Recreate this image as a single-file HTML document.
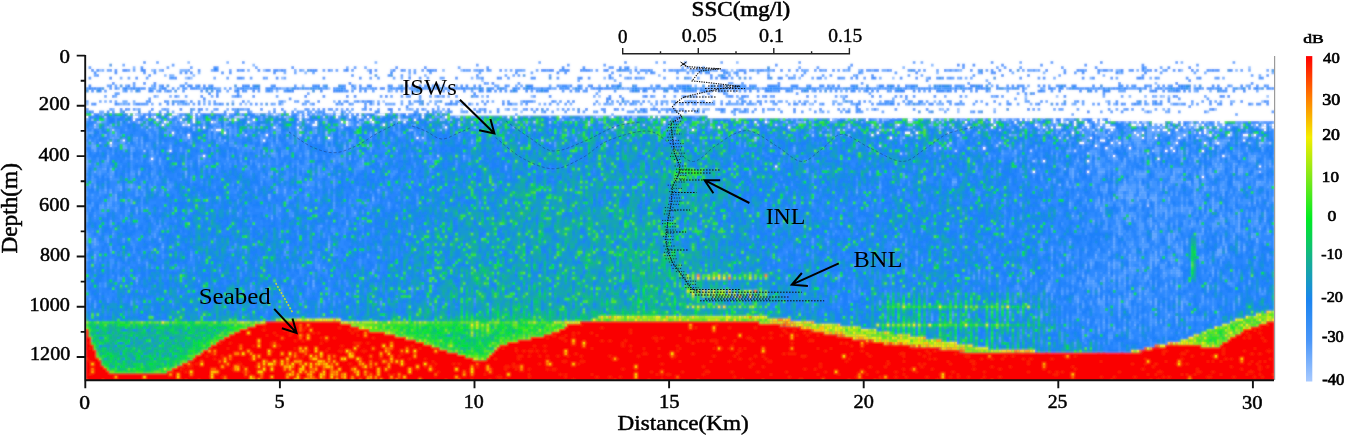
<!DOCTYPE html><html><head><meta charset="utf-8"><style>html,body{margin:0;padding:0;background:#fff;overflow:hidden}svg{display:block}</style></head><body><svg width="1346" height="436" viewBox="0 0 1346 436"><defs><clipPath id="pc"><rect x="86" y="56" width="1188" height="324"/></clipPath><linearGradient id="cb" x1="0" y1="0" x2="0" y2="1"><stop offset="0" stop-color="#ff0000"/><stop offset="0.125" stop-color="#ff7a00"/><stop offset="0.25" stop-color="#f4ee00"/><stop offset="0.375" stop-color="#7ee81a"/><stop offset="0.5" stop-color="#00ec22"/><stop offset="0.625" stop-color="#14b090"/><stop offset="0.75" stop-color="#1a84f0"/><stop offset="0.875" stop-color="#4a96f8"/><stop offset="1" stop-color="#a8caff"/></linearGradient><filter id="gs" x="0" y="0" width="1" height="1"><feOffset dx="0" dy="0"/></filter><filter id="bl" x="0" y="0" width="1" height="1"><feGaussianBlur stdDeviation="0.8" result="b"/><feComposite in="SourceGraphic" in2="b" operator="arithmetic" k1="0" k2="0.45" k3="0.55" k4="0"/></filter></defs><rect width="1346" height="436" fill="#fff"/><g clip-path="url(#pc)"><g filter="url(#bl)"><rect x="86" y="56" width="1188" height="324" fill="#2585fc"/><path d="M86,54V113.20H450.00V115.80H707.40V118.40H1110.40V121.00H1274.20V54Z" fill="#fff"/><path d="M86,382V329.00H88.60V336.80H91.20V344.60H93.80V349.80H96.40V357.60H99.00V360.20H101.60V365.40H104.20V368.00H106.80V370.60H109.40V373.20H166.60V370.60H171.80V368.00H177.00V365.40H182.20V362.80H187.40V360.20H192.60V357.60H195.20V355.00H200.40V352.40H203.00V349.80H208.20V347.20H210.80V344.60H216.00V342.00H218.60V339.40H223.80V336.80H229.00V334.20H234.20V331.60H239.40V329.00H247.20V326.40H255.00V323.80H265.40V321.20H340.80V323.80H351.20V326.40H359.00V329.00H369.40V331.60H385.00V334.20H395.40V336.80H405.80V339.40H416.20V342.00H424.00V344.60H431.80V347.20H439.60V349.80H447.40V352.40H457.80V355.00H465.60V357.60H473.40V360.20H486.40V357.60H489.00V355.00H491.60V352.40H494.20V349.80H496.80V347.20H499.40V344.60H507.20V342.00H517.60V339.40H530.60V336.80H543.60V334.20H551.40V331.60H559.20V329.00H564.40V326.40H567.00V323.80H580.00V321.20H759.40V323.80H780.20V326.40H798.40V329.00H811.40V331.60H824.40V334.20H837.40V336.80H853.00V339.40H866.00V342.00H884.20V344.60H910.20V347.20H936.20V349.80H959.60V352.40H1141.60V349.80H1152.00V347.20H1165.00V344.60H1201.40V347.20H1219.60V344.60H1222.20V342.00H1227.40V339.40H1230.00V336.80H1235.20V334.20H1240.40V331.60H1243.00V329.00H1250.80V326.40H1258.60V323.80H1266.40V321.20H1274.20V382Z" fill="#fa0200"/><g transform="translate(86,56) scale(2.6,2.6)" fill="none" stroke-width="1.04"><g stroke="#ffffff"><path d="M2 22.5h128" stroke-dasharray="1 13 1 1 1 10 1 3 2 6 1 1 1 10 1 17 1 5 1 3 1 1 1 11 2 3 1 1 1 1 1 6 3 8 1 5 1 457"/><path d="M0 23.5h221" stroke-dasharray="1 17 2 3 1 2 1 5 1 4 1 3 1 40 1 1 1 11 1 4 1 3 1 2 1 20 1 8 1 23 1 2 1 16 1 19 1 15 1 1 1 457"/><path d="M18 24.5h376" stroke-dasharray="1 8 1 8 1 4 1 15 1 6 1 17 1 26 1 10 1 5 1 159 1 13 1 15 2 7 1 22 1 10 1 1 1 1 1 8 1 2 1 6 1 4 2 1 1 2 1 457"/><path d="M30 25.5h408" stroke-dasharray="1 10 1 6 1 13 1 25 1 9 1 1 1 9 1 11 1 84 1 14 1 34 1 3 1 76 1 9 1 8 1 14 1 2 1 1 1 2 1 3 1 3 1 1 2 12 1 5 5 3 2 1 1 6 1 5 1 1 2 457"/><path d="M29 26.5h428" stroke-dasharray="1 7 1 1 1 47 2 11 1 13 1 197 1 36 1 15 1 14 1 3 2 4 1 1 2 8 2 1 1 1 1 2 1 1 1 1 1 6 1 3 1 1 1 1 1 4 1 2 1 12 1 2 1 2 1 457"/><path d="M45 27.5h412" stroke-dasharray="1 26 1 8 1 56 1 64 1 39 1 26 1 68 1 8 1 19 1 2 1 1 2 10 1 3 1 2 4 26 1 4 1 4 1 2 1 3 1 12 2 2 1 457"/><path d="M50 28.5h404" stroke-dasharray="2 181 1 160 1 15 1 1 1 1 2 3 1 10 1 22 1 457"/><path d="M33 29.5h398" stroke-dasharray="1 19 1 250 1 10 2 2 1 59 1 23 1 2 1 9 1 11 1 1 1 457"/><path d="M39 30.5h411" stroke-dasharray="1 29 1 232 1 101 1 17 1 9 1 6 1 5 2 2 1 457"/><path d="M93 31.5h328" stroke-dasharray="1 33 1 181 1 76 1 19 1 4 1 8 1 457"/><path d="M14 32.5h432" stroke-dasharray="1 53 1 321 2 53 1 457"/><path d="M9 33.5h427" stroke-dasharray="1 372 2 10 1 2 1 21 1 10 1 4 1 457"/><path d="M388 34.5h1"/><path d="M345 35.5h73" stroke-dasharray="1 46 1 8 1 15 1 457"/><path d="M32 36.5h398" stroke-dasharray="1 382 1 2 1 10 1 457"/><path d="M45 38.5h393" stroke-dasharray="1 349 1 41 1 457"/><path d="M25 39.5h388" stroke-dasharray="1 386 1 457"/><path d="M368 40.5h18" stroke-dasharray="1 16 1 457"/><path d="M265 42.5h187" stroke-dasharray="1 185 1 457"/><path d="M364 44.5h22" stroke-dasharray="1 20 1 457"/><path d="M429 46.5h1"/></g><g stroke="#acccff"><path d="M19 22.5h116" stroke-dasharray="1 1 1 13 1 30 1 2 1 3 1 14 1 5 1 4 1 11 1 8 1 13 1 457"/><path d="M7 23.5h210" stroke-dasharray="1 17 1 31 4 1 1 22 1 5 1 12 1 15 1 22 1 52 1 19 1 457"/><path d="M55 24.5h308" stroke-dasharray="1 51 1 14 2 8 1 94 1 22 1 53 1 26 1 18 1 2 1 8 1 457"/><path d="M20 25.5h411" stroke-dasharray="1 10 1 6 1 10 1 31 1 3 1 86 1 143 2 82 1 1 1 3 2 17 1 4 1 457"/><path d="M3 26.5h450" stroke-dasharray="1 34 1 65 1 38 1 114 1 6 1 36 1 2 1 54 1 43 1 19 1 19 1 7 1 457"/><path d="M43 27.5h402" stroke-dasharray="1 249 1 65 1 6 1 16 1 29 1 3 1 2 1 5 1 3 1 13 1 457"/><path d="M10 28.5h378" stroke-dasharray="1 71 1 206 1 92 1 4 1 457"/><path d="M331 29.5h110" stroke-dasharray="1 56 1 4 1 46 1 457"/><path d="M61 30.5h257" stroke-dasharray="1 20 1 234 1 457"/><path d="M39 31.5h413" stroke-dasharray="1 89 1 127 1 116 1 2 1 49 1 23 1 457"/><path d="M396 32.5h39" stroke-dasharray="1 37 1 457"/><path d="M434 33.5h1"/><path d="M9 34.5h297" stroke-dasharray="1 295 1 457"/><path d="M22 36.5h359" stroke-dasharray="1 311 1 28 1 16 1 457"/><path d="M313 37.5h73" stroke-dasharray="1 71 1 457"/><path d="M451 44.5h1"/><path d="M408 57.5h1"/></g><g stroke="#93c0ff"><path d="M211 4.5h237" stroke-dasharray="1 23 1 211 1 457"/><path d="M5 5.5h417" stroke-dasharray="1 19 1 42 1 39 1 35 1 101 1 1 1 8 1 135 1 27 1 457"/><path d="M262 6.5h1"/><path d="M124 7.5h1"/><path d="M38 8.5h273" stroke-dasharray="1 1 1 34 1 234 1 457"/><path d="M152 9.5h1"/><path d="M286 11.5h19" stroke-dasharray="1 17 1 457"/><path d="M44 12.5h371" stroke-dasharray="1 12 1 35 1 147 1 17 1 23 1 130 1 457"/><path d="M17 13.5h230" stroke-dasharray="1 99 1 128 1 457"/><path d="M27 15.5h428" stroke-dasharray="1 108 1 34 1 25 1 35 1 3 1 53 1 69 1 11 1 40 1 1 1 37 1 457"/><path d="M38 17.5h415" stroke-dasharray="1 17 1 19 1 28 1 8 1 157 1 119 1 59 1 457"/><path d="M36 18.5h382" stroke-dasharray="1 24 1 13 1 34 1 37 1 48 1 39 1 40 1 38 1 99 1 457"/><path d="M218 19.5h1"/><path d="M19 20.5h416" stroke-dasharray="1 124 1 16 1 2 1 72 3 60 1 3 1 24 1 5 1 13 1 84 1 457"/><path d="M138 21.5h294" stroke-dasharray="1 28 1 114 1 52 1 71 1 23 1 457"/><path d="M6 22.5h88" stroke-dasharray="1 58 1 5 1 14 1 3 1 2 1 457"/><path d="M53 23.5h159" stroke-dasharray="2 21 1 4 1 60 1 35 1 12 1 5 1 8 1 3 2 457"/><path d="M2 24.5h355" stroke-dasharray="1 101 1 31 1 87 1 36 1 25 1 8 1 9 1 21 1 5 1 6 1 3 1 6 1 3 1 457"/><path d="M4 25.5h373" stroke-dasharray="2 103 1 7 1 30 1 29 1 14 1 82 1 99 1 457"/><path d="M193 26.5h263" stroke-dasharray="1 20 1 78 1 17 1 20 1 4 1 28 1 6 1 68 1 5 1 6 1 457"/><path d="M3 27.5h422" stroke-dasharray="1 20 1 16 1 56 1 141 1 61 1 25 1 4 1 90 1 457"/><path d="M48 28.5h322" stroke-dasharray="1 202 1 39 1 3 1 9 1 3 1 41 1 17 1 457"/><path d="M92 29.5h335" stroke-dasharray="1 290 1 42 1 457"/><path d="M279 30.5h162" stroke-dasharray="1 55 1 95 1 8 1 457"/><path d="M175 32.5h83" stroke-dasharray="1 81 1 457"/><path d="M332 33.5h124" stroke-dasharray="1 18 1 95 1 3 2 2 1 457"/><path d="M331 34.5h20" stroke-dasharray="1 18 1 457"/><path d="M328 35.5h106" stroke-dasharray="1 104 1 457"/><path d="M410 36.5h1"/><path d="M408 37.5h1"/><path d="M135 38.5h1"/><path d="M364 40.5h1"/></g><g stroke="#7ab4ff"><path d="M39 2.5h212" stroke-dasharray="1 210 1 457"/><path d="M64 3.5h262" stroke-dasharray="1 260 1 457"/><path d="M18 4.5h297" stroke-dasharray="1 295 1 457"/><path d="M28 5.5h415" stroke-dasharray="1 7 3 44 1 33 1 19 1 71 1 22 1 7 1 9 1 12 1 28 1 4 1 35 1 2 1 28 1 24 1 5 1 10 1 34 1 457"/><path d="M43 6.5h355" stroke-dasharray="1 40 1 162 1 79 1 40 1 28 1 457"/><path d="M30 7.5h240" stroke-dasharray="1 2 1 7 1 178 1 48 1 457"/><path d="M148 8.5h239" stroke-dasharray="1 1 2 47 1 74 1 9 1 38 1 62 1 457"/><path d="M411 10.5h1"/><path d="M25 11.5h402" stroke-dasharray="1 57 1 19 1 16 1 13 1 99 1 89 1 101 1 457"/><path d="M75 12.5h369" stroke-dasharray="2 1 1 23 1 5 1 28 1 69 1 111 1 41 1 6 1 40 1 33 1 457"/><path d="M73 13.5h360" stroke-dasharray="1 52 1 152 1 67 1 78 1 5 1 457"/><path d="M125 14.5h1"/><path d="M35 15.5h379" stroke-dasharray="1 23 1 92 1 137 1 110 1 5 1 5 1 457"/><path d="M361 16.5h1"/><path d="M62 17.5h380" stroke-dasharray="1 32 1 14 1 23 1 32 1 39 1 22 1 57 1 2 1 34 1 114 1 457"/><path d="M0 18.5h421" stroke-dasharray="1 12 1 1 1 2 1 67 1 10 1 27 1 18 1 19 1 9 1 25 1 1 1 20 1 27 1 5 1 21 1 10 1 30 1 5 2 50 1 15 1 12 1 11 1 457"/><path d="M10 20.5h405" stroke-dasharray="1 50 1 18 1 42 1 1 1 4 1 34 1 15 1 69 1 26 1 23 1 25 1 85 1 457"/><path d="M95 21.5h315" stroke-dasharray="1 39 1 77 1 13 1 57 1 123 1 457"/><path d="M20 22.5h117" stroke-dasharray="1 38 1 14 1 61 1 457"/><path d="M20 23.5h206" stroke-dasharray="1 14 1 38 1 2 1 92 1 27 1 2 1 6 1 16 1 457"/><path d="M77 24.5h260" stroke-dasharray="1 40 1 2 1 15 1 2 1 10 1 31 1 3 1 22 1 6 1 22 1 26 1 24 1 14 1 28 1 457"/><path d="M16 25.5h436" stroke-dasharray="1 54 1 2 1 17 1 8 1 3 1 37 1 21 1 71 1 2 1 21 1 6 1 3 2 52 1 1 1 43 1 23 1 53 1 457"/><path d="M101 26.5h341" stroke-dasharray="1 3 1 31 1 92 1 22 1 64 1 9 1 29 1 57 1 9 1 1 1 12 1 457"/><path d="M8 27.5h444" stroke-dasharray="1 45 1 94 1 14 1 146 1 4 1 12 1 58 1 27 1 34 1 457"/><path d="M41 28.5h341" stroke-dasharray="1 82 2 10 1 35 1 29 1 115 1 9 1 5 1 21 1 24 1 457"/><path d="M111 29.5h323" stroke-dasharray="1 170 1 83 1 9 1 56 1 457"/><path d="M7 30.5h442" stroke-dasharray="1 25 1 58 1 191 1 1 1 6 1 61 1 23 1 12 1 41 1 13 1 457"/><path d="M226 31.5h168" stroke-dasharray="1 4 1 82 1 78 1 457"/><path d="M53 32.5h387" stroke-dasharray="1 385 1 457"/><path d="M5 33.5h1"/><path d="M451 34.5h1"/><path d="M376 43.5h1"/><path d="M374 49.5h1"/></g><g stroke="#66a9ff"><path d="M54 2.5h368" stroke-dasharray="1 56 1 309 1 457"/><path d="M100 4.5h130" stroke-dasharray="1 128 1 457"/><path d="M6 5.5h442" stroke-dasharray="1 41 1 13 1 11 1 5 1 13 1 54 1 11 1 6 1 25 1 35 1 3 1 26 1 14 2 5 1 18 1 3 2 23 1 3 1 27 1 33 1 6 1 9 1 32 1 457"/><path d="M76 6.5h381" stroke-dasharray="1 47 1 84 1 5 1 42 1 39 1 44 1 12 1 73 1 25 1 457"/><path d="M32 7.5h420" stroke-dasharray="1 97 1 141 1 118 1 59 1 457"/><path d="M13 8.5h425" stroke-dasharray="1 107 1 80 1 4 1 4 1 1 1 17 1 72 1 29 1 2 1 33 1 36 1 27 1 457"/><path d="M203 9.5h144" stroke-dasharray="1 142 1 457"/><path d="M15 11.5h432" stroke-dasharray="1 126 1 15 1 6 1 19 1 11 1 26 1 123 1 13 1 77 1 5 1 457"/><path d="M12 12.5h440" stroke-dasharray="1 3 1 33 2 20 1 66 1 10 1 10 1 17 1 7 1 17 1 3 1 3 1 58 1 9 1 7 1 6 1 1 1 10 1 5 1 8 1 7 1 1 1 17 1 23 1 12 1 15 1 44 1 457"/><path d="M14 13.5h437" stroke-dasharray="1 12 1 2 1 178 1 19 1 60 1 6 1 32 1 23 1 42 3 50 1 457"/><path d="M246 14.5h1"/><path d="M11 15.5h401" stroke-dasharray="1 20 1 23 1 77 1 4 1 9 1 45 1 22 1 27 1 33 1 57 1 10 1 41 1 19 1 457"/><path d="M128 16.5h183" stroke-dasharray="1 122 2 57 1 457"/><path d="M7 17.5h434" stroke-dasharray="1 6 2 2 1 26 1 1 1 64 1 8 1 10 1 2 1 20 1 15 1 43 1 5 1 2 1 7 1 2 1 32 1 6 2 9 1 5 1 11 1 130 1 3 1 457"/><path d="M14 18.5h435" stroke-dasharray="1 10 1 9 1 3 1 5 1 4 1 21 1 11 1 31 2 16 1 30 1 1 1 18 1 14 1 9 1 5 1 15 1 6 1 7 3 13 1 10 1 18 2 19 1 6 1 13 1 26 1 11 1 4 1 44 1 22 1 457"/><path d="M135 19.5h1"/><path d="M29 20.5h265" stroke-dasharray="1 1 1 14 1 7 1 43 1 25 1 12 1 14 1 34 1 27 1 6 1 2 1 28 1 8 1 2 1 26 1 457"/><path d="M5 21.5h411" stroke-dasharray="2 26 1 14 1 14 1 6 1 28 1 1 1 42 1 30 1 50 1 18 1 3 1 4 1 5 1 88 1 65 1 457"/><path d="M5 22.5h198" stroke-dasharray="1 17 1 1 1 14 1 40 1 7 1 2 1 14 1 94 1 457"/><path d="M33 23.5h203" stroke-dasharray="1 9 1 23 1 1 1 36 1 6 1 13 1 9 1 26 1 69 2 457"/><path d="M0 24.5h392" stroke-dasharray="1 6 1 20 1 6 1 14 1 16 1 32 1 170 1 1 1 14 1 19 1 28 1 16 1 2 1 7 1 1 1 8 1 1 2 3 1 7 1 457"/><path d="M13 25.5h440" stroke-dasharray="1 9 1 3 1 6 1 1 2 7 1 4 1 2 2 8 1 133 1 77 1 22 1 5 1 1 1 18 1 14 1 24 1 23 1 9 1 3 1 13 1 6 1 6 1 3 1 6 1 1 1 7 1 457"/><path d="M9 26.5h441" stroke-dasharray="1 13 1 21 1 7 1 10 1 2 1 5 1 23 1 4 1 7 1 15 1 31 1 50 1 12 1 47 1 1 1 6 1 44 2 29 1 30 1 1 2 9 1 8 1 2 1 11 1 7 1 3 2 12 1 457"/><path d="M4 27.5h446" stroke-dasharray="1 4 1 11 1 4 1 22 1 3 1 8 1 1 1 8 1 9 1 53 1 73 1 17 1 22 1 64 1 4 1 38 1 7 1 38 4 2 1 22 1 11 1 457"/><path d="M23 28.5h424" stroke-dasharray="1 25 1 3 1 1 1 17 2 6 1 6 1 166 1 23 1 5 1 53 1 3 1 2 1 20 1 11 1 6 1 2 1 1 1 3 1 12 2 1 1 13 1 5 1 2 2 10 1 457"/><path d="M1 29.5h431" stroke-dasharray="2 8 1 37 1 5 1 4 1 5 1 14 1 6 1 37 1 246 1 1 1 10 1 2 1 1 1 12 2 2 2 1 2 6 2 2 1 7 1 457"/><path d="M11 30.5h413" stroke-dasharray="1 69 1 27 1 16 1 116 1 113 1 17 1 15 1 10 2 1 1 2 2 1 1 8 2 1 1 457"/><path d="M10 31.5h444" stroke-dasharray="1 8 1 31 1 15 1 9 1 3 1 4 1 2 1 4 1 113 1 110 1 65 1 13 1 2 4 2 2 9 1 1 1 1 1 21 1 7 1 457"/><path d="M1 32.5h453" stroke-dasharray="1 11 1 7 1 29 1 15 1 5 1 15 1 58 1 39 1 37 1 86 1 69 2 3 1 6 1 3 2 2 3 2 1 1 1 6 1 1 1 3 1 13 2 14 1 457"/><path d="M2 33.5h436" stroke-dasharray="1 18 1 5 1 120 1 17 1 11 1 206 1 2 1 6 1 3 2 3 2 3 1 8 1 12 1 1 1 2 2 457"/><path d="M2 34.5h435" stroke-dasharray="2 10 1 8 1 8 1 24 1 13 1 27 1 1 1 6 1 91 1 62 1 95 1 29 1 5 1 1 1 6 1 13 1 12 1 4 1 457"/><path d="M2 35.5h451" stroke-dasharray="2 10 2 1 1 14 1 66 1 172 1 53 1 84 2 23 1 9 1 5 1 457"/><path d="M3 36.5h421" stroke-dasharray="1 13 1 7 1 246 1 53 1 30 1 19 2 15 1 9 1 6 2 8 1 1 1 457"/><path d="M25 37.5h419" stroke-dasharray="1 42 1 2 2 12 1 229 1 36 1 4 1 28 1 1 1 12 1 1 2 7 1 8 1 1 1 4 1 14 1 457"/><path d="M8 38.5h442" stroke-dasharray="1 8 1 127 1 242 1 4 1 7 1 2 1 23 1 10 1 3 1 5 1 457"/><path d="M8 39.5h442" stroke-dasharray="1 8 1 83 1 293 2 2 1 21 1 4 2 7 1 12 2 457"/><path d="M0 40.5h450" stroke-dasharray="1 7 1 19 1 14 1 51 1 10 1 250 1 23 1 6 1 10 1 21 1 4 1 22 1 457"/><path d="M0 41.5h456" stroke-dasharray="1 387 2 9 1 9 1 17 1 6 1 1 1 4 1 13 1 457"/><path d="M0 42.5h456" stroke-dasharray="1 65 1 94 1 227 1 8 1 30 1 4 1 1 1 4 1 11 1 1 1 457"/><path d="M7 43.5h438" stroke-dasharray="1 1 1 369 1 49 1 2 1 2 2 4 1 1 2 457"/><path d="M3 44.5h442" stroke-dasharray="1 6 1 9 1 17 1 340 1 9 3 5 1 5 1 3 1 10 1 1 1 8 1 2 1 2 1 5 1 1 2 457"/><path d="M20 45.5h424" stroke-dasharray="1 17 1 340 1 17 1 5 1 1 3 10 1 10 1 2 2 9 1 457"/><path d="M9 46.5h425" stroke-dasharray="1 369 1 37 2 7 1 6 1 457"/><path d="M372 47.5h58" stroke-dasharray="1 44 2 2 1 4 2 1 1 457"/><path d="M333 48.5h119" stroke-dasharray="2 42 1 21 1 5 1 11 1 5 2 1 2 13 1 8 2 457"/><path d="M17 49.5h434" stroke-dasharray="1 67 1 291 1 14 1 6 1 5 1 7 1 10 1 2 1 15 1 6 1 457"/><path d="M3 50.5h441" stroke-dasharray="1 9 1 3 1 374 1 5 2 5 2 6 1 1 1 11 1 2 1 2 1 9 1 457"/><path d="M7 51.5h437" stroke-dasharray="1 5 1 12 1 46 1 2 1 35 1 279 1 4 3 1 1 4 1 8 1 14 1 2 1 3 1 5 1 457"/><path d="M9 52.5h429" stroke-dasharray="1 63 1 2 1 219 1 100 1 3 2 2 3 18 1 10 1 457"/><path d="M11 53.5h427" stroke-dasharray="1 58 1 310 1 15 2 2 2 2 1 1 1 3 1 14 1 10 1 457"/><path d="M11 54.5h406" stroke-dasharray="1 58 1 39 1 284 1 2 1 1 3 1 1 2 1 1 3 4 1 457"/><path d="M11 55.5h423" stroke-dasharray="1 98 1 278 1 1 1 3 1 5 1 2 1 3 1 1 2 4 1 16 1 457"/><path d="M378 56.5h72" stroke-dasharray="1 10 1 11 2 5 1 2 1 15 1 5 1 13 1 1 1 457"/><path d="M6 57.5h430" stroke-dasharray="1 1 1 369 1 9 1 16 1 5 1 1 1 7 1 5 1 1 1 3 1 1 1 457"/><path d="M390 58.5h44" stroke-dasharray="1 7 1 12 1 1 1 7 1 7 1 3 1 457"/><path d="M19 59.5h415" stroke-dasharray="1 370 1 7 1 12 1 3 1 1 1 3 1 2 1 8 1 457"/><path d="M103 60.5h351" stroke-dasharray="1 307 1 3 1 1 1 6 1 18 1 9 1 457"/><path d="M379 61.5h75" stroke-dasharray="1 11 1 9 1 9 1 3 1 20 1 6 1 9 1 457"/><path d="M71 62.5h383" stroke-dasharray="1 324 1 4 1 1 1 5 1 5 1 20 2 5 1 9 1 457"/><path d="M387 63.5h67" stroke-dasharray="1 12 2 7 1 27 1 5 1 6 1 2 1 457"/><path d="M100 64.5h344" stroke-dasharray="1 308 1 3 1 11 1 11 1 5 1 457"/><path d="M397 65.5h47" stroke-dasharray="1 11 1 1 1 31 1 457"/><path d="M397 66.5h55" stroke-dasharray="1 13 1 17 1 13 1 7 1 457"/><path d="M397 67.5h58" stroke-dasharray="1 12 1 18 1 13 1 10 1 457"/><path d="M0 68.5h419" stroke-dasharray="1 396 1 12 2 4 1 1 1 457"/><path d="M0 69.5h449" stroke-dasharray="1 409 2 4 1 1 1 22 1 6 1 457"/><path d="M3 70.5h448" stroke-dasharray="1 24 1 366 1 10 1 3 1 5 1 20 1 12 1 457"/><path d="M3 71.5h448" stroke-dasharray="1 374 1 16 1 10 1 9 1 6 1 13 1 12 1 457"/><path d="M3 72.5h435" stroke-dasharray="1 89 1 301 1 6 1 13 1 2 1 8 1 8 1 457"/><path d="M29 73.5h417" stroke-dasharray="1 63 1 301 1 23 1 18 1 4 1 1 1 457"/><path d="M0 74.5h446" stroke-dasharray="1 370 1 34 1 14 1 13 2 1 1 6 1 457"/><path d="M393 75.5h46" stroke-dasharray="1 5 1 11 1 1 1 7 1 13 2 1 1 457"/><path d="M3 76.5h433" stroke-dasharray="1 384 1 12 1 9 1 23 1 457"/><path d="M3 77.5h427" stroke-dasharray="1 373 1 10 1 12 1 1 1 5 1 1 1 5 1 11 1 457"/><path d="M377 78.5h41" stroke-dasharray="1 23 1 1 1 5 1 1 2 4 1 457"/><path d="M386 79.5h35" stroke-dasharray="1 6 1 1 1 13 1 1 1 8 1 457"/><path d="M384 80.5h26" stroke-dasharray="1 1 1 6 1 1 1 1 1 11 1 457"/><path d="M371 81.5h48" stroke-dasharray="1 23 1 5 1 4 1 2 1 8 1 457"/><path d="M343 82.5h91" stroke-dasharray="1 55 1 2 1 14 1 1 2 12 1 457"/><path d="M393 83.5h41" stroke-dasharray="1 5 1 14 1 2 1 1 2 12 1 457"/><path d="M363 84.5h58" stroke-dasharray="1 19 1 11 1 12 1 11 1 457"/><path d="M269 85.5h139" stroke-dasharray="1 115 1 5 1 3 1 1 1 9 1 457"/><path d="M19 86.5h379" stroke-dasharray="1 67 1 297 1 1 1 3 1 5 1 457"/><path d="M87 87.5h361" stroke-dasharray="1 282 1 11 1 2 1 1 1 11 1 17 1 29 1 457"/><path d="M87 88.5h345" stroke-dasharray="1 282 1 44 1 3 1 11 1 457"/><path d="M369 89.5h63" stroke-dasharray="1 19 1 15 1 13 1 11 1 457"/><path d="M369 90.5h37" stroke-dasharray="1 19 1 15 1 457"/><path d="M401 91.5h7" stroke-dasharray="1 5 1 457"/><path d="M69 92.5h361" stroke-dasharray="1 321 1 9 1 27 1 457"/><path d="M381 93.5h63" stroke-dasharray="1 7 1 1 1 5 1 3 1 3 1 5 1 7 1 23 1 457"/><path d="M67 94.5h355" stroke-dasharray="1 313 1 7 1 7 1 2 1 8 1 1 1 7 1 1 1 457"/><path d="M397 95.5h25" stroke-dasharray="1 2 1 10 1 9 1 457"/><path d="M397 96.5h25" stroke-dasharray="1 23 1 457"/><path d="M397 97.5h25" stroke-dasharray="1 23 1 457"/><path d="M411 98.5h1"/><path d="M367 99.5h50" stroke-dasharray="1 29 1 18 1 457"/><path d="M367 100.5h53" stroke-dasharray="1 51 1 457"/><path d="M419 101.5h1"/><path d="M385 102.5h35" stroke-dasharray="1 5 1 19 1 1 1 5 1 457"/><path d="M403 103.5h1"/><path d="M395 104.5h5" stroke-dasharray="1 3 1 457"/><path d="M383 105.5h7" stroke-dasharray="1 5 1 457"/></g><g stroke="#529eff"><path d="M174 2.5h186" stroke-dasharray="1 44 1 101 1 37 1 457"/><path d="M14 3.5h1"/><path d="M31 4.5h383" stroke-dasharray="1 33 1 41 1 35 1 93 1 36 1 75 1 56 1 5 1 457"/><path d="M8 5.5h447" stroke-dasharray="1 7 1 1 1 7 1 12 1 15 1 3 1 64 1 1 1 19 1 3 1 4 1 7 1 1 3 5 1 34 1 6 1 1 1 8 1 1 2 11 1 11 1 21 1 15 1 1 1 33 1 32 1 5 1 17 1 69 1 457"/><path d="M80 6.5h347" stroke-dasharray="1 6 1 63 1 19 1 61 1 15 1 148 1 27 1 457"/><path d="M3 7.5h372" stroke-dasharray="1 160 1 40 1 37 1 1 1 4 1 44 1 25 1 52 1 457"/><path d="M16 8.5h419" stroke-dasharray="1 32 1 10 1 8 1 6 1 41 1 17 2 71 1 25 1 36 1 6 1 10 2 39 1 1 1 6 1 55 1 15 1 21 1 457"/><path d="M189 9.5h1"/><path d="M38 10.5h310" stroke-dasharray="1 115 1 50 1 42 1 98 1 457"/><path d="M8 11.5h447" stroke-dasharray="1 2 1 6 1 9 1 128 1 4 1 4 1 10 1 3 1 7 1 12 1 13 1 34 1 63 1 20 1 32 1 29 1 7 1 3 1 3 1 30 1 6 1 457"/><path d="M25 12.5h410" stroke-dasharray="2 1 1 6 1 7 1 9 1 7 2 19 1 8 1 14 1 2 1 6 1 8 1 6 2 39 2 1 1 3 1 13 1 8 1 4 1 9 1 1 1 6 1 7 1 1 3 6 1 11 1 16 2 7 1 2 1 6 1 7 1 1 1 1 1 1 1 5 1 14 1 25 1 11 1 18 1 1 1 3 1 5 1 2 3 30 1 457"/><path d="M54 13.5h383" stroke-dasharray="1 16 1 27 1 10 1 5 1 2 1 28 1 39 1 8 1 46 2 18 2 5 1 20 1 6 1 9 1 12 1 94 1 9 1 8 1 457"/><path d="M11 14.5h348" stroke-dasharray="2 72 1 110 1 104 1 56 1 457"/><path d="M7 15.5h424" stroke-dasharray="1 18 1 11 1 9 1 24 1 43 1 111 1 10 1 9 1 3 1 8 1 66 1 17 1 49 1 11 1 19 1 457"/><path d="M291 16.5h67" stroke-dasharray="1 23 1 41 1 457"/><path d="M0 17.5h435" stroke-dasharray="1 4 1 5 1 22 2 38 1 5 1 3 1 14 1 3 1 3 1 18 1 53 1 27 1 2 1 7 1 1 1 1 1 7 1 9 1 2 1 5 1 12 1 2 2 33 1 7 1 34 1 9 1 6 1 7 1 10 1 12 1 40 1 457"/><path d="M23 18.5h399" stroke-dasharray="1 13 1 9 1 11 1 7 1 3 1 30 1 12 1 2 1 2 1 2 1 3 1 2 1 9 1 34 1 4 1 17 1 7 1 2 1 2 1 14 1 7 1 2 1 7 1 7 2 25 1 4 1 1 1 18 1 10 1 9 1 28 1 6 1 17 1 21 1 6 1 8 1 457"/><path d="M9 20.5h408" stroke-dasharray="1 10 1 20 1 7 1 7 1 1 2 11 1 12 1 3 1 12 1 3 1 5 1 22 1 32 1 42 1 9 1 1 1 9 1 8 1 7 1 11 1 28 1 39 1 34 1 5 1 1 2 5 1 14 1 2 1 6 1 4 1 4 1 457"/><path d="M13 21.5h404" stroke-dasharray="1 29 1 38 2 2 1 1 1 47 1 8 1 9 1 23 1 15 1 12 2 41 1 31 1 6 1 6 2 7 1 17 1 5 1 9 1 49 1 25 1 457"/><path d="M26 22.5h354" stroke-dasharray="1 10 1 14 1 2 2 13 1 16 1 12 1 1 1 14 1 6 2 1 1 37 1 83 1 129 1 457"/><path d="M15 23.5h181" stroke-dasharray="1 15 1 4 1 1 1 11 1 21 1 5 1 4 1 13 1 2 1 25 1 7 2 24 1 23 1 5 1 4 1 457"/><path d="M22 24.5h319" stroke-dasharray="1 9 1 11 1 17 1 21 1 6 2 4 1 21 1 62 1 8 1 28 1 12 1 4 1 39 2 23 1 14 1 7 1 2 1 10 1 457"/><path d="M6 25.5h451" stroke-dasharray="2 11 1 1 1 7 1 14 1 19 1 17 1 1 1 12 1 4 1 3 1 12 1 19 1 19 1 38 1 18 1 69 2 57 1 2 1 4 1 16 1 36 1 18 1 15 1 10 1 1 1 457"/><path d="M4 26.5h440" stroke-dasharray="1 6 1 1 1 8 1 7 1 3 1 15 2 9 1 6 1 13 1 15 1 14 1 6 1 31 1 16 1 54 1 118 1 26 2 19 1 40 1 7 1 2 1 457"/><path d="M7 27.5h449" stroke-dasharray="1 24 1 6 1 11 1 3 1 1 1 8 1 7 1 12 1 9 1 20 1 1 1 97 1 2 1 17 1 114 1 12 1 7 1 2 1 5 1 1 1 4 1 8 1 4 1 17 1 1 1 10 1 18 1 457"/><path d="M2 28.5h454" stroke-dasharray="1 6 1 5 1 10 2 3 2 14 1 9 1 29 1 30 1 19 1 92 1 30 1 110 2 10 1 13 1 1 1 2 2 16 2 8 1 4 1 17 1 457"/><path d="M0 29.5h447" stroke-dasharray="1 8 1 14 1 2 1 2 2 4 1 10 1 9 1 15 2 2 1 7 1 1 1 9 1 11 1 10 1 9 1 31 1 37 1 77 1 22 1 40 1 17 1 6 2 2 1 18 1 3 1 1 1 5 1 7 1 10 2 2 1 20 1 457"/><path d="M0 30.5h429" stroke-dasharray="1 8 1 14 1 12 1 9 1 1 1 5 1 1 1 9 1 5 1 20 1 5 1 2 1 16 1 9 1 210 1 14 1 27 1 4 2 5 1 22 1 8 1 457"/><path d="M9 31.5h441" stroke-dasharray="1 1 2 5 1 2 1 15 2 8 1 1 1 23 1 10 1 15 1 8 1 7 1 12 1 12 1 169 1 17 1 4 1 16 1 30 1 5 2 3 1 17 1 14 2 16 1 2 1 457"/><path d="M8 32.5h429" stroke-dasharray="1 1 1 7 2 7 1 10 1 1 1 38 1 13 2 2 1 4 1 25 1 1 1 205 1 60 1 4 1 6 1 19 1 3 1 1 2 457"/><path d="M13 33.5h442" stroke-dasharray="2 1 1 2 1 9 1 10 1 9 1 1 1 2 2 10 1 3 1 1 1 5 1 12 1 8 2 77 1 52 1 54 1 24 1 64 1 5 1 4 1 6 1 4 1 1 1 4 1 8 1 11 1 8 1 4 1 9 2 457"/><path d="M10 34.5h428" stroke-dasharray="2 3 1 5 1 59 1 10 1 87 1 72 1 111 1 17 1 12 1 2 1 1 1 3 3 1 1 1 1 17 1 3 1 3 1 457"/><path d="M18 35.5h406" stroke-dasharray="1 2 1 14 1 7 1 13 1 4 1 16 1 12 1 1 1 5 1 7 1 17 1 227 1 3 1 5 1 12 1 4 1 5 1 3 1 10 1 1 1 8 1 2 1 4 1 457"/><path d="M31 36.5h422" stroke-dasharray="1 4 1 31 1 3 1 4 1 7 1 7 1 1 1 3 1 4 1 4 1 9 1 117 1 114 1 33 3 3 2 7 1 4 1 10 1 2 1 14 1 5 1 1 1 2 1 5 1 457"/><path d="M0 37.5h448" stroke-dasharray="1 9 1 6 1 9 1 10 1 36 1 1 1 6 1 14 1 4 1 162 1 103 1 1 1 3 1 9 1 5 2 7 1 3 1 4 1 5 1 2 1 17 1 5 1 2 1 457"/><path d="M25 38.5h424" stroke-dasharray="1 17 2 14 1 6 1 5 1 2 1 6 1 2 1 2 1 10 1 1 1 23 1 221 1 25 1 12 1 2 1 12 1 4 1 4 1 8 1 3 2 4 1 3 1 2 1 8 2 457"/><path d="M0 39.5h454" stroke-dasharray="1 27 1 14 1 1 1 8 1 40 1 1 1 8 1 25 1 12 1 102 1 98 1 9 1 1 1 21 1 4 1 1 1 13 1 4 1 23 1 7 1 3 1 3 1 5 1 457"/><path d="M7 40.5h449" stroke-dasharray="1 16 2 33 1 3 1 33 1 254 1 12 1 23 1 5 1 13 1 23 1 1 1 11 2 4 1 1 1 457"/><path d="M1 41.5h453" stroke-dasharray="1 5 1 17 1 2 1 11 1 2 1 22 1 1 1 1 1 10 1 3 1 20 1 6 1 28 1 237 1 4 1 12 1 13 1 20 1 8 1 10 1 457"/><path d="M7 42.5h438" stroke-dasharray="1 30 1 37 1 12 1 15 2 235 1 19 1 12 1 10 1 1 1 4 1 3 1 1 1 7 1 1 1 2 1 22 1 1 1 6 1 457"/><path d="M0 43.5h454" stroke-dasharray="1 5 1 76 1 5 1 4 1 37 1 28 1 103 1 11 1 64 1 8 1 26 1 7 1 2 3 1 1 1 1 1 1 17 1 2 4 2 1 12 1 15 1 457"/><path d="M5 44.5h446" stroke-dasharray="1 3 1 7 1 53 1 17 1 165 1 21 1 23 1 76 1 26 1 5 1 1 1 1 1 3 1 1 1 1 1 4 1 2 1 14 1 2 2 457"/><path d="M5 45.5h445" stroke-dasharray="1 3 2 6 2 6 1 44 2 1 1 13 1 1 1 1 1 5 1 157 1 45 1 12 1 63 1 2 1 3 1 3 2 13 1 7 3 11 1 1 1 15 1 4 1 457"/><path d="M2 46.5h452" stroke-dasharray="1 24 1 10 1 29 1 24 1 220 1 45 1 6 1 21 1 5 1 6 1 1 4 4 1 8 1 26 1 4 1 457"/><path d="M2 47.5h452" stroke-dasharray="1 6 1 17 1 54 1 12 1 237 2 32 1 11 1 7 1 1 1 5 1 3 1 1 2 2 1 14 1 9 1 7 1 2 1 4 1 6 1 457"/><path d="M2 48.5h454" stroke-dasharray="1 28 1 35 1 17 1 9 1 276 1 36 1 3 1 4 4 7 2 6 1 4 2 2 1 5 2 1 1 457"/><path d="M1 49.5h455" stroke-dasharray="1 1 1 8 1 19 1 56 1 5 1 209 1 27 1 53 1 7 1 4 1 1 2 5 1 6 1 3 1 5 1 9 2 3 2 1 1 6 2 2 1 457"/><path d="M7 50.5h448" stroke-dasharray="1 4 1 3 1 8 1 6 1 40 1 231 1 63 1 8 1 1 1 6 1 2 1 4 1 1 1 2 4 16 1 5 1 4 1 4 1 13 1 3 1 457"/><path d="M9 51.5h428" stroke-dasharray="1 9 1 1 1 9 1 33 1 38 1 191 1 93 2 8 1 1 2 1 1 7 1 12 1 9 1 457"/><path d="M5 52.5h436" stroke-dasharray="1 1 1 11 1 2 1 6 1 82 1 2 1 196 1 78 2 5 1 4 1 7 1 5 1 1 1 9 1 10 1 457"/><path d="M2 53.5h452" stroke-dasharray="1 16 1 2 1 61 1 311 1 3 1 5 1 2 2 6 1 1 1 8 1 24 1 457"/><path d="M9 54.5h448" stroke-dasharray="1 117 1 261 1 7 1 7 2 7 1 6 1 4 1 1 1 4 1 7 1 7 1 1 1 1 1 2 1 457"/><path d="M9 55.5h448" stroke-dasharray="1 7 1 59 1 306 1 15 1 20 1 1 1 2 2 13 1 1 1 5 1 1 1 4 1 457"/><path d="M2 56.5h453" stroke-dasharray="1 5 2 5 1 1 1 77 1 11 1 8 1 242 1 28 1 2 1 1 1 3 1 7 1 10 1 9 1 2 1 5 1 18 1 457"/><path d="M2 57.5h453" stroke-dasharray="1 2 1 3 1 85 1 20 1 242 1 7 2 16 1 3 1 1 1 5 2 2 1 15 1 5 1 10 1 2 1 3 1 5 1 6 1 457"/><path d="M1 58.5h441" stroke-dasharray="1 3 2 1 1 2 1 7 1 1 1 1 1 71 1 282 1 9 1 2 1 13 1 8 2 1 1 1 1 2 4 8 2 1 1 3 1 457"/><path d="M11 59.5h443" stroke-dasharray="1 4 1 38 1 18 1 316 1 20 3 4 1 2 1 6 1 1 1 10 1 7 1 2 1 457"/><path d="M19 60.5h432" stroke-dasharray="1 38 1 332 1 6 2 1 2 6 1 3 1 13 1 3 1 4 1 2 1 6 1 1 1 1 1 457"/><path d="M0 61.5h451" stroke-dasharray="1 2 1 67 1 7 1 301 1 14 1 1 2 2 2 13 1 12 1 8 1 1 1 4 1 1 1 1 1 457"/><path d="M0 62.5h451" stroke-dasharray="1 358 1 21 1 9 2 7 1 4 1 24 1 9 2 8 1 457"/><path d="M0 63.5h450" stroke-dasharray="1 8 1 90 1 291 1 3 2 7 1 2 1 10 1 2 1 2 1 2 1 5 3 4 1 7 1 457"/><path d="M9 64.5h442" stroke-dasharray="1 377 1 4 1 3 2 7 2 7 1 2 1 1 1 2 1 3 1 1 1 4 2 6 1 7 2 457"/><path d="M19 65.5h433" stroke-dasharray="1 8 1 61 1 34 1 266 1 12 2 6 2 2 1 6 2 7 3 1 2 9 1 2 1 457"/><path d="M27 66.5h428" stroke-dasharray="1 97 1 245 1 19 2 12 2 26 1 8 1 11 1 457"/><path d="M0 67.5h446" stroke-dasharray="1 320 1 83 1 5 1 7 1 13 1 8 1 2 1 457"/><path d="M10 68.5h445" stroke-dasharray="1 15 1 371 1 6 1 13 1 7 3 11 1 3 1 2 2 4 1 457"/><path d="M26 69.5h424" stroke-dasharray="1 286 1 59 1 21 1 32 1 8 1 11 1 457"/><path d="M0 70.5h442" stroke-dasharray="1 7 1 5 1 264 1 88 1 42 1 6 1 4 1 4 1 6 1 5 1 457"/><path d="M2 71.5h452" stroke-dasharray="1 5 1 84 1 185 1 5 1 116 1 8 1 5 1 3 1 6 1 14 1 9 1 457"/><path d="M4 72.5h442" stroke-dasharray="1 24 1 27 1 309 1 10 1 22 1 3 4 12 1 1 1 14 1 4 1 1 1 457"/><path d="M0 73.5h437" stroke-dasharray="1 8 1 67 1 34 1 254 1 3 1 29 1 4 3 9 1 2 1 14 1 457"/><path d="M9 74.5h441" stroke-dasharray="1 103 1 201 1 68 1 4 1 5 1 3 1 2 2 9 1 5 2 22 1 5 1 457"/><path d="M0 75.5h450" stroke-dasharray="1 75 1 200 1 19 1 21 1 51 1 12 1 17 2 2 1 12 2 28 1 457"/><path d="M40 76.5h415" stroke-dasharray="1 67 1 210 1 57 2 14 1 15 1 3 1 3 1 3 1 7 1 4 1 1 1 17 1 457"/><path d="M15 77.5h440" stroke-dasharray="1 355 1 33 1 4 1 5 1 11 1 8 1 16 1 457"/><path d="M0 78.5h437" stroke-dasharray="1 2 1 16 1 288 1 5 1 70 1 4 1 3 1 6 1 7 1 7 1 1 1 7 2 6 1 457"/><path d="M23 79.5h414" stroke-dasharray="1 282 1 2 1 9 1 59 1 7 1 8 2 3 1 3 1 9 1 1 1 3 1 10 1 3 1 457"/><path d="M23 80.5h398" stroke-dasharray="1 65 1 205 1 10 1 40 1 53 1 3 1 5 1 1 2 5 1 457"/><path d="M29 81.5h405" stroke-dasharray="1 59 1 1 1 255 1 36 1 1 1 6 1 3 1 1 1 2 2 9 2 4 1 13 1 457"/><path d="M51 82.5h368" stroke-dasharray="1 58 1 250 1 9 1 21 1 7 1 1 1 2 1 2 1 4 1 3 1 457"/><path d="M110 83.5h326" stroke-dasharray="1 232 1 17 1 1 1 17 1 1 1 4 1 13 1 2 1 2 1 6 1 2 1 2 1 13 1 457"/><path d="M289 84.5h145" stroke-dasharray="1 51 1 43 1 2 1 4 1 3 3 7 1 6 2 3 1 13 1 457"/><path d="M12 85.5h426" stroke-dasharray="1 6 1 269 1 51 1 3 1 12 1 12 1 22 1 4 1 8 1 5 1 22 1 457"/><path d="M43 86.5h405" stroke-dasharray="1 35 1 267 1 13 1 5 1 11 1 6 1 3 1 4 1 3 1 1 1 5 1 1 1 7 1 14 1 14 1 457"/><path d="M7 87.5h434" stroke-dasharray="1 71 1 271 1 27 1 4 1 1 1 1 1 2 1 5 1 3 1 7 1 1 1 3 1 3 1 19 2 457"/><path d="M7 88.5h405" stroke-dasharray="1 55 1 294 1 10 1 12 1 4 2 2 1 5 1 1 1 5 1 5 1 457"/><path d="M67 89.5h385" stroke-dasharray="1 57 1 232 1 11 1 14 1 1 1 3 1 3 1 12 1 4 1 1 1 19 1 15 1 457"/><path d="M297 90.5h157" stroke-dasharray="1 61 1 12 1 2 1 1 1 9 1 19 2 4 1 17 1 19 1 1 1 457"/><path d="M359 91.5h94" stroke-dasharray="1 11 1 3 1 11 1 1 1 9 1 5 1 18 1 27 1 457"/><path d="M82 92.5h362" stroke-dasharray="1 288 1 8 2 11 1 3 1 4 1 2 1 11 1 1 1 23 1 457"/><path d="M1 93.5h437" stroke-dasharray="1 67 1 301 1 8 1 12 1 1 1 4 1 7 1 8 1 4 1 6 1 7 1 457"/><path d="M17 94.5h427" stroke-dasharray="1 95 1 191 1 51 1 28 1 3 2 3 1 12 1 13 2 5 1 1 1 11 1 457"/><path d="M3 95.5h439" stroke-dasharray="1 13 1 95 1 191 1 77 1 2 1 2 3 7 1 9 1 9 1 3 1 17 1 457"/><path d="M3 96.5h439" stroke-dasharray="1 379 1 7 1 8 2 9 1 1 1 5 1 13 1 7 1 457"/><path d="M381 97.5h61" stroke-dasharray="1 19 1 13 1 3 1 13 1 7 1 457"/><path d="M355 98.5h81" stroke-dasharray="1 3 1 7 1 13 1 15 1 3 1 13 1 3 1 15 1 457"/><path d="M333 99.5h77" stroke-dasharray="1 5 1 67 1 1 1 457"/><path d="M325 100.5h105" stroke-dasharray="1 13 1 25 1 11 1 19 1 7 1 3 1 6 1 6 1 1 1 3 1 457"/><path d="M325 101.5h107" stroke-dasharray="1 27 1 29 1 1 1 5 1 7 1 9 1 1 1 1 1 1 1 7 1 1 1 3 1 1 1 457"/><path d="M388 102.5h22" stroke-dasharray="1 12 1 1 1 5 1 457"/><path d="M391 103.5h21" stroke-dasharray="1 1 1 15 1 1 1 457"/><path d="M377 104.5h47" stroke-dasharray="1 11 1 1 1 1 1 11 1 9 1 7 1 457"/><path d="M369 105.5h55" stroke-dasharray="1 25 1 1 1 1 1 5 1 9 1 7 1 457"/><path d="M383 106.5h19" stroke-dasharray="1 5 1 11 1 457"/><path d="M383 107.5h19" stroke-dasharray="1 1 1 7 2 6 1 457"/><path d="M351 108.5h51" stroke-dasharray="1 31 1 9 2 6 1 457"/><path d="M351 109.5h1"/><path d="M380 110.5h1"/></g><g stroke="#4094fe"><path d="M27 2.5h415" stroke-dasharray="1 194 1 7 1 13 1 29 1 43 1 122 1 457"/><path d="M33 3.5h395" stroke-dasharray="1 116 1 34 1 13 1 227 1 457"/><path d="M1 4.5h375" stroke-dasharray="1 38 1 9 1 52 1 50 1 46 1 5 1 23 1 49 1 11 1 43 1 15 1 5 1 15 1 457"/><path d="M9 5.5h436" stroke-dasharray="1 19 1 46 1 5 1 8 1 4 1 2 1 2 1 19 1 6 1 3 1 11 1 1 1 3 1 2 1 22 1 5 2 6 1 4 1 7 1 1 2 5 2 9 2 7 1 5 1 2 1 15 1 1 1 1 1 7 1 9 1 3 1 4 1 8 1 1 2 7 1 6 1 3 1 1 1 11 1 8 1 2 1 15 1 1 1 11 1 5 2 10 1 6 1 6 1 6 1 11 1 4 1 1 1 9 1 457"/><path d="M36 6.5h378" stroke-dasharray="1 89 1 5 1 79 1 5 1 8 1 17 1 4 1 25 1 34 1 68 1 8 1 23 1 457"/><path d="M121 7.5h328" stroke-dasharray="1 39 1 4 1 11 1 68 1 14 1 20 1 12 1 19 1 89 1 41 1 457"/><path d="M23 8.5h430" stroke-dasharray="1 8 2 5 1 14 1 8 1 4 1 40 1 2 1 18 1 30 1 26 1 18 1 4 1 8 1 4 1 3 1 16 1 6 1 15 1 27 1 36 1 29 1 44 1 15 1 7 1 15 2 457"/><path d="M323 9.5h1"/><path d="M18 10.5h380" stroke-dasharray="1 134 1 12 1 80 1 4 1 45 1 40 1 57 1 457"/><path d="M9 11.5h431" stroke-dasharray="1 16 1 9 1 5 1 4 1 23 1 8 1 10 1 6 2 17 1 13 1 1 1 77 1 7 1 5 1 2 1 3 1 18 1 4 2 7 1 11 1 49 1 6 3 17 1 4 2 12 2 23 1 3 1 36 1 457"/><path d="M0 12.5h456" stroke-dasharray="1 3 1 14 1 17 2 10 1 15 1 8 1 13 1 7 2 12 1 7 1 3 1 1 1 5 1 4 1 5 1 4 2 1 1 15 1 6 1 10 1 6 1 11 1 3 1 10 1 1 1 1 1 1 2 20 1 11 1 2 1 7 3 3 1 6 1 3 1 2 2 1 1 6 1 4 1 1 1 5 1 6 1 4 1 3 2 1 2 5 2 6 1 8 1 17 1 9 2 3 1 6 1 5 1 3 1 6 1 3 2 7 1 1 1 2 1 3 1 10 1 10 1 457"/><path d="M7 13.5h432" stroke-dasharray="1 7 1 4 1 11 1 4 1 13 1 9 1 4 1 2 1 6 1 25 1 2 1 22 1 16 1 25 1 2 1 8 1 7 1 11 1 11 1 15 1 8 1 10 1 18 1 9 1 1 1 3 1 21 1 31 1 27 1 2 1 16 1 20 1 6 1 1 1 1 1 3 1 13 1 457"/><path d="M50 14.5h342" stroke-dasharray="1 7 1 214 1 117 1 457"/><path d="M10 15.5h410" stroke-dasharray="1 46 1 55 1 7 1 1 2 3 1 3 1 17 1 3 1 17 1 41 1 11 1 3 1 3 1 25 1 3 1 23 1 16 1 7 1 38 1 66 1 457"/><path d="M24 16.5h408" stroke-dasharray="1 391 1 3 1 10 1 457"/><path d="M9 17.5h421" stroke-dasharray="1 13 1 7 1 11 1 5 1 25 1 5 1 3 1 41 2 13 2 8 1 7 1 21 1 19 1 1 1 7 1 13 1 7 1 12 1 5 1 5 1 20 1 29 1 3 1 1 2 5 1 4 1 3 1 29 1 20 1 20 1 2 1 2 1 14 1 3 1 457"/><path d="M12 18.5h440" stroke-dasharray="1 3 1 4 2 5 1 9 1 2 1 7 1 2 1 10 1 10 1 8 1 17 1 5 1 42 1 33 1 10 1 23 1 18 1 15 1 10 1 4 1 2 1 30 3 9 1 3 1 11 1 1 1 2 1 3 1 9 1 2 1 32 1 5 1 5 1 2 1 1 1 2 1 2 1 7 2 7 1 7 1 14 2 457"/><path d="M107 19.5h318" stroke-dasharray="1 316 1 457"/><path d="M0 20.5h433" stroke-dasharray="1 15 1 1 1 11 1 19 1 5 1 27 1 2 1 5 2 25 1 6 1 23 1 6 1 3 1 8 1 5 1 5 1 1 1 12 2 4 1 1 1 10 1 10 1 14 1 1 1 11 1 31 1 6 1 67 1 28 1 6 1 1 1 29 1 457"/><path d="M0 21.5h421" stroke-dasharray="1 9 1 13 1 15 1 16 1 23 1 3 1 3 2 26 1 8 2 6 1 4 2 5 1 4 1 1 1 18 1 11 1 6 1 4 1 13 1 4 1 14 1 13 1 3 1 3 2 21 1 67 1 50 1 25 1 457"/><path d="M30 22.5h413" stroke-dasharray="1 5 1 5 1 1 1 8 1 25 1 15 1 25 1 8 1 311 1 457"/><path d="M11 23.5h223" stroke-dasharray="2 29 1 1 1 2 1 7 1 37 1 8 1 8 1 9 1 3 1 14 1 4 1 2 1 36 1 29 1 11 1 5 1 457"/><path d="M11 24.5h374" stroke-dasharray="1 22 1 8 1 19 1 38 1 5 1 24 1 45 1 6 1 2 1 38 1 5 1 40 1 26 1 39 1 6 1 5 1 15 1 5 1 6 1 457"/><path d="M11 25.5h445" stroke-dasharray="1 21 1 6 1 16 1 28 2 43 1 13 1 22 1 1 1 65 1 9 1 21 1 10 1 6 1 49 1 18 1 30 2 35 1 9 1 19 1 1 1 457"/><path d="M7 26.5h433" stroke-dasharray="1 18 1 1 1 3 2 1 2 3 1 7 2 7 1 5 1 8 1 8 1 4 1 38 1 55 1 49 1 35 1 3 1 20 1 20 1 24 1 28 1 4 1 60 1 5 1 457"/><path d="M1 27.5h443" stroke-dasharray="2 7 1 4 1 6 1 2 1 1 1 2 2 3 1 1 1 12 1 20 1 6 1 9 1 5 2 6 2 25 1 13 1 34 1 21 1 21 1 8 1 1 1 1 1 48 1 7 1 3 1 4 1 10 1 2 1 9 1 1 1 16 1 10 1 6 1 16 1 10 1 10 1 10 1 27 1 2 1 457"/><path d="M0 28.5h453" stroke-dasharray="1 4 1 5 2 20 1 2 1 19 1 5 1 1 1 4 1 1 1 6 1 4 1 13 2 4 1 10 1 5 1 5 1 8 1 86 1 1 1 14 1 30 1 7 1 4 1 2 1 5 1 11 1 2 1 55 1 14 1 5 1 11 1 3 1 12 1 38 1 457"/><path d="M5 29.5h439" stroke-dasharray="1 6 1 10 1 10 1 4 1 10 1 5 1 5 2 5 1 1 1 7 1 14 1 5 1 13 1 4 1 8 1 14 1 26 1 11 1 2 1 3 1 41 1 47 1 6 1 1 1 24 1 68 1 1 2 9 1 4 2 11 3 19 1 1 1 5 1 457"/><path d="M2 30.5h442" stroke-dasharray="1 7 1 1 2 11 1 1 1 3 1 3 1 17 1 5 2 7 1 10 1 4 1 1 1 10 1 16 1 6 1 5 1 15 1 41 1 1 1 66 1 33 1 1 1 22 1 28 1 4 1 23 1 2 1 10 2 1 1 6 1 1 1 1 2 9 1 3 3 1 1 6 1 4 1 12 1 457"/><path d="M0 31.5h445" stroke-dasharray="1 3 1 19 2 1 1 7 1 4 1 14 1 3 1 4 1 3 2 1 1 7 1 18 1 4 1 10 1 11 1 61 1 55 1 3 1 20 1 41 1 31 1 5 1 25 1 6 2 4 1 21 1 6 1 4 1 2 1 4 1 4 1 2 2 4 1 457"/><path d="M3 32.5h442" stroke-dasharray="1 33 1 6 1 2 1 2 1 1 1 2 2 7 2 4 2 5 2 2 1 4 1 5 1 10 1 5 1 7 1 11 1 13 1 93 1 13 1 83 1 1 1 10 1 12 1 8 1 4 1 2 2 6 1 24 1 6 1 6 1 4 2 9 1 1 2 457"/><path d="M0 33.5h449" stroke-dasharray="1 2 1 6 3 10 2 7 1 6 1 11 1 22 1 3 1 2 1 2 1 2 1 1 1 4 1 4 1 3 1 21 1 6 1 1 1 102 1 13 1 1 1 43 1 21 1 15 1 1 1 10 1 3 1 6 1 1 1 13 2 9 1 19 1 3 1 3 1 26 1 6 1 457"/><path d="M0 34.5h454" stroke-dasharray="2 15 1 1 1 4 1 2 1 16 1 10 2 1 2 2 3 2 1 4 1 1 1 9 1 9 1 8 1 6 1 140 1 20 1 23 1 29 1 8 1 9 1 3 1 3 1 1 1 22 1 2 1 3 1 7 2 8 1 4 1 6 3 1 1 5 2 16 1 8 2 457"/><path d="M10 35.5h434" stroke-dasharray="1 9 1 2 2 20 1 2 1 11 3 3 2 3 2 8 1 2 1 7 1 1 1 20 1 180 1 43 1 2 1 23 1 13 1 5 1 6 2 1 1 2 1 4 1 1 1 5 1 6 1 5 1 2 1 5 1 5 1 1 1 457"/><path d="M2 36.5h441" stroke-dasharray="1 2 1 2 1 1 1 3 1 3 1 5 1 2 1 10 1 9 1 5 1 5 1 1 1 1 1 1 1 8 2 3 1 3 1 182 1 33 1 39 1 13 1 15 1 2 1 4 1 9 1 10 1 1 2 34 1 3 1 457"/><path d="M8 37.5h443" stroke-dasharray="1 15 1 25 1 3 1 1 1 2 1 6 1 3 1 2 1 2 1 5 1 5 1 6 1 29 1 134 1 11 1 80 2 1 1 6 1 3 1 21 1 2 1 12 1 9 1 9 1 9 1 3 1 1 2 6 2 457"/><path d="M0 38.5h454" stroke-dasharray="1 20 1 4 1 11 1 11 1 3 1 16 1 1 1 10 1 6 1 4 2 9 1 2 1 4 1 14 3 19 1 196 1 2 1 3 2 4 2 3 1 13 1 1 1 10 1 1 1 8 2 2 1 5 1 3 2 2 1 26 2 1 1 457"/><path d="M1 39.5h437" stroke-dasharray="1 2 1 10 1 5 1 2 1 1 1 11 1 11 1 8 1 10 1 2 1 11 1 2 1 2 1 2 1 1 1 1 2 3 1 6 1 3 1 32 1 118 1 12 1 48 1 16 1 6 1 9 1 2 1 1 1 5 1 1 1 14 2 1 2 6 1 2 1 4 1 4 1 3 1 10 1 3 2 2 1 457"/><path d="M4 40.5h451" stroke-dasharray="1 12 1 1 1 1 1 16 1 1 1 3 2 1 1 6 1 2 1 7 1 4 1 2 1 7 1 2 2 12 2 5 1 6 2 4 1 14 1 8 1 4 1 129 1 1 1 21 1 43 1 13 1 7 1 12 1 5 1 3 2 4 2 4 1 1 1 2 1 3 2 11 1 9 1 2 1 1 3 12 1 457"/><path d="M3 41.5h452" stroke-dasharray="1 2 1 1 1 8 1 20 1 14 1 1 1 1 1 2 2 1 1 1 1 7 1 2 1 2 1 4 1 2 1 5 1 1 1 3 1 4 2 20 1 235 1 10 2 7 2 2 1 3 1 1 2 1 1 1 1 7 1 1 1 6 1 1 1 9 1 2 1 5 1 1 1 6 2 2 2 1 1 2 1 457"/><path d="M3 42.5h454" stroke-dasharray="2 1 1 2 1 3 1 3 1 7 2 2 1 10 1 2 1 1 1 5 1 3 1 6 1 7 1 8 1 1 5 1 1 2 1 2 2 4 2 3 1 8 1 12 1 15 1 156 1 18 1 8 1 46 1 5 1 1 1 7 1 1 1 1 2 5 1 8 1 5 1 5 1 2 1 1 1 5 1 5 1 3 1 3 2 7 1 457"/><path d="M4 43.5h449" stroke-dasharray="2 11 1 2 1 5 1 2 1 15 1 1 1 2 1 10 2 3 1 6 1 2 1 4 1 2 1 18 4 178 1 32 1 8 1 31 1 6 1 8 1 4 1 11 1 5 2 1 1 1 1 3 1 2 4 2 1 6 1 7 1 2 1 10 3 1 1 2 1 457"/><path d="M0 44.5h454" stroke-dasharray="1 1 1 1 1 1 2 10 1 6 2 20 1 2 1 12 1 6 1 6 1 3 1 1 1 3 1 4 2 9 1 14 2 12 1 194 1 14 1 6 1 1 1 7 2 2 1 11 1 17 1 1 1 2 1 1 2 2 1 1 1 5 1 3 1 7 1 1 1 9 2 2 1 4 1 6 2 457"/><path d="M2 45.5h452" stroke-dasharray="1 1 1 3 1 6 1 10 1 2 1 33 1 3 1 9 1 1 1 1 1 8 1 9 1 2 1 13 2 7 1 152 1 63 1 5 1 14 1 2 1 1 1 4 2 15 1 1 1 2 1 1 1 2 1 9 1 3 2 2 2 2 1 10 2 1 1 12 1 2 1 457"/><path d="M0 46.5h450" stroke-dasharray="1 4 1 1 1 2 1 4 1 1 2 4 1 1 1 14 1 26 1 2 1 5 2 3 2 6 2 4 1 21 1 44 1 116 1 84 1 13 1 2 1 5 2 1 1 2 1 3 1 3 1 1 1 7 1 1 3 3 1 12 1 3 1 1 1 2 1 2 1 2 1 1 1 457"/><path d="M3 47.5h453" stroke-dasharray="1 6 3 4 1 5 1 2 1 4 1 4 1 3 1 26 1 1 2 5 2 3 1 12 1 7 1 28 1 135 1 11 1 16 1 17 1 40 1 21 1 10 1 15 1 2 1 2 1 8 1 13 1 10 1 2 2 1 1 4 1 457"/><path d="M3 48.5h446" stroke-dasharray="1 3 1 13 1 4 1 13 1 3 1 30 1 10 2 1 1 33 1 7 1 147 1 25 1 10 1 4 1 33 1 5 1 8 1 8 1 3 1 3 3 5 1 5 3 6 2 4 1 14 1 4 1 1 1 5 1 3 1 457"/><path d="M7 49.5h450" stroke-dasharray="1 5 1 1 2 1 1 2 2 1 1 1 1 4 1 1 1 22 1 2 1 7 1 15 2 1 2 69 1 110 1 2 1 41 1 2 1 17 1 35 1 9 1 1 2 13 2 2 1 2 1 2 1 2 2 3 1 1 1 5 1 6 1 7 1 9 1 4 2 1 1 457"/><path d="M1 50.5h455" stroke-dasharray="1 9 1 3 1 2 2 1 1 2 1 6 1 17 1 8 1 6 1 6 1 3 1 7 1 4 2 4 1 8 1 9 1 42 1 138 1 80 1 4 1 8 1 12 1 2 1 1 4 6 1 4 2 8 1 2 2 3 1 1 1 4 1 3 1 1 1 457"/><path d="M3 51.5h453" stroke-dasharray="1 1 1 5 2 4 1 4 1 6 1 28 1 20 1 6 1 6 1 13 1 12 1 161 1 22 1 6 1 46 1 14 1 12 2 6 1 11 2 2 2 6 2 8 1 1 2 1 1 3 1 1 1 5 1 2 1 3 1 1 1 457"/><path d="M0 52.5h456" stroke-dasharray="1 5 1 4 1 14 1 30 1 7 1 15 1 2 2 1 1 5 1 10 1 4 1 159 1 34 2 36 2 29 3 5 1 6 1 7 1 3 1 8 2 1 1 14 1 5 1 2 1 5 3 4 1 3 1 1 1 457"/><path d="M0 53.5h456" stroke-dasharray="1 4 1 4 1 9 1 7 2 13 1 32 1 2 2 14 1 6 1 1 1 5 1 4 1 11 1 181 1 2 1 9 1 20 1 13 1 15 1 9 1 7 1 7 1 14 2 5 1 3 1 1 1 1 1 5 1 3 1 2 1 6 1 2 1 2 1 457"/><path d="M2 54.5h454" stroke-dasharray="1 1 1 5 1 5 1 4 1 29 1 25 1 1 1 4 2 3 1 5 1 24 1 236 1 22 2 2 1 6 1 1 1 5 1 3 1 8 2 1 1 7 1 1 1 1 1 9 1 5 1 6 1 4 1 457"/><path d="M8 55.5h448" stroke-dasharray="1 1 1 4 1 5 1 29 1 6 1 11 1 13 2 3 1 5 1 5 1 10 1 9 1 4 1 4 1 199 1 16 1 3 1 24 1 9 1 4 1 3 1 5 1 5 1 2 1 2 1 12 2 2 1 7 1 4 3 7 1 457"/><path d="M6 56.5h450" stroke-dasharray="1 4 1 9 1 36 1 18 1 23 1 2 2 2 1 1 1 16 1 23 1 97 1 29 1 25 1 13 1 29 1 3 1 13 1 2 1 8 1 3 2 7 1 1 1 1 1 3 1 2 2 8 1 1 1 5 1 1 1 4 1 3 1 1 1 5 2 1 4 4 1 3 1 457"/><path d="M0 57.5h450" stroke-dasharray="2 9 2 2 1 5 1 51 1 30 1 4 1 9 1 7 1 121 1 11 1 10 1 6 1 22 1 16 1 5 1 53 1 10 1 2 2 1 1 3 1 1 1 9 1 1 2 10 1 4 1 7 2 4 1 3 1 457"/><path d="M7 58.5h444" stroke-dasharray="1 1 2 1 1 3 1 16 1 21 1 13 1 3 2 24 1 2 1 6 1 6 1 152 1 2 1 18 1 8 1 24 1 42 1 16 1 14 1 3 1 7 1 5 1 1 1 6 1 3 1 18 1 457"/><path d="M1 59.5h451" stroke-dasharray="1 3 1 1 1 7 1 5 1 6 1 10 1 19 1 13 1 4 1 6 1 13 1 2 2 2 1 189 1 3 1 52 1 19 1 26 1 3 2 3 1 8 1 1 1 2 1 1 1 1 1 7 1 1 1 3 1 1 1 2 1 4 1 457"/><path d="M0 60.5h452" stroke-dasharray="1 2 1 1 3 7 1 23 1 22 1 10 1 4 2 18 2 2 1 3 1 176 1 53 1 15 1 11 1 8 1 4 1 3 1 13 1 2 1 2 1 1 2 5 1 3 1 2 1 1 3 5 1 7 1 3 1 9 1 457"/><path d="M7 61.5h443" stroke-dasharray="1 5 1 1 1 8 1 33 1 14 1 4 1 20 1 2 2 179 1 75 1 35 1 1 1 7 1 7 1 2 1 6 1 2 2 3 1 8 1 8 1 457"/><path d="M3 62.5h447" stroke-dasharray="1 9 1 11 1 37 1 10 1 23 1 280 2 5 2 1 1 5 1 1 2 9 1 2 2 6 1 3 3 3 1 4 2 3 1 8 2 457"/><path d="M16 63.5h433" stroke-dasharray="1 8 1 2 1 5 1 57 1 13 1 190 1 55 1 35 1 13 2 7 4 7 1 2 1 2 1 10 1 1 1 2 1 2 1 457"/><path d="M19 64.5h435" stroke-dasharray="1 6 1 1 1 1 1 74 1 130 1 30 1 18 1 66 1 1 1 19 1 7 1 1 1 3 1 10 1 3 1 3 1 1 2 11 1 8 1 3 1 3 1 1 1 2 1 1 2 3 2 457"/><path d="M9 65.5h446" stroke-dasharray="1 17 1 57 1 3 1 10 1 5 1 149 1 8 1 20 1 61 1 6 2 26 1 1 1 5 1 3 2 1 1 5 1 10 1 3 1 2 2 2 4 12 1 6 2 1 1 1 1 457"/><path d="M5 66.5h446" stroke-dasharray="1 25 1 31 1 21 1 3 1 4 2 3 1 10 1 153 1 56 1 39 1 18 1 4 2 7 2 2 1 10 1 4 2 1 1 1 1 1 2 1 1 2 1 6 1 3 1 1 1 4 1 2 1 1 1 457"/><path d="M2 67.5h450" stroke-dasharray="1 2 1 4 1 15 2 39 1 13 1 7 1 4 2 3 1 10 1 177 1 70 1 11 1 10 1 1 1 1 1 8 2 1 2 1 1 2 1 1 2 4 1 1 1 3 1 3 1 4 1 3 1 4 1 3 1 3 1 1 1 1 1 2 1 457"/><path d="M1 68.5h455" stroke-dasharray="1 3 1 19 1 48 1 6 1 9 1 3 1 3 1 6 1 16 1 161 1 1 1 8 1 4 1 11 1 23 1 46 1 10 1 4 2 2 1 7 1 1 1 2 1 2 1 16 1 2 1 2 1 7 1 1 1 1 1 457"/><path d="M1 69.5h451" stroke-dasharray="1 5 2 1 1 13 1 49 1 16 1 1 1 23 1 138 1 80 1 15 1 13 1 29 1 1 1 1 1 3 3 4 1 2 1 1 1 2 1 6 1 7 1 9 2 4 1 457"/><path d="M2 70.5h447" stroke-dasharray="1 4 1 11 1 4 1 24 1 43 1 11 1 150 1 27 1 30 1 51 1 5 1 4 1 11 1 8 1 2 1 2 1 1 1 4 1 2 1 1 1 12 1 9 1 5 1 1 1 457"/><path d="M0 71.5h456" stroke-dasharray="1 3 1 9 1 2 1 10 1 6 1 86 1 187 1 4 1 31 1 10 1 8 1 25 1 6 2 3 1 1 1 4 1 6 1 12 1 2 1 4 2 13 1 457"/><path d="M0 72.5h456" stroke-dasharray="1 1 1 14 2 46 1 11 1 201 1 5 1 23 1 1 1 31 2 21 1 24 1 6 1 1 1 10 1 5 2 8 1 1 1 11 1 8 1 2 1 1 1 457"/><path d="M2 73.5h449" stroke-dasharray="2 14 1 5 1 8 1 23 1 12 1 266 1 5 2 30 1 1 1 6 1 9 1 1 1 1 1 3 2 1 1 4 1 2 2 5 1 7 2 19 2 457"/><path d="M18 74.5h433" stroke-dasharray="1 6 1 3 1 25 2 4 1 14 2 15 1 1 1 16 1 160 1 3 1 71 1 24 2 1 1 3 1 11 1 2 1 13 2 2 1 1 1 33 1 457"/><path d="M3 75.5h443" stroke-dasharray="2 4 1 8 1 21 1 20 1 19 1 7 1 5 1 173 1 3 1 11 1 12 1 16 1 33 1 16 3 6 1 2 1 2 1 6 2 5 1 13 1 7 1 14 1 1 1 8 1 1 1 457"/><path d="M29 76.5h411" stroke-dasharray="1 46 2 11 1 5 2 182 1 17 2 48 1 19 1 3 1 9 1 9 2 5 2 2 2 2 1 3 1 3 1 1 1 3 1 11 1 5 2 457"/><path d="M0 77.5h456" stroke-dasharray="1 19 1 8 1 10 1 2 1 44 1 19 1 157 1 12 1 39 1 1 1 19 1 31 1 4 1 1 2 7 1 1 2 7 1 1 1 9 1 5 1 1 1 10 1 2 2 3 1 1 1 8 1 4 1 457"/><path d="M5 78.5h450" stroke-dasharray="1 3 2 4 1 24 1 47 1 16 1 163 1 4 1 44 1 1 1 41 1 7 1 2 1 10 1 1 4 1 1 12 1 10 1 4 1 10 1 4 1 3 1 4 1 3 1 3 1 457"/><path d="M3 79.5h447" stroke-dasharray="1 5 2 1 1 7 1 67 1 16 1 158 1 50 1 11 1 2 1 43 2 1 1 6 1 6 1 10 3 3 1 3 1 5 1 9 1 1 1 10 1 4 1 2 1 457"/><path d="M9 80.5h441" stroke-dasharray="1 2 1 16 1 35 1 10 1 2 1 1 1 6 1 16 1 5 1 248 1 8 1 1 1 2 1 4 1 7 1 6 1 1 1 5 1 3 1 8 1 2 1 4 1 8 1 3 1 12 1 457"/><path d="M9 81.5h412" stroke-dasharray="1 2 1 3 1 6 1 1 1 9 1 1 1 3 1 19 1 17 1 1 2 5 1 22 1 150 1 52 1 37 1 6 2 7 1 11 1 14 1 7 2 14 1 457"/><path d="M3 82.5h441" stroke-dasharray="1 11 1 25 1 19 1 20 1 6 1 2 1 222 1 23 1 7 1 11 1 21 1 1 1 11 1 1 1 2 1 4 1 2 1 6 2 12 1 2 1 2 1 5 1 1 1 457"/><path d="M59 83.5h389" stroke-dasharray="1 22 1 4 1 4 1 36 1 209 1 30 1 2 1 16 1 4 1 1 2 1 2 1 1 5 1 1 1 4 1 12 1 1 1 9 1 1 1 3 1 457"/><path d="M10 84.5h432" stroke-dasharray="1 1 1 7 1 38 1 27 1 24 1 156 1 39 1 33 1 1 1 15 1 9 1 1 2 4 1 11 2 8 2 2 1 7 1 3 2 2 1 13 1 1 1 3 1 457"/><path d="M13 85.5h430" stroke-dasharray="1 71 1 26 1 180 1 15 1 33 1 3 1 6 2 7 1 13 1 1 2 2 1 2 3 4 1 4 1 2 2 1 2 13 1 12 1 5 1 3 1 457"/><path d="M12 86.5h431" stroke-dasharray="1 72 1 7 1 3 1 1 1 169 1 19 1 5 1 55 1 2 1 15 2 5 1 2 1 1 1 10 1 11 2 4 1 7 1 1 1 17 1 2 1 457"/><path d="M5 87.5h437" stroke-dasharray="1 13 1 29 1 13 1 33 1 2 1 176 1 17 1 51 1 10 1 2 1 3 1 5 1 22 2 10 1 14 1 1 1 7 1 9 1 457"/><path d="M5 88.5h441" stroke-dasharray="1 94 1 28 1 3 1 143 1 13 1 3 1 34 1 26 1 7 1 18 3 2 1 3 1 1 1 2 1 7 1 2 1 7 1 3 3 9 1 1 1 4 2 3 1 457"/><path d="M17 89.5h437" stroke-dasharray="1 45 1 11 1 9 1 1 1 5 1 35 1 155 1 9 1 1 1 25 1 1 1 15 1 1 1 13 1 1 1 5 1 6 1 2 1 1 1 1 1 3 1 13 3 4 1 9 1 6 1 23 1 7 1 457"/><path d="M0 90.5h436" stroke-dasharray="1 20 1 1 1 11 1 28 1 10 1 9 1 7 1 31 1 181 1 9 1 3 1 1 1 1 1 25 1 11 1 6 1 8 1 19 1 1 1 2 1 10 1 3 1 15 1 457"/><path d="M5 91.5h449" stroke-dasharray="1 63 1 5 1 9 1 7 1 9 1 183 1 7 1 1 1 1 1 7 1 15 1 11 1 31 1 9 1 3 1 3 1 5 1 10 1 5 3 4 1 2 1 6 1 3 1 21 1 1 1 457"/><path d="M1 92.5h449" stroke-dasharray="1 73 1 19 1 199 1 13 1 47 1 1 1 7 1 16 1 2 1 1 1 9 1 7 3 5 1 6 1 1 1 12 1 11 1 457"/><path d="M8 93.5h442" stroke-dasharray="1 73 1 10 1 5 1 19 1 29 1 140 1 40 1 25 1 9 1 1 1 29 1 2 1 1 1 4 1 11 1 9 1 1 1 15 1 457"/><path d="M1 94.5h441" stroke-dasharray="1 1 1 4 1 10 1 55 1 7 1 5 1 1 1 3 1 1 1 13 1 19 1 17 1 137 1 5 1 69 1 5 1 3 1 2 1 3 1 2 1 9 1 5 1 1 1 2 2 1 1 7 1 17 1 3 1 3 1 457"/><path d="M33 95.5h411" stroke-dasharray="1 55 1 1 1 3 1 273 1 9 1 1 1 13 1 5 1 5 1 5 1 1 1 9 1 2 2 1 1 1 1 3 1 5 1 457"/><path d="M67 96.5h362" stroke-dasharray="1 21 1 43 1 145 1 9 1 85 1 5 1 5 1 2 1 8 1 3 1 1 1 9 1 12 1 457"/><path d="M25 97.5h389" stroke-dasharray="1 107 1 233 1 1 1 5 1 11 1 2 2 11 1 1 1 7 1 457"/><path d="M69 98.5h363" stroke-dasharray="1 263 1 35 1 12 1 4 1 2 3 10 1 5 1 7 1 3 1 9 1 457"/><path d="M325 99.5h111" stroke-dasharray="1 29 1 3 1 17 1 3 1 9 1 11 1 1 1 9 1 1 1 17 1 457"/><path d="M307 100.5h129" stroke-dasharray="1 25 1 45 3 1 1 7 1 1 1 8 1 4 1 3 1 3 1 5 1 5 1 3 1 3 1 457"/><path d="M367 101.5h68" stroke-dasharray="1 3 1 3 1 1 1 1 1 8 2 3 1 3 1 4 2 1 1 4 1 13 1 2 2 5 1 457"/><path d="M375 102.5h60" stroke-dasharray="1 1 1 11 1 3 1 5 1 4 1 5 1 4 1 7 1 10 1 457"/><path d="M377 103.5h43" stroke-dasharray="1 7 1 3 1 5 1 3 1 1 1 3 1 9 1 3 1 457"/><path d="M369 104.5h61" stroke-dasharray="1 9 1 22 2 3 1 1 1 4 1 1 1 4 1 7 1 457"/><path d="M359 105.5h56" stroke-dasharray="1 11 1 15 1 3 1 9 1 5 1 1 1 4 1 457"/><path d="M361 106.5h63" stroke-dasharray="1 1 1 11 1 9 1 1 1 5 2 1 2 7 1 5 2 1 2 1 1 2 1 2 1 457"/><path d="M359 107.5h57" stroke-dasharray="1 15 1 26 1 9 1 2 1 457"/><path d="M355 108.5h67" stroke-dasharray="1 3 1 15 1 26 1 2 1 2 1 6 1 5 1 457"/><path d="M367 109.5h49" stroke-dasharray="1 7 1 7 1 3 1 5 1 11 1 3 1 5 1 457"/><path d="M367 110.5h49" stroke-dasharray="1 16 1 4 1 1 1 1 1 3 1 11 1 5 1 457"/><path d="M380 111.5h30" stroke-dasharray="1 16 1 11 1 457"/><path d="M397 112.5h1"/><path d="M397 113.5h1"/></g><g stroke="#2e8afe"><path d="M60 2.5h360" stroke-dasharray="1 146 1 163 1 47 1 457"/><path d="M265 3.5h142" stroke-dasharray="1 28 1 72 1 16 1 21 1 457"/><path d="M21 4.5h386" stroke-dasharray="1 27 1 29 1 39 1 10 1 60 1 10 1 2 1 2 1 179 1 17 1 457"/><path d="M4 5.5h432" stroke-dasharray="1 6 1 3 1 27 1 6 1 9 1 8 2 1 2 13 1 23 1 19 1 2 1 17 1 6 1 15 2 5 1 10 1 5 1 22 1 4 1 16 2 5 2 2 1 3 1 4 1 8 1 8 1 4 1 15 2 3 1 9 1 21 1 7 1 40 1 1 2 13 1 2 1 8 1 12 1 3 1 457"/><path d="M3 6.5h346" stroke-dasharray="1 18 1 3 1 28 1 109 1 18 1 17 1 33 1 1 1 7 1 50 1 46 1 3 1 457"/><path d="M4 7.5h451" stroke-dasharray="1 111 1 33 1 135 1 54 1 112 1 457"/><path d="M1 8.5h423" stroke-dasharray="1 56 2 31 1 13 1 46 1 6 1 11 1 9 1 11 1 50 1 17 1 18 1 7 1 4 1 32 1 1 1 2 1 26 1 34 1 9 1 1 1 16 1 457"/><path d="M10 10.5h439" stroke-dasharray="1 255 1 181 1 457"/><path d="M37 11.5h417" stroke-dasharray="1 23 1 26 1 19 2 6 1 13 1 4 1 8 1 4 1 11 1 19 1 1 2 4 1 3 1 26 1 8 2 9 1 8 2 11 3 1 1 4 3 4 1 4 1 10 2 16 1 31 1 5 1 5 1 9 1 12 1 17 1 5 1 5 1 4 1 2 1 4 1 12 1 14 1 2 1 457"/><path d="M2 12.5h440" stroke-dasharray="1 6 1 7 1 3 2 1 1 8 1 8 1 2 1 9 1 3 2 2 1 6 2 12 2 4 1 4 1 3 1 3 1 3 1 9 1 1 1 6 1 4 1 8 1 2 1 11 2 9 1 1 1 8 2 5 1 7 1 3 1 2 3 8 1 1 1 3 1 11 1 4 1 6 1 1 1 1 1 2 2 1 1 1 2 1 1 6 1 1 3 4 1 1 1 5 2 12 1 13 1 1 1 3 1 1 1 5 1 4 1 13 1 2 1 12 1 21 1 1 2 2 1 11 2 14 1 5 1 1 1 7 1 6 1 2 1 2 1 457"/><path d="M2 13.5h440" stroke-dasharray="1 22 1 18 1 5 1 6 1 2 1 9 1 25 1 1 1 1 1 31 1 4 1 1 1 12 1 4 1 1 1 1 1 3 1 7 1 15 1 2 1 29 1 3 1 6 1 15 1 3 1 4 1 4 1 5 1 5 1 12 1 5 2 8 1 6 2 7 1 7 2 2 1 4 1 8 1 13 1 21 1 9 1 21 1 22 1 3 1 457"/><path d="M149 14.5h216" stroke-dasharray="1 95 1 115 1 2 1 457"/><path d="M34 15.5h404" stroke-dasharray="1 29 1 72 1 4 1 74 1 4 1 24 2 4 1 4 1 33 1 18 1 6 1 17 1 13 1 86 1 457"/><path d="M78 16.5h1"/><path d="M24 17.5h431" stroke-dasharray="1 144 3 24 1 35 1 22 1 5 1 37 1 7 2 22 1 4 1 5 1 6 1 17 1 13 1 31 1 40 1 457"/><path d="M2 18.5h453" stroke-dasharray="1 16 1 11 1 33 1 30 1 1 1 10 1 28 1 6 1 16 1 6 1 8 1 30 1 11 1 4 1 2 1 11 1 2 1 1 1 5 1 6 1 23 1 12 1 5 1 4 1 4 1 11 1 10 1 19 1 20 1 12 1 21 1 1 1 18 1 7 1 13 1 457"/><path d="M296 19.5h1"/><path d="M62 20.5h262" stroke-dasharray="1 4 1 28 1 3 1 6 1 21 1 3 1 15 1 3 1 15 1 43 1 4 1 7 1 2 1 30 1 3 1 17 1 28 1 6 1 4 1 457"/><path d="M2 21.5h455" stroke-dasharray="1 25 1 2 1 26 1 3 1 9 1 3 1 2 1 11 1 41 1 24 1 40 1 14 1 8 1 10 2 20 1 10 1 4 1 7 1 11 1 3 1 44 1 56 1 9 1 21 1 25 1 457"/><path d="M3 22.5h131" stroke-dasharray="1 6 1 11 1 1 1 25 1 9 1 2 2 15 1 10 1 16 1 7 1 16 1 457"/><path d="M2 23.5h223" stroke-dasharray="2 6 1 6 1 3 1 5 1 6 1 21 1 7 1 1 1 8 1 4 1 9 1 18 1 13 1 17 1 10 1 24 1 5 1 19 1 10 1 9 1 457"/><path d="M8 24.5h379" stroke-dasharray="1 5 1 2 1 1 1 3 1 5 1 1 1 1 1 11 1 2 2 16 1 1 1 12 1 8 1 22 1 1 1 18 1 10 1 6 1 25 1 5 1 3 1 7 1 14 1 32 1 2 1 14 1 9 1 9 1 16 1 5 1 4 1 11 1 35 1 1 1 25 1 457"/><path d="M0 25.5h451" stroke-dasharray="1 2 1 4 1 6 1 1 1 33 1 13 1 7 1 22 1 6 1 12 1 7 1 29 1 26 2 32 1 27 1 11 1 2 1 1 1 4 1 6 1 26 1 5 1 3 2 22 1 8 1 10 1 7 1 5 1 6 1 4 1 13 1 4 1 6 1 14 1 8 1 15 1 2 1 1 1 457"/><path d="M1 26.5h454" stroke-dasharray="2 11 2 9 1 15 1 2 1 20 1 13 1 4 2 17 1 3 1 8 1 5 1 28 1 20 1 21 1 8 1 3 1 47 1 10 1 89 1 5 2 15 1 3 1 10 2 2 1 1 1 5 1 15 1 7 1 15 1 7 1 457"/><path d="M11 27.5h411" stroke-dasharray="4 2 1 1 2 12 2 1 1 1 1 8 1 31 2 9 1 32 1 1 1 9 1 5 1 6 1 48 1 52 1 3 1 6 1 15 1 1 1 25 1 18 1 6 1 15 1 3 1 4 1 6 1 35 1 18 1 2 1 457"/><path d="M1 28.5h456" stroke-dasharray="1 2 1 2 1 6 1 1 2 2 3 1 2 8 1 2 1 25 1 15 1 5 1 4 1 26 1 12 1 10 1 17 1 22 1 12 1 14 1 24 1 4 1 9 1 22 1 19 1 22 1 14 1 13 1 1 1 1 1 12 1 14 1 15 1 9 1 2 1 10 1 2 2 11 1 5 1 7 1 8 1 457"/><path d="M8 29.5h449" stroke-dasharray="1 6 2 2 2 4 2 10 1 32 1 5 1 13 1 4 1 31 1 10 1 2 1 36 1 24 1 19 1 41 1 7 1 3 1 46 1 8 2 4 1 1 1 5 1 15 1 13 1 9 1 9 1 20 1 8 1 6 1 1 1 18 2 457"/><path d="M4 30.5h453" stroke-dasharray="2 10 1 1 3 13 1 1 1 3 1 5 1 3 1 12 1 2 1 4 1 3 1 9 1 1 1 1 2 2 1 14 1 8 1 4 1 1 1 16 1 2 1 2 1 16 1 67 2 15 1 15 1 7 1 1 1 28 1 29 1 2 1 5 1 5 1 8 1 1 1 6 1 5 1 3 1 15 2 12 1 5 1 12 2 1 1 11 1 2 1 5 2 3 2 457"/><path d="M1 31.5h455" stroke-dasharray="1 1 1 4 1 5 1 5 1 5 1 30 2 2 1 4 1 15 1 14 1 1 1 8 1 2 1 9 1 2 1 3 1 10 1 8 1 10 1 27 1 11 1 11 1 21 1 11 1 3 1 13 2 8 1 43 1 12 1 17 1 17 2 28 1 10 1 6 1 3 1 18 1 3 1 1 1 11 1 457"/><path d="M2 32.5h453" stroke-dasharray="1 1 1 2 1 3 1 12 3 2 1 2 2 5 1 6 1 10 3 22 1 4 1 2 1 7 2 13 2 3 1 5 1 1 2 7 1 20 1 14 1 26 2 25 1 33 1 1 1 11 1 5 1 3 1 5 1 12 1 5 1 19 1 1 1 9 1 1 1 7 1 1 1 3 1 5 1 3 1 2 1 1 1 2 1 17 1 1 1 6 1 4 1 6 2 5 2 2 1 22 3 4 1 457"/><path d="M6 33.5h435" stroke-dasharray="2 10 1 1 1 9 2 1 1 10 3 11 2 2 1 1 1 5 1 1 1 9 1 7 1 6 1 15 1 8 1 6 1 1 1 3 1 6 1 4 1 1 1 36 1 35 1 2 1 1 1 27 1 5 1 3 1 15 1 21 1 4 1 6 1 11 1 8 1 5 1 2 1 3 1 12 1 6 3 2 1 15 1 11 1 4 1 3 1 3 1 7 3 1 1 12 1 457"/><path d="M6 34.5h449" stroke-dasharray="1 9 1 1 1 1 1 7 4 7 1 2 2 1 2 5 2 16 1 2 1 1 1 3 1 3 1 29 1 2 1 3 1 1 1 4 1 1 1 1 1 2 1 12 2 8 1 1 1 26 1 10 1 9 1 19 1 7 1 14 1 35 1 37 1 8 1 2 1 1 1 2 1 16 1 2 1 5 3 1 1 4 1 7 1 15 1 1 1 7 1 1 1 7 1 20 1 4 1 1 1 5 1 457"/><path d="M5 35.5h451" stroke-dasharray="3 8 1 2 1 2 1 2 1 1 2 2 1 2 1 8 1 2 1 2 2 3 1 4 1 5 1 4 1 4 1 3 1 3 1 1 1 14 1 2 2 5 1 2 2 4 2 8 1 5 1 44 1 23 1 2 1 43 1 1 1 31 1 31 1 5 1 7 1 1 3 2 1 10 1 2 1 5 1 2 1 7 1 1 1 5 1 1 1 6 1 3 1 8 1 2 1 6 1 6 1 8 1 4 2 5 1 4 1 2 1 7 1 1 1 457"/><path d="M0 36.5h448" stroke-dasharray="1 11 1 7 2 15 1 7 2 9 1 1 2 1 1 1 1 1 1 4 1 8 1 1 1 19 1 6 1 2 5 8 1 4 1 5 1 49 1 65 2 3 1 3 1 10 1 45 1 7 1 1 1 2 2 1 1 6 1 2 2 8 2 3 1 2 1 2 2 1 1 4 2 7 3 14 1 6 1 7 1 11 2 9 1 7 2 1 1 457"/><path d="M2 37.5h453" stroke-dasharray="2 1 1 3 1 2 1 8 2 6 1 5 1 7 2 10 1 2 1 1 1 1 1 2 1 15 1 5 1 17 1 1 1 1 1 8 2 4 1 2 1 5 1 11 1 13 1 53 1 38 1 8 1 3 1 5 1 11 1 30 1 8 1 7 1 1 1 10 1 2 2 6 1 8 1 1 1 7 1 3 2 1 1 1 1 11 1 11 1 1 1 4 1 3 2 6 1 4 1 1 1 14 1 2 2 1 1 457"/><path d="M9 38.5h446" stroke-dasharray="2 2 1 6 1 3 1 2 1 1 1 5 1 6 1 3 1 2 1 12 1 6 1 24 2 7 2 1 1 1 1 5 1 6 1 1 1 9 1 12 2 100 1 1 1 10 2 44 1 16 1 1 1 11 1 12 1 1 3 3 1 6 1 4 1 3 1 16 1 6 1 3 1 7 1 2 1 2 2 8 1 1 1 3 1 10 1 9 1 457"/><path d="M6 39.5h450" stroke-dasharray="1 9 1 1 2 12 1 2 1 5 1 4 2 3 2 10 1 1 2 1 2 5 1 3 1 2 1 1 1 20 1 1 2 3 1 2 1 3 1 1 1 3 1 4 2 1 1 1 1 10 1 5 1 34 1 27 1 34 1 6 1 5 1 6 1 2 1 2 1 54 1 8 1 5 1 2 1 5 1 7 1 13 1 1 1 5 1 11 1 2 1 4 1 9 1 8 2 2 1 11 1 5 1 3 1 3 2 457"/><path d="M3 40.5h450" stroke-dasharray="1 8 1 1 2 2 1 1 1 2 1 2 1 2 2 8 1 6 1 5 2 1 2 7 1 1 1 1 2 1 1 2 1 2 1 1 2 11 2 2 1 4 1 6 1 5 1 10 1 6 1 12 1 40 1 57 1 3 1 4 1 3 1 1 1 6 1 1 1 1 1 9 1 11 1 39 1 14 1 25 1 1 1 7 1 8 1 1 1 5 1 4 1 10 1 1 1 6 1 3 1 1 1 4 1 5 1 1 3 5 1 457"/><path d="M2 41.5h451" stroke-dasharray="1 9 2 4 1 1 2 2 1 1 1 2 2 8 1 4 1 1 3 2 1 2 1 4 1 7 1 3 2 7 1 8 2 3 1 1 1 3 1 17 1 13 1 28 1 50 1 35 1 8 1 1 1 8 1 11 2 12 2 3 1 4 1 31 1 5 1 6 1 2 1 4 2 6 1 2 1 2 1 3 1 5 1 5 1 3 1 2 1 1 1 3 3 7 1 7 1 3 1 1 2 12 3 6 1 4 1 457"/><path d="M1 42.5h454" stroke-dasharray="2 2 1 2 1 18 1 5 1 3 1 9 1 5 2 4 1 7 1 1 1 3 1 1 1 27 1 4 1 22 1 15 1 30 1 48 1 20 1 8 1 9 1 27 1 53 1 1 1 14 1 1 1 9 2 3 1 1 1 5 1 4 1 6 1 2 1 1 1 4 2 3 2 1 1 1 2 6 2 5 1 3 1 2 1 3 1 4 1 457"/><path d="M2 43.5h455" stroke-dasharray="1 8 1 1 1 1 1 7 1 3 1 8 1 3 1 2 1 7 1 1 2 3 2 9 2 3 1 2 1 4 1 2 1 1 1 2 1 1 2 3 1 1 2 7 2 7 1 1 1 4 1 2 1 14 1 52 1 14 1 37 1 34 1 25 1 11 1 40 1 5 1 14 1 1 1 1 2 5 1 5 1 1 1 1 1 4 1 12 1 2 2 1 1 10 2 7 1 2 1 2 3 457"/><path d="M12 44.5h428" stroke-dasharray="1 2 1 7 1 5 2 5 2 2 2 3 1 8 1 6 2 2 1 1 1 11 1 4 1 5 2 2 1 5 1 3 2 2 1 3 1 4 1 8 1 6 1 12 1 1 1 28 1 17 1 69 1 15 1 10 1 16 1 8 1 4 1 7 1 11 2 3 1 17 3 5 1 5 2 1 1 2 2 4 1 6 1 10 1 3 1 10 1 4 1 2 1 5 1 457"/><path d="M0 45.5h456" stroke-dasharray="1 2 1 2 2 4 1 9 1 11 1 5 2 3 1 1 1 3 1 10 1 5 1 9 1 4 1 8 1 19 1 8 2 1 1 23 1 37 1 90 1 32 1 5 1 13 1 1 1 4 1 6 1 13 2 13 1 6 1 6 2 6 1 3 2 1 1 5 1 8 1 3 1 3 1 4 2 4 1 2 1 5 1 2 1 6 1 457"/><path d="M8 46.5h449" stroke-dasharray="1 3 1 7 1 5 1 2 1 4 1 10 1 3 1 1 1 11 1 5 1 3 1 1 1 11 1 3 1 2 1 2 1 2 1 1 2 7 1 9 1 4 1 5 1 16 1 8 1 52 1 43 1 10 2 28 1 8 2 9 2 7 1 3 2 1 3 1 1 3 1 2 1 11 1 2 1 13 1 1 3 5 1 2 1 5 1 4 1 2 1 8 1 7 1 3 1 1 1 2 1 2 1 1 1 3 1 2 1 5 1 1 2 3 1 4 2 457"/><path d="M0 47.5h457" stroke-dasharray="1 4 1 1 1 11 1 1 1 3 1 2 1 6 1 6 1 1 1 23 1 2 1 1 1 14 3 2 1 2 1 4 1 9 1 3 1 1 1 3 1 2 1 2 1 1 1 2 1 4 1 41 1 93 1 31 1 7 1 2 1 4 1 1 3 3 1 6 1 3 1 17 1 1 2 2 1 11 1 1 1 3 1 7 1 2 1 9 1 4 2 1 2 1 2 7 1 7 2 3 2 5 1 1 1 3 1 1 2 1 1 1 1 457"/><path d="M9 48.5h448" stroke-dasharray="3 6 1 5 1 2 2 3 2 7 1 4 1 4 1 4 1 12 3 12 1 7 1 3 1 4 1 11 1 1 1 5 2 4 1 1 1 135 1 5 1 24 1 16 2 9 2 1 1 3 1 17 1 17 2 13 1 1 1 5 1 9 1 3 1 2 1 6 1 7 1 12 1 11 1 6 1 1 1 457"/><path d="M2 49.5h448" stroke-dasharray="1 6 3 7 1 20 1 3 1 1 1 2 1 14 1 5 2 3 1 1 1 3 1 8 1 1 2 2 1 5 1 18 1 2 1 1 1 14 1 3 1 109 1 10 1 16 2 11 1 4 1 9 1 15 1 3 1 23 1 3 1 4 2 2 2 6 1 1 2 5 1 2 1 1 2 2 1 11 1 5 1 1 1 3 1 6 1 5 2 2 1 10 1 2 1 457"/><path d="M0 50.5h449" stroke-dasharray="1 4 1 3 2 11 1 4 1 2 1 2 1 4 1 9 1 7 1 2 1 4 1 10 1 1 1 1 1 3 1 1 3 5 1 9 1 1 1 6 1 5 1 1 1 58 1 34 1 18 1 32 1 1 1 29 2 1 1 1 1 13 1 15 1 30 1 1 2 2 1 2 2 1 1 6 1 1 1 2 1 5 1 21 2 5 1 5 1 2 1 8 1 4 1 1 1 457"/><path d="M0 51.5h457" stroke-dasharray="1 5 1 8 1 2 1 5 1 2 1 4 2 4 1 7 1 2 1 5 3 14 1 1 2 4 2 2 2 1 1 2 1 12 1 11 1 2 2 5 1 88 1 18 1 39 1 5 1 19 1 2 1 1 1 37 1 2 1 6 1 11 1 8 1 2 1 1 1 1 1 1 1 11 1 9 1 4 2 6 1 3 1 1 2 3 1 13 1 7 1 3 1 1 1 457"/><path d="M3 52.5h454" stroke-dasharray="1 9 1 1 3 2 2 6 1 2 1 1 2 8 1 6 1 4 2 5 1 11 2 2 2 6 1 3 1 4 1 3 1 13 1 5 1 17 1 142 1 1 1 10 1 13 1 7 1 9 1 31 1 20 1 1 1 1 2 2 2 2 1 4 1 3 1 8 1 4 1 7 1 1 1 4 1 2 1 3 1 3 1 7 1 2 1 5 1 457"/><path d="M1 53.5h456" stroke-dasharray="1 1 2 1 1 9 1 4 1 12 1 24 1 5 1 7 1 3 2 3 2 3 1 1 2 2 1 5 1 12 1 9 1 14 1 142 2 6 1 7 1 8 1 9 2 23 1 9 1 17 1 5 2 2 1 1 1 6 2 3 2 9 2 7 2 2 1 16 1 6 2 1 2 2 1 2 2 4 1 457"/><path d="M1 54.5h452" stroke-dasharray="1 1 1 2 1 1 1 4 1 3 1 10 1 5 1 8 2 2 1 9 1 8 2 14 1 4 1 11 1 1 4 7 1 2 1 6 1 131 1 22 1 3 1 8 1 9 2 3 1 9 2 6 1 11 1 4 1 5 1 2 2 17 1 1 1 2 2 1 1 1 1 4 1 4 1 28 4 1 1 1 1 4 2 4 1 3 2 1 1 2 1 1 1 4 1 457"/><path d="M2 55.5h453" stroke-dasharray="3 1 1 5 1 25 1 27 2 10 2 2 1 20 1 2 2 8 1 3 1 3 1 129 1 12 1 5 1 5 1 3 2 12 1 3 1 3 1 17 1 21 1 9 1 3 1 6 1 4 3 5 2 2 1 3 1 10 1 6 3 5 1 4 3 1 1 2 1 8 2 3 1 4 1 9 1 457"/><path d="M0 56.5h440" stroke-dasharray="1 4 1 4 1 1 1 3 1 7 3 2 1 21 1 30 1 1 1 4 1 12 2 5 1 1 2 1 1 7 1 8 1 66 1 62 1 1 1 9 1 9 1 3 1 8 1 5 1 1 1 9 1 3 1 4 1 8 1 5 2 12 1 2 1 12 1 2 3 11 3 7 1 2 1 7 1 3 1 1 1 1 1 2 1 1 1 11 1 5 1 1 1 457"/><path d="M7 57.5h449" stroke-dasharray="1 2 1 5 1 3 1 1 3 8 1 12 1 2 2 5 1 4 2 6 1 1 1 8 1 1 2 15 1 1 1 6 1 8 1 33 1 122 1 5 1 6 1 1 1 14 2 4 1 7 1 2 1 26 2 6 1 4 1 11 1 7 1 1 1 2 1 16 2 11 1 2 2 1 1 1 2 2 1 14 2 6 1 3 1 457"/><path d="M0 58.5h456" stroke-dasharray="1 2 1 11 1 6 1 1 1 3 1 2 1 7 1 10 1 8 1 3 1 3 1 3 1 10 2 1 1 5 1 4 1 7 1 2 2 6 1 3 2 1 1 12 1 120 1 17 1 4 2 1 1 2 1 4 1 5 1 5 1 1 2 1 1 11 1 7 1 20 1 4 1 2 2 9 1 1 1 3 2 6 2 6 1 7 1 9 1 1 1 6 1 9 1 12 2 3 2 7 1 1 1 457"/><path d="M0 59.5h456" stroke-dasharray="1 2 2 4 1 2 1 11 2 36 1 2 5 1 1 10 1 7 1 4 4 9 2 6 1 139 1 15 1 9 1 7 1 1 1 18 1 40 1 10 1 1 1 8 2 2 1 1 1 1 1 5 1 8 1 1 1 2 1 4 1 2 1 5 1 19 1 2 1 8 1 6 1 457"/><path d="M4 60.5h452" stroke-dasharray="1 6 2 3 1 4 1 9 1 23 1 3 1 3 1 4 4 2 1 10 1 2 1 1 1 3 1 18 1 7 1 103 1 21 1 8 1 2 1 27 1 2 1 5 1 44 1 14 1 6 1 9 1 1 1 4 1 5 2 1 2 4 1 8 1 2 1 2 1 9 1 5 1 11 1 5 1 2 1 1 1 4 2 457"/><path d="M4 61.5h451" stroke-dasharray="3 5 1 5 4 37 1 3 1 4 1 1 1 3 1 11 1 14 1 8 1 2 1 133 1 15 1 1 2 12 1 7 1 44 1 6 1 13 1 2 1 17 1 5 1 4 3 1 1 16 1 3 1 1 1 5 2 1 1 7 1 3 1 3 2 5 1 9 1 457"/><path d="M2 62.5h445" stroke-dasharray="1 1 1 4 1 4 1 1 1 1 2 1 1 2 1 3 1 2 1 1 1 4 1 22 1 7 1 8 1 18 1 1 1 1 2 7 1 22 1 148 1 4 1 4 1 3 4 6 1 44 1 1 1 19 2 1 1 8 1 2 1 1 1 2 1 8 1 1 1 1 1 6 2 2 2 1 3 3 1 1 1 4 1 8 1 3 1 457"/><path d="M3 63.5h450" stroke-dasharray="1 1 1 5 3 6 2 4 1 3 2 12 1 18 1 3 1 3 1 2 1 22 1 4 1 2 1 130 1 38 1 13 1 2 1 3 1 1 2 41 1 10 1 2 2 16 1 2 2 2 2 3 1 7 3 2 2 6 1 10 2 2 1 8 4 5 1 12 1 457"/><path d="M0 64.5h455" stroke-dasharray="1 6 1 3 1 2 1 1 1 3 1 41 1 4 1 17 1 6 1 4 1 146 1 20 1 9 1 13 1 7 1 18 1 8 1 7 1 36 1 2 1 3 1 16 2 2 1 13 1 2 1 8 1 2 1 3 1 22 1 457"/><path d="M22 65.5h426" stroke-dasharray="1 3 1 3 2 42 1 6 1 12 2 1 1 1 1 5 1 21 1 139 1 19 1 2 1 6 1 3 1 14 1 16 1 3 1 9 1 5 1 7 1 10 2 1 2 2 1 4 1 2 1 1 1 4 1 7 1 5 1 1 1 19 1 1 1 3 1 3 2 3 1 1 1 457"/><path d="M0 66.5h453" stroke-dasharray="3 7 1 2 1 3 1 1 1 2 1 3 1 1 2 3 1 32 2 3 1 2 1 2 1 2 2 6 1 1 1 1 1 3 1 1 1 1 1 4 2 13 1 135 1 4 1 33 1 5 1 2 1 2 1 8 1 18 1 1 1 5 1 4 1 6 2 2 1 9 1 3 1 2 1 2 1 2 1 1 1 2 1 2 1 5 1 4 1 1 2 2 1 2 1 1 1 10 1 2 1 1 1 2 1 3 3 1 1 4 1 7 1 457"/><path d="M1 67.5h453" stroke-dasharray="1 12 1 5 1 4 1 7 1 2 1 26 1 10 1 1 1 15 1 3 1 1 1 1 1 5 1 7 1 8 1 1 1 138 1 6 1 13 1 1 1 1 1 1 2 3 1 2 1 1 1 10 1 18 1 3 1 1 1 11 1 5 1 4 1 8 1 4 1 6 1 3 1 4 4 21 1 5 1 1 2 3 1 8 1 1 1 13 1 457"/><path d="M2 68.5h451" stroke-dasharray="1 1 1 2 2 2 1 7 3 5 1 10 1 50 1 3 1 3 1 12 1 2 1 124 1 38 1 11 1 2 2 27 1 31 1 1 1 3 2 2 1 5 1 3 2 5 3 16 1 2 1 3 2 5 1 1 1 6 2 7 1 1 1 1 2 7 1 1 1 5 1 457"/><path d="M2 69.5h455" stroke-dasharray="3 6 1 6 3 4 1 2 1 34 1 21 1 3 1 15 1 1 1 5 1 153 1 9 1 7 1 4 1 10 1 13 1 23 1 5 1 4 1 3 1 13 2 2 1 4 1 7 1 2 1 1 1 9 1 1 1 10 1 9 1 5 2 9 1 9 1 1 5 457"/><path d="M4 70.5h453" stroke-dasharray="1 12 1 5 1 11 1 27 1 21 1 3 1 8 2 7 1 5 1 3 1 4 1 162 1 18 1 5 1 6 1 1 1 25 1 1 1 6 1 3 1 10 1 1 1 5 1 5 1 1 1 5 1 4 1 3 2 2 1 15 2 5 1 1 1 2 1 10 1 5 1 1 6 457"/><path d="M7 71.5h448" stroke-dasharray="1 10 2 21 1 7 1 31 1 5 1 10 1 8 1 176 1 8 1 3 1 10 2 9 1 8 1 9 1 2 1 18 1 7 1 8 1 5 2 5 2 2 1 1 1 6 2 4 2 4 1 2 1 1 1 6 1 2 1 7 2 5 1 6 1 1 1 457"/><path d="M5 72.5h445" stroke-dasharray="2 1 1 10 1 13 1 11 1 1 1 33 1 5 1 9 2 2 1 5 1 4 1 148 1 9 1 36 1 13 1 5 1 42 1 3 1 1 1 5 2 2 2 3 3 1 1 6 2 7 2 1 1 4 1 11 1 2 2 10 1 1 1 457"/><path d="M4 73.5h452" stroke-dasharray="2 6 1 12 1 11 1 17 1 3 1 5 1 19 1 5 1 6 2 3 1 6 1 2 1 9 1 7 1 129 1 8 2 15 1 8 1 10 3 1 1 3 1 18 1 14 1 3 1 2 1 9 1 5 3 6 1 5 2 2 2 4 1 1 2 10 1 3 1 1 1 5 1 3 1 7 1 1 1 17 1 457"/><path d="M3 74.5h427" stroke-dasharray="3 1 1 4 1 8 1 1 2 3 1 4 1 6 1 13 1 4 1 24 2 11 1 1 2 16 1 1 1 3 1 144 2 1 1 2 1 4 1 7 1 9 1 10 1 4 1 5 1 23 1 1 1 20 1 3 1 2 1 4 1 1 1 4 1 6 1 1 1 2 2 1 2 5 3 2 1 4 2 4 1 5 1 457"/><path d="M7 75.5h445" stroke-dasharray="1 3 1 1 1 2 1 4 1 6 2 26 1 16 1 9 2 3 1 4 1 2 2 2 1 4 1 7 1 3 1 1 1 148 1 5 1 4 1 1 1 7 1 1 1 43 1 7 1 1 2 5 1 2 1 3 1 10 1 6 1 1 2 11 1 5 1 2 1 6 1 5 1 1 1 6 1 5 1 17 1 3 1 457"/><path d="M0 76.5h452" stroke-dasharray="1 3 1 4 1 1 1 1 1 1 1 1 1 1 1 5 1 4 1 52 1 4 1 8 2 20 1 1 1 41 1 99 1 2 2 1 1 3 1 10 1 4 1 1 1 25 1 17 1 19 1 10 1 6 1 6 1 2 2 4 2 14 1 2 1 10 1 2 1 5 1 2 1 5 1 3 1 3 1 3 1 1 1 457"/><path d="M5 77.5h442" stroke-dasharray="1 3 2 8 1 5 1 49 1 7 1 5 1 7 1 1 1 5 1 4 1 4 1 147 1 20 1 4 1 2 2 13 1 1 1 7 1 7 1 21 1 3 1 11 1 3 1 15 5 2 1 4 1 1 1 1 1 7 2 4 1 7 3 6 1 1 1 3 1 8 2 457"/><path d="M1 78.5h445" stroke-dasharray="1 5 1 4 1 6 1 3 1 17 1 1 1 11 1 3 1 7 1 15 1 6 1 6 1 6 1 2 1 2 1 14 1 29 1 108 1 2 1 11 1 3 1 8 1 11 1 36 1 5 1 3 1 21 1 1 1 2 1 1 2 1 2 8 1 2 2 1 1 4 1 1 3 6 1 6 2 6 1 3 1 5 1 4 1 457"/><path d="M0 79.5h451" stroke-dasharray="1 3 1 2 1 5 1 3 1 4 1 16 3 17 1 5 1 1 1 3 1 15 1 1 2 13 1 2 1 3 1 155 1 3 1 1 2 12 1 8 1 2 1 4 1 18 1 9 1 15 1 10 1 2 1 4 1 2 1 9 1 8 1 1 1 1 1 11 2 2 1 2 2 8 1 10 1 10 1 4 1 457"/><path d="M0 80.5h456" stroke-dasharray="1 3 1 2 1 2 1 2 2 2 2 6 1 11 1 3 1 18 2 11 1 12 1 4 1 3 1 2 1 14 1 19 1 119 1 33 1 8 1 2 1 9 1 1 1 3 1 3 1 10 1 2 1 9 1 13 1 1 1 1 1 5 2 8 1 3 1 9 1 11 2 2 2 8 1 1 1 1 1 6 4 9 1 8 1 4 1 457"/><path d="M0 81.5h456" stroke-dasharray="1 6 1 7 1 18 1 16 1 21 1 12 1 3 1 7 1 6 1 7 1 181 1 3 1 6 1 4 1 21 1 5 1 17 1 4 1 4 1 4 1 1 1 2 1 1 1 7 1 3 1 2 1 5 1 14 3 5 1 5 1 1 2 1 2 13 2 2 3 457"/><path d="M9 82.5h447" stroke-dasharray="1 1 2 3 1 6 1 8 1 1 1 4 1 33 1 5 1 3 1 6 1 5 1 5 1 10 1 15 1 137 1 24 1 6 1 1 1 6 1 36 1 7 1 2 1 3 1 8 1 2 1 1 1 2 1 4 1 3 6 4 1 14 1 1 1 7 1 9 1 15 1 6 2 457"/><path d="M3 83.5h453" stroke-dasharray="1 5 1 2 1 2 2 6 1 13 1 13 1 9 1 11 1 3 1 5 1 5 3 4 2 177 1 5 1 7 1 11 1 3 1 9 3 23 1 3 1 1 1 3 1 19 2 1 1 4 2 1 1 3 2 1 1 2 1 3 1 10 1 5 1 25 1 15 1 457"/><path d="M7 84.5h441" stroke-dasharray="1 1 1 4 1 1 1 2 1 3 1 5 1 1 1 41 1 1 1 1 1 3 3 1 1 3 1 2 1 16 1 13 1 5 1 145 1 5 1 5 1 15 1 1 1 10 2 5 1 13 1 9 1 3 1 7 2 7 1 3 1 4 2 1 2 4 2 1 2 5 1 7 1 4 1 1 1 4 1 12 3 6 1 3 2 3 1 457"/><path d="M2 85.5h448" stroke-dasharray="2 3 1 1 2 6 1 5 1 3 1 1 1 1 1 11 1 12 1 2 1 20 1 6 1 5 1 3 1 189 1 7 1 7 1 1 1 13 1 13 1 1 1 1 1 13 2 6 1 1 2 2 1 2 2 2 2 1 2 1 1 10 2 1 1 3 1 9 1 2 1 1 1 1 1 1 3 2 2 7 2 2 1 1 1 3 1 1 1 3 1 1 1 1 1 457"/><path d="M7 86.5h449" stroke-dasharray="1 29 1 15 1 10 1 15 1 2 1 16 1 4 1 25 1 127 1 13 1 8 1 20 1 5 1 8 2 24 2 9 1 4 1 1 1 2 1 3 1 2 1 11 1 3 1 9 1 3 1 1 1 9 2 4 1 2 1 3 1 7 1 1 1 3 1 13 1 457"/><path d="M0 87.5h446" stroke-dasharray="2 4 1 19 1 10 1 15 1 29 1 1 1 7 1 5 1 5 1 5 1 135 1 25 1 15 1 1 1 11 1 5 1 29 1 29 1 2 2 3 1 2 2 10 2 4 1 6 1 1 1 17 1 1 1 7 1 6 1 2 1 457"/><path d="M0 88.5h452" stroke-dasharray="1 5 1 10 1 32 1 13 1 2 1 7 1 9 1 7 1 3 1 13 1 13 1 119 1 43 1 4 1 28 1 13 1 13 1 1 1 9 1 7 3 5 1 1 1 1 1 8 1 1 1 6 1 5 2 4 2 10 1 1 2 18 1 1 1 1 1 457"/><path d="M0 89.5h450" stroke-dasharray="1 4 1 13 1 1 1 13 1 6 1 21 1 13 1 9 1 10 1 7 1 5 1 19 1 143 1 5 1 29 1 3 1 12 1 6 1 13 1 1 1 2 1 6 1 7 1 10 1 3 1 6 1 13 1 1 1 1 1 5 2 3 2 2 1 1 1 4 1 3 1 3 1 7 1 457"/><path d="M5 90.5h448" stroke-dasharray="1 3 1 1 1 30 1 20 1 3 1 11 1 1 1 4 1 1 1 2 2 6 1 3 1 3 1 5 1 169 1 1 1 1 2 2 1 2 2 3 1 9 1 3 1 25 1 1 1 1 1 9 1 2 2 6 2 5 1 9 3 7 1 4 3 4 1 2 1 2 1 2 1 1 1 1 1 1 1 2 1 2 3 14 1 3 1 3 1 2 1 457"/><path d="M1 91.5h449" stroke-dasharray="1 5 1 1 2 24 1 1 1 25 1 6 1 8 1 4 1 10 1 5 1 13 1 3 1 5 1 162 2 19 1 3 1 1 1 1 1 3 1 31 1 3 1 5 1 5 1 2 1 7 1 1 2 8 2 1 2 3 1 11 3 1 2 1 1 3 1 4 1 6 1 3 3 1 1 4 2 457"/><path d="M0 92.5h452" stroke-dasharray="1 1 1 2 1 1 3 5 1 11 1 3 1 30 1 7 1 13 2 7 1 7 1 13 1 9 1 143 1 17 1 2 1 2 1 2 2 1 1 13 1 9 1 11 1 25 1 7 1 5 1 6 1 2 1 9 1 4 1 2 1 2 1 3 3 1 1 1 1 1 1 2 1 1 1 1 1 2 1 10 3 9 1 457"/><path d="M5 93.5h437" stroke-dasharray="1 3 1 1 1 2 2 1 1 1 1 3 1 1 1 6 1 29 1 4 1 7 1 1 1 5 1 5 1 5 1 1 1 5 1 27 1 121 1 30 1 2 1 5 1 1 2 12 1 13 1 9 1 1 1 19 1 3 1 3 1 9 1 8 1 1 1 1 2 18 2 5 1 1 1 7 2 14 1 1 1 457"/><path d="M14 94.5h426" stroke-dasharray="1 5 1 12 1 48 1 10 1 43 1 103 1 13 1 23 1 9 2 32 1 5 1 3 1 17 1 3 1 15 1 2 1 4 1 2 1 2 1 2 1 5 1 1 1 16 1 3 1 7 1 4 1 1 1 1 1 4 1 457"/><path d="M1 95.5h434" stroke-dasharray="1 18 1 52 1 1 1 7 1 55 1 9 1 129 1 7 1 1 1 13 1 69 5 2 1 12 2 1 1 6 1 1 1 2 1 8 1 4 1 7 1 1 1 1 1 457"/><path d="M25 96.5h415" stroke-dasharray="1 7 1 23 1 6 1 8 1 1 1 1 1 2 1 10 1 21 1 28 1 12 1 108 1 10 1 11 1 81 1 9 1 6 1 2 1 3 1 1 2 11 2 7 1 5 3 3 1 1 2 1 1 4 1 457"/><path d="M1 97.5h439" stroke-dasharray="1 3 1 13 1 49 1 19 1 65 1 107 1 11 1 3 1 3 1 5 1 61 1 3 1 3 1 5 1 5 1 1 1 9 1 4 2 3 1 1 2 3 1 1 1 5 2 4 1 2 1 2 1 1 1 1 1 3 1 2 1 3 1 3 1 457"/><path d="M7 98.5h435" stroke-dasharray="1 7 1 3 1 23 1 15 1 29 1 193 1 11 1 27 1 15 1 7 1 5 1 11 1 9 1 1 1 7 1 2 2 3 1 1 1 9 1 1 1 2 1 2 2 1 1 5 2 2 1 6 1 3 1 3 1 457"/><path d="M7 99.5h435" stroke-dasharray="1 7 1 27 1 17 1 7 1 237 1 15 1 23 1 17 1 9 1 3 2 1 1 2 1 1 1 1 1 2 2 8 1 3 1 6 2 3 1 2 1 1 1 1 1 3 1 1 1 9 1 457"/><path d="M89 100.5h353" stroke-dasharray="1 237 1 25 1 1 1 3 1 9 1 1 1 1 1 1 1 6 1 5 2 9 1 3 1 4 1 4 1 3 1 10 1 12 1 457"/><path d="M309 101.5h133" stroke-dasharray="1 11 1 1 1 3 1 7 1 19 1 3 1 9 1 3 1 8 1 11 2 5 1 2 1 2 2 8 1 17 2 4 1 457"/><path d="M353 102.5h87" stroke-dasharray="1 11 1 5 1 1 1 5 1 3 1 11 1 1 1 4 1 2 1 1 1 8 2 3 1 2 2 2 2 1 1 1 1 5 1 457"/><path d="M379 103.5h50" stroke-dasharray="1 3 1 3 2 13 1 4 1 2 1 2 1 7 1 1 1 1 1 2 1 457"/><path d="M373 104.5h56" stroke-dasharray="1 2 1 4 1 5 1 9 1 3 1 9 2 6 1 5 1 1 2 457"/><path d="M339 105.5h91" stroke-dasharray="1 3 1 17 1 1 1 9 1 1 1 1 1 15 1 2 1 5 2 7 3 2 3 1 2 5 1 1 1 457"/><path d="M359 106.5h69" stroke-dasharray="1 9 1 16 1 8 1 3 1 3 2 4 1 3 1 2 1 10 1 457"/><path d="M351 107.5h75" stroke-dasharray="1 11 1 22 1 16 3 2 1 2 1 1 2 1 2 2 2 3 1 457"/><path d="M367 108.5h53" stroke-dasharray="1 4 1 4 1 7 1 18 1 7 2 5 1 457"/><path d="M355 109.5h59" stroke-dasharray="1 3 1 17 1 2 1 3 1 4 1 1 1 2 1 6 1 6 1 4 1 457"/><path d="M351 110.5h63" stroke-dasharray="1 5 1 11 1 5 1 1 1 9 1 7 1 9 1 1 1 2 2 1 1 457"/><path d="M343 111.5h68" stroke-dasharray="1 5 1 7 1 9 1 1 1 19 1 1 1 3 2 4 1 8 1 457"/><path d="M357 112.5h39" stroke-dasharray="1 22 1 8 1 2 1 2 1 457"/><path d="M392 113.5h8" stroke-dasharray="1 6 1 457"/></g><g stroke="#2585fc"><path d="M22 2.5h369" stroke-dasharray="1 325 1 41 1 457"/><path d="M337 3.5h16" stroke-dasharray="1 14 1 457"/><path d="M183 4.5h242" stroke-dasharray="1 240 1 457"/><path d="M2 5.5h432" stroke-dasharray="1 11 1 6 1 27 1 8 1 7 1 8 1 10 1 6 1 24 1 2 1 56 2 10 1 9 1 10 1 4 1 18 2 30 1 62 1 1 1 18 1 17 1 11 1 20 1 8 1 8 1 4 1 7 1 457"/><path d="M38 6.5h359" stroke-dasharray="1 13 1 19 1 36 1 7 1 113 1 7 1 79 1 29 1 26 1 19 1 457"/><path d="M24 7.5h339" stroke-dasharray="1 77 1 137 1 34 1 26 1 59 1 457"/><path d="M19 8.5h410" stroke-dasharray="1 14 1 89 1 3 1 29 1 13 1 17 1 10 1 9 1 28 1 1 1 23 2 2 1 25 1 5 2 9 1 5 1 4 1 43 1 14 1 3 1 40 1 457"/><path d="M424 9.5h1"/><path d="M22 10.5h80" stroke-dasharray="1 3 1 74 1 457"/><path d="M39 11.5h406" stroke-dasharray="2 7 1 15 1 22 1 17 1 17 1 4 1 8 1 13 1 18 2 14 1 40 1 16 1 8 1 1 1 26 1 2 1 1 1 1 1 15 2 3 1 4 1 1 2 13 1 10 1 14 1 9 1 11 1 6 1 19 1 12 1 12 1 10 1 457"/><path d="M5 12.5h452" stroke-dasharray="1 5 1 2 1 5 1 8 1 10 2 6 1 9 1 5 1 4 1 7 1 2 1 6 1 4 1 5 1 6 1 14 2 5 2 13 1 15 1 1 1 9 1 14 1 3 1 5 1 18 1 11 1 2 1 13 1 10 1 8 1 14 1 7 1 8 1 4 2 18 1 1 1 1 1 7 1 1 1 4 1 6 1 11 1 11 2 3 1 9 1 33 1 2 1 4 1 3 1 15 1 2 1 3 1 1 1 457"/><path d="M5 13.5h418" stroke-dasharray="1 18 1 3 1 2 1 45 2 11 1 16 1 17 1 28 2 7 1 12 2 8 1 40 1 2 1 1 1 1 1 1 1 1 1 22 2 3 1 33 1 1 1 21 1 9 1 7 1 23 2 23 1 18 1 11 1 457"/><path d="M239 14.5h1"/><path d="M44 15.5h396" stroke-dasharray="1 13 1 25 1 6 1 8 1 34 1 42 1 22 1 3 1 46 1 24 1 37 1 10 1 49 1 41 1 17 1 2 1 457"/><path d="M45 16.5h162" stroke-dasharray="1 154 1 5 1 457"/><path d="M30 17.5h424" stroke-dasharray="1 5 2 2 1 48 1 14 1 19 1 15 1 13 1 7 1 5 1 10 1 5 1 24 1 26 1 14 1 11 1 9 1 19 1 2 1 22 2 74 1 19 1 15 1 11 1 8 1 457"/><path d="M3 18.5h434" stroke-dasharray="1 16 1 22 1 7 1 35 1 24 1 26 2 12 1 77 1 65 1 11 2 35 1 26 1 22 1 1 1 23 1 13 1 457"/><path d="M123 19.5h1"/><path d="M13 20.5h291" stroke-dasharray="1 1 1 9 1 18 1 46 1 17 1 63 1 40 1 4 1 4 1 19 1 4 1 3 1 18 1 24 1 5 1 457"/><path d="M1 21.5h225" stroke-dasharray="1 6 1 44 1 44 1 12 1 38 1 25 1 12 1 30 1 4 1 457"/></g><g stroke="#1c80fa"><path d="M335 3.5h7" stroke-dasharray="1 5 1 457"/><path d="M416 4.5h1"/><path d="M22 5.5h419" stroke-dasharray="1 65 1 11 1 8 1 22 1 52 1 6 1 162 1 42 1 41 1 457"/><path d="M11 6.5h397" stroke-dasharray="1 28 1 140 1 35 1 35 1 129 1 23 1 457"/><path d="M201 7.5h152" stroke-dasharray="1 150 1 457"/><path d="M9 8.5h397" stroke-dasharray="1 63 1 68 1 102 2 35 1 122 1 457"/><path d="M156 10.5h264" stroke-dasharray="1 262 1 457"/><path d="M1 11.5h421" stroke-dasharray="1 14 1 12 1 13 1 1 1 14 1 1 1 9 1 16 1 12 1 22 1 20 1 47 1 7 1 1 1 26 1 11 1 64 1 20 1 10 2 34 1 44 1 457"/><path d="M1 12.5h449" stroke-dasharray="1 1 1 11 1 2 1 11 1 15 1 19 1 6 1 7 1 29 1 1 2 14 1 4 1 3 1 5 2 6 1 11 1 6 1 3 1 6 1 14 2 12 1 3 1 9 1 4 1 5 1 12 1 1 1 9 1 5 1 28 1 20 1 24 1 1 1 5 1 9 1 13 1 14 1 1 1 3 1 3 1 5 1 1 1 5 1 7 1 10 1 3 1 12 1 457"/><path d="M58 13.5h388" stroke-dasharray="1 5 1 14 1 15 1 1 1 23 1 29 1 17 1 40 1 1 1 1 1 3 1 18 1 5 1 11 1 21 1 35 2 3 1 8 1 3 1 42 1 11 1 6 1 17 1 7 1 25 1 457"/><path d="M47 14.5h1"/><path d="M50 15.5h253" stroke-dasharray="1 52 1 11 1 99 1 45 1 40 1 457"/><path d="M201 16.5h1"/><path d="M60 17.5h352" stroke-dasharray="1 36 1 2 1 5 1 1 2 77 1 12 1 13 1 43 1 152 1 457"/><path d="M11 18.5h437" stroke-dasharray="1 21 1 108 1 4 1 12 1 2 1 41 1 28 1 37 1 3 1 48 1 40 1 36 1 43 1 457"/><path d="M36 20.5h398" stroke-dasharray="1 6 1 31 1 40 2 21 1 52 1 10 1 158 1 70 1 457"/><path d="M112 21.5h274" stroke-dasharray="1 18 1 105 1 55 1 91 1 457"/><path d="M45 22.5h82" stroke-dasharray="1 11 1 4 1 41 1 14 1 2 1 3 1 457"/><path d="M1 23.5h232" stroke-dasharray="1 6 1 15 1 3 1 1 1 18 1 36 1 1 1 5 1 23 1 9 1 3 1 21 1 20 2 16 1 13 1 1 1 18 1 3 1 457"/><path d="M9 24.5h384" stroke-dasharray="2 1 1 25 1 21 1 13 1 5 1 22 1 10 1 1 1 11 1 13 1 21 1 12 1 15 1 13 1 18 1 28 1 1 1 27 1 4 1 10 1 10 2 32 1 26 2 10 1 6 1 457"/><path d="M9 25.5h360" stroke-dasharray="2 14 1 29 1 5 1 4 1 10 1 2 1 47 1 1 1 1 1 7 1 10 1 6 1 37 1 3 1 10 1 15 1 19 1 4 1 54 1 31 1 16 1 11 1 457"/><path d="M16 26.5h402" stroke-dasharray="1 30 1 4 1 13 1 7 2 14 1 3 1 14 1 1 2 5 1 2 1 8 1 2 1 8 1 19 1 14 1 9 1 1 1 5 1 2 1 5 1 37 1 1 1 3 1 1 1 8 1 1 1 11 1 25 1 1 1 5 1 26 1 15 1 36 1 8 2 19 1 457"/><path d="M6 27.5h442" stroke-dasharray="1 9 1 11 1 15 1 13 1 11 1 29 2 2 1 1 2 8 1 4 1 2 1 1 2 5 1 8 1 1 1 24 1 2 1 6 1 10 1 24 1 31 1 12 1 6 1 1 1 10 1 7 1 2 1 17 1 20 1 6 2 19 1 13 1 9 1 4 1 8 1 44 1 5 1 457"/><path d="M3 28.5h448" stroke-dasharray="1 14 1 21 1 5 1 7 1 10 1 9 2 19 1 4 1 4 1 2 2 11 1 16 1 23 2 14 1 1 1 6 1 1 2 4 1 1 1 64 1 5 1 5 1 25 2 9 1 1 2 9 1 6 1 2 1 1 1 3 1 8 1 1 1 5 1 6 1 2 1 6 1 31 1 33 1 7 2 457"/><path d="M4 29.5h451" stroke-dasharray="1 2 1 30 1 2 1 3 1 2 1 12 1 34 1 4 2 3 1 1 1 4 1 2 2 5 1 1 1 10 1 2 1 6 1 5 1 10 1 3 1 1 1 2 1 4 1 15 1 27 1 13 1 9 1 3 1 2 1 6 1 1 1 2 1 2 1 7 1 7 1 5 1 2 1 4 1 11 1 1 1 13 1 14 1 8 1 1 1 10 1 11 1 3 1 13 1 36 1 11 1 3 1 7 2 457"/><path d="M3 30.5h450" stroke-dasharray="1 18 2 5 1 11 2 27 1 5 1 6 1 4 1 6 2 4 1 3 2 3 2 1 1 2 1 1 1 14 1 1 1 1 2 6 1 3 1 22 1 1 2 2 2 1 1 11 1 3 1 1 1 3 1 10 1 11 1 8 1 1 1 3 1 14 1 1 1 2 1 12 1 16 1 13 2 3 1 1 1 12 1 3 1 8 1 1 1 10 1 1 1 8 1 2 2 14 1 5 1 36 1 11 2 14 1 457"/><path d="M23 31.5h428" stroke-dasharray="1 5 1 3 1 18 2 20 1 3 1 8 2 7 1 7 1 1 1 3 1 4 1 15 1 1 2 2 2 2 2 10 1 8 1 2 1 7 2 6 1 15 1 16 2 39 1 6 1 12 1 1 1 3 1 1 2 9 1 9 1 1 1 9 1 8 1 8 1 4 1 10 1 7 3 1 1 7 2 8 1 6 1 1 1 4 1 6 1 10 1 3 1 7 1 1 1 13 1 9 1 457"/><path d="M5 32.5h452" stroke-dasharray="1 16 2 6 1 11 1 29 1 2 1 7 1 1 1 9 1 8 1 3 1 1 2 8 1 16 1 1 1 4 1 7 2 3 1 1 1 5 1 2 2 16 2 14 2 20 1 2 1 5 1 1 1 3 1 1 1 1 1 3 1 5 1 12 2 9 1 2 1 1 1 1 1 7 1 1 1 5 1 3 1 14 1 5 1 7 2 3 2 6 1 20 1 4 1 14 1 24 1 2 2 5 1 4 1 18 1 9 1 457"/><path d="M4 33.5h442" stroke-dasharray="1 12 1 17 1 2 1 10 1 4 1 5 2 1 1 2 1 2 1 16 1 6 1 1 1 8 1 7 1 11 1 2 1 9 1 14 1 3 1 2 1 7 1 1 1 2 1 4 1 10 1 7 3 3 1 2 1 17 2 14 3 5 1 1 1 17 2 1 2 3 2 7 1 2 1 5 1 10 1 5 1 1 1 4 1 2 1 17 1 2 1 12 1 3 1 5 2 1 2 4 1 5 1 13 1 19 1 7 1 10 1 12 1 457"/><path d="M5 34.5h440" stroke-dasharray="1 2 1 25 1 13 1 16 1 2 2 6 1 5 1 3 6 8 1 1 1 8 1 12 1 5 1 6 2 3 2 1 1 31 3 16 1 4 1 2 1 9 1 7 1 29 1 5 1 2 2 5 1 1 2 3 1 7 2 2 1 2 1 1 1 10 1 4 1 2 1 6 1 1 2 12 1 8 1 4 1 14 2 7 1 1 1 7 1 15 1 22 1 2 1 9 1 7 1 1 1 457"/><path d="M9 35.5h448" stroke-dasharray="1 19 2 16 1 3 1 3 1 26 1 3 1 2 2 5 1 8 3 9 1 4 1 8 1 1 1 2 2 2 2 3 2 6 1 2 1 5 1 3 1 11 1 4 1 28 1 6 1 5 1 5 1 13 1 1 1 12 2 2 2 1 2 1 1 21 1 10 1 1 1 5 1 12 1 4 1 7 1 24 1 3 1 3 1 5 1 31 1 18 1 6 1 4 1 9 1 4 1 1 1 457"/><path d="M13 36.5h444" stroke-dasharray="1 2 1 6 1 2 1 1 1 4 1 6 1 1 1 4 1 4 1 2 1 1 1 9 1 6 1 3 1 10 1 1 2 4 1 8 2 2 1 6 1 2 1 2 1 1 1 6 1 3 1 1 1 1 2 2 1 8 1 3 2 3 1 3 1 4 1 11 1 8 1 11 1 16 1 10 2 7 1 5 1 6 1 6 1 12 2 10 1 3 1 9 1 9 1 2 2 21 1 1 1 7 1 1 2 18 1 1 1 4 1 20 1 2 1 19 1 10 1 6 1 2 1 10 1 2 1 1 1 457"/><path d="M1 37.5h456" stroke-dasharray="1 2 1 2 1 3 1 6 1 9 1 3 2 3 1 9 1 4 2 3 1 5 1 10 1 14 1 2 1 1 1 15 1 9 2 4 1 3 2 5 1 6 1 7 1 4 1 3 2 7 1 2 1 11 1 3 1 2 1 7 1 32 2 20 1 1 1 4 1 1 1 1 1 6 1 5 1 2 1 1 2 4 2 14 2 12 2 3 1 4 1 1 1 1 1 3 2 5 1 5 1 13 1 4 1 1 1 3 1 19 2 12 1 5 1 7 1 30 2 457"/><path d="M3 38.5h453" stroke-dasharray="1 3 1 4 1 3 1 1 1 11 1 3 1 5 1 7 1 3 2 3 1 16 1 5 1 2 1 2 1 6 1 8 1 10 1 2 1 17 1 2 1 3 1 11 1 7 2 18 1 2 1 2 1 2 1 1 1 2 1 16 3 2 1 17 1 4 2 9 1 3 1 1 1 2 1 3 4 9 1 13 1 2 2 6 1 2 2 13 1 2 1 3 1 9 1 1 1 10 1 14 1 2 1 5 1 5 1 3 1 25 1 44 1 457"/><path d="M30 39.5h427" stroke-dasharray="1 8 1 20 1 1 1 8 1 4 1 3 1 9 1 9 1 1 1 21 1 2 2 9 1 5 1 5 1 2 2 1 3 4 1 3 1 6 2 10 1 5 1 28 1 22 1 4 1 2 1 6 1 1 2 1 1 10 1 4 3 11 1 18 1 8 1 1 2 6 1 2 1 12 1 7 1 3 1 5 1 2 1 6 1 5 1 4 1 10 1 7 1 3 1 2 1 16 1 7 1 3 1 13 1 457"/><path d="M5 40.5h447" stroke-dasharray="1 3 1 1 1 1 1 2 1 5 1 8 2 1 3 5 1 6 1 8 1 3 1 15 1 3 1 6 2 11 1 4 1 3 1 8 2 2 1 4 1 11 1 2 1 11 1 3 1 13 2 12 1 16 1 12 1 1 1 2 1 25 3 6 1 4 1 20 3 1 2 14 1 19 1 2 1 5 1 8 2 2 1 1 1 6 1 2 1 17 2 32 1 2 1 1 1 3 1 3 1 4 1 1 1 12 1 7 1 457"/><path d="M10 41.5h447" stroke-dasharray="1 20 1 3 2 5 1 19 1 1 1 10 1 12 1 22 2 3 1 6 2 12 1 1 3 1 1 12 2 2 1 7 2 5 1 2 1 3 1 3 1 5 1 6 1 5 2 8 1 4 1 2 1 3 1 1 1 4 1 9 1 2 1 2 1 7 1 5 2 3 1 1 1 1 1 15 1 1 1 1 1 2 1 4 1 6 1 6 1 7 1 4 1 2 1 1 2 2 1 6 1 8 2 4 1 1 1 2 1 13 1 34 1 1 1 14 1 1 1 23 1 457"/><path d="M14 42.5h415" stroke-dasharray="1 4 1 1 2 1 1 5 1 3 3 2 1 2 1 1 1 7 1 3 1 7 1 13 1 1 1 5 1 5 1 3 2 11 2 7 1 2 1 7 1 7 1 5 1 12 3 1 1 1 2 4 1 2 1 7 2 1 1 2 1 5 1 3 1 4 1 4 2 2 2 1 1 3 1 4 1 12 1 2 1 3 1 3 3 1 1 3 1 1 1 3 1 2 1 1 1 3 1 2 1 13 1 5 1 5 2 3 1 1 2 1 2 1 1 20 1 1 1 1 1 1 1 10 1 10 1 7 1 2 1 13 1 19 1 6 1 16 1 457"/><path d="M1 43.5h442" stroke-dasharray="1 6 1 5 1 1 1 7 1 3 1 1 2 2 1 4 1 1 2 5 2 2 1 3 2 10 1 27 1 14 1 1 1 2 1 3 1 7 1 5 2 2 1 4 1 4 1 2 1 4 1 2 2 2 1 7 1 1 1 11 1 11 1 2 1 17 1 2 1 1 1 11 1 5 1 4 1 12 1 9 3 16 1 2 1 3 2 4 1 1 1 4 1 2 1 13 1 17 1 10 1 2 1 15 1 3 1 6 1 45 1 7 1 3 1 457"/><path d="M11 44.5h438" stroke-dasharray="1 4 1 7 1 6 2 6 1 2 1 3 1 1 1 4 1 2 1 18 1 4 1 1 1 13 1 4 1 4 1 4 1 3 1 4 2 6 1 6 1 8 1 5 2 7 2 2 1 3 1 11 1 5 2 7 1 8 1 3 1 13 1 29 1 1 2 1 1 5 1 1 1 2 1 1 1 1 1 7 1 2 1 19 1 5 1 6 2 2 1 4 2 2 1 1 1 5 2 8 2 4 3 2 1 15 1 3 1 6 1 37 1 15 1 3 1 5 1 457"/><path d="M11 45.5h446" stroke-dasharray="1 1 2 6 1 13 1 6 1 5 1 7 1 1 1 10 1 2 1 9 1 1 2 8 1 3 1 2 2 2 2 2 2 9 1 2 1 1 1 1 1 5 1 16 2 4 1 1 1 2 1 3 1 1 1 9 1 13 1 5 1 11 1 36 1 2 1 3 1 10 1 6 1 16 1 3 1 1 1 2 1 2 1 11 1 5 1 3 2 1 1 7 2 6 1 11 4 11 1 2 1 4 2 4 1 1 1 9 1 14 1 14 1 22 1 3 1 2 1 1 1 457"/><path d="M1 46.5h451" stroke-dasharray="1 4 1 7 1 4 1 1 1 2 1 3 1 10 1 7 1 5 1 3 1 2 1 4 1 30 1 4 1 2 1 3 1 5 3 2 1 2 1 5 2 1 1 4 2 8 1 1 1 1 1 12 1 9 3 2 2 1 2 3 1 2 1 3 1 13 1 8 1 18 1 14 1 1 1 11 1 4 1 2 2 1 1 17 1 1 1 1 1 2 1 6 1 4 1 13 3 2 1 3 1 3 1 2 1 2 1 6 1 1 1 1 2 5 1 1 2 16 2 7 1 1 1 5 1 8 1 30 1 10 1 457"/><path d="M6 47.5h435" stroke-dasharray="1 1 1 23 1 12 1 2 1 1 1 14 1 6 1 5 1 4 1 7 1 6 1 4 2 1 1 1 3 1 1 1 1 3 2 5 1 8 1 1 1 8 1 4 2 2 1 3 1 2 1 1 1 1 1 7 2 14 1 3 1 3 1 17 1 27 1 4 2 1 1 2 1 3 1 4 1 2 1 2 2 1 1 4 1 6 1 2 1 2 2 3 1 1 1 2 1 6 3 9 1 6 2 3 2 2 1 3 1 1 1 5 2 3 2 2 1 8 2 7 2 4 1 5 1 11 1 26 1 2 1 6 1 4 1 457"/><path d="M4 48.5h437" stroke-dasharray="1 1 1 7 1 24 1 8 1 5 1 8 4 1 1 3 1 7 1 17 1 4 1 3 1 1 2 1 1 19 3 2 1 1 1 1 1 3 1 1 1 2 2 5 1 13 1 1 1 3 2 1 1 26 1 1 1 1 1 29 1 7 1 3 1 1 1 3 1 1 1 1 1 2 3 1 1 2 2 2 1 2 1 3 2 3 2 1 2 1 1 2 1 1 1 2 1 2 1 1 1 6 1 16 1 2 2 3 1 1 1 2 1 5 1 4 1 9 1 8 1 2 1 2 1 11 2 11 1 18 1 13 2 457"/><path d="M8 49.5h433" stroke-dasharray="1 5 1 8 1 5 2 4 1 2 2 1 2 9 1 4 1 3 1 1 1 2 1 1 1 5 1 5 1 16 2 2 1 2 1 1 2 1 1 1 1 13 1 6 1 6 1 19 1 9 1 5 1 23 1 9 1 1 1 7 1 4 1 7 1 8 1 8 1 3 1 1 1 2 1 3 1 5 2 1 1 7 1 4 1 3 1 5 1 4 1 3 1 1 1 1 1 5 1 8 1 1 2 3 1 11 1 1 1 6 1 1 1 2 2 17 1 63 2 457"/><path d="M8 50.5h415" stroke-dasharray="1 5 1 20 1 3 1 3 3 4 1 1 1 1 1 2 1 3 1 8 1 7 1 1 1 1 1 5 1 7 2 1 1 1 1 7 1 1 1 4 1 9 1 1 1 1 3 4 2 1 1 12 1 2 1 2 1 1 1 23 1 2 1 10 1 5 1 13 1 4 1 7 1 8 1 3 1 9 1 2 3 1 1 4 1 5 1 2 1 4 1 2 1 5 1 4 1 6 1 4 3 2 1 1 1 6 1 5 1 1 3 2 2 3 1 2 1 6 2 7 1 4 1 8 1 11 1 1 1 27 1 7 1 457"/><path d="M2 51.5h392" stroke-dasharray="1 11 1 20 1 4 1 1 2 1 1 1 1 2 3 9 1 3 1 4 1 11 1 4 1 3 1 4 1 28 4 1 1 2 1 1 1 12 1 9 1 40 1 10 1 7 1 22 1 4 1 1 1 5 1 2 1 1 1 4 1 2 1 7 1 9 1 1 1 1 1 2 1 3 1 2 1 2 1 2 1 1 1 1 2 1 1 1 1 2 1 2 1 8 1 7 2 9 1 8 1 3 1 14 1 1 1 13 1 457"/><path d="M24 52.5h431" stroke-dasharray="1 10 1 4 2 5 3 1 2 6 1 4 1 2 1 2 2 10 2 7 1 13 2 1 1 2 1 19 1 2 1 1 1 1 3 6 1 3 1 4 2 2 1 12 1 26 1 10 1 21 1 4 1 3 1 8 1 1 1 1 1 1 1 2 1 1 1 2 1 4 2 9 1 4 1 3 1 3 1 7 1 3 1 1 1 2 1 6 1 2 1 7 1 8 1 7 2 2 1 5 1 4 1 7 1 2 1 6 1 4 2 3 1 3 2 19 1 7 1 15 1 7 1 7 1 457"/><path d="M26 53.5h429" stroke-dasharray="1 3 1 2 1 10 1 2 1 1 1 2 1 10 1 2 1 5 1 13 1 1 1 11 1 4 1 3 1 1 1 12 1 4 1 10 1 10 1 3 1 2 1 16 1 19 1 19 1 10 1 22 2 1 2 1 2 1 1 1 1 2 1 1 1 5 1 1 1 1 1 8 3 2 1 4 1 12 2 10 1 5 1 1 1 4 1 2 1 3 1 4 1 6 1 9 1 1 2 4 1 2 1 3 1 13 1 3 1 13 1 29 1 6 1 8 1 457"/><path d="M7 54.5h442" stroke-dasharray="1 4 1 7 1 5 1 5 2 11 1 3 1 3 1 1 1 5 1 1 1 4 2 2 1 7 1 15 1 1 1 1 1 4 1 1 1 1 1 1 1 1 1 2 1 8 2 3 1 5 2 1 1 2 1 1 1 6 1 2 1 20 1 11 1 7 1 5 1 5 2 15 1 1 1 1 1 1 1 9 1 10 3 1 1 3 2 4 1 8 1 1 1 8 1 7 1 2 1 10 1 4 1 6 1 4 2 4 1 7 1 2 2 1 1 10 1 3 1 3 5 1 1 5 1 1 1 12 1 3 1 53 1 457"/><path d="M22 55.5h410" stroke-dasharray="1 7 1 25 2 3 1 7 1 3 1 1 1 4 1 2 1 2 1 7 1 1 2 2 1 8 1 3 1 3 1 8 1 3 1 6 1 5 1 2 1 10 1 1 1 4 1 26 2 2 1 10 2 21 1 11 1 10 2 1 1 4 1 1 1 5 1 11 2 7 1 3 1 1 1 3 1 4 1 9 3 7 2 1 1 16 1 3 1 2 1 25 1 3 2 2 1 4 1 39 2 457"/><path d="M1 56.5h450" stroke-dasharray="1 20 1 11 5 1 1 2 1 1 1 3 1 3 1 6 1 2 1 1 2 11 2 11 1 21 1 5 2 3 3 3 1 7 1 2 1 4 3 5 1 4 1 4 1 20 1 9 1 1 1 8 1 6 1 10 1 2 1 18 1 3 1 1 1 2 1 6 1 5 2 12 1 3 1 4 1 8 2 4 4 7 1 8 1 2 1 3 2 10 1 5 1 4 1 7 2 3 1 4 1 1 1 4 1 27 1 8 1 5 2 12 1 9 1 1 1 457"/><path d="M4 57.5h439" stroke-dasharray="1 9 1 3 1 7 1 5 1 1 1 1 2 1 1 13 2 4 1 4 3 17 1 2 2 4 1 2 1 21 1 12 1 1 1 1 1 5 1 2 1 2 1 8 1 5 1 4 1 17 1 9 1 16 1 2 1 11 1 17 1 8 1 1 1 2 1 2 2 3 1 2 1 2 1 2 2 19 2 2 1 12 1 2 1 5 1 2 1 10 2 2 2 12 1 2 1 4 1 1 1 5 1 2 1 1 2 2 1 1 1 12 1 13 1 20 1 5 1 1 1 3 1 457"/><path d="M4 58.5h446" stroke-dasharray="1 8 1 3 1 2 1 6 1 2 1 1 1 2 3 3 1 6 1 2 1 1 2 1 1 1 1 2 1 8 1 5 1 3 1 8 1 4 1 5 1 2 1 1 2 11 1 8 1 19 1 11 1 11 1 6 1 34 1 6 1 15 1 6 1 2 1 4 1 2 1 18 1 2 1 9 1 7 2 14 1 3 1 1 1 1 1 1 2 12 1 4 1 2 1 2 1 1 1 6 2 2 1 3 1 1 1 1 1 17 1 7 1 1 2 7 1 2 1 23 1 5 1 1 1 10 1 457"/><path d="M2 59.5h453" stroke-dasharray="1 14 1 18 1 5 1 17 1 15 1 7 1 2 3 2 1 7 1 6 1 5 2 2 3 1 1 3 1 17 1 13 1 4 1 8 1 48 1 21 1 3 2 3 2 5 1 5 2 1 1 2 1 2 1 1 2 1 2 6 1 6 1 3 1 1 1 13 3 2 1 4 1 3 1 2 1 4 1 3 1 2 1 2 1 1 1 3 1 2 2 3 1 2 1 1 1 11 2 3 1 2 1 11 1 31 1 1 1 3 1 5 1 8 1 2 1 1 1 457"/><path d="M8 60.5h421" stroke-dasharray="1 9 1 1 1 14 2 4 1 11 1 6 1 6 1 15 2 1 2 3 1 3 1 4 1 10 1 2 1 1 1 1 1 9 1 1 1 2 1 4 1 14 1 30 1 1 1 1 1 12 1 7 1 10 1 24 1 2 1 3 1 2 1 4 1 2 2 1 1 2 1 5 1 3 1 1 1 6 2 1 1 5 4 7 2 6 1 2 1 1 1 1 1 1 1 3 1 1 1 7 2 3 2 2 1 3 1 2 1 2 1 2 1 5 1 8 1 1 1 2 1 26 1 19 1 457"/><path d="M1 61.5h456" stroke-dasharray="1 6 1 17 1 1 1 5 1 8 1 3 1 2 1 2 1 2 1 4 2 1 2 6 1 3 1 8 1 4 1 15 2 1 1 4 2 1 1 2 1 2 1 5 1 2 1 20 2 2 1 25 1 17 1 11 1 15 1 7 1 14 1 3 1 3 1 3 1 3 1 2 1 2 1 2 1 2 1 5 1 1 1 2 2 4 1 1 4 5 2 6 2 7 1 1 1 1 2 4 1 4 6 3 1 1 1 3 1 1 1 7 2 2 1 1 1 4 1 17 1 13 1 25 1 21 1 457"/><path d="M6 62.5h450" stroke-dasharray="1 1 1 13 1 4 1 4 1 6 2 6 1 2 1 2 2 9 1 2 2 1 1 1 1 2 1 8 1 6 1 2 1 1 1 3 1 2 1 5 1 2 1 5 1 1 1 5 2 14 1 10 1 3 1 15 1 47 1 1 1 1 1 3 1 17 1 2 1 1 1 6 1 4 1 9 1 6 1 1 1 1 1 9 1 11 2 5 1 1 2 1 1 13 1 1 1 5 1 1 1 1 1 1 1 6 1 2 1 10 1 3 1 4 1 29 1 19 1 19 1 4 1 2 1 457"/><path d="M8 63.5h447" stroke-dasharray="1 1 1 12 2 10 1 3 2 10 2 1 1 4 1 2 1 5 1 1 1 1 1 5 1 1 1 6 2 5 1 1 1 2 1 3 2 6 1 2 1 2 1 2 1 8 2 10 1 7 1 19 1 3 1 39 1 7 1 1 1 5 1 1 1 3 1 8 1 1 2 2 1 2 1 5 1 13 1 5 1 6 1 6 2 6 1 2 1 3 1 4 1 6 1 2 2 2 1 12 1 2 3 5 1 5 1 3 2 1 1 3 2 8 1 3 1 44 1 26 1 457"/><path d="M1 64.5h455" stroke-dasharray="1 1 1 8 1 2 1 11 1 4 2 1 1 4 1 13 1 4 1 3 1 8 1 3 1 3 1 5 1 1 2 1 1 1 1 1 2 1 2 11 4 1 1 2 1 3 1 4 1 4 1 7 1 2 1 4 1 23 1 31 1 22 1 14 1 9 1 2 1 3 2 1 1 2 1 6 1 3 1 18 1 1 1 3 1 1 1 2 1 10 3 19 1 2 2 5 1 1 1 1 1 2 1 7 2 4 1 2 1 3 2 2 1 33 1 4 1 16 2 4 1 1 1 8 1 457"/><path d="M3 65.5h444" stroke-dasharray="1 2 1 1 1 2 1 2 2 5 1 13 2 4 1 2 1 1 1 5 3 4 1 2 1 1 1 3 1 1 3 3 1 2 1 3 1 17 3 3 1 1 1 6 1 4 1 1 1 5 1 5 1 6 1 80 1 4 1 2 1 3 1 8 1 2 1 12 1 5 1 8 1 7 1 5 1 1 1 6 1 12 1 3 1 7 1 3 1 2 1 15 1 2 1 4 1 10 2 1 1 5 1 15 1 2 1 5 1 1 1 16 1 1 1 23 1 1 1 457"/><path d="M4 66.5h453" stroke-dasharray="1 2 2 5 2 2 1 1 2 1 1 13 1 2 1 7 2 2 1 2 1 8 2 4 1 2 1 5 1 7 1 3 1 5 1 9 1 3 5 2 1 8 1 1 1 3 1 2 1 1 1 2 2 5 1 2 1 7 1 17 1 12 1 38 1 3 1 5 1 17 1 4 1 16 1 1 1 1 3 3 2 1 1 4 1 2 1 9 1 2 1 1 1 9 1 1 1 8 1 1 1 2 1 3 1 11 1 7 2 3 1 4 1 2 1 4 1 4 1 11 1 31 1 20 1 2 1 457"/><path d="M7 67.5h443" stroke-dasharray="1 1 1 5 1 1 2 4 1 4 1 5 2 1 1 1 1 6 1 1 2 4 1 9 1 1 1 3 1 8 2 1 1 1 1 8 1 8 1 2 1 1 1 10 1 11 1 7 1 2 1 6 1 4 1 4 1 14 1 16 2 26 1 20 1 13 1 1 1 3 1 2 2 4 1 4 1 5 1 1 1 1 1 6 1 2 1 4 1 1 1 6 2 1 1 2 1 2 1 2 2 7 1 3 3 5 2 2 1 2 1 3 1 2 1 2 1 5 2 3 1 1 1 5 1 1 1 10 1 19 1 15 1 4 1 18 1 457"/><path d="M3 68.5h454" stroke-dasharray="1 2 1 2 1 2 1 2 3 4 1 6 2 1 1 6 1 4 1 3 1 10 1 4 2 2 1 2 1 5 1 4 1 5 1 5 1 5 2 1 1 1 1 1 1 1 1 4 2 1 3 31 2 5 1 14 1 33 1 17 1 6 1 6 1 8 1 1 1 8 3 3 1 1 3 2 1 6 2 1 3 12 2 5 1 5 2 7 1 2 1 5 1 3 2 6 1 2 6 7 3 7 1 1 1 1 1 6 3 3 1 2 6 1 2 26 1 3 1 30 1 457"/><path d="M31 69.5h406" stroke-dasharray="2 4 2 2 1 2 1 3 1 4 1 1 1 8 1 1 2 10 1 1 1 3 1 2 1 9 1 3 1 2 1 4 1 1 1 6 1 2 3 9 1 5 2 10 1 8 1 8 1 10 1 11 1 14 1 17 1 2 1 9 2 10 1 4 1 3 2 1 1 6 1 10 1 5 1 1 2 1 1 4 1 2 1 4 2 2 1 10 1 1 1 1 1 7 2 1 1 5 2 7 1 6 1 1 1 16 2 2 4 1 1 1 2 1 1 1 1 4 1 11 1 15 1 8 1 2 1 457"/><path d="M5 70.5h440" stroke-dasharray="1 3 1 21 1 7 1 11 1 3 1 2 1 6 3 2 1 3 1 2 4 2 1 6 1 1 1 7 2 4 1 5 1 8 1 2 2 1 1 12 1 10 1 7 2 30 1 43 1 14 1 8 1 2 1 1 1 1 1 9 2 3 1 6 1 3 1 2 1 5 1 3 1 5 1 2 1 7 3 13 1 3 1 6 1 1 1 3 1 1 1 3 2 17 3 1 1 1 1 1 2 7 1 10 1 5 1 4 1 11 1 1 1 2 1 1 1 5 1 457"/><path d="M15 71.5h434" stroke-dasharray="1 6 1 3 1 4 1 1 1 3 1 7 1 23 1 6 1 2 2 8 3 16 1 3 2 3 1 3 1 9 1 2 1 10 1 21 1 13 1 9 1 11 1 27 1 3 1 9 1 1 1 1 1 1 1 10 1 3 1 3 1 4 1 12 1 3 1 1 1 1 1 2 1 4 1 8 1 6 2 1 1 1 1 13 2 2 3 3 1 2 1 8 2 1 2 4 1 1 1 8 1 4 1 2 1 7 1 16 1 16 1 2 1 1 1 11 1 457"/><path d="M7 72.5h446" stroke-dasharray="1 4 4 7 1 3 2 2 1 6 2 1 1 14 1 2 1 1 1 7 1 8 1 1 1 1 1 1 1 6 1 17 2 6 1 2 1 22 1 1 1 67 1 21 1 7 1 3 1 1 1 1 2 1 2 4 1 2 1 1 1 2 1 5 1 3 1 5 1 2 2 2 1 6 1 6 1 10 1 9 1 6 2 3 2 1 2 2 1 2 1 2 1 5 1 4 1 1 1 3 2 15 2 2 1 9 1 31 1 8 1 7 1 3 1 457"/><path d="M1 73.5h454" stroke-dasharray="1 4 1 3 1 4 2 5 2 2 1 8 1 2 1 1 1 13 1 9 1 2 1 13 1 5 1 2 1 10 2 1 1 1 1 13 1 1 1 46 1 9 1 5 1 9 1 7 1 7 1 18 1 4 1 22 1 3 1 10 1 2 3 1 2 6 1 8 2 4 1 13 3 1 1 13 1 10 1 1 1 2 1 2 2 1 1 1 1 5 1 10 1 9 1 35 1 9 2 5 1 1 1 2 1 2 2 3 3 457"/><path d="M6 74.5h451" stroke-dasharray="1 1 1 1 1 2 1 3 1 1 2 9 1 5 1 1 1 2 1 7 1 1 1 11 1 1 1 23 2 5 1 1 1 5 1 10 1 4 1 1 1 14 1 13 1 12 1 4 1 5 2 3 1 10 1 3 1 34 1 12 1 9 2 5 2 4 2 8 1 1 1 9 1 4 3 3 2 4 1 1 1 14 1 3 1 6 1 5 2 3 1 2 1 6 3 3 1 1 2 8 1 6 1 2 1 3 1 3 1 14 1 16 1 8 1 1 2 4 1 7 1 4 5 457"/><path d="M1 75.5h452" stroke-dasharray="1 3 1 2 1 15 1 5 1 1 2 5 1 5 1 5 1 11 3 2 1 1 1 4 1 2 1 3 1 2 1 12 2 4 1 4 1 1 2 10 1 2 1 6 1 3 1 1 1 21 1 7 2 5 1 14 1 6 2 37 1 1 1 8 1 4 1 2 1 13 1 5 1 5 2 4 1 3 2 1 1 3 3 5 1 1 1 2 2 3 1 4 2 1 1 16 1 10 2 7 2 12 1 5 1 2 1 21 1 7 1 2 1 12 1 9 1 4 1 5 1 457"/><path d="M10 76.5h444" stroke-dasharray="1 12 1 9 1 4 2 11 1 5 1 6 1 2 2 4 1 8 1 16 1 4 1 1 2 7 1 4 1 4 1 5 1 6 1 14 1 6 2 15 1 61 1 1 1 2 2 1 1 3 3 4 1 12 2 3 1 4 3 3 1 2 1 4 2 2 1 1 1 9 2 2 1 2 1 8 1 5 1 3 1 10 1 1 2 10 3 4 2 1 1 6 1 2 1 2 1 11 1 29 1 16 1 3 1 4 1 457"/><path d="M12 77.5h442" stroke-dasharray="2 4 1 4 1 4 1 2 1 1 1 1 1 3 1 4 1 9 1 4 1 5 1 10 1 13 1 1 1 3 1 4 1 2 1 1 1 11 1 2 1 10 2 4 1 13 1 2 1 9 1 11 1 9 1 1 1 55 1 1 1 3 1 9 1 8 1 1 1 13 1 4 1 3 2 2 1 1 1 6 1 2 2 3 1 3 1 1 1 3 1 10 1 1 1 3 1 5 1 2 2 8 1 6 1 2 1 3 1 17 1 47 3 2 2 4 1 457"/><path d="M2 78.5h452" stroke-dasharray="1 8 1 1 1 2 1 7 2 7 1 1 1 2 1 9 2 3 1 9 1 5 1 7 1 2 1 11 1 2 1 2 1 1 1 1 2 4 1 3 2 4 1 1 2 10 2 27 1 7 1 1 1 15 1 56 1 16 1 1 1 6 1 1 1 4 1 9 1 2 1 3 3 4 1 3 1 10 3 1 1 6 1 3 1 5 1 5 2 4 2 1 1 5 2 2 1 3 1 2 1 2 1 3 1 5 1 30 1 13 1 7 1 12 1 2 1 1 1 457"/><path d="M1 79.5h453" stroke-dasharray="1 12 1 10 2 5 2 1 1 1 2 4 1 3 1 1 1 13 2 4 1 3 1 1 1 1 1 5 1 7 1 5 1 4 1 5 2 3 1 1 1 1 1 3 1 2 1 4 1 9 1 3 1 1 1 11 1 3 1 7 1 19 1 46 2 21 2 4 1 2 1 13 2 4 1 3 1 1 1 2 1 16 1 2 1 2 1 4 1 20 1 5 1 2 1 1 1 1 1 6 1 5 2 8 1 5 1 11 1 15 1 10 1 7 1 1 1 15 1 457"/><path d="M5 80.5h450" stroke-dasharray="1 5 1 10 1 5 1 18 1 1 1 3 1 2 1 7 1 2 1 2 1 4 1 1 1 15 1 5 2 8 2 4 1 5 1 1 1 1 1 13 1 4 2 4 1 23 2 65 1 21 1 1 1 16 1 5 1 1 1 21 3 5 1 1 1 1 1 6 1 2 2 1 1 1 1 5 1 2 1 5 1 10 2 5 1 9 1 2 1 2 1 11 1 15 1 27 1 9 1 457"/><path d="M5 81.5h452" stroke-dasharray="2 1 1 8 1 3 1 6 1 2 1 11 3 3 1 2 1 3 1 13 1 6 1 9 1 11 1 1 1 1 1 5 1 5 1 3 1 1 1 1 1 3 1 3 1 15 1 2 1 8 1 11 1 2 1 2 1 47 1 27 1 6 2 1 1 1 1 6 1 11 1 3 1 4 2 8 1 1 1 6 1 3 1 5 1 2 1 4 3 2 1 4 2 7 3 2 2 9 1 4 1 5 1 1 1 3 1 2 1 2 1 23 1 8 1 2 1 2 1 11 1 2 1 1 1 6 1 4 1 457"/><path d="M1 82.5h452" stroke-dasharray="1 3 1 7 1 4 1 2 1 2 3 1 1 17 1 5 1 2 2 6 1 1 1 1 1 4 1 4 2 1 2 3 2 1 1 4 1 13 3 23 1 5 1 1 1 29 1 8 1 66 1 3 1 3 1 4 1 2 1 5 6 7 1 3 5 2 1 9 1 2 2 1 1 2 1 4 1 3 1 2 1 10 1 8 1 4 1 7 2 6 3 8 1 3 1 41 2 3 1 2 1 3 1 2 1 4 1 2 2 2 1 2 1 457"/><path d="M10 83.5h445" stroke-dasharray="1 3 1 3 1 2 2 1 1 7 3 4 1 2 1 2 1 1 1 1 1 10 1 4 1 1 1 1 2 4 1 5 1 11 2 8 1 8 1 1 1 1 1 16 1 40 1 5 1 10 1 39 1 17 1 15 1 4 2 7 1 11 1 3 1 1 2 8 1 3 1 23 4 5 1 1 1 5 2 3 1 4 1 2 2 1 1 7 1 7 1 9 1 27 1 4 1 6 1 2 1 2 1 4 1 4 1 3 1 457"/><path d="M4 84.5h452" stroke-dasharray="3 1 1 2 1 1 1 1 1 5 2 4 1 5 1 11 3 1 1 1 1 4 1 4 1 7 1 1 2 1 1 1 1 2 1 6 1 3 1 4 1 6 1 2 1 1 1 7 1 2 1 2 1 9 1 7 2 16 1 7 1 7 1 16 1 14 1 42 1 18 1 11 1 5 1 12 2 11 2 2 1 4 1 10 3 2 1 16 2 1 1 5 1 1 1 1 2 32 1 11 1 9 1 1 1 2 1 4 1 1 1 11 1 2 2 3 2 457"/><path d="M4 85.5h452" stroke-dasharray="1 3 1 2 1 4 1 4 1 3 1 14 1 4 1 1 1 4 1 4 1 2 1 2 3 4 2 10 1 8 1 2 1 1 1 5 2 9 1 2 1 2 1 15 1 21 1 32 1 14 1 58 1 12 1 1 1 5 1 5 1 7 1 12 1 7 1 4 1 8 1 9 1 4 1 3 1 2 1 7 1 1 1 3 1 10 2 27 1 11 1 5 1 5 1 11 1 6 1 1 1 457"/><path d="M3 86.5h450" stroke-dasharray="3 12 1 4 1 1 2 2 1 1 1 1 1 4 1 3 1 4 1 3 1 2 2 3 2 2 1 1 1 4 2 5 1 3 1 2 1 1 1 2 1 1 2 5 1 3 2 5 1 1 2 2 1 5 1 7 1 5 1 5 3 11 1 23 1 7 1 59 1 2 1 7 1 5 1 10 1 7 1 1 1 4 2 1 2 1 1 3 1 3 1 6 1 5 1 4 1 7 1 3 1 4 2 12 1 3 1 6 1 1 1 1 1 5 1 6 1 1 1 12 1 3 1 9 1 14 1 2 1 4 2 11 1 1 1 3 1 457"/><path d="M4 87.5h451" stroke-dasharray="1 10 1 2 1 5 1 2 1 2 2 9 1 5 1 2 3 2 1 1 1 1 1 5 1 2 1 4 1 1 2 1 1 3 1 3 1 1 3 4 1 2 1 9 1 9 1 16 1 20 1 10 1 3 1 23 1 11 1 21 1 37 1 6 1 3 1 4 1 1 4 1 1 1 1 3 1 2 2 10 3 5 1 3 1 4 2 1 1 3 1 4 1 11 1 2 1 1 1 4 1 3 1 7 1 1 1 6 1 24 1 1 1 1 1 13 1 2 1 7 1 5 1 2 1 6 2 457"/><path d="M2 88.5h451" stroke-dasharray="1 9 1 5 1 2 1 5 1 3 1 3 1 1 1 4 2 7 1 16 2 7 1 3 2 3 1 5 1 10 1 1 1 1 2 6 1 18 1 8 1 12 2 6 1 2 1 27 1 13 1 19 1 3 1 22 1 2 1 4 2 5 1 1 1 1 1 2 1 3 2 2 1 1 1 1 1 1 1 6 1 3 1 7 1 15 3 1 1 10 1 5 2 5 2 3 1 5 1 1 1 5 1 3 1 17 1 3 1 11 1 3 1 7 1 13 1 3 2 8 1 457"/><path d="M1 89.5h454" stroke-dasharray="1 6 2 5 1 6 1 8 1 6 1 4 2 1 2 1 1 1 3 4 1 10 1 9 1 3 1 6 1 4 2 3 1 14 1 5 1 1 1 19 1 13 1 11 1 9 1 7 1 7 1 7 1 29 1 14 1 15 2 5 2 9 1 3 2 2 1 1 1 5 2 1 1 4 1 9 1 2 1 6 1 1 2 5 1 8 2 3 1 12 1 4 1 6 1 3 1 1 1 9 1 9 1 28 1 8 3 2 2 2 1 6 1 457"/><path d="M2 90.5h446" stroke-dasharray="2 6 1 7 1 3 1 8 1 4 1 7 1 1 1 2 1 1 1 1 1 11 1 3 2 1 1 3 2 4 2 5 1 7 2 6 1 17 1 3 1 1 1 4 1 10 1 15 1 13 1 15 1 3 1 69 1 15 1 10 1 5 1 2 1 4 1 20 2 3 1 5 1 5 1 1 1 13 1 12 1 6 1 3 1 8 1 8 1 7 1 11 1 6 1 2 1 3 1 2 2 1 3 2 1 457"/><path d="M2 91.5h449" stroke-dasharray="1 1 1 1 1 6 1 3 1 1 2 1 1 13 1 5 1 8 2 6 1 2 1 2 1 7 1 4 1 4 1 5 1 1 1 6 2 13 1 3 1 3 1 1 1 3 2 6 1 9 1 15 1 88 1 3 1 12 1 2 1 2 1 7 1 1 1 6 3 3 1 3 2 24 1 20 1 1 1 14 1 5 1 3 1 3 2 10 1 3 1 3 1 21 1 12 1 13 1 2 1 457"/><path d="M3 92.5h452" stroke-dasharray="2 9 1 1 1 4 1 1 2 10 1 1 1 1 1 9 1 1 1 13 1 8 1 3 2 1 1 1 1 3 1 10 1 8 1 1 1 3 2 2 1 11 2 18 1 15 1 82 1 1 1 3 1 1 1 16 1 9 1 1 1 3 1 1 2 5 1 2 1 1 1 13 1 1 1 1 1 3 1 11 1 1 1 11 1 20 1 3 2 8 1 1 1 1 1 1 1 1 1 35 1 7 1 11 1 3 1 457"/><path d="M4 93.5h451" stroke-dasharray="1 1 1 3 1 5 1 9 1 3 2 12 1 1 2 2 2 5 1 5 1 1 1 8 1 4 1 6 3 3 1 5 1 2 1 3 1 1 1 3 1 2 1 8 1 1 1 11 1 3 1 39 1 49 1 15 3 12 1 7 1 8 1 1 1 3 1 5 2 4 1 1 1 1 1 1 1 3 1 7 1 9 1 18 2 1 1 1 1 24 1 1 1 15 1 21 1 11 1 9 1 8 1 5 1 2 1 457"/><path d="M0 94.5h455" stroke-dasharray="1 1 1 1 1 1 1 5 1 3 1 27 1 2 5 5 1 1 1 3 1 1 1 3 1 9 1 5 1 10 1 3 2 20 1 4 1 13 1 1 1 27 1 9 1 65 1 1 1 3 1 7 1 7 2 2 1 1 1 4 1 1 2 1 1 5 2 2 3 1 2 14 1 1 1 1 1 5 1 15 1 2 1 4 1 8 2 1 1 10 1 11 1 17 1 15 1 7 1 18 1 7 2 457"/><path d="M0 95.5h451" stroke-dasharray="1 4 1 2 1 3 1 8 1 5 1 1 1 2 1 4 2 7 1 4 1 7 1 5 1 5 1 2 1 10 1 7 1 5 2 2 1 1 2 35 1 28 1 12 1 10 1 51 1 15 1 3 1 1 2 3 2 1 1 4 1 1 1 6 2 2 1 2 2 1 1 21 1 1 1 7 1 7 1 17 1 7 1 10 1 3 1 9 1 9 1 9 1 1 1 1 1 9 2 7 1 4 1 4 1 3 2 457"/><path d="M4 96.5h452" stroke-dasharray="2 1 1 12 1 6 2 6 1 2 1 1 1 2 1 1 2 1 1 6 1 9 1 4 1 16 1 9 1 3 1 1 1 12 1 22 1 47 1 39 1 39 1 1 1 3 2 2 1 6 2 5 1 1 1 1 1 1 1 5 1 1 1 61 1 8 1 8 1 34 1 5 1 8 1 2 1 1 1 1 1 1 1 4 1 1 1 3 1 457"/><path d="M9 97.5h437" stroke-dasharray="1 3 1 1 1 1 1 9 2 6 1 9 1 1 1 7 3 4 2 9 1 1 1 1 1 1 2 3 2 1 1 4 1 2 1 13 1 3 1 2 2 1 1 2 1 26 1 25 1 51 1 29 1 15 1 3 1 4 1 2 2 1 1 2 3 9 1 7 1 7 1 3 1 11 1 1 1 5 1 1 1 1 1 5 1 7 1 1 1 12 1 3 1 3 2 12 1 7 1 5 1 3 1 1 1 6 1 4 1 7 1 1 1 2 1 1 1 457"/><path d="M13 98.5h433" stroke-dasharray="1 8 1 4 1 25 1 12 1 3 1 4 1 4 1 6 1 3 2 2 1 5 1 4 1 4 1 1 1 5 1 1 2 16 1 15 1 43 1 61 1 8 2 7 1 1 1 3 1 2 1 2 1 1 2 6 1 3 1 5 1 5 1 3 1 5 1 1 1 1 1 5 1 19 1 5 2 11 1 1 1 1 1 2 2 15 1 5 1 21 1 3 1 3 1 1 1 1 1 4 1 457"/><path d="M1 99.5h445" stroke-dasharray="1 18 2 1 1 2 1 3 1 18 1 6 1 6 1 2 2 2 2 3 1 3 1 1 1 10 3 6 1 3 2 120 1 40 1 4 1 1 1 1 1 3 1 1 1 1 1 2 2 1 1 1 1 3 1 1 1 1 1 1 2 6 1 9 1 21 2 6 1 9 1 10 1 3 1 1 1 19 1 5 1 7 1 11 1 2 2 8 1 1 1 5 1 457"/><path d="M5 100.5h435" stroke-dasharray="1 2 2 2 1 2 1 4 1 6 1 2 1 2 1 5 1 3 1 1 1 3 1 20 1 7 1 6 1 6 1 5 1 5 1 4 1 3 1 2 1 4 1 11 1 149 1 1 1 2 2 3 1 1 1 2 1 10 1 1 1 14 1 2 1 13 3 22 1 5 1 1 1 1 1 17 1 3 2 2 1 7 1 19 3 4 1 457"/><path d="M5 101.5h429" stroke-dasharray="1 15 3 5 1 1 1 7 1 7 1 19 1 2 1 34 1 7 1 2 1 154 1 1 2 2 1 10 2 21 1 1 1 12 1 4 1 15 1 9 1 16 1 3 1 8 1 4 1 3 1 1 1 7 1 5 1 5 1 1 1 1 1 7 1 1 2 457"/><path d="M289 102.5h144" stroke-dasharray="1 8 2 9 1 11 1 1 1 21 1 9 1 3 1 14 1 1 1 9 1 5 1 3 1 9 1 7 1 3 1 7 1 5 1 457"/><path d="M298 103.5h134" stroke-dasharray="1 72 1 14 1 9 1 3 1 3 1 13 1 7 1 3 2 457"/><path d="M319 104.5h115" stroke-dasharray="1 19 1 7 1 7 1 22 1 1 1 1 1 5 1 7 1 20 1 2 1 1 1 7 1 2 1 457"/><path d="M14 105.5h413" stroke-dasharray="1 3 1 286 1 29 1 8 2 1 1 1 1 7 1 18 1 3 1 11 1 17 1 8 1 2 1 3 1 457"/><path d="M319 106.5h106" stroke-dasharray="1 7 1 7 1 5 1 2 1 8 1 3 1 7 1 6 1 6 1 1 1 10 1 17 1 13 1 457"/><path d="M344 107.5h81" stroke-dasharray="1 4 1 3 1 1 1 1 1 11 1 1 3 7 2 4 1 3 1 7 1 19 1 4 1 457"/><path d="M331 108.5h92" stroke-dasharray="1 12 1 8 2 10 1 3 1 1 1 10 1 4 2 1 1 1 1 2 5 10 2 4 3 1 1 1 1 457"/><path d="M331 109.5h88" stroke-dasharray="1 13 1 8 1 6 1 1 1 7 1 1 1 4 1 3 1 2 1 10 1 1 1 8 1 2 1 7 1 457"/><path d="M13 110.5h392" stroke-dasharray="1 321 1 7 1 1 1 1 1 11 1 11 1 1 1 16 1 3 1 5 1 1 3 457"/><path d="M5 111.5h404" stroke-dasharray="1 5 1 4 1 328 1 5 1 1 1 5 1 1 1 1 1 9 1 1 1 8 1 14 1 7 2 457"/><path d="M349 112.5h57" stroke-dasharray="1 5 1 3 1 7 1 15 1 1 1 1 1 5 1 11 1 457"/><path d="M371 113.5h26" stroke-dasharray="2 14 1 5 4 457"/><path d="M13 114.5h1"/></g><g stroke="#198de4"><path d="M9 3.5h1"/><path d="M262 4.5h1"/><path d="M85 5.5h372" stroke-dasharray="1 119 1 31 2 17 1 60 1 26 1 13 1 80 1 16 1 457"/><path d="M111 7.5h134" stroke-dasharray="1 5 1 50 1 75 1 457"/><path d="M178 8.5h172" stroke-dasharray="1 51 1 20 1 1 1 9 1 64 1 20 1 457"/><path d="M13 11.5h416" stroke-dasharray="1 17 1 25 1 7 2 25 1 4 1 23 1 47 1 30 1 4 1 4 1 26 1 3 1 4 1 49 1 3 1 8 1 9 1 6 1 1 1 1 2 10 1 3 1 28 1 14 1 32 2 3 1 457"/><path d="M6 12.5h447" stroke-dasharray="1 40 1 31 1 3 1 2 1 2 1 46 1 11 1 2 1 2 1 4 1 9 1 18 1 15 1 17 1 8 2 1 1 21 1 20 1 14 1 19 1 23 1 10 1 3 2 4 1 21 1 13 1 23 1 5 1 18 1 2 1 6 1 457"/><path d="M0 13.5h436" stroke-dasharray="1 3 1 14 1 14 1 11 1 1 1 38 1 39 1 36 1 10 1 35 1 11 1 52 1 7 1 100 1 19 1 29 1 457"/><path d="M363 14.5h1"/><path d="M148 15.5h85" stroke-dasharray="1 83 1 457"/><path d="M33 17.5h373" stroke-dasharray="1 95 1 6 1 69 1 85 1 83 1 28 1 457"/><path d="M54 18.5h318" stroke-dasharray="1 1 1 12 1 59 1 188 1 52 1 457"/><path d="M40 20.5h315" stroke-dasharray="1 17 1 116 1 13 1 45 1 118 1 457"/><path d="M14 21.5h331" stroke-dasharray="1 5 1 191 1 107 1 4 1 18 1 457"/><path d="M8 22.5h102" stroke-dasharray="1 67 1 32 1 457"/><path d="M45 23.5h187" stroke-dasharray="1 2 1 12 1 3 1 7 1 5 1 19 1 3 1 3 1 14 1 27 1 18 1 1 1 7 1 8 2 2 1 20 1 8 1 8 1 457"/><path d="M16 24.5h365" stroke-dasharray="1 35 1 22 2 17 1 22 1 7 1 17 1 28 1 3 1 3 1 34 1 2 1 23 2 1 2 7 1 3 1 11 1 20 1 43 1 15 1 28 1 457"/><path d="M14 25.5h365" stroke-dasharray="1 9 1 22 1 4 1 5 1 1 1 6 2 1 1 7 2 10 1 2 2 18 1 7 1 3 1 10 1 1 1 3 1 6 1 2 1 23 2 9 1 15 1 19 1 2 1 29 1 20 1 2 2 8 1 6 1 10 1 43 1 5 1 19 1 457"/><path d="M0 26.5h452" stroke-dasharray="1 23 1 17 2 2 1 7 1 3 1 1 1 45 1 1 1 22 1 3 1 3 1 1 1 7 2 8 1 3 1 2 1 3 1 8 2 1 1 3 1 23 1 2 1 5 1 3 1 5 1 17 1 21 1 24 1 3 1 40 2 5 1 29 1 70 1 3 1 457"/><path d="M18 27.5h437" stroke-dasharray="1 56 1 13 1 1 1 1 1 14 1 2 2 6 1 2 1 5 1 1 1 3 1 4 1 5 1 14 1 6 1 12 3 2 2 27 1 11 1 1 1 9 1 5 1 12 2 5 1 7 1 3 1 4 1 7 1 9 1 8 1 4 1 4 1 1 1 13 1 7 1 3 1 3 1 6 1 18 1 65 1 11 1 457"/><path d="M6 28.5h449" stroke-dasharray="1 60 1 9 1 6 1 1 1 15 1 5 1 12 1 9 1 2 1 7 1 2 1 11 1 2 1 1 1 4 1 8 1 16 1 7 1 24 1 9 2 7 1 6 1 15 1 27 1 14 1 7 3 2 1 1 1 2 1 12 1 11 1 15 1 5 1 11 1 9 1 3 1 25 1 11 1 1 1 11 1 457"/><path d="M3 29.5h446" stroke-dasharray="1 24 1 13 1 1 1 6 1 2 1 25 1 10 1 18 1 21 1 1 1 10 1 33 1 1 1 15 2 3 1 23 1 1 1 7 1 1 1 11 2 2 1 5 1 8 2 3 1 9 1 8 1 4 1 4 1 4 1 8 2 13 1 3 1 7 1 3 1 1 1 56 1 40 1 457"/><path d="M1 30.5h433" stroke-dasharray="1 15 1 10 1 14 1 34 1 1 1 10 1 33 1 5 1 2 1 16 1 1 1 7 2 2 1 3 1 1 1 23 1 12 1 6 1 14 1 8 1 6 1 5 1 6 1 2 1 4 1 10 1 2 1 7 1 5 1 1 2 8 2 12 1 5 2 1 2 7 1 4 1 3 1 15 1 5 1 1 1 3 1 3 1 17 1 34 1 457"/><path d="M6 31.5h449" stroke-dasharray="1 10 1 4 1 5 1 12 1 3 1 26 1 3 1 6 1 7 1 3 1 29 1 14 1 6 1 9 1 10 2 6 1 8 1 7 1 6 1 1 2 3 1 8 1 6 1 8 1 6 1 6 1 3 1 23 1 3 1 12 2 3 1 1 1 1 1 6 1 2 1 7 1 5 1 2 1 1 1 3 1 8 1 1 3 7 1 10 1 7 1 2 1 1 1 52 1 1 1 8 1 4 1 6 1 457"/><path d="M17 32.5h426" stroke-dasharray="1 10 1 5 1 8 1 4 1 5 1 7 2 27 1 4 1 10 1 4 1 10 1 12 1 1 1 2 1 4 2 26 1 8 1 12 1 8 1 4 1 4 2 4 1 12 1 3 1 6 1 4 1 17 1 1 1 4 2 10 2 1 1 10 1 9 1 5 1 3 1 2 1 6 1 9 1 5 1 7 1 1 1 2 1 2 1 29 1 48 1 457"/><path d="M26 33.5h431" stroke-dasharray="1 1 1 62 1 6 1 12 1 7 1 1 1 1 1 15 1 1 1 2 1 6 1 1 1 1 1 12 1 10 1 4 1 2 1 1 1 2 1 10 1 3 1 1 2 3 1 2 1 8 1 4 1 2 1 8 1 8 1 4 2 5 1 1 1 5 1 1 1 2 1 13 2 1 1 6 1 19 1 12 1 4 1 4 1 1 1 19 1 10 1 3 1 5 1 38 1 12 1 16 1 457"/><path d="M38 34.5h419" stroke-dasharray="1 54 1 2 2 7 1 12 2 6 1 1 1 7 1 2 3 4 1 5 1 5 1 2 1 4 1 2 1 1 1 1 1 1 2 7 2 1 1 2 2 10 1 2 1 3 1 10 1 2 1 2 1 1 1 1 3 7 1 4 1 1 1 1 1 9 1 4 1 2 1 1 1 3 1 5 2 1 1 10 1 5 1 16 1 8 1 13 1 2 1 3 2 29 1 1 1 48 1 10 1 7 1 2 1 5 1 457"/><path d="M26 35.5h426" stroke-dasharray="1 13 1 32 1 4 1 9 1 8 2 13 1 8 1 6 1 1 1 11 2 8 1 18 2 3 1 2 1 4 1 6 1 3 3 3 2 2 1 3 1 20 1 2 1 3 1 3 1 7 1 4 1 1 1 1 1 7 1 8 1 4 1 3 1 2 1 2 1 6 3 13 2 1 1 1 1 1 2 25 2 4 1 68 1 5 1 18 1 2 2 457"/><path d="M11 36.5h438" stroke-dasharray="1 39 1 1 1 19 1 12 1 15 2 17 2 3 1 3 2 2 1 7 2 6 1 1 1 2 1 4 1 7 1 1 1 5 1 2 1 9 1 1 1 3 2 3 2 3 1 3 1 8 1 11 1 22 1 19 1 2 1 7 1 6 1 4 3 6 1 1 2 11 2 2 1 3 1 10 1 2 1 4 1 12 1 15 1 55 1 1 1 13 1 457"/><path d="M16 37.5h419" stroke-dasharray="1 6 1 10 1 4 1 11 1 9 1 5 1 1 1 16 1 16 1 12 1 12 1 6 1 1 3 2 1 2 1 6 1 2 1 6 1 1 2 4 1 11 1 4 1 2 1 3 1 2 1 2 1 1 1 1 1 6 1 2 1 1 2 3 2 7 1 10 1 2 1 1 1 1 1 8 1 4 1 10 1 2 2 21 1 2 1 1 1 2 3 1 1 15 1 40 1 29 1 13 1 16 1 3 1 457"/><path d="M6 38.5h425" stroke-dasharray="1 7 1 8 1 37 1 47 1 2 1 16 1 8 1 9 1 2 1 3 1 7 1 3 2 1 1 12 1 4 2 1 1 8 1 1 1 2 1 12 1 4 1 10 1 7 1 10 2 4 1 9 1 2 1 9 1 1 1 7 1 6 1 1 1 10 1 4 2 2 2 2 1 4 1 9 3 1 1 1 1 11 1 2 1 7 2 7 1 29 1 7 1 5 1 7 1 457"/><path d="M36 39.5h349" stroke-dasharray="1 21 1 50 1 16 1 10 1 3 1 6 1 10 1 1 2 1 1 19 1 3 2 1 1 2 1 10 1 6 3 19 1 5 1 1 1 3 1 4 1 3 1 9 1 3 1 17 1 11 1 5 1 9 2 1 1 2 1 1 1 2 2 15 1 6 1 19 1 1 1 1 1 3 1 5 1 457"/><path d="M91 40.5h366" stroke-dasharray="1 25 1 4 2 3 1 9 1 1 1 6 1 5 2 1 1 1 1 1 1 1 1 5 3 10 1 9 2 2 2 7 1 6 3 9 1 4 1 1 1 4 1 3 1 7 2 4 1 2 1 5 1 3 1 9 1 6 1 4 1 11 1 2 1 4 1 1 1 7 1 11 2 4 1 1 1 6 1 5 1 9 2 7 1 8 1 27 1 31 1 11 1 5 1 457"/><path d="M16 41.5h413" stroke-dasharray="1 24 1 7 1 28 1 22 1 15 1 1 1 2 1 4 1 8 1 7 2 4 1 2 2 4 1 16 1 2 2 10 1 11 1 5 3 20 2 3 2 7 1 4 1 2 2 20 1 1 1 4 1 4 1 3 1 7 1 4 3 2 1 1 1 4 1 3 1 2 1 4 1 5 1 2 1 1 1 2 1 3 2 1 2 3 1 7 1 2 1 2 1 14 1 43 1 457"/><path d="M10 42.5h441" stroke-dasharray="1 5 1 24 1 46 1 23 1 1 1 1 1 2 1 5 1 9 1 3 2 5 1 2 1 3 1 5 1 9 1 3 1 1 3 5 1 20 1 24 1 1 1 1 1 10 1 6 1 6 1 1 2 11 1 4 1 7 1 1 3 2 1 2 1 26 1 6 1 1 1 7 2 1 1 3 1 2 1 2 3 5 1 1 1 5 1 60 1 19 1 457"/><path d="M22 43.5h350" stroke-dasharray="1 9 2 12 1 33 1 14 1 2 1 3 1 7 1 11 1 2 1 5 1 1 1 2 2 6 1 5 1 4 1 1 1 4 1 2 1 3 1 6 1 6 1 4 1 1 2 14 1 5 1 3 1 2 1 19 1 11 2 5 1 1 1 2 1 9 1 4 1 1 1 1 1 3 1 11 2 4 1 9 1 17 1 4 1 2 2 4 1 3 1 2 1 1 1 15 1 457"/><path d="M1 44.5h456" stroke-dasharray="1 12 1 13 1 4 1 18 1 4 1 2 1 7 1 3 1 25 2 7 1 5 1 11 1 8 1 4 4 2 1 1 1 1 1 6 2 4 1 3 1 8 1 4 1 10 1 4 2 7 2 3 1 1 1 2 1 2 1 8 1 10 2 3 1 3 1 1 1 7 5 4 1 3 1 1 1 5 1 12 1 4 1 9 1 6 1 3 1 11 1 4 1 3 1 16 1 16 1 3 1 5 1 73 1 457"/><path d="M1 45.5h372" stroke-dasharray="1 17 1 4 1 12 1 1 1 6 1 8 1 1 1 6 1 9 1 5 1 7 1 6 2 2 1 13 2 19 1 4 3 2 2 1 1 4 1 4 1 5 1 2 1 1 1 2 1 2 1 7 1 13 1 6 1 2 1 4 1 1 1 5 1 4 1 5 1 8 1 7 1 3 1 2 1 1 2 2 2 3 1 1 2 3 1 2 2 8 1 4 2 4 1 2 1 2 2 11 1 3 1 1 1 13 1 3 2 5 1 5 1 19 1 457"/><path d="M30 46.5h395" stroke-dasharray="1 15 1 3 1 3 1 3 1 5 1 19 2 12 1 14 1 6 1 2 1 10 2 3 1 1 1 1 1 1 1 8 1 6 1 3 1 4 1 23 2 13 1 14 1 17 1 1 3 6 2 2 1 7 1 2 1 1 1 5 1 6 2 3 1 1 3 6 1 2 1 16 1 1 1 19 1 11 1 14 1 55 1 457"/><path d="M14 47.5h421" stroke-dasharray="1 14 1 7 1 16 2 2 1 1 3 1 1 15 1 26 1 20 1 4 1 5 1 1 1 6 2 9 2 3 1 5 1 4 1 1 1 3 1 2 1 6 1 2 1 14 2 3 1 1 1 1 2 15 1 3 1 1 2 1 1 8 1 1 1 3 1 1 1 2 1 3 1 2 1 2 2 6 2 5 1 2 1 8 1 1 1 38 1 2 1 4 1 6 1 11 1 3 1 18 1 1 1 39 1 457"/><path d="M8 48.5h427" stroke-dasharray="1 20 1 4 1 3 1 6 1 6 1 2 1 4 2 14 1 1 1 12 1 8 1 3 1 9 1 13 1 1 1 5 1 3 1 1 2 10 1 5 6 3 2 3 1 10 1 7 1 8 1 2 1 6 1 5 1 12 1 3 1 1 4 2 1 4 1 20 1 2 1 5 1 3 1 8 1 2 1 6 1 9 1 5 3 6 1 12 1 3 1 3 1 2 1 1 1 4 1 2 1 8 1 3 2 53 1 5 1 457"/><path d="M4 49.5h405" stroke-dasharray="1 15 1 24 1 30 1 1 2 8 1 2 1 20 1 7 1 1 1 6 1 4 1 1 2 5 2 9 1 6 1 2 1 8 1 6 1 14 1 6 1 2 1 1 1 9 1 5 1 4 1 4 1 3 1 2 1 11 2 6 3 4 1 5 5 4 1 3 1 3 1 1 1 1 1 4 1 9 2 4 1 8 1 13 1 1 2 4 3 1 1 1 1 18 1 24 1 11 1 457"/><path d="M6 50.5h403" stroke-dasharray="1 16 1 10 1 12 1 3 1 10 1 28 1 6 1 9 1 25 1 9 1 18 1 5 1 13 1 9 1 14 2 2 1 3 1 11 1 24 1 7 1 1 1 6 1 3 2 1 1 8 1 1 2 1 1 1 1 6 1 9 1 8 1 3 1 1 2 11 1 1 1 2 1 10 1 5 1 1 1 12 1 32 1 457"/><path d="M4 51.5h449" stroke-dasharray="1 15 1 2 1 20 1 14 2 2 1 3 1 23 1 2 1 1 1 5 1 3 1 3 1 10 4 8 1 6 2 8 2 6 1 16 1 4 1 10 1 6 2 16 1 10 1 3 1 3 2 1 1 2 1 11 1 3 1 8 2 2 1 1 1 1 2 1 1 2 2 1 2 4 1 4 1 14 1 6 2 1 1 2 1 1 1 2 1 6 1 13 1 5 1 5 1 23 1 37 1 22 1 5 2 457"/><path d="M14 52.5h438" stroke-dasharray="1 8 1 3 1 9 1 4 1 1 2 14 1 2 1 2 1 2 1 18 1 3 1 3 2 19 1 5 2 3 1 6 1 13 1 5 1 2 2 2 1 12 1 3 2 4 1 5 1 5 2 2 1 5 1 1 1 5 1 3 1 6 2 3 1 3 2 17 1 3 1 5 1 1 1 8 3 5 2 4 1 7 1 12 1 3 1 8 2 5 2 1 1 3 1 7 1 5 1 1 3 10 1 84 1 457"/><path d="M12 53.5h366" stroke-dasharray="1 1 1 9 1 2 1 8 1 2 2 4 2 1 1 9 1 9 2 21 1 2 1 1 1 1 1 8 2 14 1 1 1 2 1 1 2 2 1 7 1 1 4 6 1 5 1 12 2 1 1 8 1 1 2 12 1 4 1 2 1 7 1 7 1 2 1 1 1 26 1 3 1 2 1 1 1 3 1 5 1 6 1 3 1 3 1 3 1 1 1 4 2 2 1 4 1 12 1 3 3 2 1 3 2 6 1 6 1 7 1 5 2 9 1 457"/><path d="M14 54.5h433" stroke-dasharray="1 9 2 5 1 5 1 2 1 7 1 3 1 6 1 2 1 1 1 21 1 10 1 21 1 1 1 6 1 5 2 7 1 13 2 5 1 5 1 2 1 17 1 6 1 7 1 10 1 4 1 12 1 5 1 5 1 1 1 8 1 2 2 1 1 1 1 1 2 12 1 3 2 4 1 5 1 3 1 1 1 9 1 11 1 6 1 3 1 1 1 7 1 4 1 1 1 6 1 9 1 59 1 4 1 9 1 457"/><path d="M18 55.5h431" stroke-dasharray="3 14 1 1 1 2 1 7 2 2 1 1 2 6 2 17 1 8 2 6 1 22 1 3 1 3 1 5 2 1 2 7 3 15 3 17 1 14 1 4 1 2 1 4 1 2 1 2 1 1 1 3 1 1 1 5 1 1 1 4 1 7 1 2 1 6 2 5 1 3 1 2 1 3 1 5 1 3 1 1 1 2 1 6 1 3 1 7 1 1 1 7 2 7 1 3 1 20 1 1 1 4 1 3 1 3 1 66 1 11 1 457"/><path d="M14 56.5h440" stroke-dasharray="1 4 1 3 1 8 1 6 1 2 1 1 1 3 1 1 1 1 1 1 1 4 1 10 1 4 1 10 1 5 1 1 1 1 1 24 1 1 1 5 1 4 2 3 2 1 1 2 1 3 1 2 1 2 3 4 1 3 1 40 2 7 1 8 1 14 1 7 1 2 1 13 1 1 1 3 1 4 1 4 1 2 1 5 1 25 1 3 1 3 1 2 1 2 1 4 1 4 1 3 1 2 1 27 1 1 1 4 1 70 1 457"/><path d="M13 57.5h444" stroke-dasharray="1 26 2 1 1 4 1 3 1 2 1 19 1 2 2 6 1 3 1 3 1 3 1 13 2 9 1 2 1 1 1 1 1 8 2 1 1 3 1 2 1 2 1 2 1 12 1 9 1 9 1 8 1 8 2 12 1 4 1 14 1 3 1 5 2 1 1 11 1 2 1 6 1 12 1 3 1 2 1 7 1 2 1 2 1 1 1 1 1 10 1 4 1 2 2 1 1 9 1 16 1 1 1 1 1 8 1 80 1 457"/><path d="M40 58.5h393" stroke-dasharray="1 6 1 4 1 4 1 2 1 18 1 6 2 5 1 17 1 1 2 6 1 1 1 2 1 6 1 22 2 7 1 28 1 6 2 2 1 1 1 4 1 2 1 5 1 3 1 1 1 11 1 2 1 1 2 1 1 2 1 4 1 2 1 3 2 1 1 5 1 5 1 3 1 2 1 12 1 1 1 3 1 2 1 2 1 3 1 9 1 6 1 6 1 3 1 2 1 4 2 19 1 1 1 59 1 457"/><path d="M18 59.5h439" stroke-dasharray="1 1 1 9 1 1 1 2 1 13 1 11 1 18 2 11 1 11 1 5 1 11 2 1 1 3 2 1 1 11 1 1 1 3 3 2 1 4 1 3 1 13 1 14 1 12 1 5 3 2 2 1 1 6 1 6 1 3 1 3 1 5 2 3 1 8 1 4 1 5 1 2 1 6 2 8 1 3 1 4 1 2 1 2 1 10 2 2 1 3 2 4 1 5 1 3 1 12 1 2 1 10 1 21 2 61 1 457"/><path d="M10 60.5h385" stroke-dasharray="1 15 1 2 1 2 1 1 1 7 2 3 1 9 1 18 1 3 2 10 1 3 1 10 1 2 1 4 1 1 1 6 4 1 1 1 1 3 2 3 1 2 1 10 1 3 1 26 1 3 1 17 1 5 3 3 1 1 1 13 1 1 1 4 3 4 1 4 1 12 1 2 1 3 1 9 2 15 1 2 4 3 4 7 1 9 3 8 1 3 1 1 1 7 1 4 1 1 1 3 1 15 1 8 2 457"/><path d="M10 61.5h359" stroke-dasharray="1 12 1 5 2 1 1 2 1 2 1 5 2 8 1 2 1 2 1 6 1 9 1 2 5 7 1 2 2 3 1 4 1 6 1 3 1 1 1 7 3 1 1 3 1 1 1 3 1 17 1 3 1 10 1 10 3 2 1 5 1 11 1 1 1 7 1 3 1 1 1 6 1 2 1 1 1 3 1 1 2 1 1 3 2 17 1 1 1 5 1 29 1 1 1 3 1 2 1 6 3 7 1 2 1 11 2 10 1 2 1 1 1 3 2 457"/><path d="M1 62.5h456" stroke-dasharray="1 8 1 6 1 5 1 11 1 9 1 5 2 3 3 1 1 15 2 2 1 2 1 3 4 2 1 1 1 15 1 1 2 1 1 4 1 1 1 4 1 1 1 1 1 2 1 2 1 2 1 3 1 3 1 1 1 9 2 6 1 1 1 7 1 3 1 2 1 4 1 15 2 24 1 2 1 2 1 6 1 2 1 3 1 1 1 1 2 3 1 4 1 5 1 6 1 7 1 5 1 5 1 2 2 4 1 1 1 8 1 1 1 1 1 4 1 4 1 1 1 9 1 1 2 2 1 8 1 1 2 2 1 1 2 11 2 54 1 12 1 4 1 457"/><path d="M1 63.5h455" stroke-dasharray="1 4 1 10 1 9 1 8 1 6 1 1 1 3 1 7 2 1 1 15 1 13 2 9 1 10 2 2 1 1 2 1 1 1 1 2 1 5 1 4 1 1 1 5 1 7 1 3 1 13 1 4 1 2 2 10 1 13 1 19 1 2 1 20 1 2 1 4 1 8 1 2 1 2 1 7 2 2 2 2 1 1 2 3 1 4 1 16 1 1 1 1 1 6 2 1 2 5 1 7 1 7 1 10 2 84 1 3 1 457"/><path d="M2 64.5h389" stroke-dasharray="1 14 2 5 1 4 1 11 1 3 2 3 2 8 1 10 1 3 1 8 1 2 1 20 2 7 1 3 2 3 1 2 1 6 1 13 1 11 2 2 1 1 1 10 1 41 1 26 1 1 3 4 1 21 1 1 3 1 1 5 1 2 2 3 2 5 1 1 2 1 2 2 1 8 1 2 3 2 1 1 1 1 2 8 1 11 2 28 1 1 1 457"/><path d="M24 65.5h393" stroke-dasharray="1 20 1 1 1 8 1 3 2 16 1 7 2 5 1 17 1 1 2 2 3 6 1 4 1 2 1 6 1 2 1 5 2 8 1 1 1 5 1 1 1 8 1 18 2 43 1 6 1 6 1 1 1 9 1 4 1 2 1 1 1 2 1 1 2 2 1 3 1 3 1 2 2 5 1 2 1 4 1 4 2 7 2 1 1 7 1 1 1 9 1 5 3 3 1 14 1 9 1 27 1 457"/><path d="M6 66.5h444" stroke-dasharray="1 23 1 13 1 11 2 4 1 12 1 2 1 3 2 9 1 8 1 13 2 8 1 4 1 14 1 5 1 8 1 3 1 2 1 7 1 1 2 11 1 7 1 18 1 4 1 3 1 10 1 1 1 2 1 1 1 1 1 1 2 4 1 3 2 6 1 4 1 7 1 12 1 2 1 1 1 9 2 7 1 1 2 7 2 12 1 1 1 7 1 5 1 4 2 3 1 8 1 38 1 32 1 457"/><path d="M6 67.5h451" stroke-dasharray="1 25 1 7 1 3 1 12 1 7 1 2 2 3 1 9 1 19 2 3 1 2 1 4 1 9 1 6 1 2 1 5 1 8 2 9 1 5 1 7 4 7 1 9 1 1 1 4 1 14 1 5 1 1 2 3 1 7 1 1 1 4 1 1 2 3 1 3 1 1 1 8 1 2 1 4 2 7 1 18 1 5 1 3 1 9 1 1 1 1 2 5 1 1 1 7 1 5 1 30 1 4 1 31 1 17 1 17 1 457"/><path d="M24 68.5h424" stroke-dasharray="1 3 1 6 1 4 1 4 1 1 1 1 1 1 1 5 1 2 2 11 1 4 1 1 1 2 2 19 1 6 2 9 1 4 1 2 1 1 2 2 1 2 1 1 1 1 1 15 2 1 1 1 1 3 1 11 1 6 1 2 3 4 2 1 1 3 1 10 1 11 1 3 1 10 1 2 1 5 1 6 1 15 2 2 1 7 1 16 1 1 4 7 1 1 1 1 1 2 2 1 2 2 1 3 1 6 1 25 1 24 1 15 2 24 1 12 1 457"/><path d="M6 69.5h437" stroke-dasharray="1 6 1 2 1 16 1 2 1 2 2 4 1 4 3 1 1 4 1 13 1 2 1 6 1 6 1 4 1 4 1 13 1 9 1 2 1 8 2 14 1 5 2 2 1 1 1 14 1 39 1 2 1 8 1 2 1 13 2 1 1 1 1 3 1 5 2 1 1 1 1 2 1 1 1 8 2 10 1 11 1 2 1 6 1 1 1 3 1 2 1 2 1 4 1 14 1 8 1 4 1 3 1 3 1 22 1 15 1 28 1 3 1 457"/><path d="M6 70.5h442" stroke-dasharray="1 5 1 12 1 6 3 1 2 12 1 2 1 5 1 1 1 7 1 6 1 17 1 1 2 4 1 7 1 8 2 5 1 1 1 3 2 5 1 7 1 21 1 9 3 7 1 2 1 5 1 3 1 13 2 4 2 1 1 4 3 1 1 9 2 3 1 3 1 3 2 1 1 2 1 6 2 3 1 2 1 7 2 1 1 1 1 2 1 4 1 2 1 3 2 1 1 2 1 3 1 1 1 1 2 3 1 2 1 3 1 1 1 11 1 5 1 10 2 9 2 16 1 5 1 25 1 17 1 4 1 457"/><path d="M9 71.5h416" stroke-dasharray="1 2 1 12 1 6 1 3 1 7 1 1 1 4 1 1 1 2 1 1 2 1 2 1 1 5 2 1 1 4 1 4 1 8 1 9 3 1 1 3 2 3 2 3 1 4 2 2 1 6 1 2 1 11 1 3 1 7 1 6 1 12 1 5 2 2 1 10 1 20 1 4 1 6 1 6 1 3 1 1 1 2 1 6 1 2 1 4 1 12 1 1 1 7 1 6 1 2 2 4 1 4 1 3 1 1 1 5 1 1 1 6 2 2 1 10 1 1 1 12 1 24 1 35 1 457"/><path d="M1 72.5h446" stroke-dasharray="1 14 1 5 1 9 1 10 2 1 1 5 1 10 1 9 1 9 1 6 1 3 1 7 1 1 3 1 1 4 1 1 2 1 2 1 1 2 1 1 1 2 1 8 2 14 2 6 1 6 1 3 1 3 1 5 1 5 1 3 1 8 1 1 1 1 1 4 1 3 1 9 1 1 1 1 3 5 2 5 2 2 1 4 1 3 2 7 1 6 1 1 1 7 1 8 1 1 1 6 1 10 1 5 1 1 1 2 2 2 1 1 1 10 1 5 1 5 1 8 1 3 1 8 1 4 1 44 1 5 1 3 1 11 1 457"/><path d="M13 73.5h422" stroke-dasharray="1 13 1 3 1 7 1 8 1 2 1 11 1 2 1 2 1 1 1 1 1 1 1 7 1 8 1 16 1 4 2 8 1 3 2 4 2 3 1 2 1 1 2 5 1 2 1 7 1 1 1 5 2 3 3 10 1 4 1 13 1 5 1 7 1 3 1 3 1 1 1 17 3 1 1 5 1 6 2 18 1 6 3 4 3 2 1 6 1 1 1 5 1 2 1 5 1 2 1 3 1 3 1 1 1 4 1 4 1 5 1 10 1 54 1 5 1 3 1 457"/><path d="M15 74.5h434" stroke-dasharray="1 11 1 6 1 4 1 2 1 4 1 12 1 3 1 2 2 2 1 2 1 34 1 1 1 2 1 9 1 2 1 1 1 5 1 3 1 2 2 3 1 6 1 4 2 18 1 5 1 2 1 9 1 12 1 9 1 9 2 2 1 3 1 11 1 4 1 8 1 6 1 7 1 2 1 8 1 3 1 5 1 13 2 2 2 1 1 4 1 7 1 5 1 7 2 17 1 13 1 20 1 19 1 12 1 2 2 6 1 457"/><path d="M2 75.5h454" stroke-dasharray="1 9 1 2 1 4 1 5 1 4 1 5 1 5 1 3 2 8 1 9 1 3 1 2 1 4 1 10 3 1 1 7 2 2 1 7 2 2 1 1 1 1 1 4 1 7 1 2 1 3 2 2 2 3 1 1 1 2 1 7 1 10 1 1 1 2 1 5 1 20 1 13 1 5 1 1 1 11 1 3 1 1 1 3 1 3 1 1 1 7 1 6 1 7 1 3 1 9 1 26 1 12 1 1 2 3 1 23 1 6 1 31 1 19 1 8 1 14 1 6 1 457"/><path d="M1 76.5h456" stroke-dasharray="2 23 1 10 1 6 1 2 3 3 3 3 1 5 1 4 2 2 1 11 2 3 3 7 1 1 1 14 1 17 1 2 1 2 2 15 1 2 1 2 1 3 1 9 1 6 1 4 1 6 2 7 1 10 1 8 1 22 1 10 1 3 1 4 1 4 1 2 1 7 1 1 1 11 1 13 1 5 1 8 1 4 1 3 2 2 1 22 1 8 1 49 1 8 1 8 1 9 1 3 1 457"/><path d="M6 77.5h447" stroke-dasharray="1 14 1 16 1 3 1 5 3 2 1 2 1 1 1 5 1 8 2 4 3 4 2 6 1 5 1 1 1 21 1 3 2 11 3 12 2 3 2 8 1 7 1 1 1 13 1 6 2 9 1 1 1 1 1 9 1 11 1 3 1 2 1 6 1 4 1 1 1 1 1 5 1 2 1 10 1 4 1 6 1 2 1 4 3 13 1 8 1 1 1 1 1 1 2 7 1 1 1 5 1 4 1 1 2 2 1 3 1 2 1 83 1 457"/><path d="M6 78.5h447" stroke-dasharray="1 7 1 3 1 2 1 8 1 1 1 1 1 1 2 4 1 1 1 2 1 2 2 6 1 3 1 1 1 8 2 1 1 1 2 1 1 3 1 5 1 24 1 11 2 1 1 7 1 5 1 6 1 4 1 7 1 11 1 3 2 1 1 14 1 2 2 9 1 33 1 1 1 1 1 1 1 5 2 7 1 2 1 10 1 2 1 12 1 12 1 1 2 11 1 2 1 2 1 3 1 2 2 1 1 11 2 1 1 3 1 2 1 5 1 53 1 27 1 457"/><path d="M8 79.5h449" stroke-dasharray="1 2 1 4 1 7 1 17 1 2 1 4 1 3 1 1 1 1 1 3 1 7 1 3 1 5 1 12 1 18 1 3 1 3 1 11 1 7 1 9 1 2 2 4 1 4 1 6 1 1 1 1 1 3 3 2 1 2 2 1 1 7 1 1 1 2 1 1 1 23 1 2 1 11 1 12 1 5 1 2 1 9 2 3 1 11 1 7 1 3 1 5 2 3 1 5 1 6 1 9 1 1 2 1 1 17 1 2 1 10 1 21 1 34 1 5 1 8 1 2 2 3 1 457"/><path d="M30 80.5h427" stroke-dasharray="1 7 1 3 3 1 1 5 1 2 1 2 1 4 1 2 1 2 1 4 1 5 1 13 1 1 1 5 1 3 1 13 1 10 1 5 2 1 1 1 2 2 2 5 1 1 1 5 3 7 1 5 2 2 1 1 1 4 1 9 1 4 1 1 1 11 1 5 1 1 1 13 1 10 1 6 5 15 1 2 2 1 1 8 2 9 1 1 1 1 2 7 2 10 2 10 1 5 1 26 1 2 1 3 1 2 1 43 1 10 3 6 2 2 1 4 1 457"/><path d="M14 81.5h439" stroke-dasharray="1 5 1 1 1 17 1 5 2 5 1 1 1 4 1 2 2 1 1 2 1 2 1 1 2 2 1 1 1 3 1 12 1 2 1 3 1 12 1 7 1 4 1 6 1 5 1 18 2 17 1 1 1 7 1 11 1 13 1 13 1 5 1 1 1 1 1 1 1 3 1 1 2 4 2 7 1 5 1 9 1 5 1 2 1 14 1 8 1 3 1 10 2 6 2 6 1 28 1 24 1 39 1 1 1 5 1 5 1 457"/><path d="M2 82.5h443" stroke-dasharray="1 1 1 3 1 1 1 11 1 4 1 2 1 5 1 1 1 3 3 2 1 10 1 3 1 3 1 2 2 3 2 19 1 5 1 3 1 14 1 3 2 2 1 8 1 5 1 6 1 9 1 4 1 11 3 3 1 3 1 19 1 12 1 4 1 11 1 1 1 9 2 5 1 4 1 6 1 11 1 10 1 4 1 13 1 11 1 2 2 2 1 1 2 3 1 1 1 1 1 5 1 3 1 3 2 12 1 6 1 2 1 6 1 38 1 11 1 7 1 457"/><path d="M2 83.5h448" stroke-dasharray="1 1 1 3 1 4 1 12 1 1 1 1 1 4 1 8 1 5 1 5 1 5 1 11 1 20 1 2 1 2 1 3 1 1 2 2 1 6 1 1 1 2 1 1 1 2 1 10 1 1 1 1 1 1 1 11 1 11 1 1 3 1 1 1 1 8 1 10 2 5 2 31 1 1 1 7 1 21 1 4 1 5 1 5 1 6 1 6 1 5 1 3 1 17 2 1 3 8 1 6 1 5 1 11 1 10 1 45 1 24 1 457"/><path d="M18 84.5h435" stroke-dasharray="1 5 2 4 1 8 3 1 2 5 1 2 3 6 1 21 1 29 1 9 2 1 2 3 2 1 1 1 1 7 1 22 1 3 1 4 1 5 1 13 1 1 1 56 1 14 1 5 1 10 1 3 1 4 1 4 1 10 2 6 1 3 1 14 1 1 1 1 1 1 1 2 1 90 1 11 1 457"/><path d="M0 85.5h455" stroke-dasharray="2 3 1 16 1 16 1 4 1 4 1 1 1 2 1 11 1 7 1 3 1 5 1 15 1 3 1 5 2 3 1 2 1 6 1 2 1 5 1 4 1 1 2 10 1 1 1 3 1 11 1 1 1 5 1 5 1 11 1 40 1 19 1 4 1 4 1 9 1 5 1 12 2 2 2 5 1 2 1 1 1 1 1 2 1 8 1 3 1 4 1 11 1 91 1 7 1 1 1 1 1 1 1 457"/><path d="M8 86.5h449" stroke-dasharray="1 1 1 5 1 3 1 14 1 8 3 15 1 5 2 4 2 2 1 3 1 5 1 7 1 7 1 5 1 2 1 2 1 1 2 3 1 6 1 6 1 43 1 13 2 10 1 19 1 1 1 8 1 10 1 2 1 7 1 2 1 2 3 3 1 5 1 5 1 3 1 3 1 15 1 5 3 6 1 1 1 2 2 8 1 3 1 5 1 7 1 61 1 3 1 13 1 19 1 457"/><path d="M2 87.5h455" stroke-dasharray="2 5 1 6 1 3 1 2 1 1 1 6 1 1 2 6 1 1 1 3 1 11 3 4 1 1 4 1 1 2 1 14 1 10 1 3 1 5 1 3 1 1 1 3 2 5 2 2 1 1 1 6 1 2 1 8 1 1 1 11 1 17 1 17 1 2 2 17 1 10 1 2 1 2 1 4 1 5 3 2 1 2 1 2 1 3 1 4 1 17 1 3 1 16 2 5 1 12 1 6 3 12 1 2 1 8 1 27 1 21 1 29 1 7 1 457"/><path d="M4 88.5h452" stroke-dasharray="1 3 3 11 2 5 1 2 1 1 1 4 3 10 1 1 1 2 2 3 1 3 1 6 1 21 2 20 3 2 2 6 1 4 1 6 1 12 1 21 2 8 1 13 1 2 1 22 1 21 2 2 1 9 1 5 1 4 1 12 1 12 2 2 1 3 1 3 1 2 1 1 4 3 2 6 1 2 2 3 1 3 1 9 1 7 1 39 1 7 1 19 1 15 1 1 1 6 1 457"/><path d="M4 89.5h449" stroke-dasharray="1 7 1 1 1 12 1 1 1 3 1 2 1 4 1 3 1 4 1 15 1 15 1 19 1 1 2 2 1 10 1 2 1 8 1 13 1 3 2 2 1 9 2 2 1 5 1 1 1 15 1 9 1 5 1 2 1 10 1 16 1 12 1 1 1 9 1 4 1 9 1 17 1 3 1 11 1 1 2 6 1 8 2 15 1 1 1 10 1 4 1 1 1 51 1 9 1 17 1 3 1 457"/><path d="M4 90.5h452" stroke-dasharray="1 20 5 8 1 4 1 1 1 12 1 3 1 10 1 16 1 9 1 1 1 5 1 3 1 18 1 1 1 5 1 7 1 1 1 3 1 9 1 1 1 1 1 5 1 4 1 8 1 18 1 3 1 9 2 24 1 16 1 5 1 1 1 18 1 5 1 7 1 7 1 3 1 2 2 1 1 3 1 6 1 6 1 4 1 4 1 10 1 4 1 63 1 3 1 11 1 3 1 3 2 457"/><path d="M3 91.5h452" stroke-dasharray="1 12 1 1 1 6 1 2 2 11 1 1 3 3 2 4 1 4 1 6 1 4 1 3 2 2 1 6 1 6 1 2 1 7 2 5 1 3 1 1 1 10 2 2 2 20 1 3 1 19 1 5 1 9 1 4 1 4 1 7 1 6 1 6 1 18 1 15 1 1 1 6 2 4 3 2 1 3 1 17 2 13 1 7 1 3 1 12 1 43 1 41 1 5 1 7 1 1 1 7 1 457"/><path d="M6 92.5h442" stroke-dasharray="1 6 1 4 2 2 1 3 1 3 1 1 1 7 5 1 3 6 1 1 1 3 1 5 1 23 2 4 1 2 1 11 1 3 1 1 1 7 1 6 1 9 1 10 1 30 1 14 1 6 1 3 1 50 1 4 2 2 1 5 1 1 1 4 1 19 1 28 1 10 1 2 1 1 1 15 1 4 1 3 1 3 2 18 1 27 1 9 1 5 1 1 1 1 2 457"/><path d="M12 93.5h442" stroke-dasharray="1 7 2 14 1 2 1 2 1 5 1 4 1 4 2 1 1 9 1 1 1 7 1 2 1 15 1 1 1 1 1 4 2 11 1 3 1 1 2 5 1 7 1 10 1 8 1 15 1 10 1 10 1 9 1 13 1 11 2 6 1 5 1 2 1 13 1 2 1 1 1 3 1 2 1 17 1 5 1 8 1 3 1 1 1 1 1 2 1 2 2 8 1 1 1 1 1 6 1 16 1 2 1 3 1 4 1 42 1 17 1 5 1 1 3 4 1 457"/><path d="M7 94.5h441" stroke-dasharray="1 2 1 10 1 4 1 3 1 5 3 17 1 1 1 2 2 1 1 5 4 6 1 5 3 5 1 7 1 2 1 1 1 6 1 2 1 2 2 1 1 1 1 2 1 6 1 19 1 7 1 1 1 1 1 7 1 8 1 22 1 12 1 18 1 25 1 1 1 3 1 2 1 26 1 5 1 1 1 1 1 9 1 2 1 1 1 10 1 1 1 3 1 3 1 16 1 47 1 1 1 23 1 5 1 1 2 457"/><path d="M2 95.5h453" stroke-dasharray="1 4 1 6 3 5 5 1 1 1 1 4 1 3 2 2 3 8 3 4 1 16 1 2 1 4 2 8 1 5 1 4 1 11 1 1 1 3 1 10 1 6 1 31 1 15 1 15 1 5 1 1 1 35 1 1 1 1 1 4 2 23 2 13 1 14 1 3 1 1 1 7 1 5 1 1 1 1 1 3 2 10 1 15 2 45 1 19 1 3 1 1 1 9 1 457"/><path d="M2 96.5h455" stroke-dasharray="1 9 1 2 2 9 1 3 1 1 1 1 1 4 1 14 1 1 1 12 1 9 1 1 2 3 1 6 1 2 1 1 2 6 2 1 1 1 2 8 1 3 2 5 1 2 2 6 1 27 1 3 1 3 1 15 1 19 1 44 1 1 1 17 1 1 2 6 1 3 1 70 1 5 1 2 1 7 1 15 1 17 1 10 1 8 1 13 1 1 2 2 1 457"/><path d="M4 97.5h449" stroke-dasharray="1 5 1 1 1 7 1 3 1 1 1 3 2 2 1 3 3 5 1 17 2 10 1 4 1 4 1 3 1 2 2 1 1 2 1 1 1 3 1 1 1 3 1 9 1 3 2 2 1 9 1 2 2 19 1 3 1 3 1 18 1 1 1 6 1 47 1 5 1 5 1 1 1 2 1 2 1 1 1 11 1 2 1 12 2 1 1 20 1 11 1 5 1 32 1 1 1 11 1 7 1 4 1 27 1 14 1 1 1 4 1 1 2 457"/><path d="M0 98.5h454" stroke-dasharray="1 10 1 8 1 2 1 2 1 1 4 6 1 1 1 1 1 4 1 3 1 9 2 2 1 2 1 4 1 3 1 6 3 3 1 2 1 5 1 5 1 1 1 1 1 4 4 8 1 8 1 7 1 1 1 3 2 12 1 3 1 3 1 9 1 87 1 17 1 4 1 7 1 2 2 21 1 35 1 9 1 1 1 11 1 25 1 14 1 14 2 3 1 1 1 3 1 457"/><path d="M5 99.5h445" stroke-dasharray="2 1 1 2 2 5 1 6 1 12 1 12 1 1 1 11 1 7 1 3 2 1 1 2 1 2 1 9 1 1 3 8 3 4 1 3 1 1 2 9 1 7 1 3 1 3 1 3 1 9 1 17 1 3 1 3 1 67 1 5 1 5 1 1 1 6 1 11 1 1 1 1 1 3 1 6 1 11 1 8 1 13 1 17 1 3 1 11 1 11 1 12 2 19 1 13 1 3 1 1 1 1 1 6 1 457"/><path d="M3 100.5h443" stroke-dasharray="1 2 1 6 1 2 4 2 1 3 1 1 1 9 1 8 1 11 1 3 1 2 1 19 1 1 1 10 2 4 1 17 1 1 1 3 1 9 1 128 2 1 1 2 1 2 2 2 2 1 1 5 1 8 1 1 1 1 2 8 1 27 1 16 1 2 1 8 1 1 1 25 1 21 1 24 1 457"/><path d="M2 101.5h413" stroke-dasharray="2 4 2 1 1 1 2 2 1 2 1 5 2 9 1 3 1 3 1 3 1 1 1 7 2 2 1 34 3 10 1 9 1 1 1 59 1 97 1 1 1 6 1 4 1 2 3 2 1 15 1 17 1 6 1 15 2 6 1 1 1 5 1 23 1 13 1 457"/><path d="M283 102.5h156" stroke-dasharray="2 3 1 11 2 1 1 7 1 7 1 29 1 1 1 4 2 5 1 14 1 1 1 19 1 11 1 7 1 16 2 457"/><path d="M296 103.5h141" stroke-dasharray="1 3 2 59 1 3 1 3 1 10 1 1 1 23 1 29 1 457"/><path d="M299 104.5h133" stroke-dasharray="2 4 1 9 1 5 1 1 1 3 1 7 1 8 1 12 1 5 1 3 1 6 1 25 1 3 1 3 1 22 1 457"/><path d="M15 105.5h416" stroke-dasharray="1 7 1 280 1 6 1 9 1 1 1 7 1 9 1 8 1 37 1 17 1 1 1 21 1 457"/><path d="M4 106.5h419" stroke-dasharray="1 318 1 31 1 6 1 7 1 9 1 7 1 30 1 2 1 457"/><path d="M323 107.5h85" stroke-dasharray="2 2 1 9 1 3 1 1 1 21 1 4 1 9 1 7 1 17 2 457"/><path d="M5 108.5h419" stroke-dasharray="1 13 1 12 1 290 1 1 1 17 1 5 1 11 1 6 1 7 1 4 1 18 1 6 1 6 1 8 1 457"/><path d="M343 109.5h74" stroke-dasharray="1 5 1 20 1 1 1 6 1 8 1 3 1 19 1 1 1 1 1 457"/><path d="M17 110.5h398" stroke-dasharray="1 10 1 310 1 4 1 10 1 6 2 14 1 13 1 5 1 15 1 457"/><path d="M26 111.5h378" stroke-dasharray="1 317 1 10 1 9 1 8 1 15 1 7 1 3 2 457"/><path d="M361 112.5h43" stroke-dasharray="1 3 1 6 3 15 1 12 1 457"/><path d="M367 113.5h35" stroke-dasharray="1 6 1 2 1 22 2 457"/><path d="M14 116.5h5" stroke-dasharray="1 3 1 457"/></g><g stroke="#169ace"><path d="M15 22.5h117" stroke-dasharray="1 22 1 10 1 17 2 29 1 29 1 2 1 457"/><path d="M16 23.5h223" stroke-dasharray="1 22 1 31 1 43 1 14 2 25 2 2 1 18 1 6 1 17 1 6 1 8 1 8 1 7 1 457"/><path d="M42 24.5h329" stroke-dasharray="1 18 1 11 1 9 1 15 1 30 1 16 1 11 1 1 1 5 1 2 1 60 1 4 1 37 1 6 1 16 1 24 1 3 1 36 1 5 1 457"/><path d="M46 25.5h370" stroke-dasharray="1 12 1 15 1 13 1 28 1 7 1 2 1 3 1 3 1 6 1 2 1 8 1 22 1 9 2 14 1 7 1 2 1 22 1 5 1 2 1 10 1 4 1 6 1 23 1 18 1 6 2 11 2 9 1 69 1 457"/><path d="M18 26.5h392" stroke-dasharray="1 70 1 37 1 6 1 10 3 20 1 2 1 4 1 14 1 16 1 7 1 9 1 24 1 30 1 4 1 9 1 10 1 14 1 5 1 5 1 33 1 11 1 27 1 457"/><path d="M68 27.5h381" stroke-dasharray="1 7 2 6 1 24 1 26 1 3 1 6 1 23 1 2 1 1 1 7 1 4 1 3 1 2 1 5 1 1 1 2 1 15 1 10 1 21 1 6 1 1 1 57 1 2 1 16 1 26 1 10 1 63 1 2 1 457"/><path d="M28 28.5h421" stroke-dasharray="1 15 1 15 1 5 1 1 1 20 1 1 1 20 1 3 1 15 1 14 1 3 1 14 1 4 1 1 1 12 1 7 1 4 2 6 1 3 1 32 1 21 2 8 1 26 1 13 1 12 1 13 1 12 1 1 1 85 1 2 1 457"/><path d="M65 29.5h378" stroke-dasharray="1 23 1 8 2 12 1 18 1 1 1 16 1 2 1 11 2 4 1 1 1 1 2 9 1 1 1 1 1 8 1 1 1 5 1 5 1 26 2 11 1 8 1 3 1 9 1 4 1 12 1 1 1 9 1 19 1 25 1 1 1 2 1 7 1 14 1 17 1 43 1 457"/><path d="M54 30.5h401" stroke-dasharray="1 10 1 6 1 26 1 4 1 10 1 7 1 5 1 2 1 7 1 1 1 13 1 16 1 3 1 4 1 3 1 1 1 3 1 3 1 1 1 3 1 2 2 2 1 6 1 1 1 5 1 3 1 7 1 13 1 4 1 1 1 10 1 7 1 6 1 3 1 6 1 1 1 2 2 2 1 14 1 5 1 25 1 1 1 1 1 14 1 72 1 11 1 457"/><path d="M54 31.5h328" stroke-dasharray="1 7 1 17 1 35 1 2 1 12 1 12 1 9 1 2 1 4 1 8 1 4 2 1 1 3 1 1 1 3 1 13 1 5 1 2 1 4 1 5 1 2 3 4 1 12 1 5 1 2 1 8 4 26 1 5 3 17 2 32 2 24 1 457"/><path d="M41 32.5h410" stroke-dasharray="1 63 1 10 1 2 1 20 1 14 1 2 1 3 1 3 1 5 1 8 2 14 1 3 1 2 1 1 1 5 3 2 1 1 1 20 1 1 1 3 1 5 1 5 1 1 1 17 1 7 1 11 1 7 1 3 1 3 1 1 1 1 1 1 1 1 1 21 1 13 1 67 1 5 1 17 1 457"/><path d="M34 33.5h417" stroke-dasharray="1 61 1 3 1 6 1 30 1 1 1 5 1 7 1 8 3 7 2 7 1 8 1 9 1 4 1 4 1 8 2 6 1 1 1 11 1 26 1 8 1 1 1 1 1 15 1 7 1 2 1 6 1 1 1 4 1 5 1 17 1 12 1 2 1 58 1 19 1 3 1 3 1 457"/><path d="M26 34.5h397" stroke-dasharray="1 71 1 13 1 8 1 11 1 19 1 1 2 5 1 4 1 6 1 8 1 5 1 5 1 10 1 10 1 6 1 8 2 4 1 14 1 11 1 10 2 9 1 2 1 2 1 3 1 3 1 6 1 20 1 20 1 70 1 457"/><path d="M87 35.5h289" stroke-dasharray="1 35 1 1 1 22 1 1 1 3 1 5 1 13 2 1 1 4 1 4 1 6 1 5 1 12 2 3 1 2 1 6 1 33 1 6 1 3 1 3 3 1 1 6 1 4 1 14 2 5 1 40 1 3 1 14 1 457"/><path d="M146 36.5h277" stroke-dasharray="1 7 1 10 1 3 1 5 1 1 2 1 1 1 1 1 1 9 1 8 1 8 1 3 1 2 1 2 1 4 1 14 1 3 1 1 2 8 1 3 1 5 1 8 3 7 2 10 1 4 1 1 1 9 1 12 1 21 1 70 1 457"/><path d="M6 37.5h427" stroke-dasharray="1 93 1 21 1 11 1 7 1 7 2 2 1 20 2 2 1 4 1 1 2 8 1 10 1 1 2 5 1 7 1 3 1 8 1 2 1 5 1 1 1 10 1 9 1 6 1 3 1 5 1 1 1 5 1 3 1 19 1 3 1 13 1 3 1 2 1 88 1 457"/><path d="M33 38.5h400" stroke-dasharray="1 2 2 1 1 60 1 17 1 7 1 9 1 2 1 3 1 5 2 3 1 1 1 8 1 5 3 2 1 19 1 1 1 2 1 1 2 3 1 2 1 10 1 6 1 3 1 2 1 6 1 1 3 20 1 2 1 6 1 1 2 4 2 8 1 3 1 2 1 5 3 7 1 12 1 1 1 37 1 40 1 18 1 457"/><path d="M33 39.5h376" stroke-dasharray="1 88 1 16 1 3 1 11 1 10 1 1 1 2 3 22 1 1 1 3 2 6 2 5 1 2 1 1 1 1 1 2 3 3 1 1 2 1 1 2 1 3 1 1 1 12 1 17 1 4 2 3 1 9 1 1 1 2 2 5 3 1 1 2 1 2 1 9 1 3 1 2 1 3 2 1 1 13 1 2 1 46 1 457"/><path d="M109 40.5h276" stroke-dasharray="1 26 1 3 1 2 1 20 1 1 1 6 1 2 2 1 1 9 1 3 1 10 1 1 2 11 1 12 2 2 1 6 1 1 1 8 1 1 1 3 1 1 1 4 1 1 1 1 2 1 1 3 1 11 1 6 1 2 1 2 1 1 1 2 1 1 1 1 2 1 2 4 1 16 1 2 1 14 1 9 1 5 1 11 1 457"/><path d="M32 41.5h419" stroke-dasharray="1 58 1 17 1 19 1 5 1 10 1 2 1 2 1 13 1 5 2 3 1 3 1 3 1 1 1 5 3 4 2 2 1 2 1 8 1 1 2 8 1 12 1 3 1 6 1 3 1 3 1 1 1 9 1 2 1 8 4 9 1 4 1 10 2 1 1 2 2 39 1 11 1 77 1 457"/><path d="M32 42.5h314" stroke-dasharray="1 58 1 9 1 20 1 7 1 5 1 4 1 2 2 2 1 1 1 15 1 14 1 7 2 7 2 1 1 9 1 6 3 4 1 6 1 2 1 3 2 22 1 2 1 5 1 2 1 3 1 2 1 1 1 7 1 7 2 4 1 5 2 2 2 2 1 3 1 3 1 5 1 10 1 457"/><path d="M86 43.5h276" stroke-dasharray="1 1 1 32 1 8 1 8 2 4 1 3 1 8 1 7 1 1 1 6 1 6 1 9 1 1 1 1 1 2 1 1 4 2 1 17 1 3 1 4 1 3 1 4 1 6 1 5 1 11 1 3 1 6 1 13 1 12 1 6 1 2 2 6 1 1 1 1 3 3 2 24 2 457"/><path d="M55 44.5h317" stroke-dasharray="1 39 1 6 1 27 1 6 2 13 1 1 2 8 1 3 2 1 1 2 1 3 1 3 3 4 2 1 1 5 1 1 2 6 1 7 1 6 1 13 1 4 1 25 1 5 1 11 1 2 1 3 1 17 2 27 1 9 1 20 1 457"/><path d="M28 45.5h334" stroke-dasharray="1 15 1 8 1 5 1 15 1 31 1 22 1 6 1 16 1 4 2 3 1 4 1 2 1 5 4 2 2 3 1 12 1 5 1 6 2 4 1 6 1 9 1 3 1 1 2 12 1 3 1 15 1 5 1 1 1 2 1 3 1 1 1 15 1 33 1 14 2 457"/><path d="M13 46.5h306" stroke-dasharray="1 23 1 36 1 5 1 26 1 32 1 11 1 4 1 1 2 3 1 3 2 7 1 6 1 3 1 7 1 7 1 9 1 2 3 7 1 8 1 2 2 6 2 2 1 9 2 8 1 14 1 2 1 4 1 8 2 13 1 457"/><path d="M13 47.5h384" stroke-dasharray="1 16 1 16 1 11 1 14 1 4 1 40 1 9 1 15 1 5 1 3 2 8 1 13 1 7 1 3 1 8 1 1 2 7 2 6 1 17 1 1 1 6 1 9 1 4 1 15 1 7 1 7 1 3 1 3 1 1 1 7 1 5 1 1 1 7 1 8 1 16 1 41 1 457"/><path d="M30 48.5h333" stroke-dasharray="1 22 1 8 1 11 1 33 1 11 1 14 1 8 1 7 1 13 1 8 1 5 1 2 1 4 1 4 2 3 2 5 1 8 2 3 1 2 2 1 1 1 1 3 2 8 1 2 1 10 2 4 1 1 1 10 1 10 1 15 1 1 1 23 1 9 1 7 1 1 1 5 1 7 1 457"/><path d="M6 49.5h355" stroke-dasharray="1 27 1 1 1 16 1 6 1 1 1 47 1 24 1 10 1 1 1 3 2 1 1 4 1 2 1 6 1 11 2 2 1 1 1 1 1 1 2 6 1 5 1 1 1 7 1 18 1 2 1 9 2 14 1 13 1 9 1 4 1 8 1 9 1 5 2 8 1 7 2 5 1 10 1 5 1 457"/><path d="M4 50.5h425" stroke-dasharray="1 31 1 4 1 18 1 7 1 37 1 10 1 4 1 6 1 5 1 6 2 2 1 4 2 1 1 3 1 5 1 8 1 6 1 5 1 2 1 1 1 2 2 5 1 20 1 8 1 3 3 4 1 4 2 36 1 6 1 1 1 2 1 17 1 2 1 1 1 1 1 1 1 21 1 24 1 56 1 457"/><path d="M36 51.5h379" stroke-dasharray="1 4 1 12 1 13 1 1 1 27 1 31 1 13 4 12 1 1 4 3 1 13 1 1 1 3 1 3 3 5 1 1 1 1 2 1 2 2 1 11 1 7 1 4 1 1 1 4 2 2 1 12 1 16 1 16 1 27 1 2 1 4 1 5 1 33 1 42 1 457"/><path d="M25 52.5h421" stroke-dasharray="1 4 1 5 1 2 1 13 1 14 1 25 1 3 1 31 1 1 2 10 1 1 1 3 1 1 1 8 1 12 1 1 3 5 1 1 2 7 1 3 1 6 1 1 1 8 1 19 1 3 1 6 1 3 1 8 1 1 1 3 2 5 1 3 1 6 1 9 1 7 1 16 1 7 1 5 1 1 1 11 1 11 1 10 1 5 1 67 1 457"/><path d="M23 53.5h424" stroke-dasharray="1 13 1 4 1 10 2 9 1 27 1 4 1 23 1 10 2 1 1 14 1 1 1 3 2 1 1 1 2 19 1 6 1 1 1 6 1 5 1 2 1 3 3 5 1 1 2 1 1 2 1 1 1 5 2 3 3 5 1 19 1 5 1 3 1 31 1 3 1 2 1 13 1 15 2 5 2 90 1 457"/><path d="M23 54.5h326" stroke-dasharray="1 15 1 1 1 4 1 13 1 20 1 9 2 21 1 16 1 6 1 8 2 6 1 3 1 11 1 2 1 1 1 6 1 1 1 3 1 12 2 1 1 7 1 2 1 1 2 1 1 5 1 8 1 1 1 3 1 2 1 2 1 7 2 12 1 7 1 12 1 14 1 6 1 6 1 7 2 18 1 457"/><path d="M23 55.5h340" stroke-dasharray="1 8 1 17 1 41 1 26 1 21 1 10 1 2 1 6 1 7 2 1 2 2 2 4 2 1 2 1 1 6 1 5 2 7 1 5 1 4 1 3 1 1 1 1 1 5 1 1 1 3 1 3 1 10 1 6 1 10 1 2 1 6 1 6 1 29 1 11 1 15 1 11 1 457"/><path d="M57 56.5h304" stroke-dasharray="1 23 1 8 1 7 1 34 1 2 1 36 2 3 1 1 1 1 1 1 1 5 1 2 1 2 1 2 2 1 1 11 1 4 3 13 1 1 1 1 1 4 1 11 1 1 2 4 1 5 1 17 1 3 1 10 1 7 3 22 1 6 1 2 1 7 1 2 1 2 1 457"/><path d="M38 57.5h317" stroke-dasharray="1 5 2 11 1 2 1 9 1 1 1 48 1 2 1 4 1 2 1 1 1 2 1 16 1 2 1 2 2 10 3 15 1 2 2 1 1 3 1 1 1 13 1 4 2 1 1 1 1 2 1 1 1 4 2 1 1 2 2 4 1 6 1 10 1 4 1 12 1 30 1 12 1 1 1 5 1 3 1 6 1 2 1 3 1 457"/><path d="M26 58.5h431" stroke-dasharray="1 11 1 4 1 1 1 26 1 37 1 1 1 11 1 4 3 2 1 4 1 1 5 2 1 4 1 1 1 4 2 6 1 3 1 1 2 5 1 3 1 4 2 4 2 20 2 4 1 4 1 1 1 9 1 15 1 10 1 9 1 38 1 4 1 5 2 41 1 84 1 457"/><path d="M26 59.5h367" stroke-dasharray="1 18 1 1 1 3 2 1 1 1 2 14 1 56 1 6 1 3 1 3 1 3 3 4 1 2 2 3 1 10 1 3 1 1 2 2 1 2 1 2 1 1 1 3 2 11 1 1 2 4 1 6 1 4 1 6 1 3 1 7 1 8 1 3 1 19 1 30 1 9 1 9 2 9 1 2 1 2 2 19 1 21 1 457"/><path d="M17 60.5h436" stroke-dasharray="1 12 1 13 2 2 2 1 2 3 1 4 1 10 1 32 1 6 1 6 1 2 1 9 1 6 1 4 2 9 2 4 1 1 2 8 2 2 1 1 2 2 1 6 1 3 1 1 2 4 1 8 2 5 1 4 1 4 3 3 1 4 1 10 2 5 1 14 2 2 1 1 1 14 2 8 1 11 1 1 1 2 1 6 1 10 1 7 1 3 2 8 1 16 1 4 1 9 1 59 1 457"/><path d="M41 61.5h412" stroke-dasharray="2 5 1 2 2 40 1 17 1 13 1 5 1 3 1 3 1 6 2 1 1 1 1 3 1 3 1 1 1 2 1 2 1 2 1 6 1 1 1 8 1 2 1 8 1 1 1 9 1 2 1 3 2 11 1 1 1 3 1 1 1 9 2 2 1 2 1 3 2 10 1 19 2 8 1 16 1 3 1 23 1 1 1 9 1 3 1 7 1 4 2 30 1 42 1 457"/><path d="M29 62.5h350" stroke-dasharray="1 11 1 6 2 12 1 61 2 8 1 1 2 1 2 6 1 10 2 4 1 7 1 7 1 4 1 3 1 2 1 2 2 4 2 3 1 5 1 2 1 1 2 3 1 12 1 1 1 3 2 1 1 3 1 2 1 2 1 1 1 11 2 42 2 17 1 5 1 4 1 15 1 6 2 4 1 6 1 457"/><path d="M29 63.5h343" stroke-dasharray="1 11 2 3 1 9 1 18 1 3 1 9 1 34 1 11 1 1 1 5 1 3 1 2 1 2 1 7 1 3 1 3 1 12 1 1 2 5 1 2 2 9 1 5 1 11 1 17 1 2 1 2 1 5 2 2 1 5 1 9 1 8 1 19 1 7 2 1 2 18 1 4 1 2 1 6 1 8 1 1 1 10 1 457"/><path d="M36 64.5h327" stroke-dasharray="1 5 1 6 1 7 1 20 2 2 1 18 1 16 1 5 1 7 1 10 1 1 1 7 2 14 3 4 1 6 1 1 1 5 1 3 1 5 1 4 1 2 1 2 3 5 1 17 1 6 2 2 1 5 1 2 1 5 1 9 1 5 1 3 1 3 1 4 1 45 1 2 1 8 1 10 1 457"/><path d="M2 65.5h341" stroke-dasharray="1 29 1 1 1 7 1 5 2 1 1 5 1 24 1 39 1 1 1 3 1 3 1 5 1 4 1 1 2 1 2 4 2 5 1 1 1 1 1 7 1 4 1 4 1 4 1 1 2 3 2 4 1 3 2 2 1 4 1 6 1 3 1 13 2 4 1 3 1 1 2 2 1 2 1 4 1 39 1 4 1 9 1 5 1 1 1 15 1 457"/><path d="M12 66.5h356" stroke-dasharray="1 11 1 7 1 1 1 4 1 2 1 2 1 5 1 8 2 6 1 15 1 1 1 32 1 2 1 1 1 3 1 6 1 7 3 1 1 2 1 2 3 2 1 1 1 1 1 4 1 2 1 1 2 14 1 6 2 1 1 2 2 1 1 1 1 2 1 9 1 4 2 2 1 2 1 3 1 10 1 6 2 3 1 4 1 2 1 1 3 6 1 24 1 3 1 11 1 4 2 42 1 457"/><path d="M30 67.5h379" stroke-dasharray="1 11 2 1 1 15 1 16 1 7 1 3 1 26 1 1 1 2 1 1 1 2 3 13 4 16 3 1 1 4 1 16 1 10 3 2 1 1 1 2 1 4 1 1 1 13 1 9 1 4 1 18 1 1 1 29 1 4 2 2 1 17 1 17 1 2 1 16 1 14 1 30 1 457"/><path d="M13 68.5h426" stroke-dasharray="1 28 2 2 1 9 1 9 1 8 1 40 1 3 1 5 1 1 1 8 2 1 1 3 3 2 1 13 1 1 1 6 1 3 1 1 2 1 1 7 1 9 1 2 1 2 2 6 1 3 1 11 2 2 2 2 1 8 2 1 1 4 1 11 1 27 1 5 1 24 1 3 1 6 1 1 1 12 1 24 1 61 1 457"/><path d="M12 69.5h436" stroke-dasharray="1 16 1 12 1 3 1 10 2 9 2 5 1 18 1 20 2 3 1 7 1 3 1 8 1 1 1 2 2 1 1 5 1 1 1 15 1 7 1 5 3 1 1 10 1 1 1 7 1 2 1 1 2 4 1 6 1 6 1 4 1 18 1 8 1 3 2 2 1 19 1 21 1 9 1 11 3 6 1 40 1 32 2 20 1 457"/><path d="M29 70.5h342" stroke-dasharray="1 8 1 3 1 1 3 1 1 8 1 4 1 1 1 7 2 1 1 38 3 6 1 6 2 2 1 10 2 3 1 3 2 1 1 5 3 1 1 2 2 3 1 6 2 3 1 5 1 10 2 6 1 1 1 9 1 3 1 4 1 4 2 6 3 2 1 3 1 5 1 6 1 5 1 7 2 12 1 3 1 25 1 6 1 9 2 3 1 21 1 457"/><path d="M16 71.5h427" stroke-dasharray="1 21 1 3 2 6 1 21 1 1 1 20 1 18 1 8 1 8 1 7 1 2 1 2 1 3 1 6 3 2 1 2 1 3 1 3 1 3 1 1 2 11 1 5 2 5 2 4 1 1 1 1 3 2 1 2 1 8 2 6 2 1 1 8 1 1 3 1 1 8 1 4 1 14 1 2 1 9 1 5 1 7 1 14 1 2 1 13 1 27 1 1 1 65 1 457"/><path d="M40 72.5h337" stroke-dasharray="1 1 1 5 1 1 2 1 1 4 1 3 1 8 1 2 1 11 1 5 1 21 1 12 1 5 1 1 2 5 1 8 1 4 2 2 1 2 1 3 1 2 1 7 3 4 1 2 1 1 3 2 1 1 3 7 1 2 1 8 3 4 1 9 1 3 2 25 1 18 1 13 1 1 1 3 1 23 1 1 1 3 1 39 1 457"/><path d="M34 73.5h409" stroke-dasharray="1 6 2 1 1 5 1 1 1 15 1 5 1 5 1 5 1 7 1 1 1 14 1 4 1 1 1 2 1 4 2 8 3 1 1 14 1 7 1 10 1 5 1 10 2 3 1 1 1 3 1 3 1 1 1 1 1 4 1 6 1 1 1 11 1 4 1 2 2 1 1 4 1 4 1 14 1 2 1 7 2 5 1 15 1 3 1 13 1 5 1 10 1 19 1 2 1 14 1 60 1 1 1 457"/><path d="M14 74.5h429" stroke-dasharray="1 16 1 13 1 2 1 1 1 2 1 4 1 10 1 2 1 2 1 10 1 7 1 6 1 14 1 1 1 2 1 6 1 1 1 7 1 5 1 7 2 1 1 2 1 2 1 1 1 7 1 5 1 9 1 12 1 2 1 10 1 3 1 6 1 1 1 9 2 2 1 3 1 1 2 8 1 1 1 4 1 10 1 8 1 1 1 16 2 1 1 3 1 18 1 1 2 5 1 19 1 83 1 457"/><path d="M36 75.5h421" stroke-dasharray="1 7 1 4 1 3 1 4 1 1 1 11 1 43 1 7 1 4 1 11 1 8 1 1 1 2 1 2 1 3 1 16 1 3 3 1 1 8 2 2 1 2 1 13 1 6 1 5 2 11 2 14 1 1 1 2 1 10 1 2 1 17 1 5 1 1 1 1 1 3 2 8 1 5 1 1 3 7 3 10 1 4 1 7 1 40 1 31 1 4 1 13 1 457"/><path d="M22 76.5h375" stroke-dasharray="1 1 1 27 1 5 1 1 1 1 1 6 1 9 2 9 1 11 1 9 1 1 1 1 1 5 2 2 2 1 1 2 1 4 1 3 1 2 1 2 1 4 1 2 2 7 1 5 1 4 1 7 3 1 1 7 1 1 1 19 1 6 1 13 1 4 1 2 1 9 2 22 1 13 1 7 1 1 1 11 1 9 1 1 1 2 1 4 1 17 1 1 1 4 1 34 1 457"/><path d="M14 77.5h420" stroke-dasharray="1 7 1 1 1 7 1 18 2 8 2 3 1 3 1 22 1 22 1 5 1 11 3 2 1 5 2 6 1 5 1 8 2 12 2 1 2 12 1 5 1 1 1 2 1 9 1 12 1 3 1 3 1 7 1 2 1 12 1 15 1 6 1 11 1 13 1 15 1 5 1 1 1 1 1 13 1 1 1 13 1 8 1 16 1 36 1 457"/><path d="M31 78.5h417" stroke-dasharray="1 20 1 3 1 3 2 8 1 1 1 11 1 9 1 19 1 11 2 7 1 4 1 1 1 3 1 2 2 2 2 1 1 2 1 4 1 2 1 5 1 1 1 3 2 14 1 4 1 4 1 11 1 2 1 6 1 1 1 4 1 1 2 1 1 3 1 1 2 1 1 6 1 9 1 12 1 2 1 6 1 2 1 5 1 4 2 18 1 12 1 10 1 9 1 8 1 81 1 457"/><path d="M2 79.5h363" stroke-dasharray="1 27 1 13 1 7 1 13 1 5 1 9 1 11 1 1 1 6 1 14 1 4 1 2 2 3 1 2 1 9 1 2 1 3 1 11 1 1 1 1 2 5 1 2 1 7 2 12 1 9 1 7 1 1 1 6 1 12 1 1 1 8 1 1 1 2 1 2 1 2 1 8 1 15 1 3 2 6 1 25 1 10 1 4 1 12 1 4 1 5 1 457"/><path d="M8 80.5h445" stroke-dasharray="1 22 1 13 1 2 1 1 1 3 1 7 1 15 1 5 1 12 1 5 1 8 1 5 1 5 1 5 1 1 1 2 2 12 1 4 1 25 1 5 2 2 1 18 1 4 1 4 1 6 1 2 1 2 1 3 1 6 2 7 1 1 3 13 1 3 1 11 1 2 1 1 1 6 1 39 1 2 1 2 1 19 1 33 1 53 1 457"/><path d="M2 81.5h379" stroke-dasharray="1 21 1 5 1 7 1 3 1 7 1 3 1 7 1 5 1 51 1 7 1 3 1 5 1 2 2 2 2 2 1 10 1 4 2 2 1 5 1 4 1 17 1 6 1 3 1 9 1 3 1 5 1 3 1 10 3 4 2 4 2 18 1 13 1 6 1 3 1 4 1 2 1 3 1 3 1 15 1 3 1 3 1 21 1 15 1 457"/><path d="M14 82.5h443" stroke-dasharray="1 5 1 19 1 9 1 2 1 6 1 3 1 11 1 23 1 3 1 11 1 6 1 6 1 3 1 12 1 8 2 11 1 5 1 10 1 1 1 3 1 1 2 1 3 3 1 1 1 3 1 7 1 3 1 6 2 5 1 5 1 2 1 1 1 6 1 10 1 11 1 21 1 1 1 3 1 23 1 1 1 33 1 91 1 457"/><path d="M6 83.5h448" stroke-dasharray="1 18 1 1 1 8 1 1 1 1 1 2 1 4 1 3 1 15 1 7 1 40 1 1 1 4 1 1 1 7 3 10 1 11 1 1 2 15 2 8 2 4 2 3 1 7 1 1 1 2 1 2 1 5 1 7 1 5 1 8 1 3 1 1 1 5 1 2 1 1 1 4 1 1 1 3 1 3 1 1 1 3 1 35 1 1 2 2 2 1 1 6 1 19 1 81 1 7 1 8 1 457"/><path d="M26 84.5h428" stroke-dasharray="1 1 1 5 1 13 1 9 1 7 1 21 1 12 1 2 1 1 1 1 1 8 1 2 1 5 1 7 1 6 2 4 1 4 1 10 2 4 1 1 1 3 1 9 2 4 1 6 1 3 2 5 1 5 1 3 1 9 1 4 1 1 1 26 2 3 1 5 1 1 1 1 1 1 1 1 1 17 1 3 1 1 2 19 3 106 1 16 1 457"/><path d="M26 85.5h431" stroke-dasharray="1 19 1 3 1 4 1 5 2 25 1 1 1 7 1 2 1 12 1 5 1 5 2 2 1 7 1 1 1 4 1 1 1 4 1 10 3 2 2 2 1 5 1 4 1 15 2 8 1 9 1 3 1 3 1 1 1 4 1 1 1 5 1 5 1 1 1 1 1 3 1 3 1 6 1 2 1 1 1 3 1 15 1 3 1 3 1 3 1 1 2 2 1 11 1 6 2 1 1 9 1 57 1 35 1 19 1 457"/><path d="M22 86.5h433" stroke-dasharray="1 1 1 7 1 6 3 6 1 1 1 15 1 23 1 10 1 6 1 8 1 2 1 6 2 4 1 2 1 9 2 11 1 3 5 1 1 2 3 8 1 1 1 6 1 7 1 2 1 4 2 3 1 7 1 2 2 5 1 12 1 6 1 1 1 1 1 6 1 2 1 4 1 3 1 1 1 2 1 6 1 10 2 8 1 12 1 6 1 3 1 14 1 3 1 75 1 17 1 5 1 3 1 457"/><path d="M8 87.5h443" stroke-dasharray="1 1 1 2 1 8 1 5 2 6 1 3 1 15 1 39 1 4 2 3 1 2 2 1 1 3 1 10 1 4 1 4 1 3 1 19 1 3 2 8 1 1 2 3 2 1 1 6 1 3 1 4 1 2 1 8 1 2 1 4 1 3 1 17 1 7 1 1 1 4 1 2 2 2 1 2 1 2 2 3 1 3 1 17 1 2 1 6 1 8 1 6 1 2 1 4 1 3 1 9 1 3 1 83 1 15 1 457"/><path d="M16 88.5h435" stroke-dasharray="1 8 1 2 1 15 1 3 1 6 1 4 1 4 1 4 2 2 1 5 1 17 1 7 1 5 1 3 1 10 1 3 1 4 1 8 1 3 2 20 1 10 1 1 2 3 1 8 1 22 1 3 1 11 3 6 1 1 1 2 1 3 1 1 1 2 2 5 2 1 1 1 1 3 1 3 1 15 1 1 1 3 1 3 2 2 1 10 1 12 1 11 1 3 1 81 1 17 1 457"/><path d="M25 89.5h431" stroke-dasharray="1 2 1 5 1 2 1 2 1 16 1 4 1 2 1 2 1 2 1 1 1 24 1 7 1 2 1 2 1 13 1 3 1 4 1 3 2 6 1 4 1 2 1 5 1 9 1 5 1 6 1 13 2 4 1 6 1 1 1 9 1 1 3 2 1 6 1 1 1 3 1 5 1 4 4 3 1 7 1 3 1 2 1 27 1 5 1 9 1 3 1 15 1 5 1 63 1 21 1 1 1 11 1 3 1 4 1 457"/><path d="M12 90.5h445" stroke-dasharray="3 9 1 8 2 5 1 6 1 2 1 4 1 1 1 22 1 25 1 4 1 6 1 5 1 10 2 4 1 1 1 10 2 1 1 1 1 9 1 1 1 7 1 13 1 3 1 1 1 1 1 11 1 12 2 10 1 9 1 1 1 7 1 1 1 1 1 1 1 1 3 1 1 2 1 2 1 1 3 29 1 13 1 9 1 1 1 17 1 33 1 67 1 457"/><path d="M12 91.5h423" stroke-dasharray="1 1 1 9 1 1 1 6 2 3 1 8 2 8 1 16 1 27 1 1 1 5 2 2 1 5 1 11 1 3 1 1 2 3 2 4 1 4 1 12 1 3 1 3 1 11 1 5 1 3 1 8 1 2 3 18 1 17 1 7 1 1 1 4 1 4 1 55 1 20 2 5 1 13 1 67 1 457"/><path d="M12 92.5h423" stroke-dasharray="1 7 1 7 1 4 1 4 1 6 1 6 2 17 1 4 1 3 1 9 1 3 1 10 2 4 1 8 1 7 1 3 1 1 1 1 1 7 2 1 1 7 1 21 1 3 1 13 1 1 1 3 1 3 2 6 1 11 1 1 1 2 1 21 1 12 1 6 1 3 1 1 1 21 1 4 1 21 1 4 1 3 1 4 1 3 2 5 1 9 1 5 1 51 1 13 1 457"/><path d="M13 93.5h430" stroke-dasharray="1 4 1 16 1 1 2 2 1 10 1 27 1 13 1 17 1 5 1 1 2 2 1 5 1 2 1 2 1 2 1 5 1 9 1 5 1 9 1 5 1 4 2 15 1 6 2 28 1 2 1 3 1 2 1 5 1 3 1 8 1 1 1 4 1 1 1 1 1 1 1 53 1 5 1 19 1 1 1 9 1 7 1 63 1 457"/><path d="M31 94.5h426" stroke-dasharray="1 7 1 1 3 10 1 11 1 14 1 16 1 7 1 5 1 13 1 2 1 3 1 2 1 8 1 1 1 3 1 1 2 1 1 3 1 19 1 1 2 3 1 1 2 4 1 3 1 9 1 21 1 5 1 7 2 13 1 1 1 1 1 7 1 3 1 1 1 2 1 6 1 9 1 3 1 1 1 1 1 6 1 2 1 13 1 31 1 5 1 1 1 7 1 41 1 21 1 5 1 2 1 4 1 457"/><path d="M6 95.5h451" stroke-dasharray="1 2 3 1 1 17 1 2 1 1 1 4 2 6 1 8 1 7 2 1 1 2 1 6 1 4 1 3 1 1 1 3 1 3 1 10 1 2 1 10 2 1 4 5 1 5 1 3 1 5 1 7 2 2 1 5 1 6 1 2 1 1 1 1 1 1 1 3 1 6 1 11 2 9 2 6 1 3 1 14 1 2 1 9 1 8 1 2 1 9 1 1 1 12 1 10 1 5 1 3 1 13 1 13 1 1 1 8 1 11 1 1 1 49 1 26 1 3 1 4 1 457"/><path d="M9 96.5h446" stroke-dasharray="3 2 1 9 1 6 1 9 2 1 1 6 1 6 1 1 1 1 1 3 1 1 1 7 1 13 1 3 1 7 1 14 3 3 1 3 1 1 1 15 1 4 2 7 1 3 1 6 1 5 1 8 1 4 3 3 1 6 1 1 1 2 1 13 2 44 1 2 1 4 1 4 1 14 1 54 1 11 1 4 1 49 1 35 1 457"/><path d="M2 97.5h455" stroke-dasharray="1 8 1 2 1 7 2 8 2 7 1 2 1 3 2 1 1 2 1 11 1 1 1 5 1 3 1 3 1 15 1 3 1 3 1 11 1 8 1 13 1 3 1 4 2 7 1 25 1 7 1 21 1 7 2 6 1 1 1 3 3 1 1 7 1 1 1 10 1 2 1 2 1 2 1 2 1 1 1 36 1 3 1 7 3 3 1 17 1 7 1 6 1 3 1 67 1 9 2 2 1 3 1 1 1 457"/><path d="M4 98.5h448" stroke-dasharray="1 3 1 1 1 1 1 11 1 7 1 1 1 1 1 2 1 1 1 2 1 3 2 2 1 2 1 1 2 1 1 11 1 3 1 1 1 3 1 13 1 1 1 3 1 26 1 8 1 2 1 11 1 23 1 7 1 3 2 1 1 31 1 14 1 1 1 3 1 1 1 2 1 2 2 9 1 2 2 7 1 7 1 1 1 10 1 15 1 2 1 13 1 11 1 1 1 21 1 63 1 20 1 457"/><path d="M0 99.5h448" stroke-dasharray="1 13 1 1 1 11 1 2 2 2 1 3 4 5 1 3 1 2 1 2 1 13 1 1 1 1 1 5 1 1 1 3 1 1 1 13 1 2 1 4 1 4 1 7 2 8 1 7 1 7 1 3 1 13 1 1 1 69 1 19 1 2 1 2 1 2 1 5 1 2 2 6 1 25 1 2 1 47 1 1 1 1 1 1 1 76 1 457"/><path d="M0 100.5h444" stroke-dasharray="1 3 1 6 1 19 1 9 1 6 1 2 1 3 1 2 1 6 1 5 1 1 1 2 2 1 2 3 1 5 2 11 1 2 1 1 1 1 3 19 1 2 1 5 1 13 1 27 1 1 1 79 1 1 1 4 1 13 1 5 1 31 1 12 1 2 1 89 1 11 2 457"/><path d="M4 101.5h434" stroke-dasharray="1 1 1 8 1 2 2 8 1 14 1 2 1 1 1 9 1 5 1 1 1 2 1 31 1 4 1 1 1 5 2 9 1 1 3 1 2 145 1 6 2 4 2 8 1 2 2 18 1 4 1 11 1 16 1 13 1 64 1 457"/><path d="M280 102.5h143" stroke-dasharray="2 3 1 1 1 2 3 2 1 1 1 9 1 19 1 11 1 28 1 1 1 1 1 49 1 457"/><path d="M290 103.5h143" stroke-dasharray="3 2 1 51 1 26 1 3 1 41 1 1 1 9 1 457"/><path d="M4 104.5h429" stroke-dasharray="1 17 1 16 1 258 1 2 1 1 1 5 1 23 1 3 1 7 1 5 1 1 1 16 1 35 1 25 1 457"/><path d="M19 105.5h382" stroke-dasharray="1 4 1 1 1 9 1 270 1 1 1 3 1 1 1 13 1 3 1 3 1 15 1 18 1 1 1 25 1 457"/><path d="M8 106.5h421" stroke-dasharray="1 22 1 6 1 276 1 8 3 6 1 3 1 13 1 24 1 21 1 1 1 5 1 19 1 1 1 457"/><path d="M139 107.5h262" stroke-dasharray="1 177 1 1 1 5 1 7 1 2 1 17 1 13 1 7 1 21 1 1 1 457"/><path d="M6 108.5h355" stroke-dasharray="1 5 1 4 1 4 1 2 1 7 1 290 1 8 1 3 1 1 1 1 1 18 1 457"/><path d="M25 109.5h396" stroke-dasharray="1 3 1 303 1 7 1 8 1 23 1 11 1 33 1 457"/><path d="M12 110.5h401" stroke-dasharray="1 7 2 11 1 332 1 7 1 7 1 5 1 23 1 457"/><path d="M7 111.5h394" stroke-dasharray="2 6 1 21 1 309 1 4 1 13 1 1 1 9 1 9 1 11 1 457"/><path d="M347 112.5h56" stroke-dasharray="1 5 1 14 1 6 1 3 1 8 1 11 1 1 1 457"/><path d="M24 113.5h367" stroke-dasharray="1 348 1 5 1 3 1 1 1 2 1 1 1 457"/><path d="M22 114.5h11" stroke-dasharray="1 4 1 4 1 457"/><path d="M21 115.5h14" stroke-dasharray="1 7 1 4 1 457"/><path d="M7 116.5h20" stroke-dasharray="1 18 1 457"/></g><g stroke="#16a5b2"><path d="M7 22.5h22" stroke-dasharray="1 20 1 457"/><path d="M70 23.5h167" stroke-dasharray="1 46 1 55 1 45 1 16 1 457"/><path d="M15 24.5h355" stroke-dasharray="1 21 1 16 1 15 1 75 1 1 1 7 2 2 1 5 1 7 1 15 1 7 1 1 2 3 1 19 1 3 1 2 1 2 1 5 1 7 1 16 1 10 1 5 1 40 1 44 1 457"/><path d="M12 25.5h415" stroke-dasharray="1 56 1 6 1 38 1 18 1 25 2 1 2 6 1 3 1 7 1 11 1 10 1 5 1 1 1 10 1 2 1 37 1 17 1 38 1 6 1 10 1 22 1 61 1 457"/><path d="M6 26.5h410" stroke-dasharray="1 55 1 13 1 14 1 32 1 11 1 16 1 10 1 18 1 12 1 2 1 1 1 9 1 5 1 2 1 16 1 22 1 28 1 20 1 8 1 2 1 13 1 78 1 457"/><path d="M23 27.5h411" stroke-dasharray="1 22 1 63 1 3 1 16 2 20 1 1 1 2 1 16 1 11 1 25 1 11 1 4 1 5 1 5 1 3 1 15 1 8 1 31 1 6 1 8 1 15 2 91 1 4 1 457"/><path d="M107 28.5h274" stroke-dasharray="1 7 1 21 1 16 1 51 1 8 1 2 2 9 1 11 2 5 1 4 1 20 1 6 1 17 1 23 1 36 1 3 1 15 1 457"/><path d="M115 29.5h250" stroke-dasharray="1 13 1 7 1 16 2 1 1 3 1 2 1 19 1 7 1 25 1 11 1 15 1 8 1 29 1 1 1 12 1 4 1 17 1 6 1 14 1 10 1 7 1 457"/><path d="M52 30.5h327" stroke-dasharray="1 59 1 44 1 5 1 2 1 3 1 5 1 3 1 19 2 9 1 5 1 1 1 7 1 6 1 3 1 27 1 2 1 22 1 27 1 5 1 5 1 12 1 22 1 9 1 457"/><path d="M13 31.5h320" stroke-dasharray="1 98 1 10 1 42 1 28 2 9 1 10 1 12 1 21 1 19 1 13 1 3 1 8 1 32 1 457"/><path d="M12 32.5h374" stroke-dasharray="1 67 1 73 1 9 1 13 2 5 1 3 1 28 1 9 1 1 1 1 1 36 1 4 1 20 1 33 1 35 1 16 1 2 1 457"/><path d="M48 33.5h275" stroke-dasharray="1 8 1 22 1 25 1 29 1 21 1 3 1 22 1 7 1 1 1 17 1 1 1 2 1 13 1 12 2 13 1 38 1 2 1 8 1 10 1 457"/><path d="M123 34.5h244" stroke-dasharray="1 27 1 2 1 9 2 16 1 5 1 5 1 13 1 4 1 1 1 2 1 2 1 14 1 1 1 3 2 2 1 13 1 45 1 53 1 5 1 457"/><path d="M102 35.5h250" stroke-dasharray="1 23 1 28 1 5 1 3 1 15 1 7 1 9 1 6 1 8 3 4 2 19 2 1 1 12 1 31 1 2 2 10 1 12 1 22 1 8 1 457"/><path d="M118 36.5h205" stroke-dasharray="1 8 1 21 1 1 1 15 1 42 1 6 1 5 3 2 1 9 1 4 1 15 1 9 1 11 1 12 1 20 1 2 1 3 1 457"/><path d="M148 37.5h275" stroke-dasharray="2 17 1 1 1 10 1 1 1 7 1 3 1 2 1 1 1 8 1 2 1 14 1 5 1 3 1 1 2 13 1 27 1 5 1 8 1 2 1 2 1 8 1 17 1 92 1 457"/><path d="M68 38.5h276" stroke-dasharray="1 1 1 69 1 17 1 5 1 1 1 7 2 2 2 2 1 2 1 8 1 14 2 10 1 2 1 2 2 2 1 76 1 7 1 19 1 6 1 457"/><path d="M37 39.5h353" stroke-dasharray="1 111 1 15 1 3 2 6 1 1 2 2 1 9 1 6 1 7 2 6 1 2 1 34 1 1 1 10 1 4 1 24 1 8 1 1 2 9 1 9 1 59 1 457"/><path d="M37 40.5h290" stroke-dasharray="1 110 2 20 1 7 1 2 2 1 1 11 3 2 2 6 1 3 2 1 1 14 1 3 1 5 2 40 1 22 1 7 1 5 1 5 1 457"/><path d="M130 41.5h248" stroke-dasharray="1 17 1 15 2 1 1 15 1 5 2 5 1 1 1 9 1 13 1 2 1 5 1 7 1 34 1 7 1 20 1 22 1 19 1 30 1 457"/><path d="M154 42.5h224" stroke-dasharray="1 10 1 1 1 6 1 11 1 6 2 1 1 5 1 4 1 16 1 3 1 7 1 6 1 8 1 3 1 17 1 12 1 15 1 22 1 50 1 457"/><path d="M44 43.5h302" stroke-dasharray="1 69 1 39 1 12 1 6 1 9 1 1 1 33 1 5 1 13 1 3 1 29 2 11 1 24 1 7 1 24 1 457"/><path d="M88 44.5h274" stroke-dasharray="1 8 1 16 1 43 1 28 2 4 1 5 1 4 1 39 1 30 1 4 1 6 1 7 1 3 2 19 1 5 1 8 1 3 1 5 1 15 1 457"/><path d="M131 45.5h220" stroke-dasharray="1 6 1 3 1 12 1 20 1 6 1 3 2 1 1 1 1 6 1 1 1 2 2 6 1 5 1 10 1 7 1 2 1 18 1 14 1 5 1 39 1 17 1 11 1 457"/><path d="M59 46.5h292" stroke-dasharray="1 26 1 43 1 11 1 1 1 8 1 13 1 4 1 3 1 3 1 2 1 1 1 1 1 4 1 6 1 1 1 1 1 1 2 13 1 4 1 7 1 4 1 17 1 2 1 14 1 3 1 8 1 10 1 12 1 8 1 17 1 7 1 3 1 457"/><path d="M135 47.5h204" stroke-dasharray="1 4 1 2 2 24 1 13 1 1 2 13 1 1 1 3 1 1 1 14 3 2 1 2 1 14 1 13 1 24 1 2 1 10 1 38 1 457"/><path d="M47 48.5h350" stroke-dasharray="1 31 1 58 1 7 1 9 1 1 1 24 1 2 1 1 1 2 1 5 2 5 1 3 1 20 1 4 1 1 1 7 1 15 1 27 1 8 1 1 1 9 1 2 1 9 1 14 1 58 1 457"/><path d="M47 49.5h373" stroke-dasharray="1 60 1 33 1 4 1 17 4 9 1 2 1 9 1 4 1 7 1 10 1 4 1 1 1 3 2 11 1 3 1 13 1 33 1 28 1 1 1 39 1 56 1 457"/><path d="M110 50.5h232" stroke-dasharray="1 37 2 5 1 4 1 1 1 2 1 1 2 1 1 5 1 4 1 14 1 1 1 3 1 10 1 1 1 5 1 1 1 3 1 10 3 3 1 4 1 2 1 1 1 2 1 20 1 49 1 7 2 3 1 457"/><path d="M117 51.5h237" stroke-dasharray="1 25 1 8 1 2 1 10 2 13 2 7 1 5 2 4 1 7 1 4 1 2 1 2 2 2 2 2 1 10 1 22 1 28 1 35 1 6 2 9 1 6 1 457"/><path d="M121 52.5h215" stroke-dasharray="1 31 2 11 1 2 1 11 3 9 2 1 1 5 3 7 2 2 1 1 1 2 1 2 2 2 2 9 2 2 2 81 1 8 1 457"/><path d="M25 53.5h347" stroke-dasharray="1 34 1 77 1 10 1 3 1 10 1 6 1 8 2 2 1 1 1 6 2 4 1 2 1 15 1 1 1 2 1 7 2 4 1 8 1 45 1 28 1 4 1 7 1 1 1 4 1 29 1 457"/><path d="M42 54.5h293" stroke-dasharray="1 90 1 6 2 8 1 1 1 7 4 1 3 11 1 4 1 1 1 1 1 3 2 2 1 12 1 1 2 1 1 5 1 10 2 13 1 63 2 9 1 9 1 2 1 457"/><path d="M59 55.5h278" stroke-dasharray="1 68 1 27 1 1 1 4 1 11 1 3 2 7 1 1 1 2 1 5 1 10 1 3 1 16 2 6 1 3 2 2 1 8 1 13 1 40 1 16 1 7 1 457"/><path d="M41 56.5h310" stroke-dasharray="1 13 1 87 1 14 1 1 1 11 1 6 1 1 1 4 1 2 1 13 1 6 3 4 2 3 1 3 1 5 1 1 1 1 1 1 1 3 2 13 1 57 1 6 1 5 1 2 1 18 1 457"/><path d="M136 57.5h211" stroke-dasharray="1 8 1 7 1 4 1 4 3 5 1 3 1 1 1 1 4 9 1 6 1 1 1 6 1 1 1 3 1 2 1 1 1 14 1 12 1 9 2 19 1 20 1 12 1 9 1 20 1 2 1 457"/><path d="M44 58.5h317" stroke-dasharray="1 36 1 50 1 4 1 2 1 9 1 7 1 4 1 3 1 5 1 9 1 2 2 4 1 2 1 2 1 7 1 2 1 1 1 2 1 2 1 4 2 2 1 1 1 1 1 4 1 12 1 4 1 12 1 45 1 18 3 2 1 1 1 7 1 13 1 457"/><path d="M43 59.5h330" stroke-dasharray="2 65 1 16 1 4 1 1 1 2 1 1 1 1 1 12 1 5 1 3 1 3 2 3 1 1 1 9 1 3 1 1 1 7 2 2 2 18 1 3 1 2 1 1 2 3 1 3 1 20 1 47 1 27 1 33 1 457"/><path d="M54 60.5h381" stroke-dasharray="1 79 1 2 1 3 1 4 1 1 5 6 2 9 2 15 1 7 1 8 1 19 1 8 1 4 1 1 1 5 1 6 1 7 2 47 1 13 1 45 1 1 1 61 1 457"/><path d="M17 61.5h366" stroke-dasharray="1 31 1 48 1 23 1 14 1 3 3 12 1 6 1 5 1 1 2 1 1 1 1 1 1 1 2 5 1 5 2 1 3 9 1 2 1 2 1 3 1 3 1 3 2 3 1 14 1 6 1 16 1 5 1 1 1 31 1 25 1 15 1 29 1 457"/><path d="M42 62.5h319" stroke-dasharray="1 39 1 48 1 14 1 18 1 1 1 6 1 9 1 3 1 5 1 2 2 1 1 8 2 8 2 3 1 1 1 5 1 1 1 3 1 33 1 5 1 31 1 10 1 4 1 23 1 9 1 457"/><path d="M82 63.5h357" stroke-dasharray="1 32 1 9 1 17 1 3 1 2 1 5 1 1 2 8 1 3 1 1 2 2 1 3 1 6 2 6 1 3 4 3 1 2 1 2 4 1 1 2 1 4 1 5 1 6 1 10 1 10 1 13 1 1 1 31 1 15 1 10 1 12 1 87 1 457"/><path d="M43 64.5h275" stroke-dasharray="1 62 1 24 1 2 1 3 1 9 1 18 1 12 1 1 1 1 1 2 1 9 3 2 3 6 1 5 1 1 1 7 1 4 1 4 1 1 2 13 1 7 1 5 1 7 1 1 1 24 1 10 1 2 1 457"/><path d="M12 65.5h306" stroke-dasharray="1 26 1 10 1 33 1 67 2 2 1 1 2 6 1 2 1 1 2 3 2 4 1 1 2 1 1 12 1 1 1 1 1 7 2 4 2 10 1 1 2 3 1 3 2 3 1 6 2 13 1 1 1 7 1 1 1 13 1 15 1 6 1 457"/><path d="M50 66.5h371" stroke-dasharray="1 21 1 76 1 13 2 18 1 3 1 4 1 4 1 5 1 1 1 2 1 1 1 1 1 1 1 22 1 4 1 5 1 2 1 51 1 22 1 35 1 57 1 457"/><path d="M24 67.5h344" stroke-dasharray="1 22 1 8 1 3 1 1 1 9 1 39 1 21 1 4 1 7 1 1 2 3 2 4 2 7 1 10 1 11 2 2 1 11 1 3 1 7 1 2 2 26 1 14 1 3 1 5 1 46 1 2 1 40 1 457"/><path d="M50 68.5h313" stroke-dasharray="1 7 1 3 1 6 1 2 1 13 1 3 1 38 1 1 1 23 2 4 1 5 1 2 2 5 1 7 1 2 1 6 1 14 1 1 1 3 1 3 1 15 1 3 2 1 2 7 1 17 1 5 1 65 1 19 1 457"/><path d="M62 69.5h277" stroke-dasharray="1 9 1 30 1 25 1 4 1 7 1 1 2 2 1 7 1 4 1 1 1 1 1 2 1 1 1 1 1 3 1 1 1 3 2 1 1 7 1 1 1 1 1 1 1 10 1 2 2 1 1 3 1 12 1 9 2 1 2 4 1 1 1 45 1 1 1 35 1 457"/><path d="M40 70.5h387" stroke-dasharray="1 11 1 1 1 13 1 26 1 7 1 33 1 3 1 7 1 6 1 11 1 8 1 8 1 3 1 8 1 8 3 4 1 4 2 18 1 2 1 8 1 1 1 74 3 4 1 89 1 457"/><path d="M34 71.5h303" stroke-dasharray="1 5 1 11 1 15 1 17 1 9 1 22 1 13 1 1 1 1 2 5 1 2 1 4 1 3 1 7 1 3 1 2 2 2 1 2 1 3 1 3 2 6 2 1 1 9 1 2 1 1 1 8 1 4 1 1 1 5 1 3 1 7 1 26 1 3 1 4 1 3 1 43 2 4 1 457"/><path d="M34 72.5h409" stroke-dasharray="1 19 1 11 1 1 1 3 1 16 1 6 1 14 1 13 1 21 1 1 2 1 2 4 1 2 1 2 2 5 1 3 2 31 1 3 1 3 1 5 2 4 1 3 1 13 1 3 1 21 1 4 1 4 1 7 1 4 1 54 1 91 1 457"/><path d="M43 73.5h308" stroke-dasharray="1 2 1 6 1 4 1 3 1 9 1 9 1 6 1 18 1 37 1 5 2 3 1 1 1 1 1 16 1 4 1 5 1 7 1 1 1 14 1 4 2 5 3 3 1 4 1 1 1 6 1 1 1 101 1 457"/><path d="M44 74.5h321" stroke-dasharray="1 35 1 1 1 25 1 25 1 1 1 3 1 5 1 1 1 1 1 11 1 18 1 2 1 1 1 5 2 3 1 10 1 4 1 1 1 4 1 1 1 1 1 3 1 7 1 7 1 4 1 12 1 19 1 31 1 9 1 16 1 19 1 2 1 457"/><path d="M50 75.5h312" stroke-dasharray="1 1 1 9 1 6 1 10 1 47 1 1 1 13 2 8 1 12 1 4 2 14 1 16 1 7 1 6 1 1 2 8 2 2 1 1 1 3 1 6 1 4 1 31 1 27 1 1 1 14 1 12 1 13 1 2 1 457"/><path d="M12 76.5h347" stroke-dasharray="1 1 1 21 1 9 1 3 1 21 1 51 1 3 1 16 1 4 2 6 1 12 4 1 1 1 1 1 1 9 1 5 1 3 1 1 1 7 1 3 1 5 2 1 1 9 1 2 1 3 1 1 1 6 1 4 2 3 1 2 1 43 1 3 1 29 1 3 1 13 1 457"/><path d="M26 77.5h399" stroke-dasharray="1 7 1 1 1 9 1 35 1 40 1 2 2 2 1 9 1 3 1 4 2 13 1 1 1 3 1 2 1 1 2 1 1 5 1 8 1 3 2 1 1 18 1 14 1 3 1 1 1 1 1 7 1 4 3 1 1 20 1 25 1 17 1 3 1 3 1 91 1 457"/><path d="M26 78.5h408" stroke-dasharray="1 39 1 1 1 27 1 25 2 23 1 3 1 10 1 3 1 5 1 3 1 1 1 4 1 1 2 1 1 9 1 8 1 7 1 10 1 4 3 1 1 4 3 9 1 3 2 22 1 19 1 7 1 44 1 79 1 457"/><path d="M31 79.5h417" stroke-dasharray="1 46 1 5 1 43 1 7 2 11 1 2 1 3 1 5 1 3 1 3 1 7 1 4 1 8 1 9 1 5 1 4 1 6 1 2 1 1 1 1 1 3 1 2 2 6 2 2 2 30 1 1 1 19 1 2 1 4 1 19 1 27 1 69 1 20 1 457"/><path d="M24 80.5h287" stroke-dasharray="1 47 1 43 1 9 2 6 1 13 1 15 2 1 2 4 1 10 2 3 1 1 1 4 2 1 2 5 3 6 1 4 1 3 1 8 2 10 2 4 1 26 1 23 1 7 1 457"/><path d="M48 81.5h401" stroke-dasharray="1 57 1 5 1 5 1 3 1 17 1 3 1 6 1 3 2 4 1 5 1 5 1 12 1 1 3 2 5 1 1 4 1 2 1 2 1 3 2 10 1 1 1 1 1 3 1 19 1 4 1 14 1 1 1 23 1 19 1 37 1 89 1 457"/><path d="M48 82.5h295" stroke-dasharray="1 5 1 57 1 4 1 1 1 2 1 3 1 9 1 8 1 9 1 5 1 1 1 2 2 4 2 7 1 7 1 6 1 22 1 3 1 8 2 8 1 2 1 6 1 1 1 2 1 1 1 18 1 23 1 10 1 4 1 15 1 7 1 457"/><path d="M53 83.5h374" stroke-dasharray="2 3 1 5 1 1 1 21 1 11 1 3 1 1 1 37 1 15 1 3 1 17 1 2 1 4 1 1 1 3 1 4 3 6 2 5 1 1 1 5 1 1 1 4 1 3 1 1 1 4 1 9 2 5 1 1 1 1 1 12 1 18 1 7 1 8 1 8 1 3 1 3 1 9 1 9 1 75 1 457"/><path d="M32 84.5h413" stroke-dasharray="1 31 1 3 1 29 1 1 1 58 1 1 1 5 1 10 3 1 1 4 1 1 1 6 1 3 1 6 1 4 1 9 1 4 1 18 1 3 1 11 1 2 2 5 1 13 1 39 1 99 1 17 1 457"/><path d="M24 85.5h403" stroke-dasharray="1 3 1 9 1 9 1 9 1 8 2 3 1 35 1 8 1 18 1 7 1 1 1 15 1 3 1 7 1 11 1 4 1 1 1 2 1 5 1 4 1 5 1 1 1 14 1 1 1 13 1 15 1 2 1 5 1 2 1 5 1 33 1 13 1 17 1 3 1 74 2 457"/><path d="M28 86.5h367" stroke-dasharray="1 5 1 26 1 5 1 38 1 7 1 7 1 2 2 11 2 5 1 2 1 3 1 3 1 3 3 7 1 4 1 1 1 2 1 1 1 6 2 2 1 3 1 1 1 4 1 11 5 9 1 1 1 1 1 2 1 2 2 1 1 1 1 8 1 1 1 4 1 9 1 8 1 20 2 3 1 17 1 7 1 3 1 57 1 457"/><path d="M39 87.5h329" stroke-dasharray="1 5 1 12 1 7 1 37 1 15 1 1 1 2 2 11 1 8 3 9 1 2 2 6 1 2 1 2 1 3 1 5 1 1 1 2 1 1 2 2 4 5 1 10 3 2 1 1 1 5 2 2 1 2 1 1 1 12 1 26 1 4 1 17 1 22 1 41 1 457"/><path d="M36 88.5h421" stroke-dasharray="1 19 1 45 1 11 1 9 1 1 1 10 4 5 3 3 2 7 1 1 1 2 1 6 1 1 2 4 1 1 1 4 1 2 1 1 1 3 1 1 1 5 1 2 1 1 2 1 1 5 1 14 1 6 1 1 2 9 1 7 1 3 1 12 1 42 1 111 1 21 1 457"/><path d="M13 89.5h444" stroke-dasharray="1 2 1 15 1 15 1 5 1 5 1 13 1 5 1 33 1 1 1 1 1 9 1 7 3 12 1 2 1 7 1 5 1 7 1 3 4 1 1 3 1 3 1 23 1 10 1 18 1 2 1 9 1 1 1 4 1 6 1 4 1 4 1 18 1 32 1 17 1 101 1 457"/><path d="M54 90.5h315" stroke-dasharray="1 11 1 1 1 2 1 2 1 39 1 1 1 3 1 5 1 3 1 7 1 12 2 9 1 1 1 3 1 8 1 2 5 13 1 4 1 1 1 2 1 6 1 9 1 2 3 5 1 19 1 27 1 18 1 14 1 29 1 19 1 457"/><path d="M30 91.5h427" stroke-dasharray="1 23 1 1 1 1 1 9 1 2 1 36 1 13 1 1 1 1 1 14 1 5 1 14 1 7 1 1 2 3 1 3 1 1 1 2 1 11 1 2 1 5 2 6 1 5 1 4 1 1 1 3 1 3 1 23 1 5 1 17 1 29 1 18 1 8 1 13 1 5 1 93 1 457"/><path d="M34 92.5h333" stroke-dasharray="1 21 1 7 1 3 1 33 1 34 3 8 1 10 2 3 1 1 2 1 1 1 1 10 2 5 2 8 1 2 2 5 1 10 1 1 2 10 1 1 1 21 1 4 1 18 1 3 1 15 1 9 1 11 1 23 1 1 1 13 1 1 1 457"/><path d="M22 93.5h431" stroke-dasharray="1 11 1 10 1 8 1 1 1 3 1 3 1 1 1 1 1 7 1 29 1 49 3 1 1 1 1 3 2 1 1 5 1 4 1 6 1 1 1 1 1 3 1 1 1 15 1 3 1 1 2 1 1 4 3 28 3 3 1 1 1 15 1 5 1 13 1 3 1 5 1 3 1 13 1 5 1 15 1 9 1 1 1 87 1 457"/><path d="M13 94.5h354" stroke-dasharray="1 4 1 9 1 5 2 16 1 15 1 15 1 25 1 7 1 5 1 5 1 9 1 1 1 15 2 1 1 7 1 7 3 5 1 10 2 3 1 4 1 1 1 6 1 1 1 3 1 3 1 1 1 4 1 3 1 6 1 14 2 3 1 64 1 17 1 9 1 3 1 5 1 457"/><path d="M50 95.5h403" stroke-dasharray="1 11 1 5 1 7 1 31 1 7 3 21 1 6 1 2 1 1 2 2 2 7 1 1 1 2 1 6 1 2 1 1 1 9 1 1 1 2 1 7 2 16 1 9 1 1 1 1 1 5 1 1 1 2 1 9 1 17 1 1 1 23 1 1 1 4 1 16 1 3 1 18 1 12 1 1 1 81 1 1 1 3 1 457"/><path d="M8 96.5h441" stroke-dasharray="1 13 2 12 1 12 1 11 1 10 1 5 1 9 1 15 1 3 1 5 1 16 1 8 2 4 2 4 1 4 1 2 2 15 1 6 1 8 2 2 1 1 1 1 1 9 1 1 1 5 1 1 1 2 1 7 1 5 1 5 1 1 1 31 1 28 1 51 1 10 1 1 1 73 1 1 1 457"/><path d="M6 97.5h448" stroke-dasharray="1 1 1 7 1 19 1 15 1 5 1 2 1 10 1 15 1 11 1 3 1 5 1 3 1 8 2 7 1 3 2 2 1 6 2 3 2 8 1 6 2 5 2 1 1 1 1 4 2 7 3 5 1 1 1 2 1 2 1 9 2 5 1 13 1 7 1 3 1 5 1 11 1 5 1 1 1 9 1 5 1 7 1 1 1 37 1 11 1 91 1 4 1 457"/><path d="M2 98.5h445" stroke-dasharray="1 3 1 7 1 1 1 1 1 18 1 36 1 13 1 11 1 3 1 5 1 1 1 5 1 4 1 1 1 4 1 9 1 1 1 4 2 10 1 1 1 7 1 5 1 7 1 2 1 6 1 3 1 2 1 29 1 2 1 2 2 4 1 16 1 12 1 5 1 1 1 9 1 5 1 1 1 3 1 3 1 8 1 8 1 9 1 21 1 11 1 1 1 23 1 4 1 46 1 457"/><path d="M10 99.5h437" stroke-dasharray="1 13 1 8 2 9 1 9 1 5 1 1 1 39 1 12 1 3 1 9 1 2 1 1 1 3 1 1 1 1 1 4 1 11 1 13 1 3 1 5 1 9 1 6 1 23 1 4 2 8 1 3 1 3 1 5 1 11 2 5 1 13 1 9 1 3 1 1 1 6 1 4 2 3 1 4 1 69 1 24 1 23 1 2 1 457"/><path d="M34 100.5h411" stroke-dasharray="1 2 1 2 1 1 1 3 1 5 3 1 1 5 1 1 1 7 1 1 1 7 1 11 1 1 1 5 1 4 1 7 1 1 1 8 2 3 1 11 1 1 1 3 1 3 1 3 1 3 1 1 1 3 1 13 1 5 1 1 1 3 2 68 1 2 1 8 1 3 2 6 1 8 1 3 1 14 1 1 1 1 1 18 1 21 1 1 1 74 2 1 1 3 1 457"/><path d="M10 101.5h429" stroke-dasharray="1 5 1 7 2 12 1 1 1 1 1 7 1 1 3 10 1 5 2 29 2 3 1 2 1 1 1 17 1 4 1 1 1 1 1 15 1 4 1 4 1 8 1 10 1 1 1 84 1 6 2 1 1 4 1 6 1 20 1 1 1 24 1 5 1 16 1 72 1 457"/><path d="M282 102.5h79" stroke-dasharray="1 3 1 9 1 8 1 7 1 3 1 6 1 1 1 6 1 7 1 1 2 3 1 11 1 457"/><path d="M27 103.5h341" stroke-dasharray="1 4 1 270 1 63 1 457"/><path d="M24 104.5h337" stroke-dasharray="1 277 1 4 1 5 1 3 1 11 1 2 1 8 1 7 1 8 1 1 1 457"/><path d="M5 105.5h358" stroke-dasharray="1 3 1 3 1 31 1 3 1 267 1 6 3 24 1 6 1 3 1 457"/><path d="M9 106.5h356" stroke-dasharray="1 1 1 12 3 3 1 5 1 276 1 3 1 18 1 27 1 457"/><path d="M13 107.5h354" stroke-dasharray="1 4 1 8 1 17 1 103 1 196 1 5 1 7 1 5 1 457"/><path d="M15 108.5h360" stroke-dasharray="1 7 1 3 1 116 1 182 1 24 1 9 1 11 1 457"/><path d="M17 109.5h365" stroke-dasharray="1 1 3 4 2 3 1 6 1 300 1 22 1 5 1 7 1 4 1 457"/><path d="M10 110.5h372" stroke-dasharray="1 3 1 4 1 3 1 1 1 4 1 5 2 1 1 301 1 8 1 5 1 11 1 3 1 6 1 1 1 457"/><path d="M6 111.5h377" stroke-dasharray="1 12 1 2 3 7 1 308 1 18 1 1 1 9 1 6 1 1 2 457"/><path d="M8 112.5h375" stroke-dasharray="1 1 1 3 1 6 2 2 1 2 1 1 1 321 1 13 1 9 1 1 1 2 2 457"/><path d="M11 113.5h371" stroke-dasharray="1 1 1 5 1 5 1 5 1 2 1 333 1 6 2 1 1 2 1 457"/><path d="M17 114.5h14" stroke-dasharray="1 5 1 6 1 457"/><path d="M16 115.5h17" stroke-dasharray="2 9 1 4 1 457"/><path d="M23 116.5h1"/><path d="M12 117.5h19" stroke-dasharray="1 3 1 3 1 9 1 457"/><path d="M22 118.5h1"/><path d="M10 119.5h3" stroke-dasharray="1 1 1 457"/></g><g stroke="#16b096"><path d="M11 22.5h127" stroke-dasharray="1 19 1 74 1 30 1 457"/><path d="M5 23.5h196" stroke-dasharray="1 46 1 34 1 68 1 11 1 3 1 1 1 11 1 13 1 457"/><path d="M25 24.5h319" stroke-dasharray="1 13 1 29 1 71 1 29 1 23 1 17 1 42 1 3 1 3 1 19 1 12 1 35 1 9 1 457"/><path d="M22 25.5h418" stroke-dasharray="1 5 1 13 1 40 1 51 1 10 1 20 1 6 1 10 1 15 2 35 1 10 1 39 1 1 1 89 1 57 1 457"/><path d="M12 26.5h409" stroke-dasharray="1 70 1 71 1 4 1 13 1 10 1 16 1 12 1 11 1 4 1 3 1 1 1 23 1 41 1 10 1 28 2 2 1 5 1 20 1 44 1 457"/><path d="M5 27.5h328" stroke-dasharray="1 76 1 32 1 38 1 10 1 7 1 9 1 21 1 2 2 7 1 48 1 7 1 7 1 4 1 2 1 41 1 457"/><path d="M30 28.5h298" stroke-dasharray="1 109 1 12 1 7 1 3 1 2 1 6 1 7 1 5 1 2 1 10 1 4 2 15 1 4 1 27 1 6 1 11 1 4 1 4 1 39 1 457"/><path d="M140 29.5h220" stroke-dasharray="1 42 1 21 1 2 1 2 1 3 2 8 1 3 1 4 1 124 1 457"/><path d="M154 30.5h285" stroke-dasharray="1 34 2 13 1 7 1 12 1 3 1 10 1 3 1 15 1 62 1 88 1 25 1 457"/><path d="M44 31.5h283" stroke-dasharray="1 109 1 9 1 5 1 11 1 6 1 19 1 2 1 12 1 28 1 5 1 9 1 14 1 19 1 20 1 457"/><path d="M9 32.5h373" stroke-dasharray="1 6 1 116 1 60 2 12 1 27 1 35 1 24 1 1 1 53 1 27 1 457"/><path d="M1 33.5h263" stroke-dasharray="1 39 1 139 1 12 1 13 1 27 1 17 1 1 1 6 1 457"/><path d="M7 34.5h350" stroke-dasharray="1 152 1 2 1 4 1 12 1 16 1 4 1 6 2 4 1 39 1 65 1 33 1 457"/><path d="M64 35.5h179" stroke-dasharray="1 4 1 81 1 12 1 3 1 34 1 4 1 11 1 3 1 1 1 9 1 1 3 1 1 457"/><path d="M148 36.5h155" stroke-dasharray="1 23 1 1 1 15 1 6 3 6 1 1 1 5 1 21 1 2 1 4 1 57 1 457"/><path d="M164 37.5h163" stroke-dasharray="1 7 1 4 1 41 1 9 2 12 1 72 1 2 1 6 1 457"/><path d="M65 38.5h265" stroke-dasharray="1 56 1 54 1 2 1 25 1 12 2 5 1 12 1 4 1 43 1 9 1 5 1 24 1 457"/><path d="M140 39.5h272" stroke-dasharray="1 37 1 3 1 18 1 4 1 24 2 38 1 64 1 74 1 457"/><path d="M1 40.5h328" stroke-dasharray="1 92 1 76 2 10 1 1 1 14 1 7 1 8 1 7 1 4 1 9 1 78 1 8 1 457"/><path d="M98 41.5h193" stroke-dasharray="1 85 1 28 1 3 1 8 1 8 1 4 1 2 1 46 1 457"/><path d="M68 42.5h279" stroke-dasharray="1 83 1 11 1 22 1 20 1 8 1 4 1 3 1 15 1 103 1 457"/><path d="M38 43.5h302" stroke-dasharray="1 113 1 11 1 16 1 11 1 14 1 2 1 2 1 2 1 82 1 38 1 457"/><path d="M44 44.5h255" stroke-dasharray="1 41 1 44 1 49 1 29 1 1 2 2 1 2 1 1 1 17 2 31 1 24 1 457"/><path d="M86 45.5h202" stroke-dasharray="1 66 1 46 1 9 1 3 1 2 1 2 1 2 1 8 1 40 1 13 1 457"/><path d="M138 46.5h148" stroke-dasharray="1 63 1 9 1 8 1 1 1 7 1 9 1 43 1 457"/><path d="M138 47.5h209" stroke-dasharray="1 14 1 18 1 3 1 10 1 8 1 24 1 11 2 21 1 54 1 34 1 457"/><path d="M12 48.5h236" stroke-dasharray="1 136 1 3 1 13 2 3 1 3 1 10 1 8 1 24 2 4 1 2 1 15 2 457"/><path d="M158 49.5h140" stroke-dasharray="1 15 1 1 1 10 1 1 1 7 1 20 1 2 1 14 1 7 1 1 2 49 1 457"/><path d="M166 50.5h194" stroke-dasharray="1 11 1 3 1 14 1 20 1 1 1 4 2 2 1 16 1 17 1 94 1 457"/><path d="M154 51.5h132" stroke-dasharray="1 13 1 1 1 16 1 4 1 11 1 8 1 3 1 25 1 2 1 5 1 1 1 14 1 15 1 457"/><path d="M114 52.5h302" stroke-dasharray="1 26 1 3 1 17 1 1 1 1 1 2 1 49 1 1 2 6 1 1 1 1 1 10 2 25 1 19 1 24 1 97 1 457"/><path d="M114 53.5h207" stroke-dasharray="1 26 1 1 1 22 1 1 1 8 1 1 1 3 1 12 1 8 1 10 1 22 1 3 3 26 1 47 1 457"/><path d="M156 54.5h181" stroke-dasharray="1 11 2 11 1 8 1 3 1 4 1 4 1 5 1 12 1 10 1 4 1 3 2 91 1 457"/><path d="M41 55.5h291" stroke-dasharray="1 91 1 16 1 2 1 6 1 7 1 3 1 3 1 4 1 27 1 2 1 21 1 2 1 93 1 457"/><path d="M150 56.5h213" stroke-dasharray="1 12 1 7 1 3 2 6 1 3 1 6 1 14 1 20 1 16 1 114 1 457"/><path d="M81 57.5h280" stroke-dasharray="1 20 1 4 1 42 1 19 1 5 1 6 2 4 1 19 1 1 1 6 1 4 1 8 1 2 1 95 1 28 1 457"/><path d="M136 58.5h208" stroke-dasharray="1 9 1 17 1 1 1 13 1 3 1 8 1 5 1 3 1 6 1 21 2 3 2 104 1 457"/><path d="M38 59.5h299" stroke-dasharray="1 103 1 23 1 5 1 3 2 38 1 9 1 11 1 30 1 47 1 18 1 457"/><path d="M165 60.5h269" stroke-dasharray="2 1 2 2 1 5 1 12 2 5 3 9 1 15 2 8 1 196 1 457"/><path d="M119 61.5h252" stroke-dasharray="1 28 1 1 1 1 1 7 1 4 1 16 1 9 1 6 1 4 1 1 1 17 1 3 1 43 1 42 1 22 1 31 1 457"/><path d="M143 62.5h173" stroke-dasharray="1 6 1 4 1 7 1 2 1 8 1 5 2 4 1 11 1 3 2 6 1 4 1 11 1 1 1 39 1 5 1 38 1 457"/><path d="M48 63.5h223" stroke-dasharray="1 82 1 8 1 5 1 8 1 5 1 3 1 1 1 9 1 6 1 3 1 4 2 3 2 32 1 1 1 3 1 31 1 457"/><path d="M48 64.5h388" stroke-dasharray="1 97 1 8 1 1 2 2 1 10 1 4 2 2 1 4 1 1 1 3 1 7 1 14 1 10 1 3 1 2 2 35 1 39 1 124 1 457"/><path d="M115 65.5h248" stroke-dasharray="1 31 1 9 1 9 1 13 1 10 1 4 1 5 1 6 2 14 1 135 1 457"/><path d="M43 66.5h252" stroke-dasharray="1 112 1 9 1 2 1 1 1 2 2 4 3 6 1 10 1 6 1 9 1 3 1 4 1 25 1 23 1 17 1 457"/><path d="M50 67.5h245" stroke-dasharray="1 84 1 4 1 15 1 9 1 4 1 10 1 2 2 1 1 14 1 5 1 3 2 1 1 5 1 14 1 14 1 41 1 457"/><path d="M134 68.5h93" stroke-dasharray="1 12 1 2 1 31 1 3 1 7 1 6 1 21 2 1 1 457"/><path d="M43 69.5h310" stroke-dasharray="1 42 1 63 1 3 1 11 2 9 1 6 1 1 1 7 1 11 1 2 1 11 1 4 1 9 1 3 1 88 1 22 1 457"/><path d="M43 70.5h383" stroke-dasharray="1 42 1 48 1 2 1 4 2 3 1 17 1 5 2 2 1 1 1 5 2 2 1 5 1 1 2 2 1 2 1 2 1 4 1 1 1 12 1 14 2 182 1 457"/><path d="M54 71.5h376" stroke-dasharray="1 75 1 10 2 5 1 4 1 7 1 23 1 2 1 19 1 30 1 185 2 2 1 457"/><path d="M132 72.5h103" stroke-dasharray="1 15 1 10 1 12 1 1 1 7 1 3 2 6 1 1 1 4 1 3 1 8 1 19 1 457"/><path d="M130 73.5h287" stroke-dasharray="1 1 1 8 1 6 3 14 1 16 1 3 2 2 1 9 2 10 1 3 1 1 1 15 1 5 1 15 1 47 1 111 1 457"/><path d="M43 74.5h210" stroke-dasharray="1 2 1 5 1 9 1 69 1 8 1 7 1 7 1 7 3 5 1 4 1 3 1 7 1 11 1 1 2 3 2 6 1 1 1 14 1 7 1 3 1 5 1 457"/><path d="M14 75.5h319" stroke-dasharray="1 10 1 8 1 11 1 78 1 6 1 7 1 7 2 7 1 8 1 11 1 14 1 15 1 5 1 18 2 4 1 5 1 15 1 69 1 457"/><path d="M84 76.5h249" stroke-dasharray="1 45 1 3 1 5 1 25 2 20 1 5 1 6 1 10 1 2 1 14 2 2 2 77 1 18 1 457"/><path d="M72 77.5h239" stroke-dasharray="1 41 1 22 1 10 1 2 1 2 1 3 1 1 1 11 1 1 1 15 2 2 1 1 1 4 1 10 1 1 1 6 1 1 1 6 1 4 2 73 1 457"/><path d="M82 78.5h345" stroke-dasharray="1 47 1 6 1 6 1 3 1 21 1 3 1 15 2 2 1 2 1 10 1 1 2 13 1 4 1 7 1 71 1 17 1 9 1 87 1 457"/><path d="M68 79.5h271" stroke-dasharray="1 53 1 7 1 17 1 11 1 11 1 9 1 8 1 3 1 5 1 4 2 3 1 3 1 8 1 8 1 4 1 1 1 4 1 10 1 45 1 7 1 15 1 11 1 457"/><path d="M68 80.5h359" stroke-dasharray="1 53 1 5 1 23 1 3 1 3 1 5 1 3 1 22 3 5 1 11 1 4 1 8 1 2 2 3 1 6 1 33 1 23 1 25 1 31 1 67 1 457"/><path d="M116 81.5h311" stroke-dasharray="1 9 1 26 2 3 1 9 1 7 1 7 1 21 1 1 1 4 1 4 1 2 1 13 2 1 1 1 1 1 1 35 1 147 1 457"/><path d="M91 82.5h358" stroke-dasharray="1 14 1 11 1 16 1 2 1 3 1 3 1 1 1 9 1 9 1 13 1 2 1 4 1 11 1 8 2 2 1 10 1 3 1 3 1 5 1 79 1 105 1 21 1 457"/><path d="M130 83.5h327" stroke-dasharray="1 11 1 7 1 1 1 1 1 8 1 12 1 39 1 5 2 10 1 5 1 4 1 11 1 44 1 145 1 7 1 457"/><path d="M38 84.5h419" stroke-dasharray="1 83 1 7 1 7 1 7 1 1 1 2 1 2 3 1 1 3 1 13 1 11 1 4 3 5 1 2 1 3 1 2 1 4 2 2 2 1 1 1 1 4 1 13 1 13 1 1 1 35 1 25 1 1 1 5 1 125 1 457"/><path d="M32 85.5h293" stroke-dasharray="1 1 1 87 1 25 1 2 1 6 1 1 2 8 1 4 2 3 1 1 1 6 1 2 1 8 1 2 1 3 1 2 1 4 3 1 2 2 1 3 1 15 1 41 1 37 1 457"/><path d="M58 86.5h253" stroke-dasharray="1 85 1 6 1 6 1 9 1 7 1 9 1 1 1 5 1 7 1 12 1 17 1 5 1 2 1 3 1 1 1 61 1 457"/><path d="M114 87.5h193" stroke-dasharray="1 13 1 10 1 4 1 7 1 7 1 23 1 17 1 7 2 2 1 5 1 11 1 7 1 5 1 1 1 57 1 457"/><path d="M109 88.5h176" stroke-dasharray="2 9 1 7 1 29 2 5 1 2 1 5 1 11 1 7 1 1 1 3 1 1 1 13 1 1 1 3 1 1 1 6 1 3 1 16 1 5 1 25 1 457"/><path d="M55 89.5h352" stroke-dasharray="2 84 2 5 1 7 1 2 1 5 1 8 1 13 1 1 1 1 1 15 1 6 1 4 1 13 3 5 1 9 1 5 1 7 1 3 1 63 1 71 1 457"/><path d="M32 90.5h271" stroke-dasharray="1 15 1 7 1 53 1 26 1 4 1 23 1 3 1 1 1 12 2 2 2 1 1 1 1 1 1 3 1 3 1 12 1 5 1 16 1 61 1 457"/><path d="M32 91.5h337" stroke-dasharray="1 33 1 70 1 10 1 4 1 6 1 5 1 1 1 13 1 1 1 5 3 6 1 2 1 13 1 1 1 3 1 11 1 3 1 1 1 11 1 27 1 25 1 11 1 1 1 1 1 5 1 1 1 1 1 3 1 3 1 19 1 7 1 457"/><path d="M54 92.5h307" stroke-dasharray="1 11 1 79 1 23 1 1 2 1 1 8 1 1 1 1 1 4 1 4 1 5 1 3 1 10 1 8 1 9 1 1 1 3 1 15 1 5 1 7 1 5 1 41 1 5 1 13 1 13 1 1 1 1 1 457"/><path d="M28 93.5h429" stroke-dasharray="1 11 1 91 1 5 1 3 1 5 1 2 1 1 1 5 1 4 1 3 1 5 1 3 1 24 3 4 1 10 1 8 1 3 1 5 1 22 1 22 1 35 1 33 1 99 1 457"/><path d="M60 94.5h393" stroke-dasharray="1 15 1 31 1 23 1 5 1 9 1 1 1 6 1 4 1 1 1 1 1 1 1 5 1 1 1 9 1 1 1 5 1 9 2 5 1 10 2 4 3 2 2 5 1 9 1 1 1 1 1 11 1 19 1 25 1 29 1 5 1 103 1 457"/><path d="M18 95.5h349" stroke-dasharray="1 33 1 7 1 43 1 25 1 3 1 9 1 3 1 12 2 1 1 3 1 5 1 11 1 12 1 1 1 2 1 6 1 5 1 7 1 8 1 3 1 5 1 11 1 15 1 33 1 4 1 46 1 7 1 457"/><path d="M6 96.5h356" stroke-dasharray="1 11 1 10 1 20 1 1 1 57 1 17 1 1 1 17 1 4 2 1 1 5 1 4 1 5 2 3 1 1 2 4 1 1 2 8 1 5 1 1 2 1 1 6 1 3 1 7 1 13 1 7 1 1 1 1 1 3 1 13 1 64 1 5 1 11 1 5 1 457"/><path d="M29 97.5h383" stroke-dasharray="1 20 1 57 1 21 1 7 1 7 1 13 1 19 1 8 1 4 1 3 1 2 1 2 1 11 1 13 1 1 1 3 1 6 3 6 1 56 1 5 2 5 1 1 1 4 1 6 1 29 1 3 1 40 1 457"/><path d="M45 98.5h400" stroke-dasharray="2 3 1 3 1 53 1 15 1 2 1 4 1 1 1 1 2 14 1 12 2 13 1 7 1 15 2 3 1 1 1 1 1 1 1 4 1 4 1 3 1 1 2 5 1 4 1 7 2 12 1 8 1 34 1 30 1 103 1 457"/><path d="M36 99.5h413" stroke-dasharray="1 9 1 3 1 6 1 6 1 43 1 9 1 11 2 4 1 20 1 8 1 8 1 4 1 5 3 3 1 1 1 25 1 4 1 6 2 1 3 4 1 6 4 5 1 69 1 101 1 13 1 3 1 457"/><path d="M10 100.5h343" stroke-dasharray="1 24 1 14 1 10 1 60 1 5 1 8 1 2 1 6 1 6 1 10 1 3 1 1 1 1 1 1 1 1 1 1 2 5 1 75 1 1 1 11 1 25 1 7 1 5 1 5 1 11 1 17 1 457"/><path d="M0 101.5h441" stroke-dasharray="1 31 1 3 1 25 1 54 1 1 1 6 1 9 1 4 1 1 1 33 1 1 2 10 1 1 1 108 1 7 1 35 1 5 1 87 1 457"/><path d="M302 102.5h63" stroke-dasharray="1 1 1 10 1 15 1 26 1 5 1 457"/><path d="M4 103.5h369" stroke-dasharray="1 4 1 14 1 120 1 151 1 4 1 2 1 13 1 15 1 21 1 1 1 3 1 4 1 1 1 1 1 457"/><path d="M9 104.5h375" stroke-dasharray="2 3 1 4 1 5 1 21 1 3 1 1 1 102 1 147 1 6 1 12 3 4 1 24 1 5 1 1 1 1 1 1 1 3 1 10 1 457"/><path d="M10 105.5h359" stroke-dasharray="2 4 2 2 2 8 1 4 1 6 1 1 1 285 1 1 1 19 1 11 1 1 1 1 1 457"/><path d="M5 106.5h370" stroke-dasharray="2 9 1 2 1 3 1 18 1 4 1 2 1 270 1 7 2 7 1 3 1 3 1 7 1 1 1 9 1 1 1 5 1 457"/><path d="M2 107.5h373" stroke-dasharray="1 7 1 4 1 8 1 3 1 2 2 1 2 3 3 6 1 91 1 4 1 180 1 11 1 3 1 21 1 9 1 457"/><path d="M10 108.5h357" stroke-dasharray="2 12 1 9 3 5 2 112 1 201 1 5 1 1 1 457"/><path d="M9 109.5h358" stroke-dasharray="1 1 1 6 1 3 1 10 1 1 1 4 1 105 1 5 1 199 1 5 1 1 1 5 1 457"/><path d="M4 110.5h373" stroke-dasharray="1 3 1 15 1 1 2 6 1 305 1 23 1 11 1 457"/><path d="M9 111.5h378" stroke-dasharray="2 6 2 1 1 6 1 2 2 332 1 5 1 5 1 9 1 457"/><path d="M5 112.5h366" stroke-dasharray="1 6 1 6 1 124 1 225 1 457"/><path d="M9 113.5h378" stroke-dasharray="1 13 1 11 1 2 1 345 1 1 1 457"/><path d="M5 114.5h25" stroke-dasharray="1 10 1 8 1 3 1 457"/><path d="M18 115.5h1"/><path d="M11 116.5h7" stroke-dasharray="1 1 1 3 1 457"/><path d="M13 117.5h10" stroke-dasharray="1 4 1 2 2 457"/><path d="M9 118.5h22" stroke-dasharray="1 6 1 13 1 457"/><path d="M9 119.5h19" stroke-dasharray="1 5 1 1 1 9 1 457"/></g><g stroke="#11be7c"><path d="M132 22.5h1"/><path d="M92 23.5h103" stroke-dasharray="1 26 1 33 1 40 1 457"/><path d="M3 24.5h379" stroke-dasharray="1 127 1 3 1 83 1 19 1 12 2 9 1 117 1 457"/><path d="M107 25.5h303" stroke-dasharray="1 12 1 20 1 49 1 32 1 16 1 28 1 21 1 7 1 14 1 8 1 1 1 5 1 18 1 30 1 12 1 13 1 457"/><path d="M21 26.5h339" stroke-dasharray="1 93 1 49 1 7 1 104 1 17 1 9 1 13 1 26 1 11 1 457"/><path d="M59 27.5h376" stroke-dasharray="1 1 1 3 1 93 1 146 1 38 1 6 1 54 1 11 1 11 1 2 1 457"/><path d="M94 28.5h334" stroke-dasharray="1 48 1 12 1 21 1 25 2 7 1 76 1 125 1 10 1 457"/><path d="M103 29.5h267" stroke-dasharray="1 56 1 33 1 9 1 7 1 20 1 23 1 88 1 22 1 457"/><path d="M77 30.5h371" stroke-dasharray="1 72 1 7 1 48 1 138 1 14 1 44 1 40 1 457"/><path d="M150 31.5h303" stroke-dasharray="1 172 1 128 1 457"/><path d="M170 32.5h259" stroke-dasharray="1 20 1 15 1 46 1 68 1 104 1 457"/><path d="M109 33.5h187" stroke-dasharray="1 23 1 11 1 4 1 144 1 457"/><path d="M115 34.5h36" stroke-dasharray="1 34 1 457"/><path d="M68 35.5h274" stroke-dasharray="1 39 1 54 1 46 1 71 1 58 1 457"/><path d="M15 36.5h305" stroke-dasharray="1 34 1 113 1 28 1 17 1 8 1 8 1 10 1 78 1 457"/><path d="M31 37.5h195" stroke-dasharray="1 142 1 18 1 12 1 13 1 4 1 457"/><path d="M169 38.5h165" stroke-dasharray="1 23 1 38 1 100 1 457"/><path d="M44 39.5h183" stroke-dasharray="1 181 1 457"/><path d="M6 40.5h422" stroke-dasharray="1 80 1 133 1 17 1 174 1 12 1 457"/><path d="M339 41.5h83" stroke-dasharray="1 81 1 457"/><path d="M11 42.5h350" stroke-dasharray="1 45 1 155 1 125 1 20 1 457"/><path d="M3 43.5h346" stroke-dasharray="1 33 1 186 1 123 1 457"/><path d="M153 44.5h133" stroke-dasharray="1 71 1 24 1 34 1 457"/><path d="M93 45.5h349" stroke-dasharray="1 131 1 72 1 142 1 457"/><path d="M71 46.5h140" stroke-dasharray="1 52 1 75 1 9 1 457"/><path d="M75 47.5h148" stroke-dasharray="1 91 2 53 1 457"/><path d="M17 48.5h78" stroke-dasharray="1 76 1 457"/><path d="M149 49.5h197" stroke-dasharray="1 34 1 13 1 30 2 3 1 44 1 65 1 457"/><path d="M71 50.5h295" stroke-dasharray="1 99 1 15 1 42 1 3 1 8 1 121 1 457"/><path d="M16 51.5h429" stroke-dasharray="1 154 2 47 1 13 1 106 1 25 1 59 1 16 1 457"/><path d="M143 52.5h199" stroke-dasharray="1 24 1 23 1 12 1 4 1 130 1 457"/><path d="M165 53.5h231" stroke-dasharray="1 1 1 22 1 1 1 17 1 23 1 160 1 457"/><path d="M65 54.5h173" stroke-dasharray="1 171 1 457"/><path d="M16 55.5h387" stroke-dasharray="1 91 1 60 1 24 1 28 1 178 1 457"/><path d="M204 56.5h30" stroke-dasharray="1 18 1 9 1 457"/><path d="M143 57.5h88" stroke-dasharray="1 42 1 17 1 25 1 457"/><path d="M170 58.5h39" stroke-dasharray="1 11 1 6 1 14 1 3 1 457"/><path d="M146 59.5h146" stroke-dasharray="1 20 1 2 1 24 1 2 1 7 1 1 1 1 1 11 1 8 1 59 1 457"/><path d="M24 60.5h419" stroke-dasharray="1 13 1 103 1 32 2 16 1 9 1 1 1 2 1 13 1 8 1 104 1 105 1 457"/><path d="M31 61.5h394" stroke-dasharray="1 134 1 1 1 21 1 14 1 10 1 207 1 457"/><path d="M168 62.5h232" stroke-dasharray="1 45 1 48 1 135 1 457"/><path d="M134 63.5h108" stroke-dasharray="1 29 1 16 1 18 1 9 1 30 1 457"/><path d="M115 64.5h79" stroke-dasharray="1 24 1 6 1 4 1 21 2 13 1 3 1 457"/><path d="M137 65.5h98" stroke-dasharray="1 2 1 23 1 9 1 5 1 5 1 6 2 20 3 16 1 457"/><path d="M101 66.5h122" stroke-dasharray="1 38 1 45 1 7 1 18 1 1 2 5 1 457"/><path d="M157 67.5h261" stroke-dasharray="1 17 1 7 2 9 1 31 1 190 1 457"/><path d="M135 68.5h75" stroke-dasharray="1 47 1 19 1 4 2 457"/><path d="M106 69.5h136" stroke-dasharray="1 68 1 25 1 39 1 457"/><path d="M161 70.5h76" stroke-dasharray="1 39 1 16 1 17 1 457"/><path d="M166 71.5h77" stroke-dasharray="1 17 1 11 1 3 1 8 1 26 1 5 1 457"/><path d="M130 72.5h297" stroke-dasharray="1 10 1 24 1 17 1 15 1 17 1 20 1 113 1 71 2 457"/><path d="M56 73.5h371" stroke-dasharray="1 68 1 41 2 15 1 9 1 10 1 11 1 5 1 18 1 135 1 47 1 457"/><path d="M172 74.5h69" stroke-dasharray="1 1 1 14 1 11 1 4 1 16 1 16 1 457"/><path d="M77 75.5h248" stroke-dasharray="1 96 1 17 1 1 1 13 1 1 1 1 1 111 1 457"/><path d="M34 76.5h291" stroke-dasharray="1 119 1 53 2 9 1 8 1 3 1 91 1 457"/><path d="M204 77.5h223" stroke-dasharray="1 3 2 8 1 6 2 1 2 1 2 80 1 112 1 457"/><path d="M136 78.5h115" stroke-dasharray="1 23 1 35 1 4 1 2 1 1 1 5 1 1 1 6 1 1 1 4 1 21 1 457"/><path d="M176 79.5h172" stroke-dasharray="1 16 2 1 1 13 1 1 1 3 1 1 1 2 1 6 1 19 1 98 1 457"/><path d="M51 80.5h221" stroke-dasharray="1 124 1 25 1 7 1 1 1 3 1 23 1 7 1 22 1 457"/><path d="M32 81.5h377" stroke-dasharray="1 131 1 5 1 11 1 2 1 15 1 9 2 11 1 2 1 131 1 48 1 457"/><path d="M127 82.5h278" stroke-dasharray="1 16 1 6 1 2 1 9 1 5 1 5 1 16 1 12 1 1 1 4 1 2 1 1 1 8 1 20 1 155 1 457"/><path d="M146 83.5h214" stroke-dasharray="1 2 1 1 1 3 1 10 1 3 1 10 1 2 1 8 1 6 1 5 1 1 1 17 1 121 1 10 1 457"/><path d="M3 84.5h356" stroke-dasharray="1 145 2 9 1 5 1 17 1 7 1 20 1 4 1 7 1 5 1 19 1 1 1 103 1 457"/><path d="M156 85.5h289" stroke-dasharray="1 27 1 9 1 3 1 13 1 1 1 7 1 17 1 13 1 189 1 457"/><path d="M140 86.5h97" stroke-dasharray="1 8 1 3 2 29 1 13 1 11 3 1 1 7 1 5 1 6 2 457"/><path d="M140 87.5h251" stroke-dasharray="1 10 1 20 1 17 1 21 1 22 1 154 1 457"/><path d="M26 88.5h217" stroke-dasharray="1 114 1 2 1 6 1 2 1 7 1 7 1 19 1 23 1 17 1 9 1 457"/><path d="M110 89.5h135" stroke-dasharray="1 35 1 11 1 27 1 15 1 2 1 12 1 5 1 15 2 2 1 457"/><path d="M19 90.5h271" stroke-dasharray="1 120 1 7 1 9 1 17 1 11 1 13 1 13 1 1 2 14 1 7 1 9 1 21 1 14 1 457"/><path d="M142 91.5h209" stroke-dasharray="1 3 1 3 1 1 1 3 1 23 1 7 1 5 1 8 2 12 1 1 1 3 1 18 1 31 1 27 1 5 1 3 1 37 1 457"/><path d="M108 92.5h349" stroke-dasharray="1 10 1 22 1 7 2 1 1 2 1 1 1 19 1 1 1 11 1 3 1 18 1 2 1 2 1 10 1 9 1 63 1 3 1 7 1 1 1 9 1 125 1 457"/><path d="M108 93.5h259" stroke-dasharray="1 7 1 23 1 5 1 3 1 19 1 1 2 2 1 9 1 5 3 1 1 1 1 1 1 7 1 5 1 9 1 7 1 9 1 1 1 63 1 9 1 23 1 3 1 3 1 15 1 457"/><path d="M5 94.5h348" stroke-dasharray="1 110 1 2 1 32 1 17 1 22 1 4 1 11 1 3 1 9 1 17 1 1 1 11 1 65 1 13 1 15 1 457"/><path d="M110 95.5h315" stroke-dasharray="2 34 1 11 1 13 2 14 1 4 1 8 2 12 1 1 1 3 1 13 1 13 1 3 1 11 1 75 1 81 1 457"/><path d="M134 96.5h231" stroke-dasharray="1 3 1 26 1 2 1 3 1 9 1 17 1 1 1 7 1 6 2 7 1 2 1 36 1 35 1 1 1 8 1 7 1 1 1 1 1 1 1 5 1 1 1 3 1 4 1 8 1 3 1 6 1 457"/><path d="M18 97.5h345" stroke-dasharray="1 138 1 14 1 1 1 9 1 3 1 18 1 1 2 1 2 3 1 1 2 4 2 2 1 10 1 5 1 8 1 2 1 43 1 27 1 3 1 5 1 1 1 15 1 3 1 457"/><path d="M33 98.5h418" stroke-dasharray="1 122 1 3 1 1 1 1 1 5 1 1 2 2 1 2 1 2 1 4 1 6 1 1 1 1 1 2 1 5 2 7 1 4 1 6 1 6 1 4 1 3 1 10 1 2 1 1 1 1 1 45 1 13 1 5 1 7 1 113 1 457"/><path d="M37 99.5h375" stroke-dasharray="1 86 1 3 1 8 1 14 1 3 1 8 1 1 1 6 1 1 1 2 1 2 1 7 1 5 2 3 1 2 2 1 1 1 1 3 1 7 1 1 1 7 1 24 1 3 1 47 1 9 1 11 1 5 1 5 1 3 1 13 1 50 1 457"/><path d="M57 100.5h310" stroke-dasharray="1 60 2 10 1 7 1 3 1 7 3 3 1 2 1 6 1 3 1 13 1 3 1 2 1 3 2 121 1 11 1 5 1 5 1 7 1 5 1 9 1 457"/><path d="M56 101.5h309" stroke-dasharray="1 63 1 17 1 6 1 1 1 1 1 1 1 2 1 2 1 1 1 1 1 1 1 9 1 7 1 93 2 19 1 9 1 11 1 3 1 11 1 5 1 8 1 4 1 7 1 1 1 457"/><path d="M51 102.5h302" stroke-dasharray="1 254 1 22 1 22 1 457"/><path d="M1 103.5h364" stroke-dasharray="1 6 1 2 1 5 1 1 1 5 1 3 1 6 1 9 1 9 1 237 1 14 1 13 1 21 1 7 1 1 2 7 1 457"/><path d="M2 104.5h174" stroke-dasharray="2 4 1 2 3 2 2 12 3 1 4 3 1 1 1 1 1 2 1 1 1 1 1 76 1 11 1 33 1 457"/><path d="M8 105.5h353" stroke-dasharray="1 18 2 2 1 2 1 4 1 3 1 2 1 5 1 81 1 10 2 17 1 141 1 29 1 1 1 1 1 5 1 13 1 457"/><path d="M2 106.5h357" stroke-dasharray="2 8 2 6 1 8 1 2 1 4 1 8 1 93 1 6 1 1 1 1 1 6 1 5 1 174 1 10 1 7 1 457"/><path d="M11 107.5h386" stroke-dasharray="2 1 1 5 2 1 1 1 1 4 1 2 1 2 2 5 1 94 1 5 1 10 2 165 1 6 1 20 1 7 1 18 1 18 1 457"/><path d="M3 108.5h354" stroke-dasharray="2 4 1 3 1 2 1 3 2 4 1 10 1 3 1 2 1 3 1 87 1 17 1 173 2 2 1 3 1 9 1 9 1 457"/><path d="M2 109.5h355" stroke-dasharray="1 2 2 3 1 4 1 16 1 3 1 5 1 104 1 1 1 179 1 6 1 5 1 13 1 457"/><path d="M7 110.5h380" stroke-dasharray="1 1 1 8 1 3 1 8 1 3 1 4 1 4 1 97 1 5 1 204 1 3 1 1 1 25 1 457"/><path d="M21 111.5h336" stroke-dasharray="1 3 1 9 2 2 2 101 1 10 1 196 1 5 1 457"/><path d="M4 112.5h361" stroke-dasharray="1 6 1 1 1 2 2 8 2 1 1 1 1 2 1 3 1 108 1 8 1 203 1 1 1 1 1 457"/><path d="M8 113.5h363" stroke-dasharray="1 1 1 1 1 3 1 1 1 2 2 4 1 2 1 2 1 111 1 224 1 457"/><path d="M6 114.5h33" stroke-dasharray="1 3 2 3 1 4 1 3 1 6 1 4 3 457"/><path d="M8 115.5h24" stroke-dasharray="1 3 3 10 1 4 2 457"/><path d="M8 116.5h32" stroke-dasharray="1 12 2 1 1 8 1 5 1 457"/><path d="M10 117.5h20" stroke-dasharray="1 4 1 3 1 9 1 457"/><path d="M13 118.5h23" stroke-dasharray="1 3 1 14 1 2 1 457"/><path d="M18 119.5h11" stroke-dasharray="1 4 1 4 1 457"/><path d="M12 120.5h13" stroke-dasharray="3 8 2 457"/></g><g stroke="#0ccc62"><path d="M17 22.5h119" stroke-dasharray="1 21 1 18 1 56 1 19 1 457"/><path d="M29 23.5h209" stroke-dasharray="1 65 1 16 1 31 1 18 1 2 1 37 1 24 1 7 1 457"/><path d="M51 24.5h294" stroke-dasharray="1 27 1 18 1 11 1 13 1 43 1 23 1 11 1 9 1 80 1 19 1 28 1 457"/><path d="M32 25.5h410" stroke-dasharray="1 6 1 72 1 42 1 48 1 96 1 35 1 22 1 8 1 13 1 56 2 457"/><path d="M5 26.5h414" stroke-dasharray="1 89 1 109 1 12 1 2 1 59 1 2 1 10 1 13 1 17 1 50 1 22 1 16 1 457"/><path d="M29 27.5h387" stroke-dasharray="1 30 1 8 1 43 1 32 1 65 1 14 1 57 1 14 1 39 1 74 1 457"/><path d="M105 28.5h339" stroke-dasharray="1 17 1 90 1 1 1 26 1 10 1 135 1 52 1 457"/><path d="M59 29.5h391" stroke-dasharray="1 23 1 9 1 55 1 8 1 51 1 21 1 30 1 38 1 121 1 13 1 10 1 457"/><path d="M160 30.5h294" stroke-dasharray="1 33 1 26 1 49 1 39 1 3 2 136 1 457"/><path d="M16 31.5h322" stroke-dasharray="1 174 1 2 1 142 1 457"/><path d="M145 32.5h119" stroke-dasharray="1 14 1 102 1 457"/><path d="M8 33.5h349" stroke-dasharray="1 107 1 43 1 9 1 4 1 180 1 457"/><path d="M4 34.5h427" stroke-dasharray="1 45 1 142 1 236 1 457"/><path d="M193 35.5h1"/><path d="M264 36.5h144" stroke-dasharray="1 142 1 457"/><path d="M48 37.5h228" stroke-dasharray="1 30 1 155 1 20 1 18 1 457"/><path d="M22 38.5h364" stroke-dasharray="1 75 1 6 1 101 1 17 1 4 1 42 1 111 1 457"/><path d="M207 39.5h33" stroke-dasharray="1 17 1 4 1 8 1 457"/><path d="M10 40.5h101" stroke-dasharray="1 99 1 457"/><path d="M4 41.5h329" stroke-dasharray="1 110 1 98 1 6 1 20 1 89 1 457"/><path d="M61 42.5h154" stroke-dasharray="1 70 1 81 1 457"/><path d="M21 43.5h376" stroke-dasharray="1 191 1 150 1 31 1 457"/><path d="M73 44.5h297" stroke-dasharray="1 158 1 61 1 15 1 58 1 457"/><path d="M222 45.5h130" stroke-dasharray="1 18 1 63 1 45 1 457"/><path d="M190 46.5h121" stroke-dasharray="1 119 1 457"/><path d="M190 47.5h233" stroke-dasharray="1 200 1 21 1 8 1 457"/><path d="M1 48.5h102" stroke-dasharray="1 14 1 85 1 457"/><path d="M0 49.5h266" stroke-dasharray="1 71 1 50 1 48 1 52 1 39 1 457"/><path d="M26 50.5h320" stroke-dasharray="1 10 1 103 1 30 1 4 1 6 1 84 1 34 1 40 1 457"/><path d="M223 51.5h125" stroke-dasharray="1 6 1 116 1 457"/><path d="M61 52.5h20" stroke-dasharray="1 10 1 7 1 457"/><path d="M9 53.5h338" stroke-dasharray="1 162 1 173 1 457"/><path d="M343 54.5h54" stroke-dasharray="1 52 1 457"/><path d="M13 55.5h192" stroke-dasharray="1 29 1 49 1 10 2 98 1 457"/><path d="M169 56.5h153" stroke-dasharray="1 21 1 36 1 92 1 457"/><path d="M169 57.5h65" stroke-dasharray="1 58 1 4 1 457"/><path d="M128 58.5h1"/><path d="M8 59.5h437" stroke-dasharray="1 14 1 158 1 10 1 250 1 457"/><path d="M206 60.5h161" stroke-dasharray="1 159 1 457"/><path d="M175 61.5h219" stroke-dasharray="1 27 1 114 1 74 1 457"/><path d="M5 62.5h156" stroke-dasharray="1 79 1 66 1 7 1 457"/><path d="M61 63.5h170" stroke-dasharray="1 90 1 7 1 69 1 457"/><path d="M103 64.5h169" stroke-dasharray="1 60 1 29 1 27 1 48 1 457"/><path d="M175 65.5h207" stroke-dasharray="1 13 1 18 1 104 1 7 1 49 1 9 1 457"/><path d="M137 66.5h211" stroke-dasharray="1 161 1 47 1 457"/><path d="M380 67.5h1"/><path d="M174 68.5h188" stroke-dasharray="1 137 1 48 1 457"/><path d="M9 69.5h203" stroke-dasharray="1 164 1 28 1 7 1 457"/><path d="M174 70.5h1"/><path d="M174 71.5h196" stroke-dasharray="1 26 1 16 1 147 1 2 1 457"/><path d="M9 72.5h352" stroke-dasharray="1 199 1 32 1 13 1 7 1 24 1 70 1 457"/><path d="M209 73.5h137" stroke-dasharray="1 135 1 457"/><path d="M105 74.5h322" stroke-dasharray="1 19 1 42 1 25 1 17 1 3 1 9 1 199 1 457"/><path d="M182 75.5h38" stroke-dasharray="1 21 1 14 1 457"/><path d="M182 76.5h96" stroke-dasharray="1 9 1 13 1 4 1 4 1 8 2 50 1 457"/><path d="M77 77.5h373" stroke-dasharray="1 128 1 191 1 50 1 457"/><path d="M71 78.5h237" stroke-dasharray="1 27 1 19 1 38 1 33 1 31 1 59 1 22 1 457"/><path d="M222 79.5h1"/><path d="M6 80.5h217" stroke-dasharray="1 27 1 123 1 45 1 6 1 9 2 457"/><path d="M152 81.5h192" stroke-dasharray="1 19 1 27 1 15 1 5 1 25 1 94 1 457"/><path d="M37 82.5h371" stroke-dasharray="1 114 2 60 1 7 1 184 1 457"/><path d="M138 83.5h219" stroke-dasharray="1 14 1 64 1 11 1 21 1 5 1 97 1 457"/><path d="M181 84.5h245" stroke-dasharray="1 28 1 3 1 25 1 184 1 457"/><path d="M149 85.5h212" stroke-dasharray="1 38 1 21 1 15 1 133 1 457"/><path d="M150 86.5h224" stroke-dasharray="1 136 1 85 1 457"/><path d="M150 87.5h181" stroke-dasharray="1 17 1 46 1 20 1 5 1 87 1 457"/><path d="M160 88.5h81" stroke-dasharray="1 51 1 7 1 15 1 3 1 457"/><path d="M72 89.5h220" stroke-dasharray="1 97 1 1 1 39 1 3 1 5 1 68 1 457"/><path d="M146 90.5h250" stroke-dasharray="1 9 1 3 1 13 1 37 1 11 1 160 1 9 1 457"/><path d="M109 91.5h246" stroke-dasharray="1 30 1 17 1 17 1 35 1 16 1 80 1 43 1 457"/><path d="M140 92.5h215" stroke-dasharray="1 33 1 1 1 14 1 2 1 17 1 1 1 1 1 7 1 1 1 127 1 457"/><path d="M113 93.5h242" stroke-dasharray="1 38 1 62 1 2 1 91 1 9 1 13 1 19 1 457"/><path d="M172 94.5h182" stroke-dasharray="2 42 1 1 1 99 1 15 1 15 1 2 1 457"/><path d="M166 95.5h195" stroke-dasharray="1 31 1 11 1 3 1 14 2 87 1 1 1 6 1 12 1 5 1 1 1 3 1 1 1 5 1 457"/><path d="M144 96.5h204" stroke-dasharray="1 13 1 5 1 60 1 4 1 3 1 1 1 3 1 7 1 60 1 1 1 7 1 11 1 9 1 3 1 1 1 457"/><path d="M131 97.5h188" stroke-dasharray="1 2 1 23 1 5 1 1 1 1 1 9 1 23 1 3 1 11 1 37 1 61 1 457"/><path d="M131 98.5h216" stroke-dasharray="1 14 1 10 1 16 1 9 1 10 1 7 1 6 1 6 1 4 1 87 1 3 1 3 1 27 1 457"/><path d="M148 99.5h222" stroke-dasharray="1 5 1 5 1 1 1 1 1 3 1 3 1 5 1 5 1 6 1 3 1 2 1 12 1 3 2 2 1 2 1 15 1 5 1 93 1 11 1 3 1 1 1 12 1 457"/><path d="M134 100.5h213" stroke-dasharray="1 27 1 5 1 7 1 1 1 3 1 7 1 1 1 80 1 54 1 17 1 457"/><path d="M35 101.5h387" stroke-dasharray="1 104 1 1 1 7 1 1 2 8 1 3 1 4 1 4 1 1 1 3 1 3 1 5 1 123 1 13 1 5 1 29 1 54 1 457"/><path d="M166 102.5h201" stroke-dasharray="1 145 1 15 1 5 1 5 1 1 1 19 1 3 1 457"/><path d="M2 103.5h415" stroke-dasharray="1 7 1 11 1 3 1 7 1 5 1 3 1 4 1 73 1 3 1 27 1 5 1 7 1 3 1 133 1 13 1 17 1 3 2 6 1 8 1 55 1 457"/><path d="M5 104.5h420" stroke-dasharray="1 1 1 12 2 1 1 2 1 15 1 87 1 2 1 28 2 158 1 17 1 1 1 9 1 1 1 69 1 457"/><path d="M3 105.5h352" stroke-dasharray="1 2 1 18 1 3 1 7 2 1 1 7 1 2 1 3 1 65 1 1 1 3 1 5 1 2 1 10 1 1 1 1 1 1 1 3 1 1 1 2 1 2 1 7 1 134 1 13 1 25 1 5 1 457"/><path d="M1 106.5h360" stroke-dasharray="1 5 1 2 1 4 1 1 2 2 2 5 1 4 1 1 1 5 1 1 1 4 1 2 1 1 1 74 1 4 2 7 2 13 1 194 1 7 1 457"/><path d="M4 107.5h353" stroke-dasharray="2 1 1 1 1 6 1 5 1 3 1 2 1 8 1 91 1 12 1 7 1 1 1 6 1 169 1 1 1 23 1 457"/><path d="M8 108.5h343" stroke-dasharray="1 5 1 3 1 9 2 10 1 5 1 86 1 1 1 6 1 2 1 1 3 1 2 2 1 7 1 162 1 3 1 19 1 457"/><path d="M3 109.5h362" stroke-dasharray="1 9 2 13 1 1 1 6 1 1 1 4 1 1 1 91 1 2 2 5 1 1 1 2 2 1 1 1 1 173 1 1 1 29 1 457"/><path d="M16 110.5h337" stroke-dasharray="1 15 1 5 1 95 1 10 1 1 1 5 1 184 1 3 1 5 1 3 1 457"/><path d="M13 111.5h336" stroke-dasharray="2 19 1 3 1 3 1 93 1 1 1 9 2 198 1 457"/><path d="M9 112.5h350" stroke-dasharray="1 10 1 2 1 8 2 3 1 1 1 105 1 8 2 200 1 1 1 457"/><path d="M4 113.5h363" stroke-dasharray="2 1 1 7 1 10 1 2 1 7 1 5 1 106 1 215 1 457"/><path d="M7 114.5h34" stroke-dasharray="1 4 1 5 1 7 1 1 1 6 1 4 1 457"/><path d="M5 115.5h31" stroke-dasharray="1 5 1 3 1 3 1 2 2 9 1 1 1 457"/><path d="M6 116.5h31" stroke-dasharray="1 3 1 5 1 10 1 1 1 2 1 1 1 1 1 457"/><path d="M6 117.5h27" stroke-dasharray="1 1 1 8 1 5 3 1 2 3 1 457"/><path d="M10 118.5h19" stroke-dasharray="1 4 1 7 1 2 1 1 1 457"/><path d="M16 119.5h18" stroke-dasharray="1 3 1 1 1 1 2 3 2 1 2 457"/><path d="M9 120.5h18" stroke-dasharray="1 16 1 457"/><path d="M22 121.5h1"/></g><g stroke="#09d947"><path d="M0 22.5h119" stroke-dasharray="1 11 2 61 1 42 1 457"/><path d="M89 23.5h129" stroke-dasharray="1 20 1 40 1 7 1 57 1 457"/><path d="M58 24.5h275" stroke-dasharray="1 95 1 14 1 42 1 107 1 11 1 457"/><path d="M56 25.5h392" stroke-dasharray="1 54 1 80 1 25 1 23 1 11 1 65 1 7 1 34 1 28 1 1 1 21 1 30 1 457"/><path d="M10 26.5h365" stroke-dasharray="1 16 1 43 1 24 1 179 1 44 1 19 1 32 1 457"/><path d="M162 27.5h268" stroke-dasharray="1 28 1 2 1 182 1 25 1 25 1 457"/><path d="M8 28.5h364" stroke-dasharray="1 86 1 153 1 48 1 72 1 457"/><path d="M196 29.5h257" stroke-dasharray="1 50 1 59 1 13 1 31 1 98 1 457"/><path d="M30 30.5h406" stroke-dasharray="1 33 1 94 1 117 1 4 1 80 1 19 1 51 1 457"/><path d="M85 31.5h316" stroke-dasharray="1 135 1 116 1 8 1 13 1 38 1 457"/><path d="M84 32.5h244" stroke-dasharray="1 16 1 146 1 6 1 71 1 457"/><path d="M114 33.5h303" stroke-dasharray="1 15 1 174 1 110 1 457"/><path d="M107 34.5h189" stroke-dasharray="1 1 1 145 1 1 1 37 1 457"/><path d="M77 35.5h345" stroke-dasharray="1 208 1 86 1 47 1 457"/><path d="M44 36.5h385" stroke-dasharray="1 24 1 1 1 159 1 196 1 457"/><path d="M101 37.5h260" stroke-dasharray="1 13 1 16 1 48 1 72 1 46 1 58 1 457"/><path d="M111 38.5h221" stroke-dasharray="1 16 1 123 1 78 1 457"/><path d="M160 39.5h263" stroke-dasharray="1 76 1 63 1 120 1 457"/><path d="M86 40.5h77" stroke-dasharray="1 75 1 457"/><path d="M11 41.5h398" stroke-dasharray="1 21 1 113 1 260 1 457"/><path d="M71 43.5h220" stroke-dasharray="1 3 1 188 1 25 1 457"/><path d="M124 44.5h311" stroke-dasharray="1 84 1 25 1 47 1 150 1 457"/><path d="M243 45.5h204" stroke-dasharray="1 202 1 457"/><path d="M48 46.5h380" stroke-dasharray="1 173 1 40 1 18 1 30 1 34 1 12 1 65 1 457"/><path d="M15 47.5h191" stroke-dasharray="1 25 1 58 1 104 1 457"/><path d="M22 48.5h262" stroke-dasharray="1 58 1 15 1 18 1 65 1 69 1 30 1 457"/><path d="M113 49.5h317" stroke-dasharray="1 272 1 42 1 457"/><path d="M174 50.5h274" stroke-dasharray="1 272 1 457"/><path d="M25 51.5h6" stroke-dasharray="1 4 1 457"/><path d="M364 52.5h1"/><path d="M38 53.5h394" stroke-dasharray="1 212 1 179 1 457"/><path d="M78 54.5h198" stroke-dasharray="1 93 1 94 1 7 1 457"/><path d="M34 55.5h381" stroke-dasharray="1 53 1 10 1 31 1 118 1 117 1 1 1 3 1 39 1 457"/><path d="M106 56.5h325" stroke-dasharray="1 30 1 204 1 87 1 457"/><path d="M241 57.5h152" stroke-dasharray="1 110 1 39 1 457"/><path d="M34 58.5h347" stroke-dasharray="1 316 1 28 1 457"/><path d="M6 59.5h72" stroke-dasharray="1 15 1 54 1 457"/><path d="M328 60.5h1"/><path d="M69 61.5h332" stroke-dasharray="1 330 1 457"/><path d="M81 62.5h260" stroke-dasharray="1 4 1 20 1 14 1 217 1 457"/><path d="M14 63.5h373" stroke-dasharray="1 4 1 366 1 457"/><path d="M6 64.5h451" stroke-dasharray="1 3 1 70 1 126 1 147 1 44 1 27 1 26 1 457"/><path d="M38 65.5h285" stroke-dasharray="1 97 1 85 1 99 1 457"/><path d="M322 66.5h29" stroke-dasharray="1 27 1 457"/><path d="M31 67.5h383" stroke-dasharray="1 179 1 21 1 109 1 69 1 457"/><path d="M175 68.5h175" stroke-dasharray="1 35 1 137 1 457"/><path d="M21 69.5h79" stroke-dasharray="1 77 1 457"/><path d="M293 70.5h68" stroke-dasharray="1 66 1 457"/><path d="M342 71.5h1"/><path d="M67 72.5h388" stroke-dasharray="1 213 1 14 1 157 1 457"/><path d="M172 73.5h254" stroke-dasharray="1 152 1 99 1 457"/><path d="M106 74.5h320" stroke-dasharray="1 122 1 137 1 57 1 457"/><path d="M22 75.5h404" stroke-dasharray="1 140 1 4 1 37 1 19 1 198 1 457"/><path d="M204 76.5h222" stroke-dasharray="1 213 1 4 1 1 1 457"/><path d="M2 77.5h424" stroke-dasharray="1 34 1 154 1 18 1 10 1 21 1 161 1 18 1 457"/><path d="M222 78.5h33" stroke-dasharray="1 31 1 457"/><path d="M204 79.5h226" stroke-dasharray="1 224 1 457"/><path d="M172 80.5h204" stroke-dasharray="1 154 1 47 1 457"/><path d="M95 81.5h45" stroke-dasharray="1 43 1 457"/><path d="M200 82.5h25" stroke-dasharray="1 23 1 457"/><path d="M224 83.5h67" stroke-dasharray="1 60 1 4 1 457"/><path d="M70 84.5h155" stroke-dasharray="1 153 1 457"/><path d="M14 85.5h260" stroke-dasharray="1 54 1 7 1 195 1 457"/><path d="M2 86.5h437" stroke-dasharray="1 6 1 39 1 156 1 19 1 211 1 457"/><path d="M64 87.5h275" stroke-dasharray="1 64 1 93 1 114 1 457"/><path d="M46 88.5h127" stroke-dasharray="1 125 1 457"/><path d="M121 90.5h215" stroke-dasharray="1 171 1 41 1 457"/><path d="M0 91.5h339" stroke-dasharray="1 81 1 13 1 77 1 39 1 110 1 12 1 457"/><path d="M103 92.5h238" stroke-dasharray="1 149 1 60 1 19 1 3 1 1 1 457"/><path d="M216 93.5h1"/><path d="M24 94.5h375" stroke-dasharray="1 121 1 53 1 109 1 9 1 11 1 65 1 457"/><path d="M200 95.5h139" stroke-dasharray="1 11 1 67 1 27 1 25 1 1 1 1 1 457"/><path d="M166 96.5h229" stroke-dasharray="1 139 1 10 1 8 1 39 1 27 1 457"/><path d="M144 97.5h249" stroke-dasharray="1 9 1 111 1 41 1 1 1 1 1 19 1 15 1 5 1 5 1 31 1 457"/><path d="M144 98.5h217" stroke-dasharray="1 13 1 9 1 9 1 23 1 3 1 7 1 4 1 6 1 85 1 19 1 17 1 3 1 5 1 457"/><path d="M113 99.5h251" stroke-dasharray="1 30 1 25 1 31 2 2 1 1 1 3 1 1 1 2 2 15 1 5 1 7 1 6 1 6 1 47 1 11 1 40 1 457"/><path d="M158 100.5h197" stroke-dasharray="1 5 1 141 1 1 1 5 1 17 1 15 1 5 1 457"/><path d="M146 101.5h236" stroke-dasharray="1 17 1 3 3 18 2 117 1 30 1 10 1 30 1 457"/><path d="M2 102.5h321" stroke-dasharray="1 2 1 5 1 3 1 23 1 1 1 111 1 168 1 457"/><path d="M3 103.5h392" stroke-dasharray="1 1 2 21 1 1 1 2 1 1 1 1 1 3 3 1 1 4 1 1 1 2 1 77 1 8 1 13 1 1 1 3 1 4 1 7 2 134 1 3 1 1 1 7 1 1 1 5 1 3 1 3 1 24 1 27 1 457"/><path d="M6 104.5h366" stroke-dasharray="1 11 1 8 3 3 1 10 1 1 1 7 1 60 2 4 1 2 1 6 1 2 1 1 2 1 2 4 1 12 2 12 1 135 1 1 1 17 1 1 1 5 1 1 1 9 1 22 1 457"/><path d="M2 105.5h341" stroke-dasharray="1 1 1 2 1 4 1 19 2 7 1 12 1 1 1 67 1 4 1 9 1 1 1 8 1 10 1 1 1 6 1 139 1 5 1 1 1 9 1 5 1 7 1 457"/><path d="M14 106.5h327" stroke-dasharray="1 19 1 4 1 4 2 3 1 73 1 1 1 6 1 8 1 2 1 8 1 2 1 4 1 5 1 144 1 9 1 9 1 1 1 5 1 457"/><path d="M6 107.5h385" stroke-dasharray="1 1 1 10 1 24 1 1 1 2 1 83 1 1 1 1 1 4 1 3 1 10 1 11 1 148 1 1 1 13 1 55 1 457"/><path d="M30 108.5h311" stroke-dasharray="1 16 1 80 1 9 3 5 1 6 1 186 1 457"/><path d="M4 109.5h429" stroke-dasharray="1 2 2 25 1 10 1 93 1 4 1 10 1 1 1 180 1 1 1 91 1 457"/><path d="M6 110.5h348" stroke-dasharray="1 4 1 3 1 13 1 11 2 93 1 1 1 5 1 1 1 1 1 1 1 1 1 1 1 198 1 457"/><path d="M4 111.5h374" stroke-dasharray="1 7 1 16 1 3 1 113 1 3 1 190 1 11 1 3 1 18 1 457"/><path d="M6 112.5h349" stroke-dasharray="2 16 1 11 1 3 1 1 3 1 1 93 2 4 1 2 3 202 1 457"/><path d="M6 113.5h147" stroke-dasharray="1 7 1 2 1 10 1 122 2 457"/><path d="M9 114.5h146" stroke-dasharray="1 4 1 4 1 1 1 12 1 4 1 2 1 100 1 7 2 1 1 457"/><path d="M10 115.5h28" stroke-dasharray="1 15 1 1 1 8 1 457"/><path d="M9 116.5h29" stroke-dasharray="1 5 1 3 2 7 1 6 1 1 1 457"/><path d="M31 117.5h5" stroke-dasharray="1 1 1 1 1 457"/><path d="M7 118.5h27" stroke-dasharray="2 2 1 2 1 3 3 6 1 5 1 457"/><path d="M14 119.5h13" stroke-dasharray="1 4 1 6 1 457"/><path d="M15 120.5h13" stroke-dasharray="1 5 2 2 1 1 1 457"/><path d="M15 121.5h10" stroke-dasharray="1 1 2 4 2 457"/></g><g stroke="#06e62c"><path d="M1 22.5h61" stroke-dasharray="1 7 1 17 1 33 1 457"/><path d="M46 23.5h110" stroke-dasharray="1 108 1 457"/><path d="M5 24.5h335" stroke-dasharray="2 58 1 84 1 7 1 38 1 4 1 13 1 5 1 42 1 10 1 62 1 457"/><path d="M108 25.5h243" stroke-dasharray="1 41 1 11 1 21 1 34 1 43 1 21 1 64 1 457"/><path d="M31 26.5h322" stroke-dasharray="1 45 2 69 1 39 1 52 1 48 1 25 2 12 1 21 1 457"/><path d="M63 27.5h318" stroke-dasharray="1 28 1 12 1 44 1 19 1 39 1 62 1 47 1 58 1 457"/><path d="M43 28.5h394" stroke-dasharray="1 49 1 50 1 291 1 457"/><path d="M105 29.5h346" stroke-dasharray="1 62 1 53 1 68 1 69 1 19 1 50 1 6 1 10 1 457"/><path d="M14 30.5h209" stroke-dasharray="1 43 1 151 1 11 1 457"/><path d="M92 31.5h343" stroke-dasharray="1 112 1 31 1 114 1 44 1 36 1 457"/><path d="M36 32.5h417" stroke-dasharray="1 88 1 37 1 9 1 19 1 77 1 19 1 81 1 78 1 457"/><path d="M250 33.5h123" stroke-dasharray="1 73 1 3 1 43 1 457"/><path d="M61 34.5h255" stroke-dasharray="1 42 1 139 1 62 1 7 1 457"/><path d="M330 35.5h111" stroke-dasharray="1 101 1 7 1 457"/><path d="M29 36.5h284" stroke-dasharray="1 75 1 128 1 68 1 8 1 457"/><path d="M47 38.5h331" stroke-dasharray="1 8 1 22 1 297 1 457"/><path d="M135 40.5h274" stroke-dasharray="1 145 1 36 1 4 1 84 1 457"/><path d="M107 41.5h250" stroke-dasharray="1 248 1 457"/><path d="M48 42.5h370" stroke-dasharray="2 27 1 73 1 18 1 186 1 59 1 457"/><path d="M10 43.5h245" stroke-dasharray="1 61 1 18 1 135 1 3 1 21 2 457"/><path d="M85 44.5h324" stroke-dasharray="1 145 1 52 1 22 1 100 1 457"/><path d="M149 45.5h181" stroke-dasharray="1 85 1 93 1 457"/><path d="M44 46.5h355" stroke-dasharray="1 102 1 65 1 184 1 457"/><path d="M18 47.5h380" stroke-dasharray="1 351 1 26 1 457"/><path d="M82 48.5h195" stroke-dasharray="1 36 1 39 1 54 1 61 1 457"/><path d="M116 49.5h136" stroke-dasharray="1 134 1 457"/><path d="M133 50.5h324" stroke-dasharray="1 322 1 457"/><path d="M82 51.5h269" stroke-dasharray="1 70 1 7 1 171 1 6 1 9 1 457"/><path d="M188 52.5h162" stroke-dasharray="1 143 1 16 1 457"/><path d="M31 53.5h270" stroke-dasharray="1 53 1 147 1 4 1 28 1 32 1 457"/><path d="M54 54.5h76" stroke-dasharray="1 74 1 457"/><path d="M7 55.5h369" stroke-dasharray="1 37 1 172 1 87 1 45 1 22 1 457"/><path d="M61 56.5h181" stroke-dasharray="1 5 1 124 1 48 1 457"/><path d="M148 57.5h173" stroke-dasharray="1 115 1 55 1 457"/><path d="M42 58.5h387" stroke-dasharray="1 197 1 74 1 112 1 457"/><path d="M94 59.5h339" stroke-dasharray="1 27 1 63 1 58 1 61 1 124 1 457"/><path d="M87 61.5h276" stroke-dasharray="1 202 1 35 1 35 1 457"/><path d="M15 62.5h342" stroke-dasharray="1 21 1 66 1 218 1 32 1 457"/><path d="M18 63.5h430" stroke-dasharray="1 188 1 239 1 457"/><path d="M38 64.5h331" stroke-dasharray="1 251 1 77 1 457"/><path d="M5 65.5h277" stroke-dasharray="1 49 1 206 1 18 1 457"/><path d="M139 66.5h208" stroke-dasharray="1 191 1 14 1 457"/><path d="M206 67.5h250" stroke-dasharray="1 22 1 88 1 47 1 5 1 82 1 457"/><path d="M96 68.5h355" stroke-dasharray="1 138 1 214 1 457"/><path d="M60 69.5h268" stroke-dasharray="1 166 1 48 1 4 1 45 1 457"/><path d="M20 70.5h208" stroke-dasharray="1 206 1 457"/><path d="M75 71.5h150" stroke-dasharray="1 1 1 146 1 457"/><path d="M95 72.5h50" stroke-dasharray="1 27 1 7 1 12 1 457"/><path d="M14 73.5h349" stroke-dasharray="1 240 1 23 1 82 1 457"/><path d="M70 74.5h34" stroke-dasharray="1 32 1 457"/><path d="M42 75.5h385" stroke-dasharray="1 58 1 29 1 84 1 1 1 141 1 65 1 457"/><path d="M7 76.5h420" stroke-dasharray="1 8 1 335 1 7 1 65 1 457"/><path d="M71 77.5h357" stroke-dasharray="1 342 1 12 1 457"/><path d="M425 78.5h1"/><path d="M48 79.5h202" stroke-dasharray="1 37 1 32 1 35 1 2 1 90 1 457"/><path d="M179 80.5h164" stroke-dasharray="1 12 1 149 1 457"/><path d="M27 81.5h322" stroke-dasharray="1 151 1 101 1 45 1 20 1 457"/><path d="M6 82.5h420" stroke-dasharray="1 38 1 85 1 72 1 90 1 67 1 61 1 457"/><path d="M109 83.5h344" stroke-dasharray="1 27 1 287 1 26 1 457"/><path d="M0 84.5h376" stroke-dasharray="1 16 1 19 1 65 1 12 1 132 1 1 1 83 1 19 1 19 1 457"/><path d="M105 85.5h1"/><path d="M205 86.5h1"/><path d="M11 87.5h235" stroke-dasharray="1 5 1 28 1 37 1 79 1 80 1 457"/><path d="M3 88.5h418" stroke-dasharray="1 219 1 196 1 457"/><path d="M59 89.5h223" stroke-dasharray="1 118 1 35 1 14 1 50 2 457"/><path d="M39 90.5h176" stroke-dasharray="1 1 1 172 1 457"/><path d="M131 91.5h273" stroke-dasharray="1 133 1 32 1 49 1 54 1 457"/><path d="M123 92.5h186" stroke-dasharray="1 164 1 19 1 457"/><path d="M27 93.5h288" stroke-dasharray="1 1 1 104 1 77 1 13 1 73 1 13 1 457"/><path d="M212 94.5h129" stroke-dasharray="1 25 1 75 1 12 1 12 1 457"/><path d="M82 95.5h247" stroke-dasharray="1 143 1 83 1 11 1 5 1 457"/><path d="M13 96.5h346" stroke-dasharray="1 200 1 100 1 13 1 6 1 12 1 6 1 1 1 457"/><path d="M60 97.5h367" stroke-dasharray="1 173 1 59 1 10 1 14 1 7 1 81 1 15 1 457"/><path d="M21 98.5h414" stroke-dasharray="1 72 1 59 1 79 1 11 1 1 1 14 1 56 1 17 1 13 1 81 1 457"/><path d="M13 99.5h340" stroke-dasharray="1 33 1 66 1 31 1 11 1 40 1 10 1 15 1 102 1 18 1 3 1 457"/><path d="M14 100.5h307" stroke-dasharray="1 52 1 56 1 195 1 457"/><path d="M144 101.5h200" stroke-dasharray="1 43 1 11 1 111 1 1 1 5 1 22 1 457"/><path d="M23 102.5h332" stroke-dasharray="1 4 1 3 1 7 1 84 1 26 1 6 1 18 1 131 1 19 1 5 1 1 1 7 1 7 1 457"/><path d="M13 103.5h430" stroke-dasharray="2 5 1 2 1 7 1 6 1 12 1 1 1 4 1 3 1 67 3 2 1 5 1 2 1 1 1 4 1 1 1 5 1 3 1 2 1 1 1 130 1 13 1 12 1 22 1 8 1 17 1 63 1 1 1 457"/><path d="M1 104.5h441" stroke-dasharray="1 13 1 24 1 8 1 68 1 6 1 1 1 15 1 2 1 4 1 1 1 1 1 4 1 8 1 4 1 5 1 125 1 5 1 3 1 29 1 93 2 457"/><path d="M22 105.5h365" stroke-dasharray="1 24 1 2 1 80 1 3 1 1 1 5 2 10 1 2 1 7 2 3 1 5 1 114 1 21 1 50 1 20 1 457"/><path d="M27 106.5h410" stroke-dasharray="1 12 1 78 1 4 1 1 2 2 2 3 2 1 1 6 1 16 2 2 1 149 1 114 1 4 1 457"/><path d="M3 107.5h346" stroke-dasharray="1 13 1 24 1 4 1 79 1 8 1 4 1 5 1 10 2 2 1 2 1 174 1 7 1 457"/><path d="M31 108.5h407" stroke-dasharray="1 6 1 11 3 76 1 1 1 2 1 2 1 12 1 7 1 2 1 275 1 457"/><path d="M12 109.5h337" stroke-dasharray="1 3 1 6 1 17 1 1 1 93 1 5 1 1 1 184 1 13 1 1 1 1 1 457"/><path d="M3 110.5h432" stroke-dasharray="1 39 1 5 1 91 2 12 1 2 1 177 1 97 1 457"/><path d="M41 111.5h116" stroke-dasharray="1 1 1 2 2 96 3 3 1 3 1 1 1 457"/><path d="M15 112.5h363" stroke-dasharray="1 19 1 312 1 28 1 457"/><path d="M32 113.5h349" stroke-dasharray="1 3 1 5 1 100 1 5 1 230 1 457"/><path d="M8 114.5h141" stroke-dasharray="1 24 1 111 2 1 1 457"/><path d="M7 115.5h32" stroke-dasharray="1 1 1 10 1 3 1 11 1 1 1 457"/><path d="M12 116.5h27" stroke-dasharray="1 12 1 4 1 7 1 457"/><path d="M7 117.5h8" stroke-dasharray="1 1 1 1 1 2 1 457"/><path d="M6 118.5h26" stroke-dasharray="1 17 2 5 1 457"/><path d="M8 119.5h6" stroke-dasharray="1 2 1 1 1 457"/><path d="M10 120.5h11" stroke-dasharray="1 6 1 1 2 457"/><path d="M11 121.5h20" stroke-dasharray="3 2 1 12 2 457"/></g><g stroke="#1ce725"><path d="M32 22.5h108" stroke-dasharray="1 44 1 61 1 457"/><path d="M147 23.5h1"/><path d="M30 24.5h337" stroke-dasharray="1 15 1 92 1 90 1 6 1 42 1 66 1 18 1 457"/><path d="M43 25.5h396" stroke-dasharray="1 122 1 13 1 52 1 16 1 51 1 9 2 4 1 119 1 457"/><path d="M93 26.5h259" stroke-dasharray="1 50 1 9 1 78 1 15 1 18 1 11 1 2 1 67 1 457"/><path d="M224 27.5h223" stroke-dasharray="1 12 1 37 1 126 1 43 1 457"/><path d="M52 28.5h310" stroke-dasharray="1 6 1 44 1 47 1 21 1 5 1 6 1 32 1 2 1 4 1 71 1 60 1 457"/><path d="M10 29.5h361" stroke-dasharray="1 71 1 39 1 64 1 3 1 45 1 5 2 65 1 59 1 457"/><path d="M6 30.5h396" stroke-dasharray="1 25 1 12 1 167 1 33 1 153 1 457"/><path d="M105 31.5h268" stroke-dasharray="1 69 1 7 1 74 1 49 1 63 1 457"/><path d="M45 32.5h332" stroke-dasharray="1 60 1 116 1 7 1 12 1 40 1 10 1 35 1 43 1 457"/><path d="M325 33.5h88" stroke-dasharray="1 86 1 457"/><path d="M13 34.5h342" stroke-dasharray="1 185 1 41 1 77 1 9 1 24 1 457"/><path d="M13 35.5h320" stroke-dasharray="1 118 1 36 1 18 1 113 1 29 1 457"/><path d="M116 36.5h196" stroke-dasharray="1 11 1 16 1 40 1 1 1 122 1 457"/><path d="M204 37.5h134" stroke-dasharray="1 9 1 122 1 457"/><path d="M117 38.5h174" stroke-dasharray="1 81 1 90 1 457"/><path d="M218 39.5h228" stroke-dasharray="1 4 1 34 1 34 1 151 1 457"/><path d="M134 40.5h218" stroke-dasharray="1 93 1 122 1 457"/><path d="M108 41.5h142" stroke-dasharray="1 61 1 3 1 74 1 457"/><path d="M46 42.5h311" stroke-dasharray="1 150 1 116 1 41 1 457"/><path d="M60 43.5h263" stroke-dasharray="1 40 1 155 1 64 1 457"/><path d="M116 44.5h189" stroke-dasharray="1 55 1 3 1 49 1 18 1 42 1 15 1 457"/><path d="M170 45.5h253" stroke-dasharray="1 22 1 76 1 33 1 31 1 85 1 457"/><path d="M41 46.5h275" stroke-dasharray="1 91 1 124 1 56 1 457"/><path d="M84 47.5h154" stroke-dasharray="1 57 1 93 2 457"/><path d="M310 48.5h35" stroke-dasharray="1 33 1 457"/><path d="M54 49.5h286" stroke-dasharray="1 83 1 73 1 18 1 107 1 457"/><path d="M29 50.5h175" stroke-dasharray="1 94 1 50 1 24 1 2 1 457"/><path d="M173 51.5h148" stroke-dasharray="1 85 1 60 1 457"/><path d="M164 52.5h285" stroke-dasharray="1 134 1 27 1 120 1 457"/><path d="M148 53.5h132" stroke-dasharray="1 21 1 7 1 100 1 457"/><path d="M123 54.5h157" stroke-dasharray="1 22 1 2 1 32 1 96 1 457"/><path d="M42 55.5h345" stroke-dasharray="1 218 1 81 1 42 1 457"/><path d="M76 56.5h197" stroke-dasharray="1 91 1 97 1 5 1 457"/><path d="M30 57.5h271" stroke-dasharray="1 45 1 82 1 140 1 457"/><path d="M149 58.5h150" stroke-dasharray="1 2 1 26 1 108 1 9 1 457"/><path d="M37 59.5h280" stroke-dasharray="1 2 1 7 1 152 2 41 1 71 1 457"/><path d="M33 60.5h76" stroke-dasharray="1 12 1 61 1 457"/><path d="M313 61.5h21" stroke-dasharray="1 19 1 457"/><path d="M43 62.5h244" stroke-dasharray="1 62 1 47 1 21 1 54 1 54 1 457"/><path d="M256 63.5h1"/><path d="M130 64.5h197" stroke-dasharray="1 25 1 50 1 15 3 100 1 457"/><path d="M224 65.5h144" stroke-dasharray="1 77 1 64 1 457"/><path d="M330 66.5h117" stroke-dasharray="1 115 1 457"/><path d="M29 67.5h256" stroke-dasharray="1 45 1 1 1 42 1 115 1 8 1 38 1 457"/><path d="M87 68.5h264" stroke-dasharray="1 20 1 109 2 8 1 35 1 85 1 457"/><path d="M82 69.5h226" stroke-dasharray="1 19 1 23 1 105 1 25 1 48 1 457"/><path d="M1 70.5h207" stroke-dasharray="1 80 1 53 1 16 1 4 1 48 1 457"/><path d="M66 71.5h209" stroke-dasharray="1 60 1 21 1 4 1 119 1 457"/><path d="M35 72.5h259" stroke-dasharray="1 188 1 68 1 457"/><path d="M60 73.5h274" stroke-dasharray="2 81 1 12 1 24 1 78 1 66 1 5 1 457"/><path d="M145 74.5h168" stroke-dasharray="1 145 1 20 1 457"/><path d="M159 75.5h1"/><path d="M5 76.5h372" stroke-dasharray="1 50 1 89 1 56 1 44 1 81 1 45 1 457"/><path d="M69 77.5h23" stroke-dasharray="1 21 1 457"/><path d="M134 78.5h286" stroke-dasharray="1 8 1 275 1 457"/><path d="M46 79.5h309" stroke-dasharray="1 14 1 23 1 56 1 146 1 41 1 22 1 457"/><path d="M83 80.5h271" stroke-dasharray="1 33 1 23 1 9 1 5 1 1 1 9 1 124 1 26 1 31 1 457"/><path d="M33 81.5h393" stroke-dasharray="1 33 1 110 1 41 1 125 1 19 1 58 1 457"/><path d="M17 82.5h227" stroke-dasharray="1 31 1 44 1 67 1 80 1 457"/><path d="M86 83.5h229" stroke-dasharray="1 53 1 42 1 115 1 14 1 457"/><path d="M67 84.5h268" stroke-dasharray="1 26 1 16 1 7 1 139 1 10 1 19 1 17 1 1 1 23 1 457"/><path d="M36 85.5h389" stroke-dasharray="1 84 1 45 1 98 1 56 1 100 1 457"/><path d="M14 86.5h411" stroke-dasharray="1 320 1 22 1 65 1 457"/><path d="M91 87.5h340" stroke-dasharray="1 97 1 13 1 50 1 4 1 66 1 103 1 457"/><path d="M38 88.5h392" stroke-dasharray="1 287 1 102 1 457"/><path d="M92 89.5h351" stroke-dasharray="1 39 1 113 1 195 1 457"/><path d="M46 91.5h47" stroke-dasharray="1 45 1 457"/><path d="M36 92.5h196" stroke-dasharray="1 84 1 19 1 89 1 457"/><path d="M55 93.5h289" stroke-dasharray="1 88 1 198 1 457"/><path d="M22 94.5h317" stroke-dasharray="1 9 1 22 1 18 1 15 1 18 1 116 1 21 1 8 1 19 1 60 1 457"/><path d="M294 95.5h39" stroke-dasharray="1 37 1 457"/><path d="M19 96.5h429" stroke-dasharray="1 33 1 115 1 95 1 50 1 7 1 122 1 457"/><path d="M214 97.5h139" stroke-dasharray="1 33 1 65 1 31 1 5 1 457"/><path d="M151 98.5h208" stroke-dasharray="1 105 1 100 1 457"/><path d="M150 99.5h183" stroke-dasharray="1 10 1 150 1 19 1 457"/><path d="M75 100.5h74" stroke-dasharray="1 7 1 17 1 44 1 1 1 457"/><path d="M124 101.5h1"/><path d="M1 102.5h350" stroke-dasharray="1 7 1 2 1 3 1 1 1 16 2 10 1 2 1 83 1 1 1 4 2 8 1 11 1 3 1 1 1 4 1 133 1 7 1 3 1 29 1 457"/><path d="M0 103.5h363" stroke-dasharray="1 11 1 2 1 2 1 2 1 26 1 5 1 4 1 53 1 5 1 4 1 11 1 1 3 6 1 1 1 10 1 9 3 9 1 146 1 1 1 4 1 3 1 7 1 13 1 457"/><path d="M38 104.5h407" stroke-dasharray="1 16 6 52 1 8 2 14 1 3 1 6 1 14 1 1 1 151 1 15 1 103 1 5 1 457"/><path d="M53 105.5h389" stroke-dasharray="1 66 1 5 1 1 1 1 1 1 1 7 1 1 1 29 1 2 1 121 1 14 1 7 1 49 1 65 1 4 1 457"/><path d="M122 106.5h314" stroke-dasharray="1 6 1 7 1 14 1 12 1 3 1 2 1 2 1 134 1 7 1 1 1 7 1 19 1 86 1 457"/><path d="M50 107.5h387" stroke-dasharray="1 2 2 66 1 1 1 8 1 1 1 26 1 1 1 9 1 137 1 19 1 52 1 51 1 457"/><path d="M2 108.5h433" stroke-dasharray="1 36 1 5 1 80 1 3 1 1 1 8 1 23 1 204 1 62 2 457"/><path d="M47 109.5h388" stroke-dasharray="1 84 1 1 1 16 1 282 1 457"/><path d="M2 110.5h345" stroke-dasharray="1 2 1 38 1 1 2 91 1 206 1 457"/><path d="M3 111.5h150" stroke-dasharray="1 24 1 15 1 92 1 3 1 1 1 8 1 457"/><path d="M18 112.5h346" stroke-dasharray="1 22 1 3 1 92 1 4 1 8 1 197 1 12 1 457"/><path d="M20 113.5h128" stroke-dasharray="1 18 3 99 1 4 2 457"/><path d="M147 114.5h7" stroke-dasharray="1 5 1 457"/><path d="M6 115.5h146" stroke-dasharray="1 144 1 457"/><path d="M31 116.5h1"/><path d="M26 117.5h9" stroke-dasharray="1 7 1 457"/><path d="M12 118.5h18" stroke-dasharray="1 8 1 7 1 457"/><path d="M7 119.5h25" stroke-dasharray="1 23 1 457"/><path d="M29 120.5h3" stroke-dasharray="1 1 1 457"/><path d="M14 121.5h12" stroke-dasharray="1 5 2 3 1 457"/></g><g stroke="#32e81e"><path d="M40 23.5h184" stroke-dasharray="1 92 1 65 1 23 1 457"/><path d="M24 24.5h307" stroke-dasharray="1 22 1 23 1 6 1 70 1 3 1 9 1 9 1 1 1 5 1 17 1 3 1 5 1 38 1 2 1 7 1 8 1 24 1 20 1 6 1 8 1 457"/><path d="M26 25.5h345" stroke-dasharray="1 64 1 7 1 53 1 3 1 15 1 12 1 1 1 5 1 13 1 20 1 4 1 9 1 33 1 3 2 10 1 8 1 15 1 23 1 26 1 457"/><path d="M117 26.5h329" stroke-dasharray="1 14 1 7 1 20 1 5 1 32 1 11 1 12 1 8 1 11 1 10 1 5 1 11 1 12 1 14 1 22 1 6 1 8 1 102 1 457"/><path d="M67 27.5h283" stroke-dasharray="1 93 1 6 1 23 1 6 1 16 1 2 2 11 1 8 1 11 1 24 1 18 1 51 1 457"/><path d="M111 28.5h200" stroke-dasharray="1 21 1 12 1 8 1 2 1 11 1 41 1 4 1 16 1 22 1 6 1 6 1 36 1 1 1 457"/><path d="M52 29.5h292" stroke-dasharray="1 19 1 13 1 17 1 2 1 34 1 5 1 2 1 4 1 23 1 25 1 7 1 4 2 6 1 62 1 8 1 37 1 5 1 457"/><path d="M155 30.5h205" stroke-dasharray="1 27 2 6 1 59 1 1 1 16 1 51 1 36 1 457"/><path d="M43 31.5h326" stroke-dasharray="1 107 1 8 1 18 1 12 1 5 1 21 1 17 1 1 1 1 2 32 1 10 1 32 1 36 1 10 1 457"/><path d="M150 32.5h219" stroke-dasharray="2 25 1 6 1 7 1 16 1 10 1 8 1 124 1 13 1 457"/><path d="M105 33.5h249" stroke-dasharray="1 93 1 16 1 12 1 8 1 47 1 43 1 12 1 9 1 457"/><path d="M41 34.5h261" stroke-dasharray="1 5 1 58 1 194 1 457"/><path d="M118 35.5h205" stroke-dasharray="1 30 1 20 1 19 1 7 1 30 1 4 1 48 1 38 1 457"/><path d="M39 36.5h370" stroke-dasharray="1 121 1 19 1 33 1 29 1 17 1 29 1 15 1 98 1 457"/><path d="M106 37.5h241" stroke-dasharray="1 51 1 19 1 42 1 22 1 101 1 457"/><path d="M186 38.5h112" stroke-dasharray="1 29 1 39 1 40 1 457"/><path d="M31 39.5h309" stroke-dasharray="1 29 1 74 1 14 1 24 1 4 1 3 1 18 1 85 1 48 1 457"/><path d="M150 40.5h162" stroke-dasharray="1 125 1 34 1 457"/><path d="M34 41.5h308" stroke-dasharray="1 15 1 83 1 101 1 24 1 1 1 2 1 44 1 29 1 457"/><path d="M133 42.5h240" stroke-dasharray="1 50 1 7 1 10 1 26 1 7 1 11 1 121 1 457"/><path d="M141 43.5h149" stroke-dasharray="1 45 1 10 1 23 1 5 1 1 1 1 1 3 2 9 1 1 1 11 1 4 1 22 1 457"/><path d="M110 44.5h232" stroke-dasharray="1 91 1 16 1 4 1 3 3 3 1 41 1 44 1 19 1 457"/><path d="M115 45.5h212" stroke-dasharray="1 19 1 62 1 27 2 3 1 1 2 1 1 11 1 1 1 62 1 12 1 457"/><path d="M155 46.5h168" stroke-dasharray="1 52 1 6 1 10 1 3 1 1 1 1 1 2 1 11 1 10 1 19 1 41 1 457"/><path d="M52 47.5h194" stroke-dasharray="1 33 1 108 1 33 2 1 1 12 1 457"/><path d="M58 48.5h168" stroke-dasharray="1 66 1 22 1 43 1 20 1 11 1 457"/><path d="M128 49.5h254" stroke-dasharray="1 22 1 19 1 22 1 18 1 28 1 138 1 457"/><path d="M53 50.5h301" stroke-dasharray="1 82 1 53 1 1 1 11 1 5 2 38 1 97 1 4 1 457"/><path d="M39 51.5h276" stroke-dasharray="1 92 1 2 1 12 1 7 1 17 1 1 1 1 1 85 1 49 1 457"/><path d="M54 52.5h248" stroke-dasharray="1 93 1 22 1 18 1 96 1 13 1 457"/><path d="M163 53.5h197" stroke-dasharray="1 5 1 44 1 47 1 90 1 5 1 457"/><path d="M153 54.5h77" stroke-dasharray="1 23 2 1 1 48 1 457"/><path d="M14 55.5h344" stroke-dasharray="1 24 1 121 1 104 1 23 1 12 1 9 1 43 1 457"/><path d="M153 56.5h284" stroke-dasharray="1 7 1 3 1 4 1 6 1 10 1 12 1 27 1 45 1 2 1 6 1 9 1 3 1 136 1 457"/><path d="M166 57.5h179" stroke-dasharray="1 149 1 27 1 457"/><path d="M177 58.5h164" stroke-dasharray="1 38 1 17 1 105 1 457"/><path d="M34 59.5h298" stroke-dasharray="1 51 1 25 1 25 1 66 1 28 1 18 1 77 1 457"/><path d="M147 60.5h112" stroke-dasharray="1 14 1 19 1 33 2 14 1 8 1 16 1 457"/><path d="M88 61.5h225" stroke-dasharray="1 35 1 19 2 64 1 47 1 53 1 457"/><path d="M46 62.5h200" stroke-dasharray="1 97 1 25 1 7 1 11 1 2 1 46 1 4 1 457"/><path d="M95 63.5h254" stroke-dasharray="1 12 2 77 1 21 1 8 1 1 1 16 1 1 1 69 1 12 1 13 1 11 1 457"/><path d="M56 64.5h294" stroke-dasharray="1 7 1 72 1 22 1 4 1 24 1 27 1 22 2 106 1 457"/><path d="M43 65.5h322" stroke-dasharray="1 163 1 128 1 7 1 7 1 11 1 457"/><path d="M11 66.5h301" stroke-dasharray="1 35 1 6 1 48 1 30 1 22 1 27 1 25 1 8 1 9 1 3 1 6 1 2 1 66 1 457"/><path d="M4 67.5h245" stroke-dasharray="1 46 1 6 1 78 1 32 1 24 1 2 1 22 1 8 1 3 2 7 1 4 1 457"/><path d="M124 68.5h303" stroke-dasharray="1 17 1 14 1 11 1 23 1 2 1 17 1 7 1 30 1 98 1 73 1 457"/><path d="M35 69.5h330" stroke-dasharray="1 25 1 68 2 3 1 54 1 14 1 2 1 15 1 4 1 15 1 65 1 24 1 27 1 457"/><path d="M16 70.5h283" stroke-dasharray="1 112 1 32 1 32 1 102 1 457"/><path d="M1 71.5h355" stroke-dasharray="1 46 1 111 1 15 1 25 1 11 1 7 1 72 1 59 1 457"/><path d="M64 72.5h251" stroke-dasharray="1 69 1 5 1 40 1 35 1 15 1 70 1 9 1 457"/><path d="M32 73.5h251" stroke-dasharray="1 125 1 1 1 77 1 26 1 16 1 457"/><path d="M92 74.5h239" stroke-dasharray="1 103 1 2 1 7 1 25 1 67 1 28 1 457"/><path d="M10 75.5h294" stroke-dasharray="1 16 1 58 1 47 1 1 1 28 1 15 1 19 1 9 1 2 1 10 1 2 1 74 1 457"/><path d="M32 76.5h272" stroke-dasharray="1 61 1 5 1 34 1 12 2 7 1 10 1 20 1 15 1 7 1 15 1 34 1 38 1 457"/><path d="M47 77.5h300" stroke-dasharray="1 12 1 7 1 43 1 34 1 19 1 20 1 75 1 20 1 60 1 457"/><path d="M46 78.5h289" stroke-dasharray="1 116 1 4 1 24 1 15 1 6 1 41 1 7 1 19 1 25 1 11 1 9 1 457"/><path d="M135 79.5h291" stroke-dasharray="1 10 1 67 1 15 1 20 1 173 1 457"/><path d="M238 80.5h10" stroke-dasharray="1 8 1 457"/><path d="M58 81.5h269" stroke-dasharray="1 65 1 9 1 1 1 20 1 29 1 4 1 9 1 29 1 93 1 457"/><path d="M132 82.5h309" stroke-dasharray="1 103 1 1 1 19 1 7 1 10 1 36 1 125 1 457"/><path d="M122 83.5h243" stroke-dasharray="1 9 1 15 1 7 1 1 1 8 1 19 1 25 1 6 1 12 1 8 1 3 1 8 1 7 1 48 1 51 1 457"/><path d="M52 84.5h267" stroke-dasharray="1 83 1 7 1 8 1 16 1 35 1 31 1 3 1 41 1 33 1 457"/><path d="M18 85.5h322" stroke-dasharray="1 22 1 90 1 4 1 12 1 26 1 47 1 27 1 84 2 457"/><path d="M36 86.5h278" stroke-dasharray="1 39 1 57 1 43 1 12 1 121 1 457"/><path d="M154 87.5h169" stroke-dasharray="1 3 1 15 1 6 1 46 1 35 1 55 1 1 1 457"/><path d="M13 88.5h218" stroke-dasharray="1 1 1 29 1 58 1 27 1 47 1 11 1 22 1 10 1 3 1 457"/><path d="M10 89.5h393" stroke-dasharray="1 100 1 5 1 2 1 39 1 5 1 27 1 2 1 2 1 18 1 12 1 26 1 42 1 15 1 83 1 457"/><path d="M16 90.5h316" stroke-dasharray="1 13 1 29 1 43 1 17 1 21 1 5 1 56 1 46 1 76 1 457"/><path d="M53 91.5h306" stroke-dasharray="1 36 1 9 1 56 1 5 2 31 1 27 1 6 1 25 1 18 1 26 1 12 1 17 1 6 1 16 1 457"/><path d="M50 92.5h294" stroke-dasharray="1 7 3 43 1 17 1 1 1 6 1 3 1 25 1 1 1 4 1 18 1 22 1 6 1 17 1 28 1 51 1 26 1 457"/><path d="M43 93.5h298" stroke-dasharray="1 46 1 56 1 17 1 18 2 2 1 13 1 6 1 13 1 9 1 1 1 14 1 89 1 457"/><path d="M40 94.5h315" stroke-dasharray="1 4 1 58 1 39 1 46 1 27 1 15 1 15 1 16 1 39 1 36 1 8 1 457"/><path d="M114 95.5h149" stroke-dasharray="1 17 1 5 1 15 1 35 1 30 1 2 1 3 1 3 1 7 1 1 1 9 1 9 1 457"/><path d="M74 96.5h287" stroke-dasharray="1 25 1 36 1 74 1 34 1 5 1 3 1 1 1 40 1 7 1 1 1 1 1 5 1 1 1 9 1 1 1 27 1 457"/><path d="M37 97.5h314" stroke-dasharray="1 4 1 69 1 43 1 4 1 3 1 7 1 8 2 16 1 137 1 11 1 457"/><path d="M35 98.5h418" stroke-dasharray="1 28 1 16 1 46 1 98 1 21 1 16 1 81 1 76 1 26 1 457"/><path d="M246 99.5h92" stroke-dasharray="1 37 1 21 1 13 1 13 1 2 1 457"/><path d="M2 100.5h363" stroke-dasharray="1 29 1 11 1 15 1 83 1 146 1 2 1 10 1 6 1 51 1 457"/><path d="M12 101.5h438" stroke-dasharray="1 21 1 9 1 12 1 10 1 40 1 8 1 15 1 13 1 7 1 10 1 4 1 2 1 8 1 9 1 2 1 55 1 5 1 1 1 22 1 43 1 3 1 5 1 17 1 89 1 2 1 457"/><path d="M3 102.5h449" stroke-dasharray="1 2 3 1 1 2 2 10 1 11 1 6 3 1 1 65 2 8 1 7 1 6 1 3 1 10 1 5 1 16 1 1 1 134 1 3 1 124 2 5 2 457"/><path d="M16 103.5h430" stroke-dasharray="1 22 1 7 1 63 1 4 3 1 3 2 1 3 1 4 1 2 1 5 1 30 1 3 1 2 1 124 1 15 1 9 1 112 1 457"/><path d="M110 104.5h211" stroke-dasharray="1 1 1 6 2 5 1 1 1 3 1 2 1 8 1 2 1 13 1 5 2 1 1 2 1 2 2 1 1 2 2 130 1 5 1 457"/><path d="M1 105.5h437" stroke-dasharray="1 55 2 58 1 38 1 3 1 18 1 176 1 77 2 1 1 457"/><path d="M54 106.5h385" stroke-dasharray="1 65 1 25 1 3 1 4 1 3 2 7 1 1 1 3 1 1 1 127 1 4 1 4 1 123 1 457"/><path d="M1 107.5h432" stroke-dasharray="1 118 1 3 3 1 2 20 1 3 1 11 2 6 2 145 1 6 1 33 1 69 1 457"/><path d="M7 108.5h429" stroke-dasharray="1 41 1 77 1 15 1 13 1 1 1 4 1 4 1 164 1 3 1 3 1 5 1 82 2 2 1 457"/><path d="M24 109.5h410" stroke-dasharray="1 23 1 1 1 76 1 1 1 1 1 1 1 1 1 4 1 19 1 2 1 153 1 19 1 90 1 1 2 1 1 457"/><path d="M130 110.5h302" stroke-dasharray="1 2 1 1 1 1 1 13 1 9 1 208 1 60 1 457"/><path d="M134 111.5h213" stroke-dasharray="1 22 1 188 1 457"/><path d="M3 112.5h384" stroke-dasharray="1 133 1 1 1 2 1 5 1 4 1 232 1 457"/><path d="M155 113.5h2"/><path d="M4 114.5h147" stroke-dasharray="1 36 1 102 1 4 2 457"/><path d="M146 115.5h8" stroke-dasharray="1 5 2 457"/><path d="M40 116.5h114" stroke-dasharray="1 112 1 457"/><path d="M36 117.5h1"/><path d="M34 118.5h1"/><path d="M21 119.5h1"/><path d="M8 120.5h21" stroke-dasharray="1 2 1 6 1 9 1 457"/><path d="M19 121.5h1"/></g><g stroke="#50e819"><path d="M48 22.5h1"/><path d="M139 23.5h43" stroke-dasharray="1 6 1 34 1 457"/><path d="M53 24.5h169" stroke-dasharray="1 2 1 87 1 10 1 38 1 11 1 14 1 457"/><path d="M127 25.5h218" stroke-dasharray="1 41 1 29 1 9 2 10 1 13 1 15 1 1 1 57 1 32 1 457"/><path d="M175 26.5h194" stroke-dasharray="1 16 1 13 1 21 1 11 1 4 1 28 1 16 1 76 1 457"/><path d="M166 27.5h139" stroke-dasharray="1 34 1 4 1 38 1 58 1 457"/><path d="M184 28.5h153" stroke-dasharray="1 42 1 18 1 9 1 15 1 33 1 15 1 13 1 457"/><path d="M209 29.5h120" stroke-dasharray="1 7 1 30 1 9 1 9 1 43 1 7 1 1 1 5 1 457"/><path d="M220 30.5h66" stroke-dasharray="1 64 1 457"/><path d="M201 31.5h36" stroke-dasharray="1 34 1 457"/><path d="M256 32.5h71" stroke-dasharray="1 69 1 457"/><path d="M161 33.5h44" stroke-dasharray="1 21 1 20 1 457"/><path d="M170 34.5h1"/><path d="M167 35.5h173" stroke-dasharray="1 43 1 127 1 457"/><path d="M163 36.5h118" stroke-dasharray="1 23 1 38 1 53 1 457"/><path d="M227 37.5h78" stroke-dasharray="1 40 1 28 1 6 1 457"/><path d="M142 38.5h97" stroke-dasharray="1 54 1 40 1 457"/><path d="M197 39.5h1"/><path d="M130 40.5h210" stroke-dasharray="1 34 1 60 1 112 1 457"/><path d="M37 41.5h194" stroke-dasharray="1 133 1 25 1 4 1 27 1 457"/><path d="M329 42.5h1"/><path d="M153 43.5h90" stroke-dasharray="1 35 1 43 1 8 1 457"/><path d="M233 44.5h4" stroke-dasharray="1 2 1 457"/><path d="M166 46.5h64" stroke-dasharray="1 61 2 457"/><path d="M155 47.5h168" stroke-dasharray="1 43 1 26 2 94 1 457"/><path d="M155 48.5h166" stroke-dasharray="1 34 1 129 1 457"/><path d="M156 49.5h7" stroke-dasharray="1 5 1 457"/><path d="M20 50.5h261" stroke-dasharray="1 126 1 58 1 10 1 62 1 457"/><path d="M184 51.5h45" stroke-dasharray="1 1 1 41 1 457"/><path d="M172 52.5h18" stroke-dasharray="1 16 1 457"/><path d="M203 53.5h6" stroke-dasharray="1 4 1 457"/><path d="M50 54.5h223" stroke-dasharray="1 221 1 457"/><path d="M46 55.5h175" stroke-dasharray="1 93 1 41 1 37 1 457"/><path d="M18 56.5h214" stroke-dasharray="1 109 1 102 1 457"/><path d="M42 57.5h197" stroke-dasharray="1 144 1 15 1 34 1 457"/><path d="M84 58.5h252" stroke-dasharray="1 3 1 65 1 14 1 6 1 23 1 134 1 457"/><path d="M183 59.5h84" stroke-dasharray="1 82 1 457"/><path d="M93 60.5h185" stroke-dasharray="1 73 1 13 1 95 1 457"/><path d="M236 61.5h69" stroke-dasharray="1 8 1 9 1 48 1 457"/><path d="M119 62.5h220" stroke-dasharray="1 28 1 7 1 20 1 27 1 21 1 62 1 47 1 457"/><path d="M163 63.5h106" stroke-dasharray="1 62 1 41 1 457"/><path d="M39 64.5h293" stroke-dasharray="1 111 1 7 1 36 1 13 1 5 1 114 1 457"/><path d="M220 65.5h74" stroke-dasharray="1 6 1 10 1 9 1 27 1 16 1 457"/><path d="M184 66.5h95" stroke-dasharray="1 8 1 38 1 45 1 457"/><path d="M131 67.5h114" stroke-dasharray="1 42 1 6 1 62 1 457"/><path d="M148 68.5h155" stroke-dasharray="1 5 1 11 1 17 1 36 1 80 1 457"/><path d="M138 69.5h189" stroke-dasharray="1 32 1 24 1 3 1 125 1 457"/><path d="M142 70.5h132" stroke-dasharray="1 9 1 84 1 35 1 457"/><path d="M137 72.5h32" stroke-dasharray="1 8 1 21 1 457"/><path d="M147 73.5h192" stroke-dasharray="1 18 1 6 1 30 1 28 1 58 1 45 1 457"/><path d="M26 74.5h286" stroke-dasharray="1 99 1 56 1 127 1 457"/><path d="M171 75.5h82" stroke-dasharray="1 17 2 4 1 6 1 49 1 457"/><path d="M181 76.5h42" stroke-dasharray="1 11 1 28 1 457"/><path d="M180 77.5h75" stroke-dasharray="1 35 1 7 1 29 1 457"/><path d="M93 78.5h127" stroke-dasharray="1 124 2 457"/><path d="M197 79.5h1"/><path d="M2 80.5h424" stroke-dasharray="1 179 1 45 1 127 1 68 1 457"/><path d="M135 81.5h14" stroke-dasharray="1 12 1 457"/><path d="M68 82.5h270" stroke-dasharray="1 71 1 8 1 34 1 16 1 8 1 126 1 457"/><path d="M168 83.5h74" stroke-dasharray="1 45 1 13 1 12 1 457"/><path d="M36 84.5h413" stroke-dasharray="1 137 1 53 1 8 1 112 1 97 1 457"/><path d="M106 85.5h183" stroke-dasharray="1 26 1 20 1 26 1 5 1 7 1 7 1 2 1 52 1 28 1 457"/><path d="M72 86.5h130" stroke-dasharray="1 59 1 24 1 43 1 457"/><path d="M145 87.5h166" stroke-dasharray="1 7 1 72 1 6 1 73 1 2 1 457"/><path d="M217 88.5h98" stroke-dasharray="1 10 1 85 1 457"/><path d="M70 89.5h162" stroke-dasharray="1 53 1 2 1 16 1 51 1 34 1 457"/><path d="M132 90.5h118" stroke-dasharray="1 78 1 10 1 26 1 457"/><path d="M151 91.5h109" stroke-dasharray="1 17 1 8 1 10 1 35 1 9 1 7 1 15 1 457"/><path d="M110 92.5h152" stroke-dasharray="1 41 1 4 1 4 1 66 1 31 1 457"/><path d="M134 94.5h80" stroke-dasharray="1 57 1 9 2 9 1 457"/><path d="M70 95.5h292" stroke-dasharray="1 107 1 60 1 17 1 54 1 1 1 1 1 7 1 25 1 10 1 457"/><path d="M84 96.5h267" stroke-dasharray="1 39 1 58 1 55 1 9 1 11 1 60 1 23 1 3 1 457"/><path d="M128 97.5h214" stroke-dasharray="1 62 1 43 1 105 1 457"/><path d="M191 98.5h258" stroke-dasharray="1 20 1 5 1 4 1 32 1 191 1 457"/><path d="M2 99.5h455" stroke-dasharray="1 1 1 40 1 45 1 35 1 100 1 25 1 4 1 14 1 177 1 2 2 457"/><path d="M24 100.5h425" stroke-dasharray="2 10 1 83 1 15 1 23 1 11 1 1 1 32 1 62 1 177 1 457"/><path d="M55 101.5h398" stroke-dasharray="1 66 1 35 1 40 1 1 1 5 1 16 1 12 1 6 1 3 1 1 1 1 1 192 1 1 1 4 1 457"/><path d="M19 102.5h429" stroke-dasharray="2 1 1 3 1 7 1 3 1 13 1 1 1 2 1 6 1 47 1 4 1 9 1 3 1 5 2 1 1 4 1 1 1 1 1 6 1 4 2 5 1 4 1 1 2 117 1 42 1 108 2 457"/><path d="M7 103.5h443" stroke-dasharray="1 52 1 47 3 1 1 2 1 10 1 1 1 28 1 22 1 149 1 3 1 17 1 1 1 93 2 457"/><path d="M0 104.5h444" stroke-dasharray="1 60 1 90 1 4 1 7 1 5 1 6 1 2 1 168 1 92 1 457"/><path d="M109 105.5h336" stroke-dasharray="4 1 2 2 2 2 1 2 1 22 1 3 1 15 2 6 1 1 1 254 1 10 1 457"/><path d="M52 106.5h390" stroke-dasharray="1 86 1 14 1 16 1 1 1 125 1 132 2 3 1 3 1 457"/><path d="M52 107.5h386" stroke-dasharray="1 99 1 18 2 129 1 3 1 121 1 1 1 2 2 2 1 457"/><path d="M160 108.5h279" stroke-dasharray="1 1 1 3 2 138 2 1 1 117 1 1 1 6 1 1 1 457"/><path d="M49 109.5h389" stroke-dasharray="1 111 2 2 1 158 1 102 1 9 1 457"/><path d="M132 110.5h28" stroke-dasharray="1 7 1 16 1 1 1 457"/><path d="M45 111.5h91" stroke-dasharray="1 89 1 457"/><path d="M384 112.5h1"/><path d="M44 113.5h339" stroke-dasharray="1 99 1 3 1 4 2 227 1 457"/><path d="M4 115.5h146" stroke-dasharray="1 34 3 106 2 457"/><path d="M151 116.5h1"/><path d="M38 117.5h1"/><path d="M16 120.5h17" stroke-dasharray="1 15 1 457"/><path d="M26 121.5h3" stroke-dasharray="1 1 1 457"/></g><g stroke="#6ee814"><path d="M253 84.5h5" stroke-dasharray="1 3 1 457"/><path d="M237 85.5h25" stroke-dasharray="1 11 1 1 1 5 1 3 1 457"/><path d="M251 90.5h11" stroke-dasharray="1 7 1 1 1 457"/><path d="M245 91.5h7" stroke-dasharray="1 5 1 457"/><path d="M239 92.5h19" stroke-dasharray="1 3 1 2 2 9 1 457"/><path d="M241 96.5h112" stroke-dasharray="1 92 1 5 1 7 1 3 1 457"/><path d="M453 99.5h1"/><path d="M202 100.5h255" stroke-dasharray="1 10 1 7 2 4 1 3 1 219 1 4 1 457"/><path d="M74 101.5h375" stroke-dasharray="1 2 1 118 1 9 1 2 2 14 1 3 1 2 5 1 1 6 1 1 1 6 1 1 1 1 1 189 1 457"/><path d="M4 102.5h446" stroke-dasharray="1 12 1 6 1 2 1 2 2 1 1 8 2 9 1 1 2 6 1 2 1 38 1 7 1 4 2 1 2 6 1 3 1 1 1 8 1 1 1 1 1 6 1 8 1 6 1 11 1 148 1 108 2 6 1 457"/><path d="M57 103.5h385" stroke-dasharray="1 3 1 1 1 40 1 2 1 56 2 11 1 100 1 2 1 60 1 98 1 457"/><path d="M114 104.5h324" stroke-dasharray="1 2 1 176 1 140 1 1 1 457"/><path d="M113 105.5h328" stroke-dasharray="1 2 1 21 1 147 1 15 1 128 1 8 1 457"/><path d="M55 106.5h388" stroke-dasharray="2 61 1 2 1 55 2 115 1 11 1 122 1 12 1 457"/><path d="M51 107.5h389" stroke-dasharray="1 70 1 8 1 32 1 3 1 1 1 132 2 2 1 2 1 120 1 3 1 3 1 457"/><path d="M124 108.5h305" stroke-dasharray="1 187 1 2 1 112 1 457"/><path d="M136 109.5h303" stroke-dasharray="1 22 1 4 1 145 2 10 1 101 1 4 1 6 1 1 1 457"/><path d="M156 110.5h281" stroke-dasharray="1 3 1 267 1 3 1 3 1 457"/><path d="M139 111.5h297" stroke-dasharray="1 15 1 182 1 93 1 2 1 457"/><path d="M136 112.5h204" stroke-dasharray="1 202 1 457"/><path d="M139 113.5h209" stroke-dasharray="2 200 2 2 1 1 1 457"/><path d="M43 114.5h1"/><path d="M150 115.5h5" stroke-dasharray="1 3 1 457"/><path d="M5 116.5h1"/><path d="M37 117.5h1"/><path d="M36 118.5h1"/><path d="M34 119.5h1"/><path d="M9 121.5h19" stroke-dasharray="2 16 1 457"/></g><g stroke="#8eea0f"><path d="M233 84.5h23" stroke-dasharray="1 5 1 1 1 3 1 9 1 457"/><path d="M231 85.5h3" stroke-dasharray="1 1 1 457"/><path d="M232 90.5h12" stroke-dasharray="2 9 1 457"/><path d="M253 91.5h9" stroke-dasharray="1 1 1 5 1 457"/><path d="M237 92.5h23" stroke-dasharray="1 7 1 13 1 457"/><path d="M251 96.5h92" stroke-dasharray="1 3 1 86 1 457"/><path d="M456 98.5h1"/><path d="M199 100.5h255" stroke-dasharray="1 11 1 4 2 12 1 5 2 7 1 2 1 1 1 196 1 4 2 457"/><path d="M73 101.5h381" stroke-dasharray="1 5 2 2 1 3 1 114 1 1 2 2 1 3 1 1 2 1 2 2 1 5 1 2 1 24 1 4 1 189 1 2 1 457"/><path d="M0 102.5h449" stroke-dasharray="1 20 1 27 1 8 1 2 1 39 1 1 1 6 1 15 1 30 2 6 1 4 1 89 1 1 1 185 1 457"/><path d="M64 103.5h387" stroke-dasharray="1 37 2 1 2 7 1 64 1 3 1 92 2 10 1 21 1 1 1 15 1 21 1 88 1 3 1 3 1 2 1 457"/><path d="M105 104.5h342" stroke-dasharray="1 1 2 39 1 5 1 126 1 2 1 2 1 4 1 4 1 138 1 5 1 3 1 457"/><path d="M174 105.5h270" stroke-dasharray="1 5 1 109 1 4 2 4 1 130 1 6 1 3 1 457"/><path d="M117 106.5h318" stroke-dasharray="1 175 1 2 2 7 1 128 1 457"/><path d="M119 107.5h311" stroke-dasharray="1 28 1 151 1 4 1 2 2 5 1 113 1 457"/><path d="M125 108.5h302" stroke-dasharray="1 42 1 1 1 143 1 111 1 457"/><path d="M130 109.5h306" stroke-dasharray="1 178 1 16 1 98 1 9 1 457"/><path d="M48 110.5h388" stroke-dasharray="1 82 1 193 1 100 2 5 1 1 1 457"/><path d="M158 111.5h277" stroke-dasharray="1 275 1 457"/><path d="M338 112.5h4" stroke-dasharray="1 1 2 457"/><path d="M142 113.5h262" stroke-dasharray="1 195 3 2 1 59 1 457"/><path d="M155 114.5h1"/><path d="M147 115.5h1"/></g><g stroke="#afec0a"><path d="M231 84.5h17" stroke-dasharray="1 15 1 457"/><path d="M244 90.5h10" stroke-dasharray="2 7 1 457"/><path d="M237 91.5h8" stroke-dasharray="1 6 1 457"/><path d="M233 92.5h17" stroke-dasharray="1 7 1 7 1 457"/><path d="M231 96.5h108" stroke-dasharray="1 5 1 18 1 81 1 457"/><path d="M454 99.5h1"/><path d="M197 100.5h254" stroke-dasharray="1 8 1 2 1 5 1 2 1 5 2 3 1 2 1 1 2 2 7 4 1 2 1 3 1 192 2 457"/><path d="M76 101.5h380" stroke-dasharray="1 1 1 5 1 1 1 111 1 14 1 2 1 3 1 2 1 2 1 13 2 1 1 7 1 10 1 192 1 457"/><path d="M59 102.5h387" stroke-dasharray="1 2 1 2 1 40 4 10 1 2 1 4 1 1 1 50 2 76 1 1 1 13 1 164 1 4 1 457"/><path d="M152 103.5h169" stroke-dasharray="1 1 1 29 1 97 1 4 1 26 1 1 1 3 1 457"/><path d="M111 104.5h329" stroke-dasharray="1 38 1 128 2 10 1 4 1 142 1 457"/><path d="M154 105.5h289" stroke-dasharray="1 26 1 103 1 1 1 5 2 143 1 3 1 457"/><path d="M115 106.5h329" stroke-dasharray="1 32 1 138 1 4 1 5 1 1 3 136 1 3 1 457"/><path d="M301 107.5h141" stroke-dasharray="1 12 1 125 2 457"/><path d="M301 108.5h139" stroke-dasharray="1 2 1 3 1 10 1 119 1 457"/><path d="M128 109.5h296" stroke-dasharray="1 175 1 1 1 11 2 1 1 1 1 97 1 1 1 457"/><path d="M317 110.5h114" stroke-dasharray="1 6 1 3 1 1 2 98 1 457"/><path d="M133 111.5h298" stroke-dasharray="1 6 1 189 1 5 1 92 2 457"/><path d="M157 112.5h179" stroke-dasharray="1 177 1 457"/><path d="M344 113.5h13" stroke-dasharray="1 1 1 2 2 5 1 457"/><path d="M150 116.5h3" stroke-dasharray="1 1 1 457"/><path d="M30 120.5h1"/></g><g stroke="#d0ed05"><path d="M239 85.5h17" stroke-dasharray="1 15 1 457"/><path d="M231 90.5h25" stroke-dasharray="1 3 1 3 1 15 1 457"/><path d="M239 91.5h11" stroke-dasharray="1 1 1 5 1 1 1 457"/><path d="M233 96.5h130" stroke-dasharray="1 1 1 78 1 47 1 457"/><path d="M455 98.5h1"/><path d="M450 99.5h1"/><path d="M200 100.5h256" stroke-dasharray="1 4 1 4 1 3 1 13 1 25 1 4 1 1 1 192 2 457"/><path d="M75 101.5h370" stroke-dasharray="1 12 2 3 2 1 1 106 1 15 1 11 1 7 1 17 1 5 1 1 1 177 2 457"/><path d="M60 102.5h394" stroke-dasharray="1 6 2 29 1 1 1 3 1 45 1 21 1 7 1 5 1 79 1 186 1 457"/><path d="M150 103.5h295" stroke-dasharray="1 122 1 5 1 4 3 17 1 41 1 90 2 5 1 457"/><path d="M109 104.5h337" stroke-dasharray="1 179 1 3 1 151 1 457"/><path d="M289 105.5h15" stroke-dasharray="1 1 1 6 3 2 1 457"/><path d="M116 106.5h315" stroke-dasharray="1 174 1 11 1 4 1 121 1 457"/><path d="M293 107.5h146" stroke-dasharray="3 16 1 113 1 11 1 457"/><path d="M123 108.5h308" stroke-dasharray="1 187 1 4 3 111 1 457"/><path d="M308 109.5h119" stroke-dasharray="1 4 2 111 1 457"/><path d="M316 110.5h110" stroke-dasharray="1 1 4 5 1 90 1 1 1 1 1 1 2 457"/><path d="M322 111.5h110" stroke-dasharray="1 9 2 1 1 3 1 91 1 457"/><path d="M343 112.5h2"/><path d="M348 113.5h4" stroke-dasharray="1 2 1 457"/><path d="M149 116.5h1"/></g><g stroke="#f0ee00"><path d="M243 85.5h3" stroke-dasharray="1 1 1 457"/><path d="M241 90.5h1"/><path d="M233 91.5h1"/><path d="M255 92.5h1"/><path d="M328 96.5h27" stroke-dasharray="1 25 1 457"/><path d="M451 99.5h1"/><path d="M204 100.5h243" stroke-dasharray="1 3 1 10 2 5 1 19 2 3 1 5 1 2 1 185 1 457"/><path d="M82 101.5h373" stroke-dasharray="1 2 1 4 1 1 1 4 1 97 1 15 1 10 1 23 1 195 1 8 1 2 1 457"/><path d="M29 102.5h424" stroke-dasharray="1 72 1 8 1 4 1 68 1 1 1 1 1 77 1 5 2 2 1 174 1 457"/><path d="M148 103.5h299" stroke-dasharray="1 125 1 5 1 2 1 24 1 9 1 5 1 13 1 107 1 457"/><path d="M106 104.5h329" stroke-dasharray="1 179 1 1 1 1 1 4 1 138 1 457"/><path d="M284 105.5h5" stroke-dasharray="1 3 1 457"/><path d="M295 106.5h146" stroke-dasharray="1 144 1 457"/><path d="M292 107.5h8" stroke-dasharray="1 4 3 457"/><path d="M295 108.5h131" stroke-dasharray="1 6 2 1 1 4 1 10 1 103 1 457"/><path d="M303 109.5h120" stroke-dasharray="1 8 1 2 2 8 1 96 1 457"/><path d="M326 110.5h104" stroke-dasharray="1 5 2 87 1 7 1 457"/><path d="M325 111.5h90" stroke-dasharray="1 1 1 1 1 83 2 457"/><path d="M342 112.5h67" stroke-dasharray="1 2 2 61 1 457"/><path d="M364 113.5h41" stroke-dasharray="1 39 1 457"/></g><g stroke="#f8d900"><path d="M243 84.5h1"/><path d="M235 85.5h7" stroke-dasharray="1 5 1 457"/><path d="M237 90.5h11" stroke-dasharray="1 9 1 457"/><path d="M243 96.5h3" stroke-dasharray="1 1 1 457"/><path d="M198 100.5h61" stroke-dasharray="1 4 1 29 1 19 1 4 1 457"/><path d="M91 101.5h366" stroke-dasharray="1 136 1 13 1 6 1 18 1 187 1 457"/><path d="M99 102.5h180" stroke-dasharray="1 88 1 74 1 6 1 1 1 5 1 457"/><path d="M271 103.5h1"/><path d="M276 104.5h172" stroke-dasharray="1 8 1 161 1 457"/><path d="M283 105.5h1"/><path d="M62 106.5h228" stroke-dasharray="1 226 1 457"/><path d="M296 107.5h132" stroke-dasharray="1 16 1 2 1 110 1 457"/><path d="M299 108.5h126" stroke-dasharray="2 12 1 6 1 103 1 457"/><path d="M307 109.5h14" stroke-dasharray="1 12 1 457"/><path d="M191 110.5h233" stroke-dasharray="1 119 1 2 1 14 1 4 1 88 1 457"/><path d="M72 111.5h362" stroke-dasharray="1 41 1 204 1 6 1 1 1 2 1 5 1 2 1 92 1 457"/><path d="M103 112.5h227" stroke-dasharray="1 225 1 457"/><path d="M70 113.5h333" stroke-dasharray="1 29 1 22 1 2 1 225 2 6 1 2 1 38 1 457"/><path d="M60 114.5h166" stroke-dasharray="1 17 1 11 1 10 1 123 1 457"/><path d="M86 115.5h349" stroke-dasharray="1 204 1 142 1 457"/><path d="M99 116.5h6" stroke-dasharray="1 4 1 457"/><path d="M53 117.5h69" stroke-dasharray="1 14 1 3 1 2 1 13 2 30 1 457"/><path d="M44 118.5h377" stroke-dasharray="1 25 2 7 1 12 1 28 1 8 1 289 1 457"/><path d="M78 119.5h30" stroke-dasharray="1 4 1 23 1 457"/><path d="M68 120.5h81" stroke-dasharray="1 2 1 60 1 9 1 5 1 457"/><path d="M40 121.5h109" stroke-dasharray="1 25 2 56 1 23 1 457"/><path d="M48 122.5h282" stroke-dasharray="1 29 1 11 1 13 1 57 1 48 1 117 1 457"/><path d="M22 123.5h73" stroke-dasharray="1 12 1 12 1 14 1 17 1 8 1 3 1 457"/><path d="M63 124.5h362" stroke-dasharray="2 31 1 11 1 315 1 457"/></g><g stroke="#ffc400"><path d="M454 98.5h1"/><path d="M212 100.5h12" stroke-dasharray="1 10 1 457"/><path d="M81 101.5h189" stroke-dasharray="1 182 1 4 1 457"/><path d="M184 102.5h93" stroke-dasharray="1 79 2 10 1 457"/><path d="M275 103.5h15" stroke-dasharray="1 13 1 457"/><path d="M241 104.5h43" stroke-dasharray="1 36 1 3 2 457"/><path d="M280 105.5h3"/><path d="M284 106.5h24" stroke-dasharray="2 21 1 457"/><path d="M251 107.5h21" stroke-dasharray="1 19 1 457"/><path d="M85 108.5h212" stroke-dasharray="1 210 1 457"/><path d="M66 109.5h240" stroke-dasharray="1 120 1 117 1 457"/><path d="M307 110.5h110" stroke-dasharray="1 7 1 6 2 92 1 457"/><path d="M66 111.5h269" stroke-dasharray="1 50 1 203 1 2 1 9 1 457"/><path d="M82 112.5h256" stroke-dasharray="1 1 1 3 1 154 1 86 1 2 2 2 1 457"/><path d="M88 113.5h272" stroke-dasharray="1 95 1 75 1 93 2 3 1 457"/><path d="M116 114.5h1"/><path d="M64 115.5h39" stroke-dasharray="1 36 2 457"/><path d="M64 116.5h381" stroke-dasharray="1 12 1 9 2 9 1 18 1 326 1 457"/><path d="M119 117.5h290" stroke-dasharray="1 288 1 457"/><path d="M2 118.5h186" stroke-dasharray="1 65 1 6 1 8 1 1 1 2 1 88 1 8 1 457"/><path d="M66 119.5h146" stroke-dasharray="1 19 1 5 2 33 1 83 1 457"/><path d="M58 120.5h67" stroke-dasharray="1 23 2 13 1 5 1 8 1 11 1 457"/><path d="M48 121.5h241" stroke-dasharray="2 32 1 8 1 12 1 7 1 175 1 457"/><path d="M35 122.5h345" stroke-dasharray="1 50 1 4 1 2 1 4 1 12 1 266 1 457"/><path d="M71 123.5h259" stroke-dasharray="1 27 1 22 1 88 1 117 1 457"/><path d="M66 124.5h37" stroke-dasharray="1 13 2 2 2 16 1 457"/></g><g stroke="#ffa300"><path d="M251 92.5h1"/><path d="M201 100.5h1"/><path d="M95 101.5h176" stroke-dasharray="1 174 1 457"/><path d="M268 102.5h12" stroke-dasharray="1 2 1 7 1 457"/><path d="M232 103.5h41" stroke-dasharray="1 39 1 457"/><path d="M275 104.5h3" stroke-dasharray="1 1 1 457"/><path d="M86 105.5h1"/><path d="M286 106.5h5" stroke-dasharray="1 1 1 1 1 457"/><path d="M82 107.5h26" stroke-dasharray="1 2 1 21 1 457"/><path d="M92 108.5h231" stroke-dasharray="1 178 1 25 2 23 1 457"/><path d="M300 109.5h29" stroke-dasharray="1 26 2 457"/><path d="M298 110.5h122" stroke-dasharray="1 11 1 1 1 106 1 457"/><path d="M323 111.5h1"/><path d="M271 112.5h139" stroke-dasharray="1 59 2 3 1 72 1 457"/><path d="M47 113.5h316" stroke-dasharray="1 14 1 20 1 31 1 18 1 223 1 2 2 457"/><path d="M70 114.5h115" stroke-dasharray="1 4 1 37 1 70 1 457"/><path d="M66 115.5h312" stroke-dasharray="1 23 1 35 1 250 1 457"/><path d="M53 116.5h151" stroke-dasharray="1 39 1 109 1 457"/><path d="M80 117.5h341" stroke-dasharray="3 8 1 3 1 9 1 8 1 2 1 59 1 242 1 457"/><path d="M88 118.5h281" stroke-dasharray="1 2 1 4 1 9 1 261 1 457"/><path d="M52 119.5h116" stroke-dasharray="1 4 2 17 2 16 1 21 1 37 1 12 1 457"/><path d="M57 120.5h262" stroke-dasharray="1 3 1 16 1 9 1 26 1 38 1 163 1 457"/><path d="M2 121.5h297" stroke-dasharray="1 47 1 28 1 6 1 9 1 10 1 190 1 457"/><path d="M32 122.5h114" stroke-dasharray="1 46 1 1 1 3 1 10 1 48 1 457"/><path d="M11 123.5h297" stroke-dasharray="1 65 1 8 1 22 1 7 1 24 1 154 1 9 1 457"/><path d="M53 124.5h76" stroke-dasharray="1 33 1 25 1 14 1 457"/></g><g stroke="#ff8200"><path d="M235 84.5h27" stroke-dasharray="1 25 1 457"/><path d="M247 85.5h1"/><path d="M257 90.5h1"/><path d="M255 100.5h1"/><path d="M266 101.5h2"/><path d="M269 102.5h1"/><path d="M85 103.5h186" stroke-dasharray="1 181 1 1 2 457"/><path d="M232 104.5h1"/><path d="M79 105.5h163" stroke-dasharray="1 161 1 457"/><path d="M107 106.5h1"/><path d="M289 107.5h3" stroke-dasharray="1 1 1 457"/><path d="M66 110.5h352" stroke-dasharray="1 50 1 69 1 120 1 108 1 457"/><path d="M191 111.5h222" stroke-dasharray="1 125 1 94 1 457"/><path d="M59 112.5h202" stroke-dasharray="1 50 1 4 1 7 1 124 1 11 1 457"/><path d="M49 113.5h309" stroke-dasharray="1 32 1 38 1 215 1 19 1 457"/><path d="M57 114.5h46" stroke-dasharray="2 4 1 38 1 457"/><path d="M55 115.5h293" stroke-dasharray="1 24 1 7 1 4 1 23 1 229 1 457"/><path d="M77 117.5h368" stroke-dasharray="1 15 1 350 1 457"/><path d="M39 118.5h139" stroke-dasharray="1 14 1 11 1 5 1 4 1 4 1 7 1 14 1 3 1 1 1 4 1 60 1 457"/><path d="M71 119.5h298" stroke-dasharray="1 7 1 11 1 56 1 219 1 457"/><path d="M2 120.5h166" stroke-dasharray="1 73 1 17 1 7 1 64 1 457"/><path d="M84 121.5h138" stroke-dasharray="1 2 1 6 2 7 1 51 1 65 1 457"/><path d="M40 122.5h258" stroke-dasharray="1 26 1 9 1 17 1 2 1 8 1 12 1 27 1 148 1 457"/><path d="M98 123.5h14" stroke-dasharray="1 3 1 5 1 2 1 457"/><path d="M86 124.5h34" stroke-dasharray="1 12 1 9 1 1 1 7 1 457"/></g><g stroke="#ff6000"><path d="M82 103.5h1"/><path d="M82 104.5h1"/><path d="M82 105.5h198" stroke-dasharray="1 196 1 457"/><path d="M290 107.5h1"/><path d="M75 108.5h8" stroke-dasharray="1 6 1 457"/><path d="M302 109.5h1"/><path d="M72 110.5h242" stroke-dasharray="1 240 1 457"/><path d="M59 111.5h353" stroke-dasharray="1 44 1 193 1 19 1 92 1 457"/><path d="M116 112.5h292" stroke-dasharray="2 210 1 78 1 457"/><path d="M84 113.5h322" stroke-dasharray="1 16 1 14 1 219 1 68 1 457"/><path d="M49 114.5h78" stroke-dasharray="1 30 1 3 1 41 1 457"/><path d="M78 115.5h148" stroke-dasharray="1 16 1 13 1 3 1 111 1 457"/><path d="M55 116.5h51" stroke-dasharray="1 30 1 18 1 457"/><path d="M44 117.5h72" stroke-dasharray="1 6 1 17 1 39 1 5 1 457"/><path d="M94 118.5h57" stroke-dasharray="1 55 1 457"/><path d="M68 119.5h65" stroke-dasharray="1 19 1 17 1 2 1 22 1 457"/><path d="M48 120.5h108" stroke-dasharray="2 36 2 3 1 63 1 457"/><path d="M61 121.5h85" stroke-dasharray="1 83 1 457"/><path d="M61 122.5h74" stroke-dasharray="1 47 1 24 1 457"/><path d="M53 123.5h372" stroke-dasharray="1 10 1 2 1 17 1 1 1 3 1 4 1 23 1 106 1 151 1 44 1 457"/><path d="M88 124.5h196" stroke-dasharray="1 2 1 13 1 11 1 25 1 139 1 457"/></g><g stroke="#ff3e00"><path d="M268 103.5h1"/><path d="M309 110.5h1"/><path d="M320 111.5h1"/></g><g stroke="#fc2000"><path d="M68 103.5h387" stroke-dasharray="1 12 1 108 1 51 1 211 1 457"/><path d="M84 104.5h368" stroke-dasharray="1 12 1 100 1 35 1 12 1 9 1 193 1 457"/><path d="M68 105.5h382" stroke-dasharray="1 7 1 6 1 17 1 1 2 104 1 58 1 3 1 176 1 457"/><path d="M0 106.5h452" stroke-dasharray="1 71 1 5 2 7 1 1 1 12 1 84 1 1 1 4 1 14 1 53 1 5 1 6 1 1 1 167 1 4 1 457"/><path d="M69 107.5h379" stroke-dasharray="1 3 1 4 1 4 1 20 1 74 2 3 1 2 1 8 1 31 1 38 1 5 1 3 1 3 1 165 1 457"/><path d="M90 108.5h363" stroke-dasharray="1 4 1 14 1 66 1 4 2 34 2 1 1 9 1 13 1 8 2 4 1 2 1 181 1 1 1 4 1 457"/><path d="M80 109.5h374" stroke-dasharray="1 2 1 8 1 91 1 6 1 6 1 2 1 5 1 11 1 11 1 3 1 1 1 2 3 6 1 6 1 21 2 21 1 151 1 457"/><path d="M1 110.5h300" stroke-dasharray="1 49 1 3 1 15 1 18 1 12 3 2 1 97 1 26 1 8 1 28 1 18 1 1 1 7 1 457"/><path d="M64 111.5h231" stroke-dasharray="1 6 1 1 2 23 1 26 1 46 1 3 1 29 1 2 1 17 1 20 1 45 1 457"/><path d="M1 112.5h449" stroke-dasharray="1 52 1 25 1 12 1 34 1 31 1 4 1 28 1 19 1 5 1 7 1 12 1 2 1 2 1 3 1 1 1 27 1 4 1 150 1 11 1 457"/><path d="M71 113.5h385" stroke-dasharray="1 13 1 6 1 4 2 4 1 2 2 57 1 2 1 1 2 1 1 2 1 32 1 17 1 23 1 32 1 13 1 24 1 2 1 87 2 7 1 13 1 7 1 8 2 457"/><path d="M48 114.5h404" stroke-dasharray="1 72 1 66 1 25 2 8 1 8 1 16 1 17 1 1 3 21 1 5 1 12 2 5 1 3 1 9 1 79 1 6 2 6 1 7 1 10 1 2 1 457"/><path d="M46 115.5h388" stroke-dasharray="1 5 1 28 1 1 1 36 1 45 2 2 1 3 1 2 1 3 1 3 1 4 1 10 1 10 1 7 1 5 1 14 1 7 1 7 1 2 1 14 2 24 1 12 1 7 1 15 2 13 1 2 1 19 1 3 1 44 1 7 1 457"/><path d="M0 116.5h456" stroke-dasharray="1 48 1 2 1 10 1 17 1 31 1 10 1 5 1 26 1 8 1 35 1 1 1 46 1 3 1 5 1 31 1 30 1 1 1 17 1 3 1 3 1 7 1 2 1 7 1 35 1 13 1 16 1 1 1 14 1 457"/><path d="M1 117.5h453" stroke-dasharray="1 71 1 30 1 11 1 16 1 49 2 5 2 36 1 11 1 6 1 14 2 28 1 15 1 5 1 16 1 8 2 20 1 27 1 24 1 15 1 1 1 2 1 11 1 2 1 1 1 457"/><path d="M40 118.5h411" stroke-dasharray="1 1 1 10 1 4 2 14 1 10 1 1 1 13 1 18 1 1 1 11 1 6 1 1 1 20 1 9 1 14 1 31 1 34 1 25 1 25 1 11 1 1 1 9 1 8 1 20 1 39 1 4 1 3 1 7 1 1 1 1 1 23 1 2 1 457"/><path d="M37 119.5h418" stroke-dasharray="1 1 2 19 1 4 1 24 1 12 1 26 1 19 1 10 2 1 3 70 1 17 1 4 1 21 1 18 1 5 1 13 1 26 1 6 1 23 1 30 1 29 1 10 1 2 1 457"/><path d="M36 120.5h416" stroke-dasharray="1 19 1 59 1 8 1 1 1 5 1 27 1 3 1 4 1 6 1 1 2 25 1 4 1 64 1 3 1 33 1 2 1 7 1 15 1 9 1 16 1 11 1 25 1 20 1 16 1 6 1 457"/><path d="M33 121.5h416" stroke-dasharray="1 4 1 21 1 1 1 45 1 26 1 81 1 11 1 8 2 8 1 9 1 10 1 14 1 14 1 4 1 6 1 7 1 13 1 11 1 16 1 7 1 2 1 1 1 21 1 14 2 13 2 4 1 13 2 457"/><path d="M1 122.5h456" stroke-dasharray="1 48 1 51 1 13 1 1 1 34 1 16 1 11 1 1 1 9 1 24 1 1 1 1 2 12 1 25 1 17 1 7 1 10 1 13 1 13 1 6 1 36 2 34 1 2 1 9 1 1 1 2 1 9 1 9 1 4 1 4 1 457"/><path d="M52 123.5h401" stroke-dasharray="1 29 1 75 2 10 1 13 1 11 1 4 1 3 1 43 1 20 1 25 1 8 1 5 1 3 1 7 1 8 1 2 1 3 1 5 1 5 1 38 1 4 1 7 1 10 1 1 1 14 2 8 1 7 1 2 1 457"/><path d="M0 124.5h413" stroke-dasharray="1 5 1 29 1 1 1 4 1 27 1 21 1 4 1 39 1 9 1 6 1 3 1 1 1 25 1 15 1 12 1 4 1 13 1 16 1 7 1 13 2 17 1 4 1 4 1 1 1 21 1 16 1 3 1 45 1 14 1 2 1 457"/></g><g stroke="#fa0200"><path d="M274 104.5h1"/><path d="M327 112.5h1"/></g></g></g><path d="M289.0,132.0C292.8,134.5 304.3,143.6 312.0,147.0C319.7,150.4 327.3,153.0 335.0,152.7C342.7,152.4 351.2,148.1 358.0,145.0C364.8,141.9 369.3,137.7 376.0,134.0C382.7,130.3 394.3,124.8 398.0,123.0 M412.0,126.0C414.3,126.8 420.7,128.8 425.6,131.0C430.6,133.2 436.1,138.7 441.7,139.0C447.3,139.3 454.3,134.5 459.0,132.7C463.7,130.9 468.2,128.8 470.0,128.0 M495.6,137.5C500.0,140.9 512.4,152.8 522.0,158.0C531.6,163.2 543.4,168.8 553.4,168.8C563.4,168.8 572.9,162.7 582.0,158.0C591.1,153.3 597.2,145.2 608.0,140.7C618.8,136.2 636.5,130.8 646.5,131.0C656.5,131.2 660.4,136.9 668.0,142.0C675.6,147.1 684.3,160.7 692.0,161.5C699.7,162.3 707.0,151.6 714.0,147.0C721.0,142.4 727.7,136.6 734.0,134.0C740.3,131.4 744.7,129.3 752.0,131.5C759.3,133.7 769.7,142.0 778.0,147.0C786.3,152.0 794.3,161.2 801.6,161.5C808.9,161.8 815.3,153.5 822.0,149.0C828.7,144.5 833.7,134.5 841.7,134.3C849.7,134.1 860.0,143.5 870.0,148.0C880.0,152.5 892.8,161.3 902.0,161.5C911.2,161.7 917.5,153.6 925.0,149.0C932.5,144.4 938.7,137.7 947.0,134.0C955.3,130.3 970.3,128.2 975.0,127.0 M505.9,121.0C509.9,123.8 522.1,133.0 530.0,138.0C537.9,143.0 544.2,150.5 553.4,151.0C562.6,151.5 574.9,145.0 585.0,141.0C595.1,137.0 604.8,130.2 614.0,127.0C623.2,123.8 635.7,122.8 640.0,122.0" fill="none" stroke="#1a3f7a" stroke-width="0.9" stroke-dasharray="3 2" opacity="0.6"/><path d="M683,64 L686,66.5 L700,67.5 L720.7,68.8 L700,71 L692,80.9 L707.8,82.5 L740,86.5 L724,88 L705,92 L684,97 L676,102.6 L672.5,106.6 L675.7,111.4 L682,116.2 L670.7,123.7 L672.5,138.3 L674.4,153 L679,164 L680,170 L676,180 L672.5,186 L671,204.4 L668,220 L665.8,238.8 L668,252 L672.7,263 L683,276.7 L691.6,288.8 L700,292" fill="none" stroke="#111" stroke-width="1.1" stroke-dasharray="1.3 1.1"/><path d="M690,68.8H720.7M708,86H740M705,88.5H745M706,91H738M684,97H715.8M676,102.6H712.6M676,111H698M679,170H720.2M679,173H712M680,180H703.7M672,192.5H696.4M671,210H690M667,232H686M668,250H688M690,292.2H801.8M700,300.8H824.2M712,297H790M695,295H760M705,299H770M690,289.5H740" fill="none" stroke="#111" stroke-width="1" stroke-dasharray="1.6 1.4"/><path d="M275.7,283L293,313.2" stroke="#d8e820" stroke-width="1.6" stroke-dasharray="2 1.5" opacity="0.85"/><path d="M676.4,118.0H682.9M669.9,121.2H682.0M668.4,124.4H678.9M668.0,127.6H678.4M666.9,130.8H677.5M668.9,134.0H681.6M667.4,137.2H674.8M667.9,140.4H679.8M670.0,143.6H683.6M670.9,146.8H682.8M672.4,150.0H682.0M671.1,153.2H684.8M670.0,156.4H684.4M673.9,159.6H680.3M677.4,162.8H681.8M674.6,166.0H686.5M676.0,169.2H689.7M676.0,172.4H681.8M675.1,175.6H686.6M674.1,178.8H684.8M673.5,182.0H685.3M667.7,185.2H676.7M670.8,188.4H682.4M669.1,191.6H675.0M670.4,194.8H679.5M668.9,198.0H681.7M669.2,201.2H682.1M668.1,204.4H680.5M664.8,207.6H674.8M664.9,210.8H677.4M663.9,214.0H671.6M667.4,217.2H673.7M662.1,220.4H672.7M662.0,223.6H676.5M664.6,226.8H677.1M664.9,230.0H675.8M664.9,233.2H674.7M662.9,236.4H673.4M664.7,239.6H674.3M665.1,242.8H672.4M663.4,246.0H675.2M665.2,249.2H672.3M663.9,252.4H675.4M664.4,255.6H675.5M665.5,258.8H677.1M668.9,262.0H675.0M670.9,265.2H682.8M672.5,268.4H681.8M675.9,271.6H684.3M680.5,274.8H687.8M679.4,278.0H691.7M685.1,281.2H696.1M684.8,284.4H696.9M685.3,287.6H698.5" fill="none" stroke="#111" stroke-width="0.8" stroke-dasharray="1.2 1.3" opacity="0.9"/><path d="M680.5,62 l6,4 m-6,0 l6,-4" stroke="#111" stroke-width="1"/></g><path d="M85.2,55V381.2 M84.3,380.3H1274 M76.7,55.6H85.2 M80.7,80.7H85.2 M76.7,105.8H85.2 M80.7,130.9H85.2 M76.7,156.1H85.2 M80.7,181.2H85.2 M76.7,206.3H85.2 M80.7,231.4H85.2 M76.7,256.5H85.2 M80.7,281.6H85.2 M76.7,306.8H85.2 M80.7,331.9H85.2 M76.7,357.0H85.2 M85.3,380V388.2 M279.9,380V388.2 M474.5,380V388.2 M669.1,380V388.2 M863.7,380V388.2 M1058.3,380V388.2 M1252.9,380V388.2" stroke="#111" stroke-width="1.9" fill="none"/><path d="M1274.6,56V380" stroke="#9a9a9a" stroke-width="1.2"/><path d="M622.7,53.8H849.4 M622.7,54.5V48.1 M660.5,54.5V51.2 M698.3,54.5V48.1 M736.0,54.5V51.2 M773.8,54.5V48.1 M811.6,54.5V51.2 M849.4,54.5V48.1" stroke="#222" stroke-width="1.4" fill="none"/><rect x="1306" y="56.1" width="6.3" height="325.4" fill="url(#cb)"/><g filter="url(#gs)"><text transform="matrix(1.0444 0 0 0.9429 59.38 63.43)" font-family="Liberation Serif" font-size="20" stroke="#000" stroke-width="0.5">0</text><text transform="matrix(1.0365 0 0 0.9857 38.82 110.31)" font-family="Liberation Serif" font-size="20" stroke="#000" stroke-width="0.5">200</text><text transform="matrix(1.0393 0 0 0.9357 38.44 160.53)" font-family="Liberation Serif" font-size="20" stroke="#000" stroke-width="0.5">400</text><text transform="matrix(1.0241 0 0 0.9643 39.09 210.62)" font-family="Liberation Serif" font-size="20" stroke="#000" stroke-width="0.5">600</text><text transform="matrix(1.0034 0 0 0.9643 40.00 260.62)" font-family="Liberation Serif" font-size="20" stroke="#000" stroke-width="0.5">800</text><text transform="matrix(1.0079 0 0 0.9429 29.49 310.53)" font-family="Liberation Serif" font-size="20" stroke="#000" stroke-width="0.5">1000</text><text transform="matrix(1.0026 0 0 0.9429 30.10 360.33)" font-family="Liberation Serif" font-size="20" stroke="#000" stroke-width="0.5">1200</text><text transform="matrix(1.0778 0 0 0.9571 79.26 408.82)" font-family="Liberation Serif" font-size="20" stroke="#000" stroke-width="0.5">0</text><text transform="matrix(1.0118 0 0 0.9455 274.59 408.33)" font-family="Liberation Serif" font-size="20" stroke="#000" stroke-width="0.5">5</text><text transform="matrix(1.0000 0 0 0.9643 463.80 408.32)" font-family="Liberation Serif" font-size="20" stroke="#000" stroke-width="0.5">10</text><text transform="matrix(1.0333 0 0 0.9643 659.05 408.32)" font-family="Liberation Serif" font-size="20" stroke="#000" stroke-width="0.5">15</text><text transform="matrix(1.0133 0 0 0.9643 853.54 408.32)" font-family="Liberation Serif" font-size="20" stroke="#000" stroke-width="0.5">20</text><text transform="matrix(0.9867 0 0 0.9643 1047.66 408.32)" font-family="Liberation Serif" font-size="20" stroke="#000" stroke-width="0.5">25</text><text transform="matrix(1.0293 0 0 0.9571 1241.93 408.52)" font-family="Liberation Serif" font-size="20" stroke="#000" stroke-width="0.5">30</text><text transform="matrix(1.0526 0 0 0.9561 617.57 429.92)" font-family="Liberation Serif" font-size="22" stroke="#000" stroke-width="0.5">Distance(Km)</text><text transform="matrix(0 -1.0576 1.0049 0 16.98 253.53)" font-family="Liberation Serif" font-size="22" stroke="#000" stroke-width="0.5">Depth(m)</text><text transform="matrix(1.0992 0 0 0.9600 691.60 16.10)" font-family="Liberation Serif" font-size="21" stroke="#000" stroke-width="0.6">SSC(mg/l)</text><text transform="matrix(1.0000 0 0 0.9923 618.00 42.55)" font-family="Liberation Serif" font-size="19" stroke="#000" stroke-width="0.4">0</text><text transform="matrix(1.0574 0 0 0.9736 681.67 42.31)" font-family="Liberation Serif" font-size="19" stroke="#000" stroke-width="0.4">0.05</text><text transform="matrix(1.0562 0 0 0.9736 758.97 42.31)" font-family="Liberation Serif" font-size="19" stroke="#000" stroke-width="0.4">0.1</text><text transform="matrix(1.0264 0 0 0.9736 828.19 42.31)" font-family="Liberation Serif" font-size="19" stroke="#000" stroke-width="0.4">0.15</text><text transform="matrix(1.0944 0 0 0.8417 1303.13 42.98)" font-family="Liberation Serif" font-size="16" stroke="#000" stroke-width="0.7">dB</text><text transform="matrix(1.0092 0 0 0.9447 1323.10 63.13)" font-family="Liberation Serif" font-size="16.5" stroke="#000" stroke-width="0.7">40</text><text transform="matrix(1.0921 0 0 0.9957 1322.15 104.70)" font-family="Liberation Serif" font-size="16.5" stroke="#000" stroke-width="0.7">30</text><text transform="matrix(1.0794 0 0 0.9957 1322.16 139.80)" font-family="Liberation Serif" font-size="16.5" stroke="#000" stroke-width="0.7">20</text><text transform="matrix(1.0361 0 0 0.9362 1321.86 181.53)" font-family="Liberation Serif" font-size="16.5" stroke="#000" stroke-width="0.7">10</text><text transform="matrix(1.0710 0 0 0.9362 1327.43 221.03)" font-family="Liberation Serif" font-size="16.5" stroke="#000" stroke-width="0.7">0</text><text transform="matrix(0.9581 0 0 0.9447 1321.26 258.93)" font-family="Liberation Serif" font-size="16.5" stroke="#000" stroke-width="0.7">-10</text><text transform="matrix(0.9907 0 0 0.9362 1321.25 302.23)" font-family="Liberation Serif" font-size="16.5" stroke="#000" stroke-width="0.7">-20</text><text transform="matrix(0.9907 0 0 0.9957 1321.95 341.70)" font-family="Liberation Serif" font-size="16.5" stroke="#000" stroke-width="0.7">-30</text><text transform="matrix(1.0047 0 0 0.9787 1322.15 385.21)" font-family="Liberation Serif" font-size="16.5" stroke="#000" stroke-width="0.7">-40</text><text transform="matrix(1.0242 0 0 0.9813 402.13 95.45)" font-family="Liberation Serif" font-size="24">ISWs</text><text transform="matrix(0.9960 0 0 1.0032 765.65 223.70)" font-family="Liberation Serif" font-size="24">INL</text><text transform="matrix(1.0164 0 0 0.9841 853.54 266.80)" font-family="Liberation Serif" font-size="24">BNL</text><text transform="matrix(1.0400 0 0 0.9851 198.74 303.85)" font-family="Liberation Serif" font-size="24">Seabed</text></g><path d="M459.9,99.7L494.4,133.5M479.2,130.2L494.4,133.5L490.4,119 M749.4,203L704.6,180.2M720.2,180.2L704.6,180.2L713.4,193.3 M838.8,263.4L791.8,284.7M801.9,273L791.8,284.7L807.9,286.1 M274.2,308.9L296.6,333M281.9,328.2L296.6,333L292.5,318.5" stroke="#000" stroke-width="2" fill="none"/></svg></body></html>
